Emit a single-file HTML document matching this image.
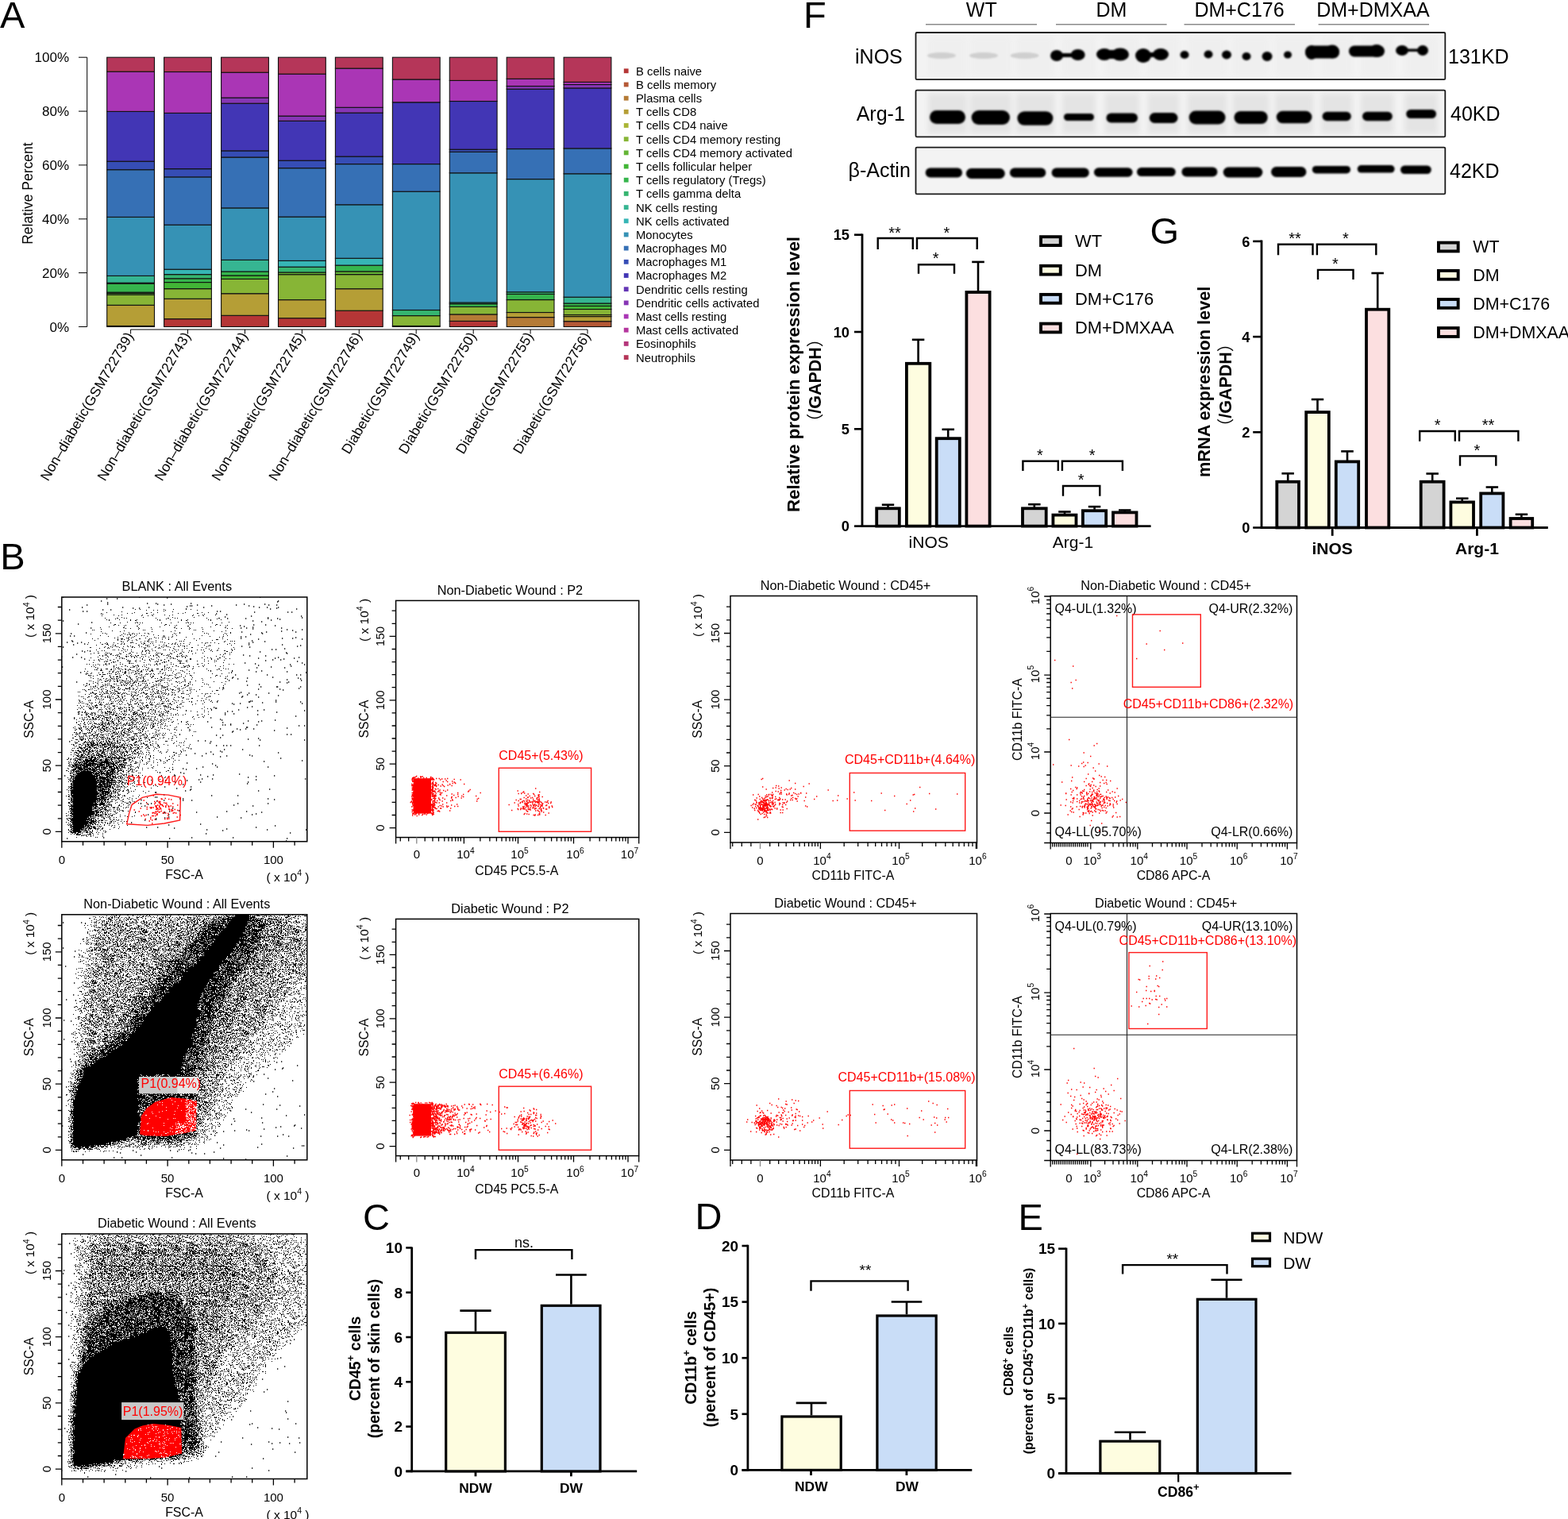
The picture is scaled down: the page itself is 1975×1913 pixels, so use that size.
<!DOCTYPE html>
<html><head><meta charset="utf-8"><title>Figure</title><style>html,body{margin:0;padding:0;background:#fff;}svg{display:block;font-family:"Liberation Sans",Arial,"Noto Sans CJK SC",sans-serif;}</style></head><body><svg width="1975" height="1913" viewBox="0 0 1975 1913"><defs><filter id="bl" x="-20%" y="-50%" width="140%" height="200%"><feGaussianBlur stdDeviation="1.3"/></filter><filter id="bl2" x="-20%" y="-50%" width="140%" height="200%"><feGaussianBlur stdDeviation="3"/></filter><clipPath id="c752"><rect x="77.8" y="752" width="309" height="307.8"/></clipPath><pattern id="p0" width="64" height="64" patternUnits="userSpaceOnUse"><path d="M6 0h1v1h-1zM1 0h1v1h-1zM56 0h1v1h-1zM16 0h1v1h-1zM14 1h1v1h-1zM25 2h1v1h-1zM41 3h1v1h-1zM6 3h1v1h-1zM62 3h1v1h-1zM38 4h1v1h-1zM56 4h2v1h-2zM32 4h1v1h-1zM1 5h1v1h-1zM63 6h1v1h-1zM25 6h1v1h-1zM15 6h1v1h-1zM51 6h1v1h-1zM0 7h1v1h-1zM58 7h1v1h-1zM50 7h1v1h-1zM21 7h1v1h-1zM52 9h1v1h-1zM25 9h1v1h-1zM31 10h1v1h-1zM19 10h2v1h-2zM28 10h1v1h-1zM4 10h1v1h-1zM17 11h1v1h-1zM44 12h1v1h-1zM22 12h1v1h-1zM6 12h1v1h-1zM36 12h1v2h-1zM9 12h1v2h-1zM42 13h2v1h-2zM44 15h1v1h-1zM32 15h1v1h-1zM11 16h1v1h-1zM23 16h1v1h-1zM45 16h1v1h-1zM48 16h1v1h-1zM51 16h1v1h-1zM42 16h1v1h-1zM16 18h2v1h-2zM47 18h1v1h-1zM15 19h1v1h-1zM21 19h1v1h-1zM30 19h1v1h-1zM28 20h1v1h-1zM44 20h2v1h-2zM9 21h1v1h-1zM27 22h2v1h-2zM62 22h1v1h-1zM46 22h1v1h-1zM36 23h1v1h-1zM47 23h1v1h-1zM30 23h1v1h-1zM63 24h1v1h-1zM46 24h1v1h-1zM52 25h1v1h-1zM54 25h1v1h-1zM28 26h1v1h-1zM13 26h1v1h-1zM63 27h1v1h-1zM23 27h1v1h-1zM34 28h1v2h-1zM1 29h1v1h-1zM4 29h1v1h-1zM27 29h1v1h-1zM6 30h1v1h-1zM50 30h1v1h-1zM29 30h1v1h-1zM25 31h1v1h-1zM62 32h1v1h-1zM30 32h1v1h-1zM25 33h1v1h-1zM8 33h1v1h-1zM20 34h1v1h-1zM42 34h1v1h-1zM24 34h1v1h-1zM52 36h1v1h-1zM24 36h1v1h-1zM59 36h1v1h-1zM16 37h3v1h-3zM40 37h1v1h-1zM30 37h1v1h-1zM11 38h1v1h-1zM55 38h1v1h-1zM36 39h1v1h-1zM39 39h1v1h-1zM34 39h1v1h-1zM27 39h1v1h-1zM26 40h1v1h-1zM47 41h1v1h-1zM3 41h1v1h-1zM14 41h1v1h-1zM5 41h1v1h-1zM9 41h1v1h-1zM62 41h1v1h-1zM33 42h1v1h-1zM39 42h1v1h-1zM2 42h1v1h-1zM19 42h1v1h-1zM46 43h1v1h-1zM30 43h1v1h-1zM57 44h1v1h-1zM1 44h1v1h-1zM35 44h1v1h-1zM8 44h1v2h-1zM6 45h1v1h-1zM43 45h1v1h-1zM4 46h1v1h-1zM38 47h1v1h-1zM49 47h2v1h-2zM62 47h1v1h-1zM3 48h1v1h-1zM19 48h1v1h-1zM41 49h1v1h-1zM39 49h1v1h-1zM7 49h1v1h-1zM35 49h1v1h-1zM0 50h1v1h-1zM61 50h1v1h-1zM56 50h1v1h-1zM18 50h1v1h-1zM10 50h1v1h-1zM36 50h1v2h-1zM17 51h1v1h-1zM46 51h1v1h-1zM41 51h1v1h-1zM9 51h1v1h-1zM26 51h2v1h-2zM49 51h1v2h-1zM11 52h1v1h-1zM1 52h1v1h-1zM29 52h2v1h-2zM35 53h1v1h-1zM33 54h1v1h-1zM63 54h1v1h-1zM54 54h1v1h-1zM27 54h1v2h-1zM50 55h1v1h-1zM33 56h1v1h-1zM25 56h1v1h-1zM21 56h1v1h-1zM1 58h1v1h-1zM24 58h1v1h-1zM16 58h1v1h-1zM26 59h1v1h-1zM9 60h1v1h-1zM20 60h2v1h-2zM5 60h1v1h-1zM62 60h1v1h-1zM33 61h1v1h-1zM28 61h1v1h-1zM10 61h1v2h-1zM18 61h1v2h-1zM1 62h1v1h-1zM42 62h1v2h-1zM14 63h1v1h-1zM26 63h1v1h-1zM48 63h1v1h-1z" fill="#000"/></pattern><pattern id="p1" width="64" height="64" patternUnits="userSpaceOnUse"><path d="M15 0h1v1h-1zM56 0h1v1h-1zM19 0h1v1h-1zM57 1h1v1h-1zM63 1h1v1h-1zM0 1h2v1h-2zM37 1h1v1h-1zM31 2h1v1h-1zM43 2h1v1h-1zM56 2h1v1h-1zM13 2h1v1h-1zM35 3h1v1h-1zM43 3h2v1h-2zM19 3h2v1h-2zM62 3h1v1h-1zM29 3h1v2h-1zM45 4h1v1h-1zM60 4h1v1h-1zM1 4h1v1h-1zM48 4h2v1h-2zM17 5h1v1h-1zM22 5h1v1h-1zM11 5h1v2h-1zM13 6h1v1h-1zM62 6h1v1h-1zM20 6h1v2h-1zM51 7h1v1h-1zM40 7h1v1h-1zM37 7h2v1h-2zM59 8h1v1h-1zM12 8h1v1h-1zM34 8h1v1h-1zM2 8h1v1h-1zM25 8h1v1h-1zM21 8h1v1h-1zM16 8h1v1h-1zM51 9h1v1h-1zM2 9h2v1h-2zM50 10h1v1h-1zM48 10h1v1h-1zM32 10h1v1h-1zM43 10h1v1h-1zM41 10h1v1h-1zM24 10h1v1h-1zM59 10h1v1h-1zM62 10h1v1h-1zM12 11h1v1h-1zM40 11h1v1h-1zM19 11h1v1h-1zM47 11h1v2h-1zM61 12h1v1h-1zM26 12h1v1h-1zM35 12h1v1h-1zM41 12h1v1h-1zM14 12h1v2h-1zM48 13h1v1h-1zM24 13h2v1h-2zM42 13h1v1h-1zM54 13h1v1h-1zM32 13h1v2h-1zM53 14h1v1h-1zM2 14h1v1h-1zM30 14h1v1h-1zM58 14h2v1h-2zM21 14h1v1h-1zM16 14h1v1h-1zM57 15h1v1h-1zM6 15h1v1h-1zM45 15h1v1h-1zM52 15h1v1h-1zM61 16h1v1h-1zM34 16h1v1h-1zM7 16h1v1h-1zM2 16h1v1h-1zM15 16h1v1h-1zM44 16h1v2h-1zM10 16h1v2h-1zM13 17h1v1h-1zM22 17h1v1h-1zM63 17h1v1h-1zM59 17h1v1h-1zM28 18h1v1h-1zM1 19h1v1h-1zM47 19h2v1h-2zM37 19h1v1h-1zM30 19h1v1h-1zM33 20h1v1h-1zM31 20h1v1h-1zM10 20h1v1h-1zM26 20h1v1h-1zM30 21h2v1h-2zM50 21h1v1h-1zM1 22h1v1h-1zM19 22h1v1h-1zM49 23h1v1h-1zM45 23h1v1h-1zM21 23h1v1h-1zM24 23h1v2h-1zM30 23h1v2h-1zM11 24h2v1h-2zM61 24h1v1h-1zM0 25h1v1h-1zM54 25h1v1h-1zM46 25h1v1h-1zM39 26h1v1h-1zM46 26h2v1h-2zM9 26h1v1h-1zM21 26h1v1h-1zM55 26h1v2h-1zM6 27h2v1h-2zM47 27h1v1h-1zM34 27h1v1h-1zM45 27h1v1h-1zM16 27h1v1h-1zM3 28h1v1h-1zM38 28h1v1h-1zM22 28h1v1h-1zM58 28h1v2h-1zM17 29h1v1h-1zM47 29h1v1h-1zM39 29h1v1h-1zM15 29h1v1h-1zM54 29h1v1h-1zM38 30h1v1h-1zM44 30h1v1h-1zM13 30h1v1h-1zM41 30h1v1h-1zM34 30h2v1h-2zM59 30h1v1h-1zM36 31h1v1h-1zM1 31h1v1h-1zM18 31h1v1h-1zM32 31h1v1h-1zM57 32h1v1h-1zM23 32h1v1h-1zM7 32h1v1h-1zM14 32h1v1h-1zM4 32h1v1h-1zM62 32h1v1h-1zM0 33h1v1h-1zM13 33h1v1h-1zM27 33h1v1h-1zM51 33h2v1h-2zM15 33h1v1h-1zM46 33h1v2h-1zM34 34h1v1h-1zM48 34h1v1h-1zM43 34h1v1h-1zM14 34h1v1h-1zM53 34h2v1h-2zM51 35h1v1h-1zM16 35h1v1h-1zM49 36h1v1h-1zM26 36h1v1h-1zM40 36h1v1h-1zM2 36h1v1h-1zM42 36h1v1h-1zM37 36h1v1h-1zM47 36h1v2h-1zM20 36h1v2h-1zM44 37h1v1h-1zM59 37h1v2h-1zM63 38h1v1h-1zM54 38h1v1h-1zM60 39h1v1h-1zM53 39h1v1h-1zM48 39h1v1h-1zM63 40h1v1h-1zM23 41h1v1h-1zM26 41h1v1h-1zM29 41h1v1h-1zM48 41h1v1h-1zM6 41h1v1h-1zM55 41h1v1h-1zM45 42h1v1h-1zM7 42h1v1h-1zM35 42h1v1h-1zM4 42h1v1h-1zM21 42h1v1h-1zM62 42h1v1h-1zM17 43h1v1h-1zM6 43h2v1h-2zM24 43h1v1h-1zM0 43h2v1h-2zM31 43h1v2h-1zM46 44h2v1h-2zM35 44h1v1h-1zM13 44h1v1h-1zM38 45h1v1h-1zM49 45h1v1h-1zM57 45h1v1h-1zM3 45h1v1h-1zM15 45h1v1h-1zM9 45h1v1h-1zM40 45h1v2h-1zM51 46h1v1h-1zM34 46h1v1h-1zM5 46h1v1h-1zM49 47h1v1h-1zM26 47h1v1h-1zM29 47h1v1h-1zM2 47h1v1h-1zM32 47h1v1h-1zM56 47h1v1h-1zM50 48h1v1h-1zM45 48h1v1h-1zM40 48h1v1h-1zM43 48h1v1h-1zM61 48h1v1h-1zM1 49h1v1h-1zM12 49h1v1h-1zM35 49h1v1h-1zM46 49h1v1h-1zM57 50h1v1h-1zM49 50h1v1h-1zM34 50h1v1h-1zM8 50h1v1h-1zM22 50h1v1h-1zM11 51h1v1h-1zM52 51h1v1h-1zM15 51h1v1h-1zM31 51h2v1h-2zM39 51h1v2h-1zM33 52h1v1h-1zM6 52h1v1h-1zM24 52h2v1h-2zM4 52h1v1h-1zM59 52h1v1h-1zM36 53h1v1h-1zM23 53h1v1h-1zM45 53h1v1h-1zM27 53h1v1h-1zM25 54h1v1h-1zM47 54h1v1h-1zM18 54h1v1h-1zM1 55h1v1h-1zM15 55h1v1h-1zM5 55h1v1h-1zM59 55h1v1h-1zM47 56h1v1h-1zM50 56h1v1h-1zM43 56h1v1h-1zM13 56h1v1h-1zM31 56h1v1h-1zM61 55h1v3h-1zM38 57h1v1h-1zM30 57h1v1h-1zM27 57h1v1h-1zM0 57h2v1h-2zM25 57h1v1h-1zM0 58h1v1h-1zM58 59h1v1h-1zM26 59h1v1h-1zM40 59h1v1h-1zM35 59h1v1h-1zM14 59h1v1h-1zM4 59h1v1h-1zM60 59h1v2h-1zM50 60h1v1h-1zM18 60h1v1h-1zM56 60h1v1h-1zM63 60h1v1h-1zM17 61h1v1h-1zM23 61h1v1h-1zM27 61h1v1h-1zM47 61h2v2h-2zM60 62h1v1h-1zM42 62h1v1h-1zM53 62h1v1h-1zM58 63h1v1h-1zM12 63h1v1h-1zM45 63h1v1h-1zM43 63h1v1h-1z" fill="#000"/></pattern><pattern id="p2" width="64" height="64" patternUnits="userSpaceOnUse"><path d="M61 0h1v1h-1zM7 0h1v1h-1zM48 0h1v1h-1zM32 0h1v1h-1zM20 0h1v1h-1zM5 0h1v1h-1zM34 0h3v1h-3zM42 0h1v1h-1zM17 1h1v1h-1zM34 1h1v1h-1zM43 1h1v1h-1zM3 1h1v1h-1zM6 1h1v1h-1zM14 1h2v1h-2zM23 2h1v1h-1zM12 2h1v1h-1zM53 2h1v1h-1zM35 2h1v1h-1zM15 2h1v1h-1zM39 3h1v1h-1zM5 3h1v1h-1zM34 3h2v1h-2zM37 3h1v1h-1zM9 3h1v2h-1zM23 4h1v1h-1zM26 4h1v1h-1zM4 4h2v1h-2zM59 4h1v1h-1zM61 5h1v1h-1zM45 5h1v1h-1zM18 5h1v1h-1zM2 5h1v1h-1zM53 5h1v1h-1zM56 5h1v1h-1zM6 5h1v1h-1zM44 6h1v1h-1zM39 6h1v1h-1zM29 6h2v1h-2zM42 6h1v1h-1zM46 6h1v2h-1zM32 7h1v1h-1zM51 7h1v1h-1zM40 7h2v1h-2zM25 7h1v1h-1zM54 7h1v1h-1zM15 6h1v3h-1zM38 8h1v1h-1zM44 8h1v1h-1zM18 8h1v1h-1zM40 8h1v1h-1zM56 8h1v1h-1zM36 8h1v1h-1zM21 8h1v1h-1zM20 9h1v1h-1zM58 9h2v1h-2zM17 10h1v1h-1zM23 10h1v1h-1zM12 10h1v1h-1zM15 10h1v1h-1zM5 10h3v1h-3zM63 10h1v2h-1zM29 11h1v1h-1zM43 11h1v1h-1zM55 11h1v1h-1zM11 11h2v1h-2zM57 11h2v1h-2zM0 12h1v1h-1zM23 12h1v1h-1zM35 12h1v1h-1zM20 12h1v1h-1zM15 12h1v1h-1zM62 12h2v1h-2zM37 12h1v1h-1zM38 13h1v1h-1zM26 13h1v1h-1zM9 13h2v1h-2zM46 13h1v1h-1zM40 14h1v1h-1zM1 14h1v2h-1zM34 15h1v1h-1zM13 15h1v1h-1zM32 15h1v1h-1zM60 15h1v1h-1zM51 15h1v1h-1zM25 15h1v1h-1zM9 15h1v1h-1zM16 15h1v1h-1zM50 16h1v1h-1zM12 16h1v1h-1zM43 16h1v1h-1zM46 16h1v1h-1zM30 16h1v1h-1zM28 17h1v1h-1zM36 17h1v1h-1zM1 17h4v1h-4zM61 17h2v1h-2zM16 17h1v1h-1zM50 18h1v1h-1zM18 18h1v1h-1zM29 18h1v1h-1zM24 18h1v1h-1zM58 18h1v1h-1zM15 18h1v1h-1zM21 18h2v1h-2zM47 18h2v1h-2zM49 19h1v1h-1zM53 19h1v1h-1zM41 19h1v1h-1zM36 19h1v1h-1zM20 19h1v1h-1zM0 19h2v1h-2zM0 20h1v1h-1zM28 20h1v1h-1zM9 20h1v1h-1zM34 20h1v1h-1zM12 21h1v1h-1zM50 21h1v1h-1zM29 21h1v1h-1zM39 21h1v1h-1zM15 21h1v1h-1zM31 21h2v1h-2zM18 22h1v1h-1zM53 22h1v1h-1zM30 22h1v1h-1zM20 22h1v1h-1zM10 22h1v1h-1zM25 22h1v1h-1zM4 22h1v1h-1zM59 22h1v1h-1zM40 23h1v1h-1zM5 23h1v1h-1zM23 24h1v1h-1zM19 24h1v1h-1zM41 24h1v1h-1zM4 24h1v1h-1zM59 24h1v1h-1zM50 25h1v1h-1zM40 25h1v1h-1zM48 25h1v1h-1zM1 25h1v1h-1zM5 25h1v1h-1zM63 25h1v1h-1zM21 25h1v1h-1zM38 26h1v1h-1zM33 26h1v1h-1zM53 26h1v1h-1zM41 26h1v1h-1zM29 26h2v1h-2zM18 27h1v1h-1zM56 27h1v1h-1zM13 27h1v1h-1zM36 27h1v1h-1zM1 27h1v1h-1zM31 27h1v1h-1zM9 27h1v1h-1zM4 27h1v1h-1zM34 28h1v1h-1zM53 28h1v1h-1zM15 28h1v1h-1zM62 28h2v1h-2zM45 28h1v2h-1zM12 29h1v1h-1zM24 29h1v1h-1zM8 29h1v1h-1zM1 29h1v1h-1zM48 29h1v2h-1zM58 30h1v1h-1zM56 30h1v1h-1zM40 30h2v1h-2zM6 30h1v2h-1zM40 31h1v1h-1zM20 31h1v1h-1zM31 31h1v1h-1zM44 31h2v1h-2zM2 31h2v1h-2zM16 31h1v1h-1zM17 32h1v1h-1zM50 32h1v1h-1zM53 32h1v1h-1zM43 32h1v1h-1zM27 32h1v1h-1zM36 32h1v1h-1zM41 33h1v1h-1zM9 33h1v1h-1zM29 33h1v1h-1zM57 33h1v1h-1zM39 34h1v1h-1zM2 34h1v1h-1zM17 34h1v2h-1zM12 35h1v1h-1zM7 35h1v1h-1zM22 35h1v1h-1zM55 35h1v1h-1zM31 35h1v1h-1zM4 35h1v1h-1zM37 35h1v1h-1zM33 34h1v3h-1zM60 36h1v1h-1zM24 36h3v1h-3zM62 36h1v1h-1zM47 36h2v1h-2zM16 36h1v1h-1zM28 37h1v1h-1zM12 37h1v1h-1zM34 37h1v1h-1zM43 37h1v1h-1zM25 37h1v1h-1zM59 37h1v2h-1zM38 38h1v1h-1zM33 38h1v1h-1zM44 38h1v1h-1zM20 38h1v1h-1zM4 38h1v1h-1zM57 39h2v1h-2zM32 39h1v1h-1zM24 39h1v1h-1zM54 39h1v1h-1zM0 40h1v1h-1zM38 40h1v1h-1zM49 40h1v1h-1zM12 40h1v1h-1zM27 40h1v1h-1zM10 40h1v1h-1zM25 40h1v1h-1zM4 40h1v1h-1zM59 40h1v1h-1zM62 40h1v1h-1zM39 41h1v1h-1zM36 41h2v1h-2zM15 41h1v1h-1zM53 41h1v1h-1zM0 42h1v1h-1zM50 42h1v1h-1zM61 42h1v1h-1zM43 42h1v1h-1zM20 42h1v1h-1zM25 42h1v1h-1zM53 42h2v1h-2zM28 42h1v2h-1zM14 43h1v1h-1zM52 43h1v1h-1zM24 43h1v1h-1zM8 44h1v1h-1zM55 44h1v1h-1zM1 44h1v1h-1zM46 44h2v1h-2zM59 44h1v1h-1zM57 44h1v2h-1zM17 44h1v2h-1zM32 45h1v1h-1zM13 45h1v1h-1zM36 45h1v1h-1zM15 45h1v1h-1zM11 46h1v1h-1zM33 46h1v1h-1zM47 46h1v1h-1zM50 46h1v1h-1zM18 46h1v1h-1zM58 46h1v1h-1zM27 46h1v1h-1zM60 46h1v1h-1zM20 46h1v1h-1zM38 46h2v1h-2zM4 46h1v1h-1zM38 47h1v1h-1zM53 47h1v1h-1zM13 47h1v1h-1zM8 47h1v1h-1zM3 47h1v1h-1zM22 47h1v1h-1zM41 47h1v1h-1zM55 47h1v1h-1zM9 48h1v1h-1zM7 48h1v1h-1zM26 48h1v1h-1zM54 48h1v2h-1zM63 49h1v1h-1zM27 49h1v1h-1zM58 50h1v1h-1zM29 50h1v1h-1zM32 50h1v1h-1zM14 50h1v1h-1zM37 50h1v1h-1zM21 50h1v1h-1zM16 50h1v1h-1zM0 51h1v1h-1zM55 51h2v1h-2zM3 51h1v1h-1zM25 51h1v1h-1zM59 51h1v1h-1zM51 51h1v2h-1zM30 52h1v1h-1zM60 52h1v1h-1zM55 52h1v1h-1zM37 52h1v1h-1zM39 53h1v1h-1zM50 53h1v1h-1zM5 53h1v1h-1zM27 53h1v1h-1zM44 54h1v1h-1zM7 54h1v1h-1zM56 54h1v1h-1zM22 54h1v1h-1zM59 54h2v1h-2zM35 54h2v1h-2zM9 54h1v1h-1zM50 55h1v1h-1zM34 55h1v1h-1zM6 55h1v1h-1zM11 55h2v1h-2zM23 55h2v1h-2zM4 55h1v1h-1zM11 56h1v1h-1zM53 56h1v1h-1zM55 56h1v1h-1zM31 56h1v1h-1zM5 56h1v1h-1zM51 56h1v1h-1zM37 56h1v1h-1zM21 56h1v1h-1zM19 56h1v2h-1zM17 57h1v1h-1zM61 57h1v1h-1zM42 57h1v1h-1zM14 57h1v1h-1zM6 57h1v1h-1zM36 57h1v1h-1zM45 57h2v1h-2zM4 57h1v1h-1zM1 57h1v2h-1zM33 58h1v1h-1zM50 58h1v1h-1zM7 58h1v1h-1zM43 58h1v1h-1zM55 58h1v1h-1zM20 58h1v1h-1zM39 58h1v1h-1zM30 58h2v1h-2zM22 58h1v2h-1zM37 58h1v2h-1zM44 59h1v1h-1zM52 59h1v1h-1zM8 59h1v1h-1zM31 59h1v1h-1zM59 59h1v1h-1zM41 59h1v2h-1zM18 60h1v1h-1zM24 60h1v1h-1zM48 60h1v1h-1zM5 60h1v1h-1zM26 60h1v2h-1zM28 61h1v1h-1zM22 61h1v1h-1zM62 61h1v1h-1zM51 61h1v2h-1zM7 62h1v1h-1zM31 62h1v1h-1zM1 62h1v1h-1zM15 62h1v1h-1zM63 62h1v1h-1zM60 62h1v2h-1zM33 63h1v1h-1zM43 63h1v1h-1zM20 63h1v1h-1zM10 63h2v1h-2zM54 63h1v1h-1z" fill="#000"/></pattern><pattern id="p3" width="64" height="64" patternUnits="userSpaceOnUse"><path d="M57 0h1v1h-1zM23 0h1v1h-1zM12 0h1v1h-1zM45 0h1v1h-1zM48 0h1v1h-1zM14 0h1v1h-1zM32 0h2v1h-2zM18 0h1v2h-1zM60 0h1v2h-1zM39 0h1v2h-1zM56 1h1v1h-1zM22 1h1v1h-1zM6 1h1v1h-1zM16 1h1v1h-1zM11 2h1v1h-1zM47 2h1v1h-1zM23 2h1v1h-1zM19 2h1v1h-1zM8 2h1v1h-1zM55 2h1v1h-1zM34 2h2v1h-2zM52 1h1v3h-1zM34 3h1v1h-1zM56 3h1v1h-1zM24 3h1v1h-1zM9 3h1v1h-1zM4 3h1v1h-1zM36 3h1v2h-1zM22 4h2v1h-2zM47 4h1v1h-1zM53 4h1v1h-1zM38 4h2v1h-2zM56 5h1v1h-1zM2 5h1v1h-1zM24 5h1v1h-1zM15 5h1v1h-1zM54 5h1v1h-1zM44 6h1v1h-1zM29 6h1v1h-1zM32 6h1v1h-1zM2 6h3v1h-3zM10 6h1v2h-1zM0 7h1v1h-1zM57 7h1v1h-1zM2 7h1v1h-1zM8 7h1v1h-1zM60 7h1v1h-1zM6 7h1v1h-1zM39 7h1v1h-1zM42 7h1v1h-1zM11 8h1v1h-1zM33 8h1v1h-1zM17 8h1v1h-1zM30 8h1v1h-1zM27 8h1v1h-1zM58 8h2v1h-2zM62 8h1v1h-1zM0 9h1v1h-1zM28 9h1v1h-1zM26 9h1v1h-1zM13 9h1v1h-1zM19 9h1v1h-1zM32 9h1v1h-1zM41 9h1v1h-1zM39 9h1v1h-1zM60 9h1v1h-1zM51 9h1v1h-1zM54 9h1v1h-1zM47 9h1v2h-1zM11 10h1v1h-1zM44 10h1v1h-1zM58 10h1v1h-1zM24 10h1v1h-1zM35 10h1v1h-1zM15 10h1v1h-1zM5 10h1v1h-1zM21 10h2v1h-2zM29 10h2v1h-2zM63 10h1v1h-1zM57 11h1v1h-1zM52 11h1v1h-1zM61 11h1v1h-1zM26 11h1v1h-1zM13 11h1v1h-1zM30 11h1v1h-1zM3 11h1v1h-1zM46 11h1v1h-1zM55 11h1v1h-1zM10 11h1v1h-1zM35 11h2v1h-2zM33 11h1v2h-1zM11 12h1v1h-1zM17 12h1v1h-1zM38 12h1v1h-1zM40 12h1v1h-1zM50 12h1v1h-1zM57 12h3v1h-3zM44 12h2v1h-2zM23 12h1v2h-1zM14 12h1v2h-1zM0 13h1v1h-1zM44 13h1v1h-1zM60 13h2v1h-2zM7 13h1v1h-1zM56 13h1v1h-1zM20 13h1v1h-1zM42 13h1v1h-1zM32 13h2v1h-2zM18 14h1v1h-1zM43 14h1v1h-1zM5 14h1v1h-1zM51 14h1v1h-1zM13 14h2v1h-2zM21 14h1v1h-1zM11 15h1v1h-1zM38 15h1v1h-1zM17 15h1v1h-1zM2 15h1v1h-1zM25 15h1v1h-1zM42 15h1v1h-1zM12 16h1v1h-1zM7 16h1v1h-1zM45 16h1v1h-1zM1 16h1v1h-1zM15 16h1v1h-1zM10 16h1v1h-1zM38 16h2v1h-2zM61 16h2v1h-2zM34 16h2v1h-2zM58 16h2v1h-2zM59 17h1v1h-1zM23 17h1v1h-1zM2 17h1v1h-1zM36 17h1v1h-1zM39 17h1v1h-1zM52 17h2v1h-2zM21 17h1v1h-1zM57 17h1v2h-1zM28 18h1v1h-1zM47 18h1v1h-1zM26 18h1v1h-1zM61 18h1v1h-1zM10 18h1v1h-1zM39 19h1v1h-1zM17 19h1v1h-1zM52 19h2v1h-2zM42 19h3v1h-3zM49 20h1v1h-1zM1 20h2v1h-2zM53 20h1v1h-1zM29 20h1v1h-1zM24 20h1v1h-1zM35 20h1v1h-1zM40 20h1v1h-1zM63 20h1v1h-1zM10 20h2v1h-2zM11 21h1v1h-1zM26 21h1v1h-1zM22 21h1v1h-1zM18 21h2v1h-2zM56 21h2v1h-2zM36 21h2v1h-2zM59 21h1v2h-1zM53 22h1v1h-1zM2 22h1v1h-1zM32 22h1v1h-1zM13 22h1v1h-1zM43 22h1v1h-1zM55 22h1v1h-1zM15 22h1v1h-1zM17 22h2v1h-2zM46 21h1v3h-1zM24 23h1v1h-1zM8 23h1v1h-1zM31 23h1v1h-1zM5 23h1v1h-1zM62 23h1v1h-1zM61 24h1v1h-1zM40 24h1v1h-1zM48 24h1v1h-1zM14 24h1v1h-1zM22 24h1v1h-1zM20 24h1v1h-1zM11 24h2v1h-2zM7 24h2v1h-2zM63 24h1v1h-1zM41 25h1v1h-1zM39 25h1v1h-1zM12 25h1v1h-1zM29 25h1v1h-1zM42 26h1v1h-1zM20 26h1v1h-1zM4 26h1v1h-1zM59 26h1v1h-1zM28 26h1v2h-1zM32 26h1v2h-1zM52 27h1v1h-1zM15 27h1v1h-1zM37 27h1v1h-1zM21 27h1v1h-1zM44 28h1v1h-1zM3 28h1v1h-1zM22 28h1v1h-1zM41 28h1v1h-1zM38 28h2v1h-2zM7 28h2v1h-2zM25 28h1v1h-1zM58 28h2v1h-2zM10 27h1v3h-1zM50 28h1v2h-1zM45 29h1v1h-1zM29 29h1v1h-1zM19 29h1v1h-1zM23 29h2v1h-2zM21 29h1v1h-1zM5 28h1v3h-1zM0 30h1v1h-1zM12 30h1v1h-1zM24 30h1v1h-1zM32 30h1v1h-1zM3 30h1v1h-1zM59 30h1v1h-1zM54 30h1v1h-1zM47 31h1v1h-1zM23 31h1v1h-1zM45 31h1v1h-1zM56 31h1v1h-1zM61 31h1v1h-1zM30 31h1v1h-1zM41 31h1v1h-1zM20 31h1v1h-1zM33 32h1v1h-1zM55 32h2v1h-2zM50 32h1v1h-1zM2 32h1v1h-1zM46 32h1v1h-1zM10 32h1v1h-1zM37 32h2v1h-2zM16 32h1v1h-1zM18 32h1v2h-1zM53 32h1v2h-1zM11 33h1v1h-1zM38 33h1v1h-1zM28 33h1v1h-1zM49 33h1v1h-1zM34 33h1v1h-1zM45 33h1v1h-1zM62 33h2v1h-2zM21 33h1v1h-1zM47 34h1v1h-1zM50 34h1v1h-1zM61 34h1v1h-1zM32 34h1v1h-1zM6 34h1v1h-1zM36 34h1v1h-1zM25 34h1v1h-1zM10 34h1v1h-1zM3 34h2v1h-2zM42 33h1v3h-1zM57 34h1v2h-1zM14 34h1v2h-1zM55 34h1v2h-1zM44 35h1v1h-1zM52 35h1v1h-1zM34 35h1v1h-1zM27 35h1v1h-1zM46 35h1v1h-1zM31 35h1v1h-1zM18 35h2v1h-2zM12 35h1v2h-1zM18 36h1v1h-1zM39 36h2v1h-2zM8 36h1v1h-1zM50 36h1v1h-1zM56 36h1v1h-1zM60 36h1v1h-1zM26 36h2v1h-2zM21 36h1v1h-1zM35 36h1v2h-1zM45 36h1v2h-1zM0 37h1v1h-1zM47 37h1v1h-1zM32 37h1v1h-1zM20 37h1v1h-1zM9 37h1v1h-1zM11 38h1v1h-1zM23 38h1v1h-1zM58 38h1v1h-1zM61 38h1v1h-1zM14 38h1v1h-1zM30 38h2v1h-2zM57 39h1v1h-1zM34 39h1v1h-1zM60 39h1v1h-1zM23 40h1v1h-1zM18 40h1v1h-1zM8 40h1v1h-1zM16 40h1v1h-1zM50 40h1v2h-1zM10 40h1v2h-1zM63 40h1v2h-1zM0 41h1v1h-1zM28 41h1v1h-1zM34 41h1v1h-1zM61 41h1v1h-1zM20 41h1v1h-1zM7 41h2v1h-2zM52 41h1v2h-1zM32 41h1v2h-1zM26 42h1v1h-1zM48 42h1v1h-1zM28 42h2v1h-2zM61 42h2v1h-2zM19 42h2v1h-2zM12 42h1v2h-1zM23 43h1v1h-1zM2 43h1v1h-1zM45 43h1v1h-1zM53 43h1v1h-1zM6 43h1v1h-1zM57 43h2v1h-2zM16 43h1v1h-1zM38 44h1v1h-1zM56 44h1v1h-1zM35 44h1v1h-1zM30 44h1v1h-1zM63 44h1v1h-1zM5 44h1v1h-1zM25 44h1v1h-1zM58 44h1v2h-1zM41 44h1v2h-1zM11 45h1v1h-1zM33 45h1v1h-1zM17 45h1v1h-1zM45 45h1v1h-1zM3 45h1v1h-1zM14 45h1v1h-1zM31 45h1v1h-1zM54 45h2v1h-2zM50 45h2v1h-2zM61 45h2v1h-2zM47 45h2v1h-2zM9 45h1v1h-1zM37 45h1v1h-1zM50 46h1v1h-1zM29 46h1v1h-1zM46 46h1v1h-1zM59 46h1v1h-1zM54 46h1v1h-1zM7 47h1v1h-1zM18 47h1v1h-1zM13 47h1v1h-1zM26 47h1v1h-1zM39 47h1v1h-1zM10 47h1v1h-1zM60 47h1v2h-1zM57 48h1v1h-1zM35 48h1v1h-1zM43 48h1v1h-1zM3 48h1v1h-1zM24 48h1v1h-1zM9 48h1v1h-1zM47 49h1v1h-1zM26 49h1v1h-1zM13 49h1v1h-1zM8 49h1v1h-1zM20 49h1v1h-1zM59 49h1v1h-1zM39 50h1v1h-1zM10 50h1v1h-1zM36 50h1v2h-1zM49 51h1v1h-1zM28 51h1v1h-1zM56 51h1v1h-1zM30 51h1v1h-1zM51 51h1v1h-1zM19 51h2v1h-2zM25 51h1v1h-1zM4 51h1v1h-1zM62 51h1v1h-1zM46 51h1v2h-1zM38 52h1v1h-1zM29 52h1v1h-1zM2 52h1v1h-1zM13 52h1v1h-1zM48 52h1v1h-1zM5 52h1v1h-1zM61 52h2v1h-2zM52 53h1v1h-1zM22 53h1v1h-1zM6 53h1v1h-1zM41 53h1v1h-1zM47 53h2v1h-2zM11 54h1v1h-1zM44 54h1v1h-1zM56 54h1v1h-1zM27 54h4v1h-4zM21 54h2v1h-2zM36 54h2v1h-2zM9 54h1v1h-1zM54 54h1v1h-1zM30 55h2v1h-2zM46 55h1v1h-1zM14 54h1v3h-1zM63 55h1v2h-1zM11 56h1v1h-1zM35 56h1v1h-1zM20 56h1v1h-1zM37 56h2v1h-2zM57 57h1v1h-1zM17 57h1v1h-1zM46 57h1v1h-1zM41 57h1v1h-1zM19 57h1v1h-1zM38 57h1v2h-1zM51 57h1v2h-1zM60 58h2v1h-2zM3 58h1v1h-1zM6 58h1v1h-1zM20 58h1v1h-1zM36 58h1v1h-1zM15 58h3v1h-3zM30 58h2v1h-2zM44 59h1v1h-1zM34 59h1v1h-1zM19 59h1v1h-1zM31 59h1v1h-1zM39 59h1v1h-1zM54 59h3v1h-3zM62 59h1v1h-1zM16 59h1v1h-1zM24 59h1v2h-1zM50 60h1v1h-1zM7 60h1v1h-1zM60 60h1v1h-1zM20 60h1v1h-1zM15 60h1v1h-1zM36 60h2v1h-2zM11 61h1v1h-1zM33 61h1v1h-1zM29 61h1v1h-1zM2 61h1v1h-1zM27 61h1v1h-1zM41 61h1v1h-1zM16 61h1v2h-1zM44 62h1v1h-1zM28 62h1v1h-1zM58 62h1v1h-1zM48 62h1v1h-1zM24 62h1v1h-1zM35 62h1v1h-1zM6 62h1v1h-1zM1 62h1v1h-1zM32 62h2v1h-2zM53 62h1v2h-1zM55 62h1v2h-1zM17 63h1v1h-1zM2 63h1v1h-1zM19 63h1v1h-1zM14 63h1v1h-1zM22 63h1v1h-1zM27 63h1v1h-1zM36 63h1v1h-1zM25 63h1v1h-1z" fill="#000"/></pattern><pattern id="p4" width="64" height="64" patternUnits="userSpaceOnUse"><path d="M11 0h1v1h-1zM7 0h1v1h-1zM18 0h1v1h-1zM35 0h1v1h-1zM43 0h1v1h-1zM15 0h1v1h-1zM63 0h1v1h-1zM59 0h1v1h-1zM3 0h1v2h-1zM38 1h1v1h-1zM45 1h1v1h-1zM53 1h1v1h-1zM32 1h1v1h-1zM14 1h1v1h-1zM51 1h1v1h-1zM42 1h2v1h-2zM25 1h1v1h-1zM9 1h1v1h-1zM21 1h1v1h-1zM58 1h1v2h-1zM55 1h1v2h-1zM11 2h1v1h-1zM44 2h1v1h-1zM47 2h1v1h-1zM34 2h1v1h-1zM61 2h1v1h-1zM13 2h1v1h-1zM51 2h2v1h-2zM22 2h1v1h-1zM1 2h1v1h-1zM16 2h1v2h-1zM18 3h1v1h-1zM2 3h1v1h-1zM30 3h1v1h-1zM63 3h1v1h-1zM44 3h3v1h-3zM5 3h1v1h-1zM49 3h2v1h-2zM12 3h2v1h-2zM34 3h2v1h-2zM25 3h1v1h-1zM9 3h1v1h-1zM20 3h2v1h-2zM38 4h1v1h-1zM44 4h1v1h-1zM28 4h1v1h-1zM34 4h1v1h-1zM13 4h1v1h-1zM31 4h1v1h-1zM51 4h1v1h-1zM8 4h2v1h-2zM21 4h1v1h-1zM55 4h1v2h-1zM47 5h1v1h-1zM12 5h1v1h-1zM45 5h1v1h-1zM27 5h1v1h-1zM8 5h1v1h-1zM39 5h1v1h-1zM35 5h2v1h-2zM10 5h1v2h-1zM59 5h1v2h-1zM0 6h1v1h-1zM57 6h1v1h-1zM24 6h1v1h-1zM51 6h2v1h-2zM19 6h3v1h-3zM47 6h2v1h-2zM62 6h1v1h-1zM3 6h1v2h-1zM38 7h1v1h-1zM44 7h1v1h-1zM52 7h1v1h-1zM12 7h1v1h-1zM48 7h1v1h-1zM19 7h1v1h-1zM27 7h1v1h-1zM42 7h1v1h-1zM16 7h1v1h-1zM55 8h2v1h-2zM50 8h1v1h-1zM2 8h1v1h-1zM21 8h2v1h-2zM36 8h3v1h-3zM25 8h1v1h-1zM59 8h1v1h-1zM62 8h1v1h-1zM28 9h1v1h-1zM58 9h1v1h-1zM61 9h1v1h-1zM40 9h1v1h-1zM46 9h1v1h-1zM6 9h1v1h-1zM31 9h1v1h-1zM36 9h1v1h-1zM49 9h2v1h-2zM42 9h1v1h-1zM21 9h1v1h-1zM17 10h1v1h-1zM26 10h1v1h-1zM48 10h1v1h-1zM32 10h1v1h-1zM35 10h1v1h-1zM55 10h1v1h-1zM51 10h1v1h-1zM38 10h2v1h-2zM2 10h2v1h-2zM41 10h1v2h-1zM60 10h1v2h-1zM10 10h1v2h-1zM62 10h1v2h-1zM0 11h1v1h-1zM24 11h1v1h-1zM27 11h1v1h-1zM43 11h1v1h-1zM5 11h1v1h-1zM14 11h3v1h-3zM33 11h2v1h-2zM38 11h1v2h-1zM49 11h1v2h-1zM33 12h1v1h-1zM44 12h1v1h-1zM23 12h1v1h-1zM7 12h1v1h-1zM29 12h1v1h-1zM19 12h1v1h-1zM55 12h1v1h-1zM1 12h1v1h-1zM51 12h1v1h-1zM11 12h2v1h-2zM14 12h1v2h-1zM0 13h1v1h-1zM46 13h1v1h-1zM9 13h2v1h-2zM54 13h2v1h-2zM49 13h2v1h-2zM19 13h2v1h-2zM29 13h2v2h-2zM42 13h1v2h-1zM44 14h1v1h-1zM7 14h1v1h-1zM26 14h1v1h-1zM34 14h1v1h-1zM48 14h1v1h-1zM50 14h1v1h-1zM39 14h1v1h-1zM15 14h1v1h-1zM58 14h1v1h-1zM62 14h1v1h-1zM54 14h1v1h-1zM12 14h1v2h-1zM3 14h1v2h-1zM55 15h2v1h-2zM23 15h1v1h-1zM6 15h1v1h-1zM28 15h3v1h-3zM0 15h2v1h-2zM37 15h1v1h-1zM58 16h1v1h-1zM34 16h1v1h-1zM29 16h1v1h-1zM56 16h1v1h-1zM42 16h3v1h-3zM22 16h1v1h-1zM20 16h1v1h-1zM1 16h1v1h-1zM46 16h2v1h-2zM62 16h1v1h-1zM0 17h1v1h-1zM57 17h1v1h-1zM61 17h1v1h-1zM27 17h1v1h-1zM14 17h1v1h-1zM6 17h1v1h-1zM41 17h1v1h-1zM55 17h1v1h-1zM17 17h2v1h-2zM50 17h1v2h-1zM48 18h1v1h-1zM24 18h1v1h-1zM22 18h1v1h-1zM31 18h1v1h-1zM0 18h3v1h-3zM9 18h1v1h-1zM44 19h1v1h-1zM61 19h1v1h-1zM32 19h1v1h-1zM19 19h1v1h-1zM8 19h1v1h-1zM35 19h1v1h-1zM10 19h1v1h-1zM0 19h2v1h-2zM54 19h1v1h-1zM0 20h1v1h-1zM22 20h2v1h-2zM50 20h1v1h-1zM7 20h1v1h-1zM34 20h1v1h-1zM43 20h1v1h-1zM18 20h3v1h-3zM14 20h2v1h-2zM11 20h1v2h-1zM23 21h1v1h-1zM48 21h1v1h-1zM46 21h1v1h-1zM62 21h2v1h-2zM35 21h2v1h-2zM52 20h1v3h-1zM49 22h1v1h-1zM44 22h1v1h-1zM3 22h1v1h-1zM6 22h1v1h-1zM15 22h1v1h-1zM36 22h1v1h-1zM12 22h2v1h-2zM18 22h2v1h-2zM21 22h1v1h-1zM31 22h1v2h-1zM45 23h1v1h-1zM53 23h1v1h-1zM14 23h1v1h-1zM10 23h1v1h-1zM37 23h2v1h-2zM16 23h1v1h-1zM19 23h1v2h-1zM11 24h1v1h-1zM44 24h1v1h-1zM52 24h1v1h-1zM58 24h1v1h-1zM26 24h1v1h-1zM24 24h1v1h-1zM22 24h1v1h-1zM8 24h1v1h-1zM36 24h1v1h-1zM33 25h1v1h-1zM6 25h2v1h-2zM45 25h1v1h-1zM42 25h1v1h-1zM51 25h2v1h-2zM31 25h1v1h-1zM15 25h1v1h-1zM38 25h2v1h-2zM4 25h1v1h-1zM26 25h2v1h-2zM55 25h1v2h-1zM10 25h1v2h-1zM19 25h2v2h-2zM49 26h1v1h-1zM47 26h1v1h-1zM53 26h1v1h-1zM41 26h1v1h-1zM51 26h1v1h-1zM4 26h2v1h-2zM35 26h2v1h-2zM16 26h1v1h-1zM29 25h1v3h-1zM24 26h1v2h-1zM43 26h1v2h-1zM0 27h1v1h-1zM26 27h1v1h-1zM32 27h1v1h-1zM34 27h1v1h-1zM40 27h2v1h-2zM33 28h1v1h-1zM23 28h1v1h-1zM53 28h1v1h-1zM40 28h1v1h-1zM56 28h1v1h-1zM60 28h1v1h-1zM36 28h1v1h-1zM51 28h1v1h-1zM30 28h2v1h-2zM9 28h1v1h-1zM46 28h1v2h-1zM18 29h1v1h-1zM7 29h1v1h-1zM32 29h1v1h-1zM27 29h1v1h-1zM55 29h1v1h-1zM38 29h2v1h-2zM4 29h1v1h-1zM15 29h2v1h-2zM49 30h1v1h-1zM35 30h1v1h-1zM30 30h1v1h-1zM1 30h1v1h-1zM5 30h1v1h-1zM24 30h2v1h-2zM9 30h1v1h-1zM42 30h1v1h-1zM57 30h1v2h-1zM28 30h1v2h-1zM7 31h1v1h-1zM2 31h1v1h-1zM48 31h1v1h-1zM19 31h1v1h-1zM37 31h3v1h-3zM46 31h1v1h-1zM31 31h1v1h-1zM55 31h1v1h-1zM11 31h2v1h-2zM25 31h1v1h-1zM4 31h1v1h-1zM21 31h1v1h-1zM44 32h1v1h-1zM12 32h1v1h-1zM14 32h1v1h-1zM0 32h2v1h-2zM63 32h1v1h-1zM37 32h1v1h-1zM54 32h1v1h-1zM11 33h1v1h-1zM58 33h1v1h-1zM53 33h1v1h-1zM56 33h1v1h-1zM35 33h1v1h-1zM5 33h1v1h-1zM15 33h2v1h-2zM62 33h1v1h-1zM13 33h1v2h-1zM21 33h1v2h-1zM0 34h1v1h-1zM52 34h1v1h-1zM45 34h1v1h-1zM30 34h1v1h-1zM39 34h1v1h-1zM15 34h1v1h-1zM54 34h2v1h-2zM34 34h2v1h-2zM11 35h1v1h-1zM49 35h1v1h-1zM23 35h1v1h-1zM30 35h4v1h-4zM2 35h1v1h-1zM40 35h1v1h-1zM20 35h1v1h-1zM59 35h2v1h-2zM35 35h1v2h-1zM51 35h1v2h-1zM0 36h1v1h-1zM26 36h1v1h-1zM39 36h1v1h-1zM5 36h1v1h-1zM21 36h2v1h-2zM43 36h2v1h-2zM63 36h1v1h-1zM28 36h1v2h-1zM16 36h1v2h-1zM57 37h1v1h-1zM47 37h1v1h-1zM7 37h1v1h-1zM50 37h1v1h-1zM13 37h1v1h-1zM55 37h1v1h-1zM42 37h1v1h-1zM6 38h2v1h-2zM34 38h1v1h-1zM10 38h1v1h-1zM17 38h3v1h-3zM0 38h2v1h-2zM11 39h1v1h-1zM52 39h1v1h-1zM61 39h1v1h-1zM43 39h1v1h-1zM19 39h1v1h-1zM41 39h1v1h-1zM46 39h1v1h-1zM39 39h1v1h-1zM5 39h1v1h-1zM37 39h1v1h-1zM16 39h1v1h-1zM6 40h2v1h-2zM12 40h1v1h-1zM23 40h1v1h-1zM2 40h1v1h-1zM29 40h1v1h-1zM27 40h1v1h-1zM14 40h1v1h-1zM42 40h1v1h-1zM50 40h1v1h-1zM63 40h1v1h-1zM52 40h2v1h-2zM20 40h2v1h-2zM11 41h1v1h-1zM49 41h1v1h-1zM17 41h1v1h-1zM28 41h1v1h-1zM26 41h1v1h-1zM43 41h1v1h-1zM8 41h1v1h-1zM6 41h1v1h-1zM31 41h1v1h-1zM15 41h1v1h-1zM20 41h3v1h-3zM56 41h2v1h-2zM3 41h2v1h-2zM37 41h1v1h-1zM54 41h1v1h-1zM38 42h1v1h-1zM55 42h2v1h-2zM34 42h1v1h-1zM32 42h1v1h-1zM13 42h1v1h-1zM46 42h1v1h-1zM1 42h1v1h-1zM61 42h2v1h-2zM16 42h1v1h-1zM25 42h1v2h-1zM0 43h1v1h-1zM45 43h1v1h-1zM19 43h1v1h-1zM41 43h2v1h-2zM9 43h1v1h-1zM37 43h1v2h-1zM44 44h1v1h-1zM12 44h1v1h-1zM39 44h2v1h-2zM51 44h1v1h-1zM28 44h2v1h-2zM57 44h2v1h-2zM20 44h2v1h-2zM63 44h1v2h-1zM59 45h1v1h-1zM48 45h1v1h-1zM56 45h1v1h-1zM14 45h1v1h-1zM1 45h1v1h-1zM25 45h2v1h-2zM9 45h2v1h-2zM21 45h1v1h-1zM7 44h1v3h-1zM39 45h1v2h-1zM4 45h1v2h-1zM11 46h1v1h-1zM22 46h1v1h-1zM55 46h1v1h-1zM20 46h1v1h-1zM9 46h1v1h-1zM57 46h1v2h-1zM26 46h1v2h-1zM29 47h1v1h-1zM40 47h1v1h-1zM14 47h1v1h-1zM60 47h1v1h-1zM10 47h1v1h-1zM44 47h2v1h-2zM17 47h2v1h-2zM63 47h1v1h-1zM45 48h1v1h-1zM2 48h1v1h-1zM41 48h1v1h-1zM23 48h2v1h-2zM37 48h1v1h-1zM59 48h1v1h-1zM11 48h1v2h-1zM27 49h2v1h-2zM61 49h1v1h-1zM56 49h1v1h-1zM43 49h1v1h-1zM36 49h1v1h-1zM1 49h1v1h-1zM39 49h1v1h-1zM63 49h1v1h-1zM21 49h1v1h-1zM16 49h1v1h-1zM49 49h1v2h-1zM38 50h1v1h-1zM47 50h1v1h-1zM19 50h1v1h-1zM31 50h1v1h-1zM10 50h1v1h-1zM23 50h2v1h-2zM17 51h1v1h-1zM12 51h1v1h-1zM14 51h1v1h-1zM22 51h1v1h-1zM25 51h1v1h-1zM42 51h1v1h-1zM61 51h1v2h-1zM36 51h1v2h-1zM45 52h1v1h-1zM26 52h1v1h-1zM2 52h1v1h-1zM48 52h1v1h-1zM56 52h1v1h-1zM63 52h1v1h-1zM21 52h1v1h-1zM44 53h1v1h-1zM32 53h1v1h-1zM8 53h1v1h-1zM60 53h1v1h-1zM50 53h3v1h-3zM12 53h3v1h-3zM33 54h1v1h-1zM19 54h1v1h-1zM22 54h1v1h-1zM6 54h1v1h-1zM36 54h1v1h-1zM11 54h2v1h-2zM41 54h3v1h-3zM62 54h2v1h-2zM25 54h1v1h-1zM46 54h1v2h-1zM0 55h1v1h-1zM57 55h1v1h-1zM23 55h1v1h-1zM7 55h1v1h-1zM29 55h1v1h-1zM5 55h1v1h-1zM51 55h1v1h-1zM61 55h2v1h-2zM34 55h2v1h-2zM9 55h1v1h-1zM37 55h1v1h-1zM34 56h1v1h-1zM48 56h1v1h-1zM3 56h1v1h-1zM14 56h1v1h-1zM55 56h4v1h-4zM63 56h1v1h-1zM16 56h1v1h-1zM52 57h1v1h-1zM45 57h1v1h-1zM19 57h1v1h-1zM37 57h2v1h-2zM14 57h3v1h-3zM9 57h1v1h-1zM4 57h1v1h-1zM56 57h1v2h-1zM47 58h1v1h-1zM58 58h1v1h-1zM7 58h1v1h-1zM34 58h1v1h-1zM3 58h1v1h-1zM53 58h2v1h-2zM21 58h1v1h-1zM49 58h1v2h-1zM39 59h2v1h-2zM15 59h1v1h-1zM51 59h1v1h-1zM57 59h2v1h-2zM63 59h1v1h-1zM29 59h1v2h-1zM53 60h1v1h-1zM31 60h1v1h-1zM10 60h1v1h-1zM5 60h1v1h-1zM48 60h3v1h-3zM26 60h1v2h-1zM17 61h1v1h-1zM32 61h1v1h-1zM35 61h1v1h-1zM15 61h1v1h-1zM50 61h2v1h-2zM61 61h2v1h-2zM1 61h1v2h-1zM19 62h1v1h-1zM60 62h1v1h-1zM63 62h1v1h-1zM30 62h2v1h-2zM22 62h3v1h-3zM16 62h1v1h-1zM3 62h1v2h-1zM28 63h1v1h-1zM26 63h1v1h-1zM35 63h1v1h-1zM8 63h1v1h-1zM42 63h2v1h-2zM31 63h2v1h-2zM21 63h1v1h-1z" fill="#000"/></pattern><pattern id="p5" width="64" height="64" patternUnits="userSpaceOnUse"><path d="M47 0h1v1h-1zM34 0h1v1h-1zM13 0h1v1h-1zM49 0h3v1h-3zM18 0h2v1h-2zM63 0h1v1h-1zM9 0h1v1h-1zM1 0h3v1h-3zM59 0h1v1h-1zM29 0h1v2h-1zM52 1h1v1h-1zM17 1h1v1h-1zM8 1h1v1h-1zM55 1h1v1h-1zM41 1h3v1h-3zM20 1h2v1h-2zM5 1h2v1h-2zM36 0h1v3h-1zM12 2h1v1h-1zM1 2h2v1h-2zM39 2h2v1h-2zM24 2h1v1h-1zM43 2h1v1h-1zM14 2h1v1h-1zM5 2h1v1h-1zM26 2h2v1h-2zM55 3h2v1h-2zM7 3h1v1h-1zM20 3h1v1h-1zM51 3h1v1h-1zM47 3h2v1h-2zM33 3h2v1h-2zM36 3h2v1h-2zM28 3h1v2h-1zM9 3h1v2h-1zM0 4h1v1h-1zM33 4h1v1h-1zM52 4h1v1h-1zM18 4h1v1h-1zM48 4h1v1h-1zM58 4h1v1h-1zM44 4h2v1h-2zM25 4h1v1h-1zM42 4h1v1h-1zM23 5h1v1h-1zM45 5h1v1h-1zM40 5h1v1h-1zM19 5h1v1h-1zM6 5h1v1h-1zM55 5h1v1h-1zM32 5h2v1h-2zM62 5h1v1h-1zM36 5h2v1h-2zM8 5h5v1h-5zM16 5h1v1h-1zM33 6h1v1h-1zM61 6h1v1h-1zM18 6h1v1h-1zM29 6h1v1h-1zM27 6h1v1h-1zM22 6h1v1h-1zM36 6h1v1h-1zM46 6h1v1h-1zM41 6h3v1h-3zM10 6h2v1h-2zM31 6h1v2h-1zM43 7h1v1h-1zM11 7h3v1h-3zM2 7h2v1h-2zM22 7h3v1h-3zM59 7h1v1h-1zM8 7h1v2h-1zM52 7h2v2h-2zM57 8h1v1h-1zM12 8h1v1h-1zM23 8h1v1h-1zM47 8h1v1h-1zM19 8h1v1h-1zM39 8h1v1h-1zM0 7h1v3h-1zM63 8h1v2h-1zM10 8h1v2h-1zM33 9h1v1h-1zM52 9h1v1h-1zM46 9h1v1h-1zM6 9h1v1h-1zM20 9h1v1h-1zM55 9h4v1h-4zM4 9h1v1h-1zM17 7h1v4h-1zM11 10h1v1h-1zM45 10h1v1h-1zM40 10h1v1h-1zM35 10h1v1h-1zM8 10h1v1h-1zM48 10h1v1h-1zM31 10h1v1h-1zM51 10h2v1h-2zM62 10h2v1h-2zM19 10h2v1h-2zM14 9h1v3h-1zM57 11h1v1h-1zM36 11h4v1h-4zM42 11h1v1h-1zM22 11h1v1h-1zM55 11h1v1h-1zM60 11h1v1h-1zM25 10h1v3h-1zM33 12h1v1h-1zM47 12h1v1h-1zM58 12h1v1h-1zM61 12h1v1h-1zM41 12h1v1h-1zM51 12h1v1h-1zM53 12h2v1h-2zM15 12h2v1h-2zM4 11h1v3h-1zM50 13h1v1h-1zM42 13h1v1h-1zM31 13h1v1h-1zM34 13h2v1h-2zM56 13h2v1h-2zM46 13h2v1h-2zM24 13h1v2h-1zM38 14h1v1h-1zM33 14h1v1h-1zM50 14h4v1h-4zM48 14h1v1h-1zM13 14h1v1h-1zM35 14h1v1h-1zM18 14h2v1h-2zM62 14h2v1h-2zM57 15h1v1h-1zM52 15h1v1h-1zM60 15h2v1h-2zM27 15h1v1h-1zM41 15h1v1h-1zM54 15h2v1h-2zM5 15h2v1h-2zM8 15h2v1h-2zM21 15h1v1h-1zM30 15h2v1h-2zM34 15h1v2h-1zM27 16h2v1h-2zM24 16h1v1h-1zM6 16h1v1h-1zM31 16h1v1h-1zM36 16h1v1h-1zM42 16h1v1h-1zM63 15h1v3h-1zM57 17h1v1h-1zM33 17h1v1h-1zM47 17h1v1h-1zM43 17h1v1h-1zM3 17h1v1h-1zM55 17h1v1h-1zM60 17h1v1h-1zM50 17h2v1h-2zM45 18h1v1h-1zM29 18h1v1h-1zM35 18h1v1h-1zM40 18h1v1h-1zM1 18h1v1h-1zM25 18h1v1h-1zM20 18h2v1h-2zM37 18h1v1h-1zM26 19h1v1h-1zM18 19h1v1h-1zM2 19h2v1h-2zM42 19h1v1h-1zM53 19h2v1h-2zM48 19h2v1h-2zM8 18h1v3h-1zM18 20h4v1h-4zM28 20h1v1h-1zM52 20h1v1h-1zM48 20h1v1h-1zM14 20h1v1h-1zM37 20h2v1h-2zM33 20h2v1h-2zM56 20h2v1h-2zM43 20h2v1h-2zM24 20h2v2h-2zM38 21h1v1h-1zM17 21h1v1h-1zM47 21h1v1h-1zM56 21h1v1h-1zM40 21h1v1h-1zM32 21h1v1h-1zM27 21h1v1h-1zM51 21h1v1h-1zM21 21h2v1h-2zM2 21h2v1h-2zM62 21h1v1h-1zM33 22h1v1h-1zM23 22h1v1h-1zM18 22h1v1h-1zM41 22h4v1h-4zM46 22h1v1h-1zM50 22h1v1h-1zM58 22h1v1h-1zM31 22h1v1h-1zM61 22h1v1h-1zM7 22h3v1h-3zM11 22h2v1h-2zM4 22h1v1h-1zM37 22h1v1h-1zM29 22h1v2h-1zM49 23h1v1h-1zM47 23h1v1h-1zM45 23h1v1h-1zM14 23h1v1h-1zM20 23h1v1h-1zM38 23h2v1h-2zM31 23h3v1h-3zM24 23h2v1h-2zM63 23h1v1h-1zM9 23h1v1h-1zM16 22h1v3h-1zM3 23h1v2h-1zM0 24h1v1h-1zM30 24h1v1h-1zM22 24h1v1h-1zM39 24h1v1h-1zM46 24h1v1h-1zM5 24h3v1h-3zM19 24h2v1h-2zM26 24h2v1h-2zM57 24h1v2h-1zM32 24h1v2h-1zM60 24h1v2h-1zM49 25h1v1h-1zM44 25h1v1h-1zM55 25h1v1h-1zM25 25h2v1h-2zM10 25h1v1h-1zM37 25h1v1h-1zM21 25h1v1h-1zM62 25h1v1h-1zM53 25h1v2h-1zM15 26h1v1h-1zM5 26h1v1h-1zM49 26h2v1h-2zM31 26h3v1h-3zM43 26h2v1h-2zM17 25h1v3h-1zM11 26h1v2h-1zM25 26h1v2h-1zM49 27h1v1h-1zM45 27h1v1h-1zM40 27h1v1h-1zM55 27h1v1h-1zM63 27h1v1h-1zM28 27h2v1h-2zM13 27h2v1h-2zM21 27h1v1h-1zM36 26h1v3h-1zM47 28h1v1h-1zM26 28h1v1h-1zM29 28h1v1h-1zM5 28h1v1h-1zM33 28h2v1h-2zM53 28h2v1h-2zM10 28h2v1h-2zM0 27h1v3h-1zM31 27h1v3h-1zM38 29h1v1h-1zM17 29h1v1h-1zM12 29h1v1h-1zM28 29h1v1h-1zM50 29h1v1h-1zM52 29h1v1h-1zM46 29h1v1h-1zM56 29h1v1h-1zM7 29h2v1h-2zM25 29h1v1h-1zM4 29h1v1h-1zM62 29h1v1h-1zM14 29h1v2h-1zM32 30h1v1h-1zM35 30h1v1h-1zM4 30h2v1h-2zM21 30h2v1h-2zM24 30h3v1h-3zM18 30h2v1h-2zM37 30h1v1h-1zM10 30h2v1h-2zM16 30h1v1h-1zM59 30h1v2h-1zM36 31h2v1h-2zM23 31h1v1h-1zM39 31h2v1h-2zM2 31h1v1h-1zM61 31h1v1h-1zM20 31h1v1h-1zM15 31h1v1h-1zM50 31h2v1h-2zM25 31h1v1h-1zM9 31h1v1h-1zM0 31h1v2h-1zM6 31h1v2h-1zM52 32h1v1h-1zM48 32h1v1h-1zM14 32h1v1h-1zM36 32h1v1h-1zM39 32h1v1h-1zM54 32h4v1h-4zM59 32h2v1h-2zM32 32h2v1h-2zM27 31h1v3h-1zM42 32h1v2h-1zM49 33h1v1h-1zM23 33h1v1h-1zM18 33h1v1h-1zM2 33h1v1h-1zM29 33h1v1h-1zM20 33h1v1h-1zM59 33h1v1h-1zM4 33h2v2h-2zM25 33h1v2h-1zM11 34h1v1h-1zM17 34h1v1h-1zM41 34h1v1h-1zM36 34h1v1h-1zM0 34h3v1h-3zM21 34h2v1h-2zM59 34h2v1h-2zM45 34h2v1h-2zM13 34h2v1h-2zM31 34h2v1h-2zM43 34h1v2h-1zM57 35h1v1h-1zM18 35h1v1h-1zM46 35h1v1h-1zM14 35h1v1h-1zM1 35h1v1h-1zM11 35h2v1h-2zM49 35h2v1h-2zM4 35h1v1h-1zM39 34h1v3h-1zM28 35h1v2h-1zM23 35h1v2h-1zM21 35h1v2h-1zM33 36h1v1h-1zM17 36h1v1h-1zM58 36h1v1h-1zM3 36h1v1h-1zM36 36h1v1h-1zM31 36h1v1h-1zM60 36h1v1h-1zM12 36h2v1h-2zM25 36h1v1h-1zM38 37h1v1h-1zM12 37h1v1h-1zM24 37h1v1h-1zM19 37h1v1h-1zM22 37h1v1h-1zM30 37h1v1h-1zM43 37h4v1h-4zM62 37h1v1h-1zM3 37h2v1h-2zM54 37h1v1h-1zM41 37h1v2h-1zM57 38h1v1h-1zM61 38h1v1h-1zM2 38h1v1h-1zM32 38h1v1h-1zM37 38h2v1h-2zM14 38h2v1h-2zM59 38h1v1h-1zM49 37h1v3h-1zM20 38h1v2h-1zM31 39h5v1h-5zM23 39h1v1h-1zM12 39h1v1h-1zM56 39h1v1h-1zM58 39h1v1h-1zM27 39h1v1h-1zM60 39h1v1h-1zM0 39h2v1h-2zM10 39h1v2h-1zM57 40h1v1h-1zM52 40h1v1h-1zM50 40h1v1h-1zM35 40h1v1h-1zM55 40h1v1h-1zM31 40h1v1h-1zM1 40h1v1h-1zM42 40h2v1h-2zM63 40h1v1h-1zM4 40h1v1h-1zM16 40h1v1h-1zM49 41h1v1h-1zM2 41h1v1h-1zM43 41h1v1h-1zM5 41h1v1h-1zM51 41h1v1h-1zM37 41h2v1h-2zM8 41h2v1h-2zM21 41h1v1h-1zM17 41h1v2h-1zM13 41h1v2h-1zM7 42h1v1h-1zM28 42h1v1h-1zM19 42h1v1h-1zM41 42h1v1h-1zM61 42h1v1h-1zM15 42h1v1h-1zM58 42h2v1h-2zM44 42h1v2h-1zM23 42h1v2h-1zM36 42h1v2h-1zM47 43h1v1h-1zM18 43h1v1h-1zM32 43h1v1h-1zM8 43h1v1h-1zM3 43h1v1h-1zM53 43h1v1h-1zM10 43h1v1h-1zM16 43h1v1h-1zM40 43h3v1h-3zM55 43h2v1h-2zM5 43h2v1h-2zM14 43h1v2h-1zM11 44h1v1h-1zM17 44h1v1h-1zM24 44h1v1h-1zM19 44h1v1h-1zM50 44h2v1h-2zM42 44h1v1h-1zM21 44h1v1h-1zM62 44h1v1h-1zM34 43h1v3h-1zM27 44h1v2h-1zM5 44h1v2h-1zM12 45h1v1h-1zM42 45h2v1h-2zM7 45h3v1h-3zM37 45h2v1h-2zM46 45h2v1h-2zM30 44h1v3h-1zM51 45h1v2h-1zM49 46h1v1h-1zM33 46h1v1h-1zM44 46h1v1h-1zM35 46h1v1h-1zM39 46h1v1h-1zM60 46h3v1h-3zM23 46h2v1h-2zM13 46h2v1h-2zM16 46h1v1h-1zM14 47h1v1h-1zM55 47h1v1h-1zM60 47h1v1h-1zM22 48h2v1h-2zM33 48h1v1h-1zM12 48h1v1h-1zM52 48h1v1h-1zM2 48h1v1h-1zM35 48h1v1h-1zM30 48h1v1h-1zM60 48h2v1h-2zM39 48h1v1h-1zM4 48h2v1h-2zM17 48h2v1h-2zM63 48h1v1h-1zM9 48h1v1h-1zM48 48h2v1h-2zM11 49h1v1h-1zM38 49h1v1h-1zM44 49h1v1h-1zM23 49h1v1h-1zM56 49h1v1h-1zM61 49h1v1h-1zM31 49h1v1h-1zM20 49h1v1h-1zM51 49h1v1h-1zM34 49h1v2h-1zM17 50h1v1h-1zM26 50h1v1h-1zM24 50h1v1h-1zM46 50h1v1h-1zM60 50h1v1h-1zM9 50h1v1h-1zM4 50h1v1h-1zM62 50h1v1h-1zM42 49h1v3h-1zM29 51h2v1h-2zM45 51h1v1h-1zM8 51h1v1h-1zM20 51h1v1h-1zM15 51h1v1h-1zM10 51h1v1h-1zM33 51h2v1h-2zM2 51h2v1h-2zM25 51h1v1h-1zM49 51h1v2h-1zM52 52h1v1h-1zM57 52h1v1h-1zM26 52h1v1h-1zM43 52h4v1h-4zM39 52h1v1h-1zM5 52h1v1h-1zM34 52h2v1h-2zM62 52h1v1h-1zM0 53h1v1h-1zM22 53h2v1h-2zM27 53h2v1h-2zM12 53h1v1h-1zM44 53h1v1h-1zM2 53h1v1h-1zM47 53h1v1h-1zM41 53h2v1h-2zM52 53h2v1h-2zM25 53h1v1h-1zM15 53h2v1h-2zM5 53h2v1h-2zM57 54h1v1h-1zM52 54h1v1h-1zM50 54h1v1h-1zM8 54h1v1h-1zM41 54h1v1h-1zM1 54h1v1h-1zM46 54h1v1h-1zM22 54h4v1h-4zM54 54h1v1h-1zM32 54h2v1h-2zM36 54h3v1h-3zM10 54h3v1h-3zM16 54h1v1h-1zM3 54h1v2h-1zM5 54h1v2h-1zM60 54h1v2h-1zM12 55h1v1h-1zM45 55h1v1h-1zM29 55h1v1h-1zM19 55h1v1h-1zM22 55h1v1h-1zM31 55h1v1h-1zM39 55h1v1h-1zM24 55h3v1h-3zM37 55h1v1h-1zM15 55h1v2h-1zM8 56h1v1h-1zM6 56h1v1h-1zM21 56h2v1h-2zM59 56h2v1h-2zM26 56h2v1h-2zM32 56h2v1h-2zM35 55h1v3h-1zM61 57h1v1h-1zM32 57h1v1h-1zM51 57h2v1h-2zM1 57h1v1h-1zM10 57h1v1h-1zM37 57h2v1h-2zM17 57h2v1h-2zM28 57h2v1h-2zM47 57h2v1h-2zM42 57h1v1h-1zM28 58h1v1h-1zM34 58h1v1h-1zM48 58h1v1h-1zM8 58h1v1h-1zM61 58h2v1h-2zM59 58h1v1h-1zM23 58h1v2h-1zM11 59h1v1h-1zM38 59h1v1h-1zM1 59h2v1h-2zM7 59h1v1h-1zM29 59h1v1h-1zM31 59h1v1h-1zM54 59h1v1h-1zM57 59h3v1h-3zM34 59h2v1h-2zM25 59h1v1h-1zM9 59h1v1h-1zM21 59h1v1h-1zM16 59h1v2h-1zM57 60h1v1h-1zM26 60h1v1h-1zM2 60h1v1h-1zM53 60h1v1h-1zM21 60h3v1h-3zM55 60h1v1h-1zM51 60h1v1h-1zM8 60h2v1h-2zM4 60h1v1h-1zM0 60h1v2h-1zM6 60h1v2h-1zM11 61h1v1h-1zM60 61h2v1h-2zM13 61h1v1h-1zM27 61h1v1h-1zM32 61h1v1h-1zM35 61h1v1h-1zM49 61h2v1h-2zM37 61h1v1h-1zM15 61h2v1h-2zM17 62h1v1h-1zM53 62h1v1h-1zM29 62h1v1h-1zM24 62h1v1h-1zM60 62h1v1h-1zM39 62h1v1h-1zM15 62h1v1h-1zM10 62h1v1h-1zM51 62h1v1h-1zM45 62h3v1h-3zM57 62h2v1h-2zM21 62h1v2h-1zM28 63h1v1h-1zM50 63h1v1h-1zM7 63h1v1h-1zM48 63h1v1h-1zM13 63h1v1h-1zM30 63h1v1h-1zM56 63h1v1h-1zM61 63h1v1h-1zM63 63h1v1h-1zM37 63h1v1h-1zM16 63h1v1h-1z" fill="#000"/></pattern><pattern id="p6" width="64" height="64" patternUnits="userSpaceOnUse"><path d="M0 0h1v1h-1zM7 0h4v1h-4zM17 0h1v1h-1zM12 0h1v1h-1zM49 0h1v1h-1zM55 0h2v1h-2zM36 0h1v1h-1zM31 0h1v1h-1zM28 0h2v1h-2zM24 0h2v1h-2zM41 0h2v1h-2zM4 0h1v1h-1zM59 0h1v1h-1zM44 0h1v2h-1zM60 1h2v1h-2zM58 1h1v1h-1zM1 1h1v1h-1zM4 1h2v1h-2zM10 1h3v1h-3zM63 1h1v1h-1zM39 1h3v1h-3zM15 0h1v3h-1zM55 1h1v2h-1zM0 2h1v1h-1zM4 2h4v1h-4zM57 2h1v1h-1zM26 2h1v1h-1zM29 2h1v1h-1zM40 2h1v1h-1zM42 2h3v1h-3zM22 2h1v1h-1zM51 2h2v1h-2zM18 2h2v1h-2zM59 2h4v1h-4zM10 2h1v2h-1zM27 3h2v1h-2zM12 3h1v1h-1zM24 3h1v1h-1zM53 3h1v1h-1zM31 3h1v1h-1zM39 3h4v1h-4zM14 3h2v1h-2zM47 3h2v1h-2zM34 3h1v2h-1zM45 3h1v2h-1zM56 3h1v2h-1zM59 4h1v1h-1zM6 4h2v1h-2zM50 4h1v1h-1zM40 4h1v1h-1zM27 4h1v1h-1zM30 4h1v1h-1zM48 4h1v1h-1zM1 4h1v1h-1zM17 4h3v1h-3zM13 4h2v1h-2zM52 4h2v1h-2zM9 4h1v1h-1zM4 4h1v1h-1zM21 4h1v1h-1zM62 4h1v1h-1zM0 5h1v1h-1zM60 5h2v1h-2zM29 5h1v1h-1zM2 5h1v1h-1zM43 5h1v1h-1zM17 5h2v1h-2zM56 5h2v1h-2zM46 5h2v1h-2zM63 5h1v1h-1zM37 5h1v1h-1zM57 6h1v1h-1zM48 6h2v1h-2zM53 6h1v1h-1zM60 6h1v1h-1zM20 6h1v1h-1zM51 6h1v1h-1zM38 6h2v1h-2zM2 6h2v1h-2zM22 6h3v1h-3zM42 6h1v1h-1zM10 6h2v1h-2zM4 7h4v1h-4zM18 7h1v1h-1zM48 7h1v1h-1zM24 7h1v1h-1zM33 7h2v1h-2zM52 7h3v1h-3zM58 7h3v1h-3zM27 7h3v1h-3zM9 7h1v1h-1zM20 7h2v1h-2zM37 7h1v1h-1zM62 7h1v1h-1zM11 7h1v2h-1zM28 8h1v1h-1zM50 8h1v1h-1zM56 8h1v1h-1zM8 8h1v1h-1zM3 8h1v1h-1zM1 8h1v1h-1zM19 8h1v1h-1zM25 8h2v1h-2zM43 8h1v1h-1zM38 8h2v1h-2zM52 8h2v1h-2zM21 8h1v1h-1zM35 8h1v2h-1zM6 8h1v2h-1zM38 9h1v1h-1zM49 9h1v1h-1zM61 9h1v1h-1zM18 9h1v1h-1zM22 9h1v1h-1zM10 9h1v1h-1zM0 9h2v1h-2zM56 9h2v1h-2zM43 9h3v1h-3zM25 9h1v1h-1zM53 9h2v1h-2zM16 9h1v1h-1zM40 9h1v2h-1zM13 9h1v2h-1zM52 10h1v1h-1zM6 10h2v1h-2zM50 10h1v1h-1zM26 10h1v1h-1zM29 10h1v1h-1zM24 10h1v1h-1zM3 10h1v1h-1zM31 10h1v1h-1zM42 10h1v1h-1zM56 10h1v1h-1zM60 10h1v1h-1zM36 10h3v1h-3zM20 10h2v1h-2zM54 10h1v1h-1zM0 11h1v1h-1zM12 11h1v1h-1zM34 11h1v1h-1zM43 11h1v1h-1zM27 11h1v1h-1zM36 11h1v1h-1zM6 11h4v1h-4zM40 11h2v1h-2zM63 11h1v1h-1zM21 11h1v1h-1zM16 11h1v1h-1zM11 12h1v1h-1zM38 12h1v1h-1zM47 12h1v1h-1zM50 12h1v1h-1zM53 12h1v1h-1zM1 12h1v1h-1zM21 12h2v1h-2zM13 12h2v1h-2zM42 12h1v1h-1zM45 13h1v1h-1zM40 13h1v1h-1zM24 13h1v1h-1zM32 13h1v1h-1zM5 13h1v1h-1zM12 13h3v1h-3zM37 13h2v1h-2zM0 13h2v1h-2zM8 13h2v1h-2zM21 13h1v1h-1zM0 14h1v1h-1zM23 14h1v1h-1zM2 14h1v1h-1zM35 14h1v1h-1zM8 14h1v1h-1zM46 14h1v1h-1zM31 14h1v1h-1zM51 14h1v1h-1zM54 14h2v1h-2zM38 14h2v1h-2zM62 14h1v1h-1zM4 14h1v1h-1zM43 14h2v1h-2zM49 14h1v2h-1zM18 14h1v2h-1zM14 14h2v2h-2zM7 15h4v1h-4zM28 15h1v1h-1zM12 15h1v1h-1zM34 15h1v1h-1zM24 15h1v1h-1zM3 15h1v1h-1zM22 15h1v1h-1zM60 15h1v1h-1zM5 15h1v1h-1zM55 15h3v1h-3zM31 15h2v1h-2zM39 15h1v2h-1zM0 15h2v2h-2zM27 16h2v1h-2zM52 16h1v1h-1zM47 16h1v1h-1zM58 16h1v1h-1zM7 16h1v1h-1zM60 16h2v1h-2zM35 16h1v1h-1zM30 16h1v1h-1zM41 16h3v1h-3zM63 16h1v1h-1zM4 16h1v1h-1zM37 16h1v1h-1zM16 16h1v1h-1zM20 15h1v3h-1zM9 16h1v2h-1zM0 17h1v1h-1zM38 17h1v1h-1zM18 17h1v1h-1zM2 17h1v1h-1zM24 17h1v1h-1zM26 17h1v1h-1zM15 17h1v1h-1zM5 17h1v1h-1zM29 17h2v1h-2zM62 17h1v1h-1zM33 17h4v1h-4zM54 17h1v1h-1zM12 18h1v1h-1zM43 18h1v1h-1zM27 18h1v1h-1zM51 18h2v1h-2zM55 18h1v1h-1zM60 18h1v1h-1zM1 18h4v1h-4zM18 18h2v1h-2zM41 18h1v2h-1zM11 19h1v1h-1zM44 19h1v1h-1zM47 19h1v1h-1zM55 19h2v1h-2zM58 19h1v1h-1zM60 19h2v1h-2zM13 19h1v1h-1zM8 19h1v1h-1zM3 19h1v1h-1zM6 19h1v1h-1zM1 19h1v1h-1zM51 19h1v1h-1zM37 19h2v1h-2zM50 20h1v1h-1zM56 20h1v1h-1zM35 20h1v1h-1zM43 20h1v1h-1zM22 20h1v1h-1zM39 20h1v1h-1zM0 20h2v1h-2zM17 20h2v1h-2zM5 20h3v1h-3zM58 20h2v1h-2zM53 20h2v1h-2zM25 19h1v3h-1zM14 20h2v2h-2zM49 21h1v1h-1zM61 21h1v1h-1zM53 21h1v1h-1zM63 21h1v1h-1zM5 21h1v1h-1zM28 21h3v1h-3zM37 21h2v1h-2zM21 21h2v1h-2zM34 21h2v1h-2zM45 21h2v1h-2zM1 21h3v1h-3zM18 21h2v2h-2zM9 21h1v2h-1zM11 22h1v1h-1zM44 22h1v1h-1zM47 22h1v1h-1zM51 22h2v1h-2zM27 22h1v1h-1zM6 22h1v1h-1zM36 22h1v1h-1zM59 22h2v1h-2zM32 22h2v1h-2zM2 22h2v1h-2zM62 22h1v1h-1zM16 22h1v1h-1zM52 23h1v1h-1zM17 23h1v1h-1zM7 23h1v1h-1zM26 23h1v1h-1zM46 23h1v1h-1zM14 23h1v1h-1zM33 23h3v1h-3zM28 23h2v1h-2zM62 23h2v1h-2zM3 23h2v1h-2zM0 23h1v2h-1zM48 23h1v2h-1zM38 24h1v1h-1zM57 24h1v1h-1zM34 24h1v1h-1zM13 24h1v1h-1zM8 24h1v1h-1zM3 24h1v1h-1zM60 24h1v1h-1zM10 24h1v1h-1zM5 24h1v1h-1zM25 24h2v1h-2zM51 24h1v2h-1zM11 25h1v1h-1zM17 25h1v1h-1zM6 25h2v1h-2zM2 25h1v1h-1zM36 25h1v1h-1zM31 25h1v1h-1zM15 25h1v1h-1zM39 25h1v1h-1zM55 25h1v1h-1zM28 25h2v1h-2zM62 25h1v1h-1zM33 25h1v2h-1zM24 25h1v2h-1zM21 25h1v2h-1zM0 26h1v1h-1zM27 26h2v1h-2zM48 26h2v1h-2zM18 26h1v1h-1zM35 26h1v1h-1zM46 26h1v1h-1zM14 26h3v1h-3zM63 26h1v1h-1zM37 26h1v1h-1zM56 26h1v2h-1zM49 27h1v1h-1zM44 27h1v1h-1zM47 27h1v1h-1zM12 27h1v1h-1zM40 27h1v1h-1zM19 27h1v1h-1zM14 27h1v1h-1zM60 27h1v1h-1zM28 27h3v1h-3zM54 27h1v1h-1zM24 27h2v1h-2zM9 27h1v1h-1zM42 27h1v1h-1zM16 27h1v1h-1zM52 28h1v1h-1zM41 28h4v1h-4zM13 28h1v1h-1zM8 28h1v1h-1zM22 28h1v1h-1zM6 28h1v1h-1zM24 28h1v1h-1zM31 28h3v1h-3zM63 28h1v1h-1zM4 28h1v1h-1zM59 28h1v1h-1zM17 28h4v1h-4zM11 29h1v1h-1zM56 29h4v1h-4zM51 29h2v1h-2zM0 29h3v1h-3zM34 29h2v1h-2zM62 29h1v1h-1zM25 29h4v1h-4zM16 29h1v1h-1zM0 30h1v1h-1zM23 30h1v1h-1zM50 30h1v1h-1zM8 30h1v1h-1zM6 30h1v1h-1zM41 30h1v1h-1zM43 30h2v1h-2zM53 30h3v1h-3zM13 30h2v1h-2zM21 30h1v1h-1zM32 30h2v1h-2zM48 30h1v2h-1zM58 30h1v2h-1zM27 30h1v2h-1zM45 31h1v1h-1zM2 31h1v1h-1zM61 31h1v1h-1zM12 31h3v1h-3zM19 31h2v1h-2zM25 31h1v1h-1zM54 31h1v1h-1zM38 31h1v2h-1zM22 31h1v2h-1zM17 32h1v1h-1zM12 32h1v1h-1zM7 32h1v1h-1zM29 32h1v1h-1zM35 32h1v1h-1zM3 32h1v1h-1zM20 32h1v1h-1zM31 32h1v1h-1zM53 32h1v1h-1zM0 32h2v1h-2zM62 32h2v1h-2zM59 32h1v1h-1zM40 31h1v3h-1zM57 32h1v2h-1zM34 33h1v1h-1zM8 33h1v1h-1zM46 33h1v1h-1zM55 33h1v1h-1zM15 33h1v1h-1zM10 33h1v1h-1zM5 33h1v1h-1zM24 33h2v1h-2zM36 33h2v1h-2zM48 33h2v1h-2zM38 34h1v1h-1zM49 34h1v1h-1zM26 34h1v1h-1zM32 34h1v1h-1zM51 34h2v1h-2zM6 34h1v1h-1zM9 34h2v1h-2zM14 34h3v1h-3zM40 34h2v1h-2zM19 34h2v1h-2zM3 34h2v1h-2zM58 34h2v1h-2zM62 34h1v1h-1zM43 34h1v2h-1zM57 35h1v1h-1zM24 35h1v1h-1zM8 35h1v1h-1zM14 35h1v1h-1zM22 35h1v1h-1zM33 35h2v1h-2zM37 35h4v1h-4zM47 35h1v2h-1zM12 36h1v1h-1zM3 36h1v1h-1zM6 36h1v1h-1zM1 36h1v1h-1zM49 36h3v1h-3zM10 36h1v1h-1zM54 36h1v1h-1zM38 36h2v1h-2zM62 36h1v1h-1zM56 36h5v1h-5zM31 36h2v1h-2zM26 36h2v1h-2zM16 36h1v1h-1zM18 36h1v2h-1zM7 37h1v1h-1zM43 37h1v1h-1zM46 37h1v1h-1zM22 37h1v1h-1zM48 37h1v1h-1zM5 37h1v1h-1zM28 37h2v1h-2zM34 37h2v1h-2zM56 37h2v1h-2zM62 37h2v1h-2zM9 37h1v1h-1zM1 37h3v1h-3zM15 37h2v1h-2zM0 38h1v1h-1zM42 38h3v1h-3zM3 38h1v1h-1zM55 38h1v1h-1zM9 38h2v1h-2zM17 38h3v1h-3zM13 38h2v1h-2zM57 38h2v1h-2zM60 38h1v2h-1zM51 38h1v2h-1zM33 39h1v1h-1zM19 39h1v1h-1zM10 39h1v1h-1zM2 39h3v1h-3zM41 39h2v1h-2zM16 39h1v1h-1zM28 40h1v1h-1zM50 40h1v1h-1zM2 40h1v1h-1zM40 40h1v1h-1zM30 40h1v1h-1zM14 40h1v1h-1zM22 40h1v1h-1zM18 40h2v1h-2zM62 40h2v1h-2zM25 40h1v1h-1zM9 40h1v2h-1zM0 41h1v1h-1zM33 41h1v1h-1zM12 41h1v1h-1zM23 41h1v1h-1zM43 41h1v1h-1zM61 41h1v1h-1zM41 41h1v1h-1zM15 41h1v1h-1zM2 41h3v1h-3zM35 41h3v1h-3zM54 41h2v1h-2zM50 41h2v1h-2zM57 41h2v1h-2zM7 41h1v2h-1zM57 42h1v1h-1zM19 42h1v1h-1zM14 42h1v1h-1zM55 42h1v1h-1zM60 42h1v1h-1zM51 42h1v1h-1zM37 42h2v1h-2zM21 42h2v1h-2zM16 42h2v1h-2zM41 42h3v1h-3zM45 42h2v1h-2zM31 42h2v1h-2zM62 42h1v1h-1zM49 42h1v2h-1zM3 42h1v2h-1zM38 43h1v1h-1zM22 43h2v1h-2zM6 43h2v1h-2zM18 43h1v1h-1zM29 43h1v1h-1zM13 43h1v1h-1zM32 43h1v1h-1zM35 43h1v1h-1zM1 43h1v1h-1zM51 43h2v1h-2zM55 43h3v1h-3zM25 43h1v1h-1zM59 43h1v2h-1zM0 44h1v1h-1zM33 44h1v1h-1zM28 44h1v1h-1zM44 44h1v1h-1zM8 44h4v1h-4zM47 44h1v1h-1zM36 44h1v1h-1zM54 44h3v1h-3zM5 44h1v1h-1zM14 44h2v1h-2zM52 44h1v2h-1zM62 44h1v2h-1zM57 45h1v1h-1zM40 45h1v1h-1zM32 45h1v1h-1zM27 45h1v1h-1zM30 45h1v1h-1zM8 45h1v1h-1zM19 45h2v1h-2zM25 45h1v1h-1zM36 45h2v1h-2zM42 45h1v1h-1zM45 45h2v2h-2zM0 46h1v1h-1zM22 46h2v1h-2zM27 46h2v1h-2zM38 46h1v1h-1zM34 46h1v1h-1zM9 46h3v1h-3zM14 46h1v1h-1zM3 46h1v1h-1zM36 46h1v1h-1zM50 46h2v1h-2zM59 46h4v1h-4zM2 47h1v1h-1zM32 47h1v1h-1zM30 47h1v1h-1zM43 47h1v1h-1zM45 47h1v1h-1zM55 47h1v1h-1zM11 47h3v1h-3zM60 47h1v1h-1zM5 47h1v1h-1zM47 47h2v1h-2zM36 47h2v1h-2zM16 47h1v1h-1zM18 47h1v2h-1zM44 48h1v1h-1zM47 48h1v1h-1zM26 48h1v1h-1zM29 48h1v1h-1zM15 48h1v1h-1zM10 48h1v1h-1zM49 48h2v1h-2zM34 48h2v1h-2zM6 48h3v1h-3zM62 48h1v1h-1zM41 48h2v2h-2zM52 49h1v1h-1zM30 49h1v1h-1zM60 49h1v1h-1zM11 49h3v1h-3zM56 49h3v1h-3zM0 49h2v1h-2zM4 49h1v1h-1zM21 49h1v1h-1zM63 49h1v2h-1zM37 49h1v2h-1zM55 50h2v1h-2zM39 50h2v1h-2zM26 50h1v1h-1zM29 50h1v1h-1zM34 50h1v1h-1zM58 50h1v1h-1zM61 50h1v1h-1zM21 50h3v1h-3zM1 50h1v1h-1zM9 50h2v1h-2zM48 50h3v1h-3zM42 50h1v1h-1zM5 50h1v2h-1zM0 51h1v1h-1zM22 51h2v1h-2zM44 51h1v1h-1zM2 51h1v1h-1zM49 51h1v1h-1zM27 51h1v1h-1zM30 51h1v1h-1zM39 51h1v1h-1zM51 51h1v1h-1zM57 51h3v1h-3zM25 51h1v1h-1zM47 51h1v2h-1zM7 51h1v2h-1zM38 52h1v1h-1zM26 52h1v1h-1zM24 52h1v1h-1zM29 52h1v1h-1zM3 52h1v1h-1zM41 52h1v1h-1zM45 52h1v1h-1zM56 52h1v1h-1zM9 52h2v1h-2zM62 52h2v1h-2zM59 52h1v1h-1zM11 53h1v1h-1zM49 53h1v1h-1zM58 53h1v1h-1zM19 53h1v1h-1zM14 53h1v1h-1zM55 53h1v1h-1zM39 53h1v1h-1zM51 53h1v1h-1zM41 53h3v1h-3zM8 53h2v1h-2zM63 53h1v1h-1zM1 53h3v1h-3zM0 54h1v1h-1zM7 54h1v1h-1zM43 54h1v1h-1zM22 54h1v1h-1zM31 54h2v1h-2zM36 54h1v1h-1zM10 54h1v1h-1zM4 54h1v1h-1zM52 54h5v1h-5zM62 54h1v1h-1zM38 55h1v1h-1zM44 55h1v1h-1zM12 55h1v1h-1zM18 55h1v1h-1zM50 55h1v1h-1zM6 55h1v1h-1zM0 55h2v1h-2zM23 55h2v1h-2zM26 55h2v1h-2zM63 55h1v1h-1zM15 55h2v1h-2zM34 55h1v2h-1zM49 56h1v1h-1zM55 56h2v1h-2zM25 56h3v1h-3zM32 56h1v1h-1zM45 56h1v1h-1zM3 56h1v1h-1zM53 56h1v1h-1zM1 56h1v1h-1zM20 56h1v1h-1zM5 56h1v1h-1zM8 56h2v1h-2zM14 56h2v1h-2zM59 56h1v1h-1zM47 56h1v2h-1zM60 57h2v1h-2zM17 57h1v1h-1zM23 57h1v1h-1zM2 57h1v1h-1zM13 57h1v1h-1zM40 57h1v1h-1zM58 57h1v1h-1zM51 57h1v1h-1zM4 57h2v1h-2zM35 57h3v1h-3zM9 57h1v1h-1zM20 57h2v1h-2zM11 58h1v1h-1zM38 58h1v1h-1zM57 58h1v1h-1zM61 58h1v1h-1zM32 58h1v1h-1zM24 58h1v1h-1zM3 58h1v1h-1zM16 58h4v1h-4zM41 58h1v2h-1zM28 59h1v1h-1zM23 59h1v1h-1zM12 59h1v1h-1zM2 59h1v1h-1zM26 59h1v1h-1zM46 59h1v1h-1zM53 59h1v1h-1zM55 59h1v1h-1zM15 59h1v1h-1zM38 59h2v1h-2zM5 59h2v1h-2zM47 60h1v1h-1zM7 60h1v1h-1zM19 60h1v1h-1zM58 60h2v1h-2zM36 60h1v1h-1zM9 60h2v1h-2zM28 60h2v1h-2zM25 60h1v1h-1zM4 60h1v1h-1zM21 60h1v1h-1zM62 60h1v1h-1zM38 61h1v1h-1zM61 61h1v1h-1zM24 61h1v1h-1zM51 61h2v1h-2zM14 61h1v1h-1zM1 61h1v1h-1zM10 61h1v1h-1zM44 61h2v1h-2zM6 61h3v1h-3zM54 61h1v1h-1zM31 60h1v3h-1zM34 61h2v2h-2zM44 62h1v1h-1zM2 62h1v1h-1zM13 62h1v1h-1zM8 62h1v1h-1zM22 62h1v1h-1zM41 62h1v1h-1zM39 62h1v1h-1zM58 62h2v1h-2zM51 62h1v1h-1zM16 62h1v1h-1zM28 62h1v2h-1zM63 62h1v2h-1zM4 62h1v2h-1zM57 63h4v1h-4zM40 63h1v1h-1zM43 63h1v1h-1zM30 63h1v1h-1zM48 63h1v1h-1zM10 63h1v1h-1zM6 63h3v1h-3zM37 63h1v1h-1zM54 63h1v1h-1z" fill="#000"/></pattern><pattern id="p7" width="64" height="64" patternUnits="userSpaceOnUse"><path d="M49 0h1v1h-1zM18 0h1v1h-1zM57 0h4v1h-4zM51 0h2v1h-2zM39 0h1v1h-1zM25 0h2v1h-2zM34 0h2v1h-2zM13 0h2v1h-2zM9 0h1v1h-1zM2 0h2v2h-2zM12 1h1v1h-1zM52 1h1v1h-1zM56 1h1v1h-1zM19 1h1v1h-1zM30 1h1v1h-1zM60 1h1v1h-1zM9 1h2v1h-2zM21 1h2v1h-2zM26 1h2v1h-2zM48 1h2v1h-2zM62 1h1v1h-1zM6 0h1v3h-1zM0 1h1v2h-1zM33 1h1v2h-1zM15 1h1v2h-1zM41 1h2v2h-2zM49 2h1v1h-1zM38 2h2v1h-2zM59 2h5v1h-5zM23 2h2v1h-2zM8 2h2v1h-2zM4 2h1v1h-1zM21 2h1v1h-1zM44 1h1v3h-1zM53 2h2v2h-2zM58 3h1v1h-1zM30 3h1v1h-1zM1 3h1v1h-1zM25 3h2v1h-2zM7 3h2v1h-2zM62 3h1v1h-1zM49 4h1v1h-1zM22 4h2v1h-2zM47 4h1v1h-1zM39 4h2v1h-2zM18 4h1v1h-1zM25 4h3v1h-3zM43 4h1v1h-1zM6 4h1v1h-1zM0 4h2v1h-2zM12 4h2v1h-2zM58 4h3v1h-3zM35 4h2v1h-2zM63 4h1v1h-1zM9 4h1v1h-1zM32 4h2v1h-2zM28 5h1v1h-1zM1 5h2v1h-2zM26 5h1v1h-1zM61 5h1v1h-1zM13 5h1v1h-1zM32 5h1v1h-1zM35 5h1v1h-1zM51 5h2v1h-2zM43 5h4v1h-4zM15 5h1v1h-1zM55 5h1v1h-1zM22 5h3v1h-3zM4 5h1v1h-1zM37 5h1v1h-1zM48 5h2v1h-2zM52 6h1v1h-1zM23 6h1v1h-1zM18 6h1v1h-1zM4 6h3v1h-3zM14 6h1v1h-1zM41 6h1v1h-1zM1 6h1v1h-1zM39 6h1v1h-1zM10 6h1v1h-1zM59 6h3v1h-3zM56 6h2v1h-2zM30 6h2v1h-2zM20 6h2v1h-2zM26 6h2v1h-2zM48 6h3v2h-3zM2 7h1v1h-1zM29 7h1v1h-1zM8 7h1v1h-1zM32 7h1v1h-1zM40 7h1v1h-1zM20 7h1v1h-1zM43 7h1v1h-1zM5 7h1v1h-1zM13 7h3v1h-3zM23 7h2v1h-2zM35 7h2v1h-2zM58 7h2v1h-2zM53 7h2v1h-2zM0 8h1v1h-1zM30 8h1v1h-1zM10 8h1v1h-1zM23 8h3v1h-3zM37 8h2v1h-2zM44 8h2v1h-2zM17 8h2v1h-2zM6 8h3v1h-3zM54 8h4v1h-4zM59 8h1v1h-1zM51 8h1v2h-1zM63 8h1v2h-1zM33 9h1v1h-1zM44 9h1v1h-1zM61 9h1v1h-1zM2 9h1v1h-1zM46 9h1v1h-1zM22 9h1v1h-1zM41 9h1v1h-1zM11 9h3v1h-3zM5 9h1v1h-1zM16 9h5v1h-5zM48 9h2v1h-2zM54 9h1v1h-1zM7 9h1v2h-1zM0 10h1v1h-1zM22 10h2v1h-2zM38 10h1v1h-1zM47 10h1v1h-1zM40 10h1v1h-1zM56 10h3v1h-3zM3 10h3v1h-3zM61 10h2v1h-2zM51 10h3v1h-3zM16 10h4v1h-4zM32 10h2v1h-2zM9 9h1v3h-1zM27 10h1v2h-1zM43 10h2v2h-2zM58 11h1v1h-1zM18 11h1v1h-1zM53 11h1v1h-1zM35 11h1v1h-1zM56 11h1v1h-1zM60 11h1v1h-1zM51 11h1v1h-1zM5 11h3v1h-3zM63 11h1v1h-1zM31 11h2v1h-2zM16 11h1v1h-1zM20 11h1v2h-1zM40 12h1v1h-1zM13 12h1v1h-1zM59 12h2v1h-2zM16 12h2v1h-2zM54 12h2v1h-2zM3 12h3v1h-3zM30 12h2v1h-2zM26 12h2v1h-2zM10 12h2v1h-2zM62 12h1v1h-1zM12 13h1v1h-1zM48 13h1v1h-1zM3 13h1v1h-1zM9 13h2v1h-2zM5 13h1v1h-1zM35 13h3v1h-3zM30 13h3v1h-3zM14 13h3v1h-3zM45 13h2v1h-2zM56 13h2v1h-2zM63 13h1v1h-1zM54 13h1v1h-1zM23 12h1v3h-1zM20 13h2v2h-2zM56 14h4v1h-4zM50 14h1v1h-1zM4 14h3v1h-3zM25 14h2v1h-2zM32 14h3v1h-3zM46 14h2v1h-2zM16 14h1v2h-1zM0 15h1v1h-1zM11 15h1v1h-1zM48 15h1v1h-1zM35 15h1v1h-1zM14 15h1v1h-1zM20 15h1v1h-1zM43 15h1v1h-1zM53 15h1v1h-1zM45 15h2v1h-2zM26 15h2v1h-2zM18 15h1v2h-1zM22 15h1v2h-1zM57 16h1v1h-1zM44 16h1v1h-1zM6 16h2v1h-2zM50 16h1v1h-1zM30 16h1v1h-1zM41 16h1v1h-1zM46 16h1v1h-1zM10 16h1v1h-1zM37 16h2v1h-2zM60 16h3v1h-3zM3 16h2v1h-2zM38 17h1v1h-1zM40 17h4v1h-4zM1 17h1v1h-1zM49 17h4v1h-4zM29 17h2v1h-2zM35 17h2v1h-2zM7 17h5v1h-5zM15 17h2v1h-2zM59 17h1v1h-1zM24 15h1v4h-1zM47 17h1v2h-1zM45 17h1v2h-1zM20 17h1v2h-1zM17 18h1v1h-1zM28 18h1v1h-1zM7 18h1v1h-1zM26 18h1v1h-1zM30 18h1v1h-1zM36 18h1v1h-1zM0 18h3v1h-3zM39 18h1v1h-1zM5 18h1v1h-1zM49 18h2v1h-2zM13 18h2v1h-2zM42 18h1v1h-1zM53 18h2v1h-2zM56 18h1v2h-1zM50 19h1v1h-1zM29 19h1v1h-1zM32 19h1v1h-1zM1 19h4v1h-4zM11 19h2v1h-2zM52 19h3v1h-3zM23 19h2v1h-2zM34 19h2v1h-2zM26 19h2v1h-2zM16 19h1v1h-1zM17 20h1v1h-1zM47 20h1v1h-1zM55 20h2v1h-2zM58 20h1v1h-1zM42 20h1v1h-1zM27 20h1v1h-1zM31 20h4v1h-4zM15 20h1v1h-1zM11 20h3v1h-3zM23 20h3v1h-3zM51 20h3v1h-3zM63 20h1v1h-1zM9 20h1v1h-1zM20 20h2v1h-2zM37 20h1v1h-1zM6 20h1v2h-1zM11 21h1v1h-1zM44 21h1v1h-1zM48 21h2v1h-2zM26 21h1v1h-1zM36 21h4v1h-4zM3 21h1v1h-1zM51 21h2v1h-2zM61 21h1v1h-1zM41 21h2v1h-2zM54 21h4v1h-4zM29 21h1v2h-1zM46 21h1v2h-1zM21 21h1v2h-1zM3 22h4v1h-4zM19 22h1v1h-1zM41 22h1v1h-1zM48 22h1v1h-1zM23 22h3v1h-3zM34 22h3v1h-3zM52 22h6v1h-6zM14 22h2v1h-2zM62 22h1v1h-1zM8 22h2v2h-2zM0 23h1v1h-1zM60 23h2v1h-2zM27 23h1v1h-1zM21 23h3v1h-3zM16 23h3v1h-3zM39 23h1v1h-1zM3 23h3v1h-3zM31 23h3v1h-3zM48 23h3v1h-3zM42 23h1v1h-1zM54 23h1v1h-1zM38 24h1v1h-1zM17 24h1v1h-1zM23 24h1v1h-1zM29 24h1v1h-1zM48 24h1v1h-1zM36 24h1v1h-1zM50 24h2v1h-2zM45 24h2v1h-2zM31 24h2v1h-2zM59 24h1v1h-1zM11 24h1v2h-1zM53 24h1v2h-1zM13 24h1v2h-1zM40 24h1v2h-1zM18 25h1v1h-1zM27 25h1v1h-1zM55 25h1v1h-1zM51 25h1v1h-1zM21 25h2v1h-2zM58 25h3v1h-3zM1 25h3v1h-3zM37 25h1v1h-1zM43 25h2v1h-2zM34 25h1v2h-1zM6 25h1v2h-1zM62 25h1v2h-1zM17 26h1v1h-1zM12 26h1v1h-1zM55 26h2v1h-2zM8 26h1v1h-1zM3 26h1v1h-1zM22 26h1v1h-1zM15 26h1v1h-1zM31 26h1v1h-1zM36 26h1v1h-1zM41 26h2v1h-2zM25 26h1v1h-1zM7 27h1v1h-1zM18 27h1v1h-1zM60 27h1v1h-1zM20 27h1v1h-1zM38 27h3v1h-3zM29 27h2v1h-2zM13 27h2v1h-2zM63 27h1v1h-1zM33 27h4v1h-4zM49 27h1v2h-1zM53 27h1v2h-1zM0 28h1v1h-1zM38 28h1v1h-1zM17 28h1v1h-1zM2 28h1v1h-1zM30 28h1v1h-1zM42 28h6v1h-6zM51 28h1v1h-1zM4 28h2v1h-2zM32 28h2v1h-2zM62 28h1v1h-1zM8 28h2v1h-2zM19 28h2v1h-2zM33 29h1v1h-1zM12 29h1v1h-1zM50 29h1v1h-1zM48 29h1v1h-1zM35 29h1v1h-1zM58 29h4v1h-4zM22 29h1v1h-1zM20 29h1v1h-1zM1 29h1v1h-1zM8 29h3v1h-3zM28 29h2v1h-2zM39 29h1v2h-1zM34 30h1v1h-1zM19 30h1v1h-1zM1 30h4v1h-4zM29 30h3v1h-3zM24 30h3v1h-3zM61 30h2v1h-2zM45 30h2v1h-2zM14 30h2v1h-2zM9 30h1v1h-1zM42 30h1v1h-1zM21 30h1v1h-1zM48 30h8v1h-8zM23 31h1v1h-1zM3 31h1v1h-1zM18 31h1v1h-1zM40 31h1v1h-1zM20 31h1v1h-1zM31 31h1v1h-1zM28 31h2v1h-2zM10 31h2v1h-2zM44 31h1v1h-1zM13 31h1v1h-1zM46 31h1v1h-1zM15 31h1v1h-1zM37 31h1v1h-1zM59 31h1v1h-1zM50 31h1v1h-1zM52 31h4v1h-4zM8 31h1v1h-1zM1 31h1v1h-1zM62 31h2v1h-2zM11 32h1v1h-1zM34 32h1v1h-1zM14 32h1v1h-1zM36 32h1v1h-1zM41 32h1v1h-1zM49 32h3v1h-3zM54 32h3v1h-3zM60 32h1v1h-1zM4 32h2v1h-2zM38 32h2v1h-2zM23 32h2v1h-2zM19 32h2v1h-2zM46 32h2v1h-2zM29 32h1v2h-1zM27 32h1v2h-1zM49 33h1v1h-1zM33 33h1v1h-1zM1 33h2v1h-2zM13 33h1v1h-1zM22 33h1v1h-1zM46 33h1v1h-1zM31 33h1v1h-1zM56 33h1v1h-1zM5 33h1v1h-1zM51 33h4v1h-4zM17 33h2v1h-2zM25 33h1v1h-1zM9 33h1v1h-1zM58 33h2v1h-2zM37 33h1v1h-1zM7 33h1v2h-1zM0 34h1v1h-1zM57 34h1v1h-1zM50 34h1v1h-1zM34 34h1v1h-1zM45 34h1v1h-1zM30 34h1v1h-1zM14 34h1v1h-1zM41 34h1v1h-1zM55 34h1v1h-1zM9 34h2v1h-2zM23 34h2v1h-2zM18 34h2v1h-2zM63 34h1v1h-1zM4 34h1v1h-1zM16 34h1v1h-1zM53 34h1v2h-1zM11 35h1v1h-1zM49 35h1v1h-1zM1 35h2v1h-2zM58 35h1v1h-1zM60 35h2v1h-2zM19 35h1v1h-1zM6 35h1v1h-1zM43 35h3v1h-3zM14 35h2v1h-2zM9 35h1v1h-1zM26 35h2v1h-2zM47 34h1v3h-1zM17 36h1v1h-1zM26 36h1v1h-1zM2 36h1v1h-1zM36 36h1v1h-1zM9 36h2v1h-2zM40 36h3v1h-3zM23 36h2v1h-2zM56 36h2v1h-2zM5 36h3v1h-3zM62 36h1v1h-1zM60 36h1v2h-1zM29 36h2v2h-2zM58 37h1v1h-1zM45 37h1v1h-1zM14 37h4v1h-4zM32 37h1v1h-1zM3 37h1v1h-1zM51 37h2v1h-2zM1 37h1v1h-1zM55 37h1v1h-1zM42 37h2v1h-2zM62 37h2v1h-2zM35 37h2v1h-2zM24 37h2v1h-2zM19 36h2v3h-2zM48 37h1v2h-1zM27 38h2v1h-2zM38 38h1v1h-1zM23 38h1v1h-1zM50 38h1v1h-1zM2 38h1v1h-1zM35 38h1v1h-1zM40 38h1v1h-1zM14 38h1v1h-1zM43 38h1v1h-1zM46 38h1v1h-1zM61 38h1v1h-1zM4 38h1v1h-1zM59 38h1v2h-1zM17 39h1v1h-1zM29 39h4v1h-4zM19 39h4v1h-4zM26 39h1v1h-1zM24 39h1v1h-1zM45 39h1v1h-1zM51 39h2v1h-2zM6 39h1v1h-1zM55 39h2v1h-2zM0 39h3v1h-3zM10 39h1v1h-1zM40 39h3v1h-3zM12 39h2v1h-2zM63 39h1v1h-1zM36 39h2v1h-2zM11 40h1v1h-1zM18 40h1v1h-1zM25 40h3v1h-3zM56 40h1v1h-1zM30 40h1v1h-1zM46 40h1v1h-1zM36 40h1v1h-1zM60 40h1v1h-1zM15 40h1v1h-1zM51 40h1v1h-1zM62 40h1v1h-1zM20 40h2v1h-2zM38 40h4v1h-4zM54 40h1v2h-1zM49 41h1v1h-1zM56 41h4v1h-4zM28 41h1v1h-1zM61 41h1v1h-1zM45 41h1v1h-1zM32 41h1v1h-1zM43 41h1v1h-1zM41 41h1v1h-1zM51 41h2v1h-2zM63 41h1v1h-1zM9 40h1v3h-1zM7 41h1v2h-1zM39 41h1v2h-1zM16 41h1v2h-1zM57 42h1v1h-1zM52 42h1v1h-1zM12 42h1v1h-1zM46 42h4v1h-4zM14 42h1v1h-1zM1 42h1v1h-1zM41 42h3v1h-3zM61 42h2v1h-2zM27 42h3v1h-3zM25 42h1v1h-1zM33 42h4v1h-4zM38 43h1v1h-1zM17 43h1v1h-1zM32 43h5v1h-5zM26 43h1v1h-1zM48 43h1v1h-1zM55 43h2v1h-2zM41 43h1v1h-1zM1 43h4v1h-4zM44 43h2v1h-2zM12 43h2v1h-2zM7 43h2v1h-2zM51 43h3v1h-3zM19 43h2v1h-2zM62 43h1v1h-1zM22 43h1v2h-1zM45 44h1v1h-1zM53 44h1v1h-1zM30 44h1v1h-1zM32 44h1v1h-1zM18 44h3v1h-3zM1 44h7v1h-7zM35 44h2v1h-2zM59 44h4v1h-4zM42 44h1v1h-1zM15 44h2v1h-2zM13 44h1v2h-1zM27 44h1v2h-1zM49 45h1v1h-1zM7 45h1v1h-1zM18 45h1v1h-1zM3 45h1v1h-1zM43 45h1v1h-1zM31 45h1v1h-1zM60 45h1v1h-1zM5 45h1v1h-1zM35 45h3v1h-3zM45 45h2v1h-2zM9 45h1v1h-1zM21 45h1v1h-1zM54 45h1v1h-1zM23 45h1v2h-1zM51 45h1v2h-1zM34 46h1v1h-1zM30 46h1v1h-1zM55 46h1v1h-1zM63 46h1v1h-1zM15 46h3v1h-3zM2 46h2v1h-2zM38 46h5v1h-5zM25 46h1v1h-1zM0 45h1v3h-1zM57 46h1v2h-1zM6 46h1v2h-1zM50 47h1v1h-1zM53 47h1v1h-1zM2 47h1v1h-1zM16 47h3v1h-3zM20 47h1v1h-1zM45 47h3v1h-3zM24 47h3v1h-3zM28 47h2v1h-2zM62 47h1v1h-1zM8 47h1v2h-1zM23 48h1v1h-1zM58 48h1v1h-1zM48 48h1v1h-1zM14 48h1v1h-1zM1 48h1v1h-1zM27 48h4v1h-4zM51 48h1v1h-1zM60 48h1v1h-1zM3 48h2v1h-2zM43 48h2v1h-2zM38 48h1v2h-1zM41 48h1v2h-1zM46 48h1v2h-1zM33 49h1v1h-1zM44 49h1v1h-1zM57 49h1v1h-1zM18 49h1v1h-1zM61 49h1v1h-1zM51 49h2v1h-2zM4 49h3v1h-3zM15 49h1v1h-1zM11 49h2v1h-2zM30 49h2v1h-2zM20 49h2v1h-2zM63 49h1v2h-1zM59 49h1v2h-1zM0 50h1v1h-1zM21 50h1v1h-1zM23 50h1v1h-1zM28 50h1v1h-1zM53 50h1v1h-1zM56 50h1v1h-1zM6 50h1v1h-1zM25 50h1v1h-1zM49 50h3v1h-3zM3 50h2v1h-2zM10 50h2v1h-2zM16 50h1v1h-1zM34 50h1v2h-1zM50 51h1v1h-1zM7 51h1v1h-1zM40 51h1v1h-1zM45 51h1v1h-1zM58 51h1v1h-1zM9 51h2v1h-2zM12 51h6v1h-6zM0 51h2v1h-2zM24 51h2v1h-2zM47 51h2v1h-2zM4 51h1v1h-1zM28 51h4v1h-4zM43 51h1v2h-1zM0 52h1v1h-1zM59 52h1v1h-1zM8 52h1v1h-1zM31 52h1v1h-1zM52 52h2v1h-2zM5 52h1v1h-1zM21 52h2v1h-2zM13 52h3v1h-3zM49 52h2v1h-2zM2 52h2v1h-2zM35 52h2v1h-2zM25 52h1v1h-1zM10 52h2v1h-2zM62 52h1v1h-1zM19 50h1v4h-1zM23 53h4v1h-4zM33 53h1v1h-1zM28 53h1v1h-1zM12 53h1v1h-1zM50 53h1v1h-1zM61 53h1v1h-1zM1 53h4v1h-4zM35 53h3v1h-3zM7 53h2v1h-2zM41 53h2v1h-2zM21 53h1v1h-1zM46 53h1v2h-1zM26 54h1v1h-1zM29 54h1v1h-1zM53 54h1v1h-1zM31 54h1v1h-1zM15 54h1v1h-1zM10 54h1v1h-1zM34 54h3v1h-3zM12 54h2v1h-2zM56 54h2v1h-2zM63 54h1v1h-1zM5 54h2v1h-2zM24 54h1v2h-1zM57 55h1v1h-1zM33 55h1v1h-1zM44 55h1v1h-1zM20 55h1v1h-1zM52 55h3v1h-3zM0 55h5v1h-5zM11 55h5v1h-5zM6 55h3v1h-3zM39 55h3v1h-3zM50 55h1v2h-1zM47 56h1v1h-1zM58 56h1v1h-1zM56 56h1v1h-1zM14 56h1v1h-1zM36 56h1v1h-1zM60 56h1v1h-1zM40 56h1v1h-1zM22 56h1v1h-1zM4 56h2v1h-2zM42 56h1v1h-1zM10 56h2v1h-2zM26 56h1v1h-1zM2 56h1v1h-1zM28 56h1v1h-1zM7 56h2v1h-2zM54 56h1v1h-1zM62 56h1v2h-1zM19 56h1v2h-1zM31 57h1v1h-1zM46 57h1v1h-1zM10 57h1v1h-1zM12 57h3v1h-3zM34 57h3v1h-3zM52 57h3v1h-3zM21 57h1v1h-1zM8 57h1v2h-1zM41 57h1v2h-1zM1 58h2v1h-2zM18 58h1v1h-1zM23 58h1v1h-1zM20 58h1v1h-1zM11 58h3v1h-3zM39 58h1v1h-1zM33 58h2v1h-2zM37 58h1v1h-1zM56 58h2v1h-2zM4 58h1v1h-1zM15 58h2v1h-2zM54 58h1v1h-1zM52 58h1v2h-1zM43 58h1v2h-1zM0 59h1v1h-1zM17 59h1v1h-1zM12 59h1v1h-1zM34 59h1v1h-1zM25 59h3v1h-3zM29 59h1v1h-1zM61 59h1v1h-1zM15 59h1v1h-1zM38 59h3v1h-3zM2 59h6v1h-6zM9 59h1v1h-1zM44 60h1v1h-1zM58 60h1v1h-1zM32 60h1v1h-1zM8 60h1v1h-1zM12 60h3v1h-3zM34 60h3v1h-3zM4 60h2v1h-2zM47 60h3v1h-3zM40 60h2v1h-2zM11 61h1v1h-1zM27 61h2v1h-2zM17 61h1v1h-1zM49 61h1v1h-1zM35 61h1v1h-1zM6 61h1v1h-1zM23 61h2v1h-2zM56 61h2v1h-2zM51 61h3v1h-3zM9 61h1v1h-1zM42 61h1v1h-1zM37 61h1v1h-1zM39 61h1v2h-1zM63 61h1v2h-1zM47 62h1v1h-1zM58 62h1v1h-1zM34 62h1v1h-1zM45 62h1v1h-1zM30 62h1v1h-1zM3 62h1v1h-1zM36 62h1v1h-1zM41 62h1v1h-1zM60 62h1v1h-1zM5 62h2v1h-2zM49 62h4v1h-4zM13 62h2v1h-2zM8 62h2v1h-2zM26 62h2v1h-2zM17 62h4v1h-4zM56 62h1v2h-1zM11 63h1v1h-1zM39 63h2v1h-2zM7 63h1v1h-1zM2 63h1v1h-1zM13 63h1v1h-1zM18 63h1v1h-1zM24 63h1v1h-1zM27 63h1v1h-1zM29 63h1v1h-1zM15 63h1v1h-1zM32 63h1v1h-1zM35 63h1v1h-1zM43 63h4v1h-4zM50 63h3v1h-3zM9 63h1v1h-1zM21 63h1v1h-1zM54 63h1v1h-1z" fill="#000"/></pattern><pattern id="p8" width="64" height="64" patternUnits="userSpaceOnUse"><path d="M57 0h1v1h-1zM28 0h1v1h-1zM12 0h1v1h-1zM18 0h1v1h-1zM24 0h1v1h-1zM46 0h1v1h-1zM22 0h1v1h-1zM37 0h3v1h-3zM41 0h1v1h-1zM60 0h1v1h-1zM5 0h1v1h-1zM50 0h3v1h-3zM63 0h1v1h-1zM54 0h2v1h-2zM7 0h2v1h-2zM30 0h2v1h-2zM14 0h2v1h-2zM11 1h1v1h-1zM47 1h1v1h-1zM39 1h2v1h-2zM34 1h1v1h-1zM29 1h1v1h-1zM13 1h1v1h-1zM27 1h1v1h-1zM45 1h1v1h-1zM50 1h1v1h-1zM15 1h1v1h-1zM31 1h1v1h-1zM6 1h4v1h-4zM52 1h8v1h-8zM25 1h1v1h-1zM42 1h1v1h-1zM37 1h1v1h-1zM1 0h1v3h-1zM22 1h2v2h-2zM39 2h3v1h-3zM17 2h1v1h-1zM33 2h1v1h-1zM50 2h4v1h-4zM20 2h1v1h-1zM46 2h3v1h-3zM56 2h2v1h-2zM27 2h3v1h-3zM8 2h2v1h-2zM4 2h1v1h-1zM43 2h2v1h-2zM35 2h1v2h-1zM6 2h1v2h-1zM12 2h2v2h-2zM23 3h1v1h-1zM58 3h1v1h-1zM27 3h1v1h-1zM44 3h2v1h-2zM39 3h2v1h-2zM31 3h1v1h-1zM17 3h2v1h-2zM9 3h1v1h-1zM42 3h1v1h-1zM15 3h1v1h-1zM52 3h1v1h-1zM20 3h2v1h-2zM3 3h1v2h-1zM25 3h1v2h-1zM37 3h1v2h-1zM63 3h1v2h-1zM45 4h1v1h-1zM60 4h1v1h-1zM5 4h1v1h-1zM9 4h2v1h-2zM0 4h2v1h-2zM33 4h2v1h-2zM49 4h1v1h-1zM7 4h1v1h-1zM53 4h1v1h-1zM21 4h3v1h-3zM13 4h1v1h-1zM27 4h2v1h-2zM17 4h1v1h-1zM43 4h1v1h-1zM30 4h1v1h-1zM55 4h1v2h-1zM28 5h1v1h-1zM47 5h1v1h-1zM40 5h1v1h-1zM17 5h10v1h-10zM6 5h1v1h-1zM1 5h1v1h-1zM49 5h2v1h-2zM44 5h2v1h-2zM57 5h2v1h-2zM3 5h2v1h-2zM36 5h2v1h-2zM32 5h2v1h-2zM17 6h1v1h-1zM25 6h6v1h-6zM0 6h3v1h-3zM15 6h1v1h-1zM39 6h1v1h-1zM11 6h2v1h-2zM33 6h2v1h-2zM41 6h3v1h-3zM48 6h6v1h-6zM58 6h3v1h-3zM9 6h1v1h-1zM56 6h1v2h-1zM22 6h1v2h-1zM36 6h1v2h-1zM0 7h1v1h-1zM7 7h1v1h-1zM32 7h1v1h-1zM10 7h1v1h-1zM4 7h2v1h-2zM16 7h2v1h-2zM29 7h2v1h-2zM19 7h2v1h-2zM63 7h1v1h-1zM42 7h1v1h-1zM59 7h1v1h-1zM54 7h1v1h-1zM11 8h1v1h-1zM17 8h1v1h-1zM35 8h1v1h-1zM51 8h2v1h-2zM3 8h1v1h-1zM6 8h1v1h-1zM39 8h1v1h-1zM41 8h1v1h-1zM60 8h1v1h-1zM54 8h2v1h-2zM20 8h3v1h-3zM13 8h2v1h-2zM46 8h2v1h-2zM31 8h2v1h-2zM57 8h2v1h-2zM43 8h2v1h-2zM49 7h1v3h-1zM34 9h4v1h-4zM18 9h1v1h-1zM24 9h1v1h-1zM14 9h1v1h-1zM22 9h1v1h-1zM1 9h1v1h-1zM7 9h2v1h-2zM10 9h3v1h-3zM26 9h3v1h-3zM30 9h2v1h-2zM58 9h2v1h-2zM16 9h1v1h-1zM5 9h1v2h-1zM63 9h1v2h-1zM0 10h1v1h-1zM40 10h2v1h-2zM56 10h1v1h-1zM61 10h1v1h-1zM27 10h1v1h-1zM19 10h3v1h-3zM14 10h3v1h-3zM33 10h2v1h-2zM49 10h2v1h-2zM45 10h2v1h-2zM2 10h2v1h-2zM25 10h1v1h-1zM59 10h1v1h-1zM29 10h1v2h-1zM34 11h1v1h-1zM19 11h1v1h-1zM46 11h1v1h-1zM4 11h2v1h-2zM21 11h2v1h-2zM54 11h2v1h-2zM15 11h3v1h-3zM62 11h1v1h-1zM36 11h2v1h-2zM26 11h2v1h-2zM9 11h4v1h-4zM52 9h1v4h-1zM60 11h1v2h-1zM12 12h1v1h-1zM48 12h1v1h-1zM14 12h1v1h-1zM21 12h3v1h-3zM1 12h1v1h-1zM36 12h1v1h-1zM39 12h1v1h-1zM17 12h3v1h-3zM29 12h6v1h-6zM62 12h2v1h-2zM9 12h1v1h-1zM54 12h3v2h-3zM44 12h2v2h-2zM47 13h1v1h-1zM50 13h1v1h-1zM61 13h1v1h-1zM24 13h1v1h-1zM20 13h1v1h-1zM39 13h4v1h-4zM14 13h3v1h-3zM3 13h2v1h-2zM36 13h2v1h-2zM10 13h2v1h-2zM28 13h4v1h-4zM12 14h1v1h-1zM7 14h1v1h-1zM56 14h1v1h-1zM58 14h1v1h-1zM14 14h1v1h-1zM61 14h3v1h-3zM19 14h3v1h-3zM37 14h5v1h-5zM52 14h3v1h-3zM25 14h1v1h-1zM1 14h3v1h-3zM32 14h2v1h-2zM26 15h1v1h-1zM13 15h1v1h-1zM20 15h1v1h-1zM31 15h1v1h-1zM33 15h3v1h-3zM39 15h1v1h-1zM49 15h6v1h-6zM9 15h1v1h-1zM43 14h1v3h-1zM22 15h1v2h-1zM6 15h1v2h-1zM50 16h4v1h-4zM58 16h1v1h-1zM40 16h1v1h-1zM24 16h1v1h-1zM8 16h1v1h-1zM36 16h1v1h-1zM10 16h1v1h-1zM28 16h3v1h-3zM48 16h1v1h-1zM18 16h3v1h-3zM32 16h2v1h-2zM16 16h1v1h-1zM45 16h1v2h-1zM55 16h1v2h-1zM11 17h1v1h-1zM38 17h1v1h-1zM18 17h1v1h-1zM60 17h1v1h-1zM5 17h1v1h-1zM0 17h2v1h-2zM47 17h3v1h-3zM20 17h3v1h-3zM51 17h3v1h-3zM14 17h2v1h-2zM42 17h1v1h-1zM52 18h1v1h-1zM55 18h2v1h-2zM1 18h2v1h-2zM34 18h1v1h-1zM27 18h1v1h-1zM39 18h2v1h-2zM14 18h7v1h-7zM46 18h1v1h-1zM48 18h1v1h-1zM61 18h1v1h-1zM42 18h2v1h-2zM7 18h3v1h-3zM63 18h1v1h-1zM12 18h1v2h-1zM23 18h1v2h-1zM0 19h1v1h-1zM44 19h1v1h-1zM7 19h1v1h-1zM19 19h1v1h-1zM54 19h3v1h-3zM49 19h2v1h-2zM37 19h5v1h-5zM59 19h5v1h-5zM26 19h2v1h-2zM2 19h2v1h-2zM9 19h1v1h-1zM15 19h2v1h-2zM29 19h3v2h-3zM50 20h1v1h-1zM48 20h1v1h-1zM27 20h1v1h-1zM14 20h1v1h-1zM6 20h1v1h-1zM39 20h1v1h-1zM0 20h3v1h-3zM10 20h1v1h-1zM46 20h1v1h-1zM23 20h3v1h-3zM42 20h2v1h-2zM58 20h6v1h-6zM33 20h2v1h-2zM21 20h1v1h-1zM16 20h1v1h-1zM49 21h1v1h-1zM33 21h1v1h-1zM28 21h1v1h-1zM52 21h1v1h-1zM26 21h1v1h-1zM24 21h1v1h-1zM57 21h1v1h-1zM59 21h1v1h-1zM15 21h1v1h-1zM37 21h2v1h-2zM61 21h2v1h-2zM40 21h2v1h-2zM9 21h1v1h-1zM4 21h1v1h-1zM44 21h4v1h-4zM18 21h1v2h-1zM35 21h1v2h-1zM12 22h4v1h-4zM29 22h1v1h-1zM27 22h1v1h-1zM22 22h1v1h-1zM48 22h1v1h-1zM20 22h1v1h-1zM31 22h1v1h-1zM61 22h1v1h-1zM42 22h2v1h-2zM54 22h6v1h-6zM63 22h1v1h-1zM2 22h2v1h-2zM5 22h3v1h-3zM25 22h1v1h-1zM50 22h1v2h-1zM12 23h1v1h-1zM34 23h1v1h-1zM14 23h1v1h-1zM6 23h1v1h-1zM44 23h3v1h-3zM37 23h4v1h-4zM17 23h2v1h-2zM62 23h1v1h-1zM3 23h2v1h-2zM31 23h2v1h-2zM26 23h2v1h-2zM54 23h1v1h-1zM9 22h2v3h-2zM42 23h1v2h-1zM59 23h1v2h-1zM48 24h5v1h-5zM39 24h2v1h-2zM29 24h1v1h-1zM32 24h1v1h-1zM35 24h1v1h-1zM46 24h1v1h-1zM20 24h1v1h-1zM5 24h1v1h-1zM23 24h2v1h-2zM62 24h2v1h-2zM12 24h5v1h-5zM57 23h1v3h-1zM27 24h1v2h-1zM11 25h1v1h-1zM22 25h2v1h-2zM33 25h1v1h-1zM0 25h4v1h-4zM7 25h1v1h-1zM43 25h1v1h-1zM55 25h1v1h-1zM37 25h2v1h-2zM16 25h2v1h-2zM30 25h2v1h-2zM25 25h1v1h-1zM9 25h1v1h-1zM48 25h2v1h-2zM52 26h1v1h-1zM17 26h1v1h-1zM12 26h1v1h-1zM29 26h1v1h-1zM4 26h3v1h-3zM14 26h1v1h-1zM1 26h1v1h-1zM21 26h2v1h-2zM38 26h2v1h-2zM61 26h2v1h-2zM45 26h2v1h-2zM26 26h2v1h-2zM32 26h3v2h-3zM61 27h1v1h-1zM7 27h1v1h-1zM53 27h1v1h-1zM27 27h1v1h-1zM3 27h1v1h-1zM22 27h1v1h-1zM36 27h1v1h-1zM11 27h3v1h-3zM49 27h3v1h-3zM42 27h4v1h-4zM9 27h1v1h-1zM59 27h1v1h-1zM16 27h1v1h-1zM55 26h2v3h-2zM22 28h2v1h-2zM33 28h1v1h-1zM1 28h2v1h-2zM18 28h1v1h-1zM13 28h1v1h-1zM49 28h1v1h-1zM51 28h2v1h-2zM20 28h1v1h-1zM28 28h3v1h-3zM41 28h2v1h-2zM37 28h1v1h-1zM62 28h1v1h-1zM11 28h1v2h-1zM26 28h1v2h-1zM17 29h1v1h-1zM7 29h1v1h-1zM29 29h1v1h-1zM14 29h1v1h-1zM47 29h4v1h-4zM1 29h1v1h-1zM3 29h3v1h-3zM44 29h2v1h-2zM31 29h3v1h-3zM9 29h1v1h-1zM19 29h5v1h-5zM61 29h1v2h-1zM27 30h2v1h-2zM57 30h1v1h-1zM1 30h2v1h-2zM18 30h1v1h-1zM43 30h1v1h-1zM22 30h1v1h-1zM15 30h1v1h-1zM8 30h3v1h-3zM24 30h2v1h-2zM35 29h1v3h-1zM48 30h1v2h-1zM50 30h3v2h-3zM11 31h1v1h-1zM5 31h5v1h-5zM56 31h1v1h-1zM40 31h1v1h-1zM13 31h1v1h-1zM30 31h1v1h-1zM54 31h1v1h-1zM23 31h2v1h-2zM62 31h1v1h-1zM58 31h2v1h-2zM21 31h1v1h-1zM16 31h1v1h-1zM46 30h1v3h-1zM44 32h1v1h-1zM52 32h1v1h-1zM7 32h1v1h-1zM34 32h1v1h-1zM32 32h1v1h-1zM19 32h1v1h-1zM5 32h1v1h-1zM2 32h2v1h-2zM48 32h2v1h-2zM37 31h1v3h-1zM61 32h1v2h-1zM33 33h1v1h-1zM17 33h1v1h-1zM2 33h1v1h-1zM47 33h4v1h-4zM8 33h1v1h-1zM27 33h1v1h-1zM6 33h1v1h-1zM19 33h6v1h-6zM29 33h3v1h-3zM42 33h4v1h-4zM14 33h2v1h-2zM4 33h1v1h-1zM56 33h2v2h-2zM27 34h2v1h-2zM12 34h1v1h-1zM23 34h1v1h-1zM30 34h4v1h-4zM35 34h1v1h-1zM43 34h1v1h-1zM41 34h1v1h-1zM50 34h1v1h-1zM16 34h3v1h-3zM20 34h1v1h-1zM10 34h1v1h-1zM0 34h2v1h-2zM3 34h2v1h-2zM59 34h4v1h-4zM53 34h2v1h-2zM38 35h1v1h-1zM13 35h1v1h-1zM0 35h3v1h-3zM49 35h3v1h-3zM21 35h2v1h-2zM17 35h2v1h-2zM29 35h2v1h-2zM46 35h2v1h-2zM63 35h1v1h-1zM4 35h1v1h-1zM43 35h2v1h-2zM33 35h1v2h-1zM54 35h1v2h-1zM49 36h1v1h-1zM58 36h1v1h-1zM61 36h1v1h-1zM51 36h2v1h-2zM8 36h1v1h-1zM5 36h1v1h-1zM28 36h3v1h-3zM25 36h1v1h-1zM36 36h2v1h-2zM39 36h3v1h-3zM15 36h2v1h-2zM21 36h1v1h-1zM34 37h1v1h-1zM13 37h1v1h-1zM19 37h1v1h-1zM37 37h2v1h-2zM59 37h2v1h-2zM8 37h3v1h-3zM46 37h3v1h-3zM51 37h3v1h-3zM63 37h1v1h-1zM31 37h2v1h-2zM26 37h2v1h-2zM5 37h2v1h-2zM44 37h1v2h-1zM2 37h1v2h-1zM12 38h1v1h-1zM27 38h1v1h-1zM36 38h1v1h-1zM9 38h2v1h-2zM62 38h1v1h-1zM18 38h1v1h-1zM53 38h1v1h-1zM22 38h1v1h-1zM20 38h1v1h-1zM0 38h1v1h-1zM33 38h1v1h-1zM57 38h1v1h-1zM24 38h1v1h-1zM46 38h1v1h-1zM6 38h1v1h-1zM41 38h1v1h-1zM49 38h2v1h-2zM16 38h1v2h-1zM22 39h2v1h-2zM47 39h1v1h-1zM61 39h1v1h-1zM34 39h1v1h-1zM3 39h1v1h-1zM14 39h1v1h-1zM1 39h1v1h-1zM18 39h3v1h-3zM54 39h1v1h-1zM11 39h2v1h-2zM39 39h7v1h-7zM28 39h2v1h-2zM63 39h1v1h-1zM49 39h4v1h-4zM5 39h2v1h-2zM0 40h1v1h-1zM27 40h2v1h-2zM17 40h1v1h-1zM12 40h1v1h-1zM33 40h1v1h-1zM39 40h3v1h-3zM49 40h1v1h-1zM30 40h1v1h-1zM46 40h1v1h-1zM35 40h3v1h-3zM51 40h4v1h-4zM7 40h2v1h-2zM20 40h2v1h-2zM56 41h1v1h-1zM22 41h1v1h-1zM1 41h1v1h-1zM31 41h1v1h-1zM25 41h2v1h-2zM3 41h2v1h-2zM17 41h3v1h-3zM7 41h3v1h-3zM41 41h2v1h-2zM61 41h2v1h-2zM44 41h5v1h-5zM14 41h2v1h-2zM54 41h1v1h-1zM49 42h1v1h-1zM18 42h1v1h-1zM3 42h4v1h-4zM32 42h1v1h-1zM35 42h1v1h-1zM14 42h1v1h-1zM55 42h1v1h-1zM39 42h1v1h-1zM44 42h3v1h-3zM51 42h1v1h-1zM21 42h2v1h-2zM28 42h2v1h-2zM8 42h2v1h-2zM63 42h1v1h-1zM37 42h1v1h-1zM57 42h2v1h-2zM11 42h1v2h-1zM55 43h2v1h-2zM51 43h2v1h-2zM60 43h1v1h-1zM34 43h3v1h-3zM62 43h2v1h-2zM24 43h2v1h-2zM19 43h3v1h-3zM13 43h2v1h-2zM46 43h2v1h-2zM5 43h1v2h-1zM38 44h1v1h-1zM34 44h1v1h-1zM43 44h1v1h-1zM19 44h1v1h-1zM55 44h1v1h-1zM58 44h2v1h-2zM51 44h1v1h-1zM16 44h2v1h-2zM26 44h3v1h-3zM2 44h2v1h-2zM31 44h2v1h-2zM10 44h2v1h-2zM14 44h1v2h-1zM58 45h1v1h-1zM56 45h1v1h-1zM60 45h1v1h-1zM16 45h1v1h-1zM49 45h1v1h-1zM62 45h1v1h-1zM18 45h1v1h-1zM40 45h1v1h-1zM22 45h1v1h-1zM20 45h1v1h-1zM4 45h2v1h-2zM37 45h2v1h-2zM52 45h2v1h-2zM32 45h2v1h-2zM2 45h1v1h-1zM46 45h1v1h-1zM28 45h1v1h-1zM30 45h1v1h-1zM10 45h1v1h-1zM35 46h1v1h-1zM8 46h1v1h-1zM37 46h3v1h-3zM15 46h1v1h-1zM23 46h3v1h-3zM50 46h3v1h-3zM54 46h2v1h-2zM44 46h2v1h-2zM30 46h2v1h-2zM41 46h2v1h-2zM47 46h2v1h-2zM20 46h2v1h-2zM0 46h1v2h-1zM61 46h1v2h-1zM6 46h1v2h-1zM38 47h1v1h-1zM45 47h1v1h-1zM51 47h2v1h-2zM27 47h1v1h-1zM14 47h1v1h-1zM31 47h1v1h-1zM55 47h1v1h-1zM58 47h2v1h-2zM63 47h1v1h-1zM11 47h2v1h-2zM17 47h2v1h-2zM3 47h2v1h-2zM9 47h1v1h-1zM42 47h1v1h-1zM34 47h1v2h-1zM49 48h1v1h-1zM57 48h1v1h-1zM17 48h1v1h-1zM19 48h4v1h-4zM13 48h1v1h-1zM3 48h1v1h-1zM43 48h1v1h-1zM46 48h1v1h-1zM5 48h1v1h-1zM51 48h1v1h-1zM37 48h2v1h-2zM8 48h3v1h-3zM59 48h5v1h-5zM29 48h2v1h-2zM40 48h1v2h-1zM24 48h2v2h-2zM38 49h1v1h-1zM52 49h1v1h-1zM8 49h1v1h-1zM14 49h1v1h-1zM22 49h1v1h-1zM20 49h1v1h-1zM31 49h1v1h-1zM33 49h3v1h-3zM42 49h2v1h-2zM54 49h2v1h-2zM47 49h2v1h-2zM5 49h2v1h-2zM27 49h2v2h-2zM57 49h4v2h-4zM39 50h2v1h-2zM7 50h1v1h-1zM2 50h1v1h-1zM9 50h3v1h-3zM30 50h4v1h-4zM46 50h1v1h-1zM5 50h1v1h-1zM23 50h3v1h-3zM62 50h2v1h-2zM16 50h2v1h-2zM48 50h3v1h-3zM35 50h2v1h-2zM52 50h2v1h-2zM42 50h1v1h-1zM19 50h1v2h-1zM57 51h1v1h-1zM35 51h1v1h-1zM8 51h1v1h-1zM14 51h1v1h-1zM6 51h1v1h-1zM27 51h1v1h-1zM39 51h1v1h-1zM51 51h1v1h-1zM55 51h1v1h-1zM2 51h3v1h-3zM41 51h3v1h-3zM45 51h2v1h-2zM24 51h2v1h-2zM63 51h1v1h-1zM31 51h2v1h-2zM37 51h1v1h-1zM10 51h1v2h-1zM0 52h1v1h-1zM28 52h1v1h-1zM38 52h1v1h-1zM53 52h1v1h-1zM2 52h1v1h-1zM13 52h1v1h-1zM42 52h1v1h-1zM46 52h1v1h-1zM61 52h1v1h-1zM4 52h2v1h-2zM32 52h3v1h-3zM16 52h4v1h-4zM59 52h1v1h-1zM22 52h2v2h-2zM36 52h1v2h-1zM6 53h2v1h-2zM17 53h1v1h-1zM52 53h1v1h-1zM43 53h1v1h-1zM57 53h4v1h-4zM63 53h1v1h-1zM9 53h2v1h-2zM38 53h2v1h-2zM48 53h3v1h-3zM14 53h2v1h-2zM54 53h1v1h-1zM45 53h1v2h-1zM27 54h2v1h-2zM57 54h1v1h-1zM40 54h1v1h-1zM42 54h1v1h-1zM8 54h1v1h-1zM14 54h1v1h-1zM51 54h2v1h-2zM31 54h1v1h-1zM60 54h4v1h-4zM54 54h2v1h-2zM17 54h2v1h-2zM10 54h3v1h-3zM25 54h1v1h-1zM1 54h3v1h-3zM11 55h1v1h-1zM26 55h1v1h-1zM2 55h1v1h-1zM46 55h4v1h-4zM22 55h1v1h-1zM7 55h3v1h-3zM37 55h2v1h-2zM54 55h5v1h-5zM18 55h2v1h-2zM29 55h2v1h-2zM41 55h2v1h-2zM15 55h2v1h-2zM32 55h2v1h-2zM35 55h1v2h-1zM22 56h2v1h-2zM33 56h1v1h-1zM55 56h2v1h-2zM19 56h1v1h-1zM62 56h1v1h-1zM38 56h4v1h-4zM2 56h2v1h-2zM43 56h3v1h-3zM49 56h4v1h-4zM9 56h1v1h-1zM26 56h2v1h-2zM5 56h2v1h-2zM12 56h1v2h-1zM14 56h1v2h-1zM49 57h1v1h-1zM3 57h4v1h-4zM23 57h1v1h-1zM43 57h5v1h-5zM41 57h1v1h-1zM39 57h1v1h-1zM56 57h1v1h-1zM54 57h1v1h-1zM0 57h2v1h-2zM32 57h6v1h-6zM8 57h2v1h-2zM63 57h1v1h-1zM20 57h2v1h-2zM16 57h1v1h-1zM18 57h1v2h-1zM28 58h1v1h-1zM26 58h1v1h-1zM13 58h1v1h-1zM8 58h1v1h-1zM24 58h1v1h-1zM40 58h1v1h-1zM42 58h1v1h-1zM10 58h1v1h-1zM33 58h3v1h-3zM49 58h3v1h-3zM61 58h3v1h-3zM21 58h2v1h-2zM54 58h2v1h-2zM57 58h3v1h-3zM15 58h1v2h-1zM4 58h1v2h-1zM45 59h1v1h-1zM56 59h1v1h-1zM27 59h1v1h-1zM29 59h1v1h-1zM22 59h1v1h-1zM36 59h3v1h-3zM50 59h2v1h-2zM9 59h1v1h-1zM11 59h1v1h-1zM1 59h2v1h-2zM6 59h1v1h-1zM31 59h3v1h-3zM59 59h4v1h-4zM17 59h1v1h-1zM40 59h2v1h-2zM19 59h1v2h-1zM38 60h1v1h-1zM33 60h1v1h-1zM28 60h1v1h-1zM7 60h1v1h-1zM43 60h1v1h-1zM25 60h2v1h-2zM5 60h1v1h-1zM0 60h2v1h-2zM58 60h3v1h-3zM15 60h3v1h-3zM10 60h3v1h-3zM45 60h2v1h-2zM63 60h1v1h-1zM54 59h1v3h-1zM30 60h1v2h-1zM51 60h1v2h-1zM11 61h1v1h-1zM57 61h1v1h-1zM47 61h1v1h-1zM26 61h1v1h-1zM45 61h1v1h-1zM35 61h1v1h-1zM3 61h1v1h-1zM39 61h1v1h-1zM7 61h3v1h-3zM21 61h2v1h-2zM42 61h1v1h-1zM16 61h1v2h-1zM12 62h1v1h-1zM23 62h1v1h-1zM27 62h1v1h-1zM59 62h3v1h-3zM9 62h2v1h-2zM0 62h2v1h-2zM7 62h1v1h-1zM18 62h1v1h-1zM29 62h1v1h-1zM40 62h1v1h-1zM55 62h1v1h-1zM3 62h3v1h-3zM44 62h1v1h-1zM46 62h1v1h-1zM36 62h2v1h-2zM52 62h1v1h-1zM50 62h1v1h-1zM63 62h1v1h-1zM20 62h2v1h-2zM58 63h1v1h-1zM61 63h1v1h-1zM3 63h1v1h-1zM6 63h1v1h-1zM1 63h1v1h-1zM51 63h1v1h-1zM37 63h2v1h-2zM18 63h2v1h-2zM46 63h2v1h-2zM22 63h3v1h-3zM26 63h2v1h-2z" fill="#000"/></pattern><pattern id="p9" width="64" height="64" patternUnits="userSpaceOnUse"><path d="M52 0h1v1h-1zM23 0h1v1h-1zM18 0h1v1h-1zM34 0h1v1h-1zM42 0h1v1h-1zM48 0h1v1h-1zM58 0h1v1h-1zM44 0h3v1h-3zM3 0h3v1h-3zM14 0h3v1h-3zM27 0h3v1h-3zM37 0h4v1h-4zM20 0h2v1h-2zM9 0h4v1h-4zM32 0h1v2h-1zM38 1h1v1h-1zM48 1h2v1h-2zM40 1h1v1h-1zM43 1h1v1h-1zM51 1h2v1h-2zM36 1h1v1h-1zM55 1h1v1h-1zM15 1h1v1h-1zM17 1h3v1h-3zM0 1h2v1h-2zM12 1h2v1h-2zM25 1h1v1h-1zM58 1h2v1h-2zM3 1h5v1h-5zM62 1h1v1h-1zM29 1h2v2h-2zM55 2h2v1h-2zM12 2h1v1h-1zM19 2h1v1h-1zM39 2h5v1h-5zM1 2h1v1h-1zM5 2h2v1h-2zM22 2h6v1h-6zM62 2h2v1h-2zM45 2h5v1h-5zM36 2h2v1h-2zM16 2h1v2h-1zM0 3h1v1h-1zM27 3h2v1h-2zM39 3h2v1h-2zM34 3h1v1h-1zM56 3h1v1h-1zM13 3h1v1h-1zM3 3h1v1h-1zM36 3h1v1h-1zM20 3h1v1h-1zM22 3h4v1h-4zM45 3h3v1h-3zM49 3h6v1h-6zM59 3h5v1h-5zM6 3h6v1h-6zM30 3h2v1h-2zM42 3h1v1h-1zM49 4h1v1h-1zM23 4h1v1h-1zM18 4h1v1h-1zM8 4h4v1h-4zM36 4h4v1h-4zM42 4h3v1h-3zM6 4h1v1h-1zM25 4h2v1h-2zM28 4h3v1h-3zM59 4h2v1h-2zM33 4h2v1h-2zM0 4h5v1h-5zM46 4h2v1h-2zM51 4h6v1h-6zM21 4h1v1h-1zM45 5h1v1h-1zM29 5h1v1h-1zM43 5h1v1h-1zM56 5h1v1h-1zM3 5h1v1h-1zM41 5h1v1h-1zM16 5h3v1h-3zM11 5h3v1h-3zM50 5h3v1h-3zM24 5h3v1h-3zM20 5h3v1h-3zM47 5h2v1h-2zM9 5h1v1h-1zM35 5h5v1h-5zM63 4h1v3h-1zM33 5h1v2h-1zM0 6h2v1h-2zM7 6h1v1h-1zM18 6h1v1h-1zM53 6h1v1h-1zM36 6h6v1h-6zM50 6h2v1h-2zM43 6h2v1h-2zM25 6h3v1h-3zM46 6h1v1h-1zM12 6h2v1h-2zM61 6h1v1h-1zM10 6h1v1h-1zM29 6h2v1h-2zM22 6h1v2h-1zM20 6h1v2h-1zM15 6h1v2h-1zM59 6h1v2h-1zM27 7h2v1h-2zM52 7h1v1h-1zM12 7h1v1h-1zM24 7h1v1h-1zM36 7h4v1h-4zM3 7h1v1h-1zM43 7h3v1h-3zM8 7h2v1h-2zM47 7h2v1h-2zM62 7h1v1h-1zM0 7h1v2h-1zM56 7h1v2h-1zM11 8h1v1h-1zM28 8h1v1h-1zM26 8h1v1h-1zM2 8h1v1h-1zM40 8h1v1h-1zM30 8h1v1h-1zM43 8h1v1h-1zM32 8h3v1h-3zM7 8h3v1h-3zM62 8h2v1h-2zM51 8h3v1h-3zM17 8h2v1h-2zM23 8h2v1h-2zM46 8h2v1h-2zM20 8h2v1h-2zM13 8h2v2h-2zM27 9h2v1h-2zM60 9h2v1h-2zM8 9h4v1h-4zM30 9h4v1h-4zM24 9h1v1h-1zM45 9h1v1h-1zM6 9h1v1h-1zM39 9h4v1h-4zM49 9h5v1h-5zM56 9h2v1h-2zM19 9h2v1h-2zM37 9h1v1h-1zM0 9h2v2h-2zM3 9h2v2h-2zM28 10h1v1h-1zM55 10h2v1h-2zM9 10h2v1h-2zM37 10h2v1h-2zM40 10h3v1h-3zM16 10h2v1h-2zM20 10h6v1h-6zM33 10h2v1h-2zM44 10h2v1h-2zM47 10h2v1h-2zM12 10h1v2h-1zM31 10h1v2h-1zM0 11h1v1h-1zM44 11h1v1h-1zM52 11h1v1h-1zM7 11h1v1h-1zM29 11h1v1h-1zM34 11h1v1h-1zM46 11h1v1h-1zM63 11h1v1h-1zM5 11h1v1h-1zM56 11h2v1h-2zM40 11h2v1h-2zM20 11h2v1h-2zM15 11h2v1h-2zM54 11h1v1h-1zM25 11h1v2h-1zM60 12h2v1h-2zM1 12h2v1h-2zM45 12h1v1h-1zM48 12h1v1h-1zM43 12h1v1h-1zM58 12h1v1h-1zM14 12h7v1h-7zM39 12h1v1h-1zM51 12h5v1h-5zM6 12h4v1h-4zM11 12h2v1h-2zM36 12h2v1h-2zM4 12h1v1h-1zM28 12h4v1h-4zM18 13h1v1h-1zM51 13h2v1h-2zM8 13h1v1h-1zM42 13h3v1h-3zM6 13h1v1h-1zM10 13h1v1h-1zM33 13h3v1h-3zM2 13h3v1h-3zM59 13h2v1h-2zM38 13h2v1h-2zM12 13h2v1h-2zM23 13h2v1h-2zM29 13h2v1h-2zM26 13h2v1h-2zM0 14h1v1h-1zM11 14h1v1h-1zM50 14h4v1h-4zM57 14h1v1h-1zM59 14h1v1h-1zM32 14h1v1h-1zM19 14h1v1h-1zM30 14h1v1h-1zM37 14h1v1h-1zM34 14h2v1h-2zM25 14h1v1h-1zM9 14h1v1h-1zM15 14h2v1h-2zM21 14h1v1h-1zM47 14h1v2h-1zM61 14h1v2h-1zM63 14h1v2h-1zM17 15h1v1h-1zM34 15h1v1h-1zM50 15h1v1h-1zM41 15h1v1h-1zM10 15h1v1h-1zM5 15h1v1h-1zM37 15h2v1h-2zM7 15h2v1h-2zM19 15h2v1h-2zM14 15h2v1h-2zM43 15h2v1h-2zM28 15h2v2h-2zM49 16h1v1h-1zM1 16h2v1h-2zM53 16h1v1h-1zM42 16h1v1h-1zM6 16h1v1h-1zM32 16h3v1h-3zM59 16h3v1h-3zM55 16h3v1h-3zM13 16h2v1h-2zM25 16h1v1h-1zM4 16h1v1h-1zM46 16h2v1h-2zM44 16h1v2h-1zM0 17h1v1h-1zM47 17h1v1h-1zM39 17h2v1h-2zM25 17h3v1h-3zM29 17h1v1h-1zM50 17h1v1h-1zM22 17h1v1h-1zM59 17h2v1h-2zM12 17h6v1h-6zM53 17h3v1h-3zM31 17h2v1h-2zM37 17h1v1h-1zM8 16h2v3h-2zM34 17h1v2h-1zM57 18h1v1h-1zM17 18h1v1h-1zM26 18h1v1h-1zM13 18h1v1h-1zM30 18h1v1h-1zM32 18h1v1h-1zM41 18h1v1h-1zM43 18h1v1h-1zM60 18h1v1h-1zM36 18h3v1h-3zM20 18h3v1h-3zM2 18h2v1h-2zM48 18h3v1h-3zM53 18h2v1h-2zM62 18h1v1h-1zM28 18h1v2h-1zM47 19h1v1h-1zM18 19h1v1h-1zM22 19h1v1h-1zM6 19h1v1h-1zM1 19h1v1h-1zM20 19h1v1h-1zM39 19h1v1h-1zM49 19h3v1h-3zM59 19h2v1h-2zM24 19h3v1h-3zM33 19h2v1h-2zM53 19h3v1h-3zM63 19h1v1h-1zM16 19h1v1h-1zM44 19h1v2h-1zM4 19h1v2h-1zM0 20h1v1h-1zM57 20h1v1h-1zM39 20h2v1h-2zM7 20h1v1h-1zM26 20h1v1h-1zM60 20h2v1h-2zM46 20h1v1h-1zM16 20h3v1h-3zM55 20h1v1h-1zM30 20h3v1h-3zM34 20h2v1h-2zM13 20h2v1h-2zM9 20h1v1h-1zM48 20h2v1h-2zM21 20h3v2h-3zM47 21h1v1h-1zM29 21h1v1h-1zM8 21h1v1h-1zM27 21h1v1h-1zM6 21h1v1h-1zM31 21h1v1h-1zM41 21h1v1h-1zM61 21h3v1h-3zM11 21h2v1h-2zM44 21h2v1h-2zM58 21h2v1h-2zM53 21h2v1h-2zM16 21h1v1h-1zM6 22h2v1h-2zM23 22h1v1h-1zM45 22h1v1h-1zM55 22h2v1h-2zM43 22h1v1h-1zM51 22h2v1h-2zM14 22h1v1h-1zM58 22h1v1h-1zM20 22h1v1h-1zM10 22h1v1h-1zM16 22h2v1h-2zM62 22h2v1h-2zM30 22h2v1h-2zM4 22h1v1h-1zM37 22h1v1h-1zM48 22h2v1h-2zM33 21h2v3h-2zM25 22h1v2h-1zM27 23h2v1h-2zM48 23h1v1h-1zM8 23h1v1h-1zM30 23h1v1h-1zM36 23h1v1h-1zM39 23h1v1h-1zM0 23h3v1h-3zM44 23h3v1h-3zM63 23h1v1h-1zM59 23h2v1h-2zM14 23h3v1h-3zM50 23h2v1h-2zM42 23h1v1h-1zM10 23h2v2h-2zM49 24h1v1h-1zM33 24h1v1h-1zM52 24h1v1h-1zM59 24h1v1h-1zM16 24h3v1h-3zM1 24h1v1h-1zM61 24h3v1h-3zM21 24h2v1h-2zM38 24h2v1h-2zM44 24h2v1h-2zM28 24h2v1h-2zM24 24h2v1h-2zM6 24h3v1h-3zM54 24h1v2h-1zM1 25h2v1h-2zM7 25h1v1h-1zM34 25h1v1h-1zM41 25h4v1h-4zM56 25h1v1h-1zM36 25h1v1h-1zM39 25h1v1h-1zM59 25h3v1h-3zM12 25h3v1h-3zM23 25h3v1h-3zM29 25h2v1h-2zM63 25h1v1h-1zM17 25h1v2h-1zM19 25h1v2h-1zM51 25h1v2h-1zM47 25h2v2h-2zM21 25h1v2h-1zM27 26h2v1h-2zM23 26h1v1h-1zM39 26h2v1h-2zM61 26h1v1h-1zM3 26h1v1h-1zM14 26h1v1h-1zM1 26h1v1h-1zM5 26h4v1h-4zM35 26h3v1h-3zM10 26h3v1h-3zM30 26h2v1h-2zM54 26h4v1h-4zM28 27h1v1h-1zM30 27h4v1h-4zM3 27h4v1h-4zM43 27h1v1h-1zM17 27h10v1h-10zM48 27h4v1h-4zM15 27h1v1h-1zM10 27h1v1h-1zM45 27h2v1h-2zM61 27h2v1h-2zM57 27h2v1h-2zM12 27h2v2h-2zM44 28h1v1h-1zM23 28h1v1h-1zM7 28h1v1h-1zM32 28h1v1h-1zM46 28h1v1h-1zM56 28h1v1h-1zM39 28h1v1h-1zM25 28h5v1h-5zM59 28h5v1h-5zM0 28h5v1h-5zM50 28h2v1h-2zM53 28h2v1h-2zM41 28h2v1h-2zM15 28h2v1h-2zM18 28h1v2h-1zM34 28h3v2h-3zM0 29h2v1h-2zM24 29h2v1h-2zM62 29h1v1h-1zM38 29h1v1h-1zM40 29h1v1h-1zM22 29h1v1h-1zM55 29h1v1h-1zM45 29h3v1h-3zM30 29h2v1h-2zM10 29h2v1h-2zM57 29h4v1h-4zM6 29h1v1h-1zM15 29h1v1h-1zM3 29h2v1h-2zM52 29h1v1h-1zM50 29h1v1h-1zM13 29h1v2h-1zM11 30h1v1h-1zM28 30h1v1h-1zM58 30h1v1h-1zM30 30h4v1h-4zM52 30h4v1h-4zM19 30h1v1h-1zM41 30h1v1h-1zM43 30h1v1h-1zM1 30h1v1h-1zM46 30h1v1h-1zM25 30h2v1h-2zM61 30h1v1h-1zM49 30h2v1h-2zM7 30h2v1h-2zM35 30h2v1h-2zM4 30h1v1h-1zM16 30h1v1h-1zM49 31h1v1h-1zM22 31h2v1h-2zM25 31h1v1h-1zM44 31h3v1h-3zM51 31h1v1h-1zM37 31h2v1h-2zM40 31h3v1h-3zM33 31h2v1h-2zM12 31h2v1h-2zM18 31h2v1h-2zM0 31h8v1h-8zM62 31h1v1h-1zM11 32h1v1h-1zM60 32h2v1h-2zM43 32h1v1h-1zM5 32h1v1h-1zM13 32h6v1h-6zM7 32h2v1h-2zM2 32h2v1h-2zM63 32h1v1h-1zM48 32h3v1h-3zM52 32h5v1h-5zM21 32h1v1h-1zM28 32h4v1h-4zM26 32h1v2h-1zM46 32h1v2h-1zM39 32h1v2h-1zM23 32h2v2h-2zM52 33h1v1h-1zM29 33h4v1h-4zM7 33h1v1h-1zM35 33h1v1h-1zM42 33h3v1h-3zM14 33h1v1h-1zM55 33h3v1h-3zM3 33h2v1h-2zM10 33h2v1h-2zM16 33h1v1h-1zM20 33h1v2h-1zM11 34h1v1h-1zM57 34h1v1h-1zM60 34h2v1h-2zM23 34h1v1h-1zM18 34h1v1h-1zM34 34h1v1h-1zM40 34h1v1h-1zM27 34h1v1h-1zM50 34h2v1h-2zM29 34h2v1h-2zM25 34h1v1h-1zM47 34h2v1h-2zM36 34h1v2h-1zM38 35h1v1h-1zM42 35h10v1h-10zM26 35h1v1h-1zM24 35h1v1h-1zM19 35h1v1h-1zM14 35h1v1h-1zM21 35h2v1h-2zM28 35h6v1h-6zM57 35h2v1h-2zM7 35h1v2h-1zM44 36h1v1h-1zM28 36h1v1h-1zM22 36h1v1h-1zM10 36h1v1h-1zM3 36h2v1h-2zM33 36h3v1h-3zM24 36h3v1h-3zM0 36h2v1h-2zM50 36h2v1h-2zM30 36h2v1h-2zM14 36h2v1h-2zM42 36h1v1h-1zM59 36h1v1h-1zM62 36h1v1h-1zM54 36h2v2h-2zM49 37h1v1h-1zM2 37h1v1h-1zM19 37h1v1h-1zM24 37h1v1h-1zM6 37h4v1h-4zM51 37h1v1h-1zM38 37h2v1h-2zM32 37h3v1h-3zM27 37h3v1h-3zM4 37h1v1h-1zM46 37h2v1h-2zM43 37h2v1h-2zM12 37h1v2h-1zM14 37h4v2h-4zM36 37h1v2h-1zM63 37h1v2h-1zM23 38h1v1h-1zM56 38h1v1h-1zM58 38h4v1h-4zM3 38h1v1h-1zM5 38h1v1h-1zM42 38h2v1h-2zM25 38h1v1h-1zM48 38h2v1h-2zM38 38h1v1h-1zM53 38h1v1h-1zM7 38h3v1h-3zM45 38h2v1h-2zM27 38h8v1h-8zM1 38h1v1h-1zM20 38h1v2h-1zM33 39h1v1h-1zM6 39h2v1h-2zM26 39h1v1h-1zM44 39h1v1h-1zM58 39h2v1h-2zM11 39h3v1h-3zM31 39h1v1h-1zM61 39h3v1h-3zM46 39h9v1h-9zM9 39h1v1h-1zM4 39h1v1h-1zM37 39h1v1h-1zM17 39h1v2h-1zM15 39h1v2h-1zM58 40h1v1h-1zM22 40h1v1h-1zM50 40h2v1h-2zM0 40h1v1h-1zM12 40h2v1h-2zM34 40h2v1h-2zM53 40h3v1h-3zM3 40h2v1h-2zM47 40h2v1h-2zM28 40h1v1h-1zM61 40h1v1h-1zM43 40h1v1h-1zM19 40h1v1h-1zM10 40h1v1h-1zM25 40h2v1h-2zM63 40h1v1h-1zM31 40h2v1h-2zM7 40h2v2h-2zM27 41h2v1h-2zM50 41h4v1h-4zM21 41h1v1h-1zM56 41h4v1h-4zM40 41h1v1h-1zM13 41h1v1h-1zM30 41h1v1h-1zM32 41h1v1h-1zM42 41h3v1h-3zM0 41h6v1h-6zM37 41h2v1h-2zM15 41h2v1h-2zM10 41h2v1h-2zM46 41h2v2h-2zM8 42h4v1h-4zM0 42h4v1h-4zM24 42h1v1h-1zM26 42h1v1h-1zM14 42h1v1h-1zM34 42h1v1h-1zM50 42h7v1h-7zM38 42h2v1h-2zM41 42h3v1h-3zM61 42h2v1h-2zM58 42h2v1h-2zM16 42h1v1h-1zM5 42h1v2h-1zM3 43h1v1h-1zM50 43h3v1h-3zM7 43h1v1h-1zM22 43h1v1h-1zM11 43h1v1h-1zM57 43h1v1h-1zM13 43h4v1h-4zM18 43h3v1h-3zM47 43h2v1h-2zM37 43h1v1h-1zM59 43h1v1h-1zM28 43h1v1h-1zM24 43h3v1h-3zM39 43h6v1h-6zM31 43h2v1h-2zM54 43h1v1h-1zM48 44h2v1h-2zM3 44h4v1h-4zM43 44h1v1h-1zM27 44h1v1h-1zM14 44h1v1h-1zM60 44h1v1h-1zM31 44h1v1h-1zM52 44h2v1h-2zM16 44h2v1h-2zM38 44h2v1h-2zM34 44h2v1h-2zM45 44h2v1h-2zM19 44h2v1h-2zM22 44h3v1h-3zM10 44h2v1h-2zM62 43h1v3h-1zM0 43h1v3h-1zM18 45h4v1h-4zM26 45h5v1h-5zM2 45h1v1h-1zM24 45h1v1h-1zM32 45h1v1h-1zM47 45h4v1h-4zM54 45h4v1h-4zM8 45h3v1h-3zM41 45h3v1h-3zM12 45h2v1h-2zM4 45h1v1h-1zM15 45h2v1h-2zM27 46h2v1h-2zM12 46h1v1h-1zM1 46h2v1h-2zM23 46h1v1h-1zM40 46h1v1h-1zM31 46h1v1h-1zM15 46h1v1h-1zM33 46h3v1h-3zM51 46h1v1h-1zM54 46h2v1h-2zM57 46h3v1h-3zM18 46h2v1h-2zM7 46h2v1h-2zM45 46h2v1h-2zM42 46h1v1h-1zM37 46h1v1h-1zM49 46h1v2h-1zM11 47h1v1h-1zM2 47h1v1h-1zM13 47h1v1h-1zM22 47h1v1h-1zM43 47h4v1h-4zM7 47h3v1h-3zM34 47h5v1h-5zM4 47h1v1h-1zM29 47h1v2h-1zM52 48h1v1h-1zM26 48h1v1h-1zM24 48h1v1h-1zM1 48h5v1h-5zM46 48h1v1h-1zM56 48h1v1h-1zM61 48h3v1h-3zM21 48h2v1h-2zM43 48h2v1h-2zM12 48h2v1h-2zM18 48h2v1h-2zM39 48h3v1h-3zM48 48h2v1h-2zM58 48h1v2h-1zM16 48h1v2h-1zM30 49h4v1h-4zM2 49h1v1h-1zM35 49h1v1h-1zM22 49h1v1h-1zM55 49h1v1h-1zM20 49h1v1h-1zM39 49h1v1h-1zM62 49h2v1h-2zM41 49h3v1h-3zM7 49h2v1h-2zM51 49h3v1h-3zM47 49h2v1h-2zM10 49h2v1h-2zM22 50h2v1h-2zM29 50h1v1h-1zM27 50h1v1h-1zM6 50h1v1h-1zM0 50h3v1h-3zM52 50h2v1h-2zM40 50h3v1h-3zM44 50h2v1h-2zM60 50h3v1h-3zM12 50h2v1h-2zM15 50h3v1h-3zM31 50h3v1h-3zM19 50h2v1h-2zM25 50h1v1h-1zM48 50h3v1h-3zM4 50h1v1h-1zM37 50h1v1h-1zM57 50h2v1h-2zM44 51h1v1h-1zM12 51h1v1h-1zM18 51h1v1h-1zM0 51h4v1h-4zM7 51h1v1h-1zM24 51h1v1h-1zM30 51h1v1h-1zM41 51h1v1h-1zM20 51h1v1h-1zM15 51h1v1h-1zM46 51h4v1h-4zM51 51h1v1h-1zM58 51h1v1h-1zM36 51h3v1h-3zM56 51h1v1h-1zM26 51h2v1h-2zM33 52h1v1h-1zM47 52h1v1h-1zM53 52h1v1h-1zM35 52h1v1h-1zM3 52h1v1h-1zM63 52h1v1h-1zM25 52h2v1h-2zM0 52h2v1h-2zM12 52h2v1h-2zM15 52h3v1h-3zM58 52h3v1h-3zM41 52h2v1h-2zM23 52h1v2h-1zM10 52h1v2h-1zM12 53h1v1h-1zM14 53h1v1h-1zM5 53h1v1h-1zM33 53h2v1h-2zM2 53h2v1h-2zM25 53h1v1h-1zM38 53h1v1h-1zM7 53h1v1h-1zM18 53h1v1h-1zM40 53h1v1h-1zM30 53h2v1h-2zM52 53h2v1h-2zM0 53h1v1h-1zM46 53h4v1h-4zM59 53h1v1h-1zM61 53h1v1h-1zM28 52h1v3h-1zM57 53h1v2h-1zM43 53h1v2h-1zM11 54h1v1h-1zM13 54h4v1h-4zM34 54h1v1h-1zM45 54h1v1h-1zM47 54h1v1h-1zM30 54h3v1h-3zM59 54h5v1h-5zM24 54h2v1h-2zM19 54h2v1h-2zM3 54h2v1h-2zM54 54h1v1h-1zM38 54h3v2h-3zM51 54h1v2h-1zM12 55h1v1h-1zM36 55h1v1h-1zM5 55h1v1h-1zM32 55h3v1h-3zM25 55h1v1h-1zM49 55h1v1h-1zM7 55h1v1h-1zM42 55h1v1h-1zM57 55h4v1h-4zM45 55h2v1h-2zM53 55h3v1h-3zM10 55h1v1h-1zM16 55h2v1h-2zM62 55h2v1h-2zM21 55h1v1h-1zM28 55h3v2h-3zM0 55h2v2h-2zM11 56h1v1h-1zM22 56h2v1h-2zM60 56h2v1h-2zM18 56h1v1h-1zM26 56h1v1h-1zM8 56h1v1h-1zM41 56h1v1h-1zM51 56h2v1h-2zM3 56h3v1h-3zM34 56h2v1h-2zM63 56h1v1h-1zM47 56h2v1h-2zM13 56h1v2h-1zM37 56h3v2h-3zM0 57h1v1h-1zM45 57h1v1h-1zM53 57h1v1h-1zM9 57h3v1h-3zM15 57h4v1h-4zM22 57h1v1h-1zM35 57h1v1h-1zM49 57h3v1h-3zM55 57h1v1h-1zM59 57h2v1h-2zM24 57h2v1h-2zM62 57h2v1h-2zM41 57h3v1h-3zM5 57h3v1h-3zM39 58h3v1h-3zM49 58h1v1h-1zM56 58h1v1h-1zM29 58h1v1h-1zM18 58h10v1h-10zM9 58h2v1h-2zM0 58h6v1h-6zM45 58h2v1h-2zM51 58h3v1h-3zM12 58h5v1h-5zM36 58h2v1h-2zM31 58h2v1h-2zM0 59h1v1h-1zM38 59h1v1h-1zM19 59h4v1h-4zM47 59h4v1h-4zM36 59h1v1h-1zM31 59h1v1h-1zM25 59h1v1h-1zM16 59h2v1h-2zM11 59h2v1h-2zM33 59h2v1h-2zM27 59h3v1h-3zM3 59h2v1h-2zM57 59h5v1h-5zM43 59h2v1h-2zM63 59h1v2h-1zM49 60h1v1h-1zM47 60h1v1h-1zM61 60h1v1h-1zM53 60h1v1h-1zM40 60h1v1h-1zM8 60h1v1h-1zM28 60h3v1h-3zM42 60h2v1h-2zM34 60h3v1h-3zM3 60h3v1h-3zM12 60h2v1h-2zM56 60h2v1h-2zM21 60h1v1h-1zM16 60h1v1h-1zM58 61h1v1h-1zM45 61h1v1h-1zM56 61h1v1h-1zM36 61h1v1h-1zM61 61h3v1h-3zM6 61h2v1h-2zM42 61h1v1h-1zM33 61h1v1h-1zM2 61h1v1h-1zM24 61h1v1h-1zM21 61h2v1h-2zM47 61h2v1h-2zM52 61h1v1h-1zM50 61h1v1h-1zM9 61h3v1h-3zM38 61h2v1h-2zM26 61h6v1h-6zM18 61h2v1h-2zM54 61h1v1h-1zM14 61h1v2h-1zM27 62h2v1h-2zM44 62h1v1h-1zM47 62h1v1h-1zM56 62h4v1h-4zM30 62h4v1h-4zM1 62h1v1h-1zM39 62h1v1h-1zM16 62h2v1h-2zM11 62h2v1h-2zM3 62h3v1h-3zM50 62h2v1h-2zM62 62h2v1h-2zM22 62h3v1h-3zM9 62h1v1h-1zM53 62h2v1h-2zM7 62h1v2h-1zM0 63h1v1h-1zM50 63h1v1h-1zM43 63h1v1h-1zM27 63h1v1h-1zM3 63h1v1h-1zM46 63h1v1h-1zM25 63h1v1h-1zM5 63h1v1h-1zM9 63h2v1h-2zM59 63h2v1h-2zM31 63h6v1h-6zM12 63h2v1h-2zM62 63h1v1h-1zM18 63h5v1h-5zM54 63h1v1h-1z" fill="#000"/></pattern><pattern id="p10" width="64" height="64" patternUnits="userSpaceOnUse"><path d="M57 0h1v1h-1zM12 0h1v1h-1zM26 0h1v1h-1zM39 0h2v1h-2zM45 0h1v1h-1zM4 0h3v1h-3zM0 0h3v1h-3zM59 0h4v1h-4zM17 0h3v1h-3zM42 0h2v1h-2zM54 0h2v1h-2zM8 0h3v1h-3zM47 0h2v1h-2zM28 0h2v1h-2zM14 0h2v1h-2zM36 0h2v1h-2zM31 0h2v1h-2zM21 0h1v1h-1zM12 1h4v1h-4zM5 1h5v1h-5zM48 1h2v1h-2zM53 1h1v1h-1zM27 1h1v1h-1zM3 1h1v1h-1zM31 1h1v1h-1zM38 1h3v1h-3zM44 1h3v1h-3zM51 1h1v1h-1zM59 1h5v1h-5zM56 1h2v1h-2zM22 1h3v1h-3zM42 1h1v1h-1zM33 1h4v1h-4zM0 1h1v2h-1zM17 1h4v2h-4zM22 2h2v1h-2zM29 2h4v1h-4zM13 2h1v1h-1zM39 2h1v1h-1zM42 2h2v1h-2zM34 2h3v1h-3zM56 2h8v1h-8zM45 2h2v1h-2zM52 2h2v1h-2zM26 2h2v1h-2zM10 2h2v1h-2zM44 3h1v1h-1zM19 3h4v1h-4zM46 3h4v1h-4zM35 3h1v1h-1zM41 3h1v1h-1zM51 3h2v1h-2zM54 3h3v1h-3zM61 3h3v1h-3zM37 3h2v1h-2zM0 3h2v1h-2zM31 3h3v1h-3zM25 3h1v1h-1zM59 3h1v1h-1zM16 3h1v1h-1zM27 3h1v2h-1zM0 4h1v1h-1zM49 4h1v1h-1zM29 4h4v1h-4zM47 4h1v1h-1zM56 4h1v1h-1zM60 4h2v1h-2zM22 4h1v1h-1zM51 4h3v1h-3zM37 4h8v1h-8zM34 4h2v1h-2zM2 4h2v1h-2zM24 4h2v1h-2zM63 4h1v1h-1zM8 4h5v1h-5zM5 4h2v1h-2zM16 4h4v2h-4zM38 5h1v1h-1zM55 5h2v1h-2zM23 5h1v1h-1zM46 5h4v1h-4zM58 5h1v1h-1zM3 5h1v1h-1zM14 5h1v1h-1zM36 5h1v1h-1zM41 5h1v1h-1zM60 5h1v1h-1zM51 5h1v1h-1zM0 5h2v1h-2zM27 5h3v1h-3zM10 5h2v1h-2zM32 5h2v1h-2zM13 6h4v1h-4zM34 6h1v1h-1zM29 6h1v1h-1zM32 6h1v1h-1zM5 6h1v1h-1zM23 6h3v1h-3zM40 6h6v1h-6zM8 6h3v1h-3zM48 6h3v1h-3zM36 6h2v1h-2zM53 6h8v1h-8zM62 5h2v3h-2zM18 6h3v2h-3zM1 6h3v2h-3zM56 7h1v1h-1zM14 7h1v1h-1zM6 7h1v1h-1zM43 7h3v1h-3zM10 7h1v1h-1zM38 7h2v1h-2zM33 7h2v1h-2zM58 7h3v1h-3zM50 7h5v1h-5zM30 7h2v1h-2zM16 7h1v1h-1zM24 7h2v2h-2zM11 8h1v1h-1zM61 8h1v1h-1zM7 8h1v1h-1zM34 8h1v1h-1zM3 8h1v1h-1zM28 8h3v1h-3zM38 8h6v1h-6zM45 8h3v1h-3zM57 8h3v1h-3zM13 8h2v1h-2zM19 8h2v1h-2zM9 8h1v1h-1zM49 8h4v1h-4zM54 8h1v1h-1zM0 8h1v2h-1zM17 8h1v2h-1zM63 8h1v2h-1zM38 9h1v1h-1zM47 9h1v1h-1zM49 9h1v1h-1zM40 9h1v1h-1zM51 9h9v1h-9zM8 9h1v1h-1zM4 9h3v1h-3zM20 9h1v1h-1zM42 9h3v1h-3zM13 9h3v1h-3zM30 9h3v1h-3zM35 9h2v1h-2zM10 9h1v2h-1zM23 9h3v2h-3zM12 10h1v1h-1zM0 10h4v1h-4zM45 10h1v1h-1zM42 10h1v1h-1zM30 10h1v1h-1zM39 10h1v1h-1zM51 10h5v1h-5zM59 10h2v1h-2zM35 10h3v1h-3zM14 10h3v1h-3zM7 10h2v1h-2zM47 10h2v1h-2zM32 10h2v1h-2zM27 9h1v3h-1zM57 10h1v2h-1zM20 10h2v2h-2zM49 11h1v1h-1zM29 11h1v1h-1zM63 11h1v1h-1zM44 11h3v1h-3zM2 11h3v1h-3zM51 11h4v1h-4zM31 11h6v1h-6zM24 11h2v1h-2zM8 11h2v1h-2zM41 11h2v1h-2zM11 11h4v1h-4zM17 11h1v2h-1zM1 12h2v1h-2zM23 12h1v1h-1zM26 12h1v1h-1zM45 12h1v1h-1zM28 12h10v1h-10zM47 12h1v1h-1zM58 12h2v1h-2zM42 12h2v1h-2zM12 12h2v1h-2zM7 12h2v1h-2zM53 12h3v1h-3zM19 12h2v1h-2zM4 12h1v1h-1zM62 12h1v1h-1zM49 13h1v1h-1zM44 13h1v1h-1zM39 13h2v1h-2zM29 13h1v1h-1zM51 13h2v1h-2zM19 13h1v1h-1zM1 13h5v1h-5zM32 13h4v1h-4zM59 13h3v1h-3zM10 13h1v1h-1zM23 13h3v1h-3zM12 13h5v1h-5zM42 13h1v1h-1zM21 13h1v1h-1zM54 13h1v1h-1zM8 13h1v2h-1zM63 13h1v2h-1zM33 14h1v1h-1zM2 14h1v1h-1zM35 14h1v1h-1zM48 14h1v1h-1zM10 14h4v1h-4zM15 14h1v1h-1zM40 14h3v1h-3zM59 14h2v1h-2zM20 14h3v1h-3zM50 14h5v1h-5zM30 14h2v1h-2zM24 14h5v1h-5zM56 13h2v3h-2zM0 14h1v2h-1zM23 15h1v1h-1zM8 15h4v1h-4zM25 15h3v1h-3zM13 15h1v1h-1zM4 15h3v1h-3zM19 15h1v1h-1zM29 15h1v1h-1zM35 15h7v1h-7zM51 15h2v1h-2zM54 15h1v1h-1zM32 15h2v1h-2zM47 15h3v1h-3zM59 15h4v1h-4zM21 15h1v1h-1zM16 15h1v1h-1zM45 15h1v2h-1zM40 16h4v1h-4zM58 16h1v1h-1zM2 16h1v1h-1zM24 16h1v1h-1zM27 16h1v1h-1zM53 16h4v1h-4zM60 16h1v1h-1zM4 16h6v1h-6zM21 16h2v1h-2zM29 16h3v1h-3zM12 16h2v1h-2zM18 16h2v1h-2zM15 16h2v1h-2zM33 16h4v1h-4zM47 16h5v1h-5zM12 17h1v1h-1zM23 17h1v1h-1zM51 17h1v1h-1zM25 17h1v1h-1zM53 17h1v1h-1zM4 17h5v1h-5zM36 17h3v1h-3zM0 17h1v1h-1zM33 17h1v1h-1zM48 17h1v1h-1zM15 17h1v1h-1zM45 17h2v1h-2zM58 17h2v1h-2zM17 17h1v1h-1zM43 17h1v1h-1zM30 17h1v1h-1zM10 17h1v1h-1zM40 17h2v1h-2zM21 17h1v1h-1zM63 16h1v3h-1zM39 18h2v1h-2zM19 18h4v1h-4zM13 18h1v1h-1zM29 18h1v1h-1zM34 18h1v1h-1zM36 18h1v1h-1zM0 18h3v1h-3zM51 18h2v1h-2zM9 18h2v1h-2zM43 18h7v1h-7zM26 18h2v1h-2zM16 18h1v1h-1zM7 18h1v2h-1zM32 18h1v2h-1zM60 18h1v2h-1zM47 19h4v1h-4zM3 19h1v1h-1zM28 19h3v1h-3zM0 19h2v1h-2zM10 19h3v1h-3zM57 19h2v1h-2zM25 19h1v1h-1zM40 19h4v1h-4zM37 19h2v1h-2zM20 19h3v1h-3zM34 19h2v1h-2zM14 19h2v1h-2zM52 19h1v1h-1zM17 19h1v1h-1zM62 19h2v1h-2zM54 19h1v1h-1zM5 19h1v2h-1zM12 20h1v1h-1zM34 20h1v1h-1zM14 20h1v1h-1zM59 20h3v1h-3zM43 20h3v1h-3zM16 20h1v1h-1zM18 20h1v1h-1zM20 20h1v1h-1zM31 20h1v1h-1zM52 20h5v1h-5zM1 20h2v1h-2zM23 20h2v1h-2zM37 20h1v1h-1zM10 20h1v1h-1zM7 20h2v1h-2zM40 20h2v1h-2zM26 20h3v1h-3zM47 20h1v2h-1zM50 20h1v2h-1zM27 21h1v1h-1zM3 21h1v1h-1zM60 21h1v1h-1zM19 21h3v1h-3zM33 21h5v1h-5zM62 21h1v1h-1zM55 21h1v1h-1zM8 21h2v1h-2zM52 21h2v1h-2zM43 21h2v1h-2zM0 21h1v1h-1zM11 21h1v1h-1zM57 21h1v1h-1zM13 21h1v1h-1zM39 21h1v1h-1zM29 21h1v2h-1zM24 21h1v2h-1zM48 22h1v1h-1zM31 22h7v1h-7zM44 22h3v1h-3zM54 22h2v1h-2zM0 22h2v1h-2zM61 22h2v1h-2zM18 22h2v1h-2zM40 22h2v1h-2zM3 22h2v1h-2zM6 22h3v1h-3zM58 22h2v1h-2zM15 22h2v1h-2zM21 22h1v2h-1zM27 23h2v1h-2zM23 23h1v1h-1zM30 23h4v1h-4zM58 23h1v1h-1zM8 23h1v1h-1zM63 23h1v1h-1zM0 23h3v1h-3zM10 23h1v1h-1zM5 23h1v1h-1zM12 23h3v1h-3zM16 23h2v1h-2zM36 23h3v1h-3zM45 23h2v1h-2zM49 23h5v1h-5zM25 23h1v1h-1zM42 23h1v1h-1zM55 24h2v1h-2zM43 24h3v1h-3zM13 24h2v1h-2zM16 24h1v1h-1zM40 24h1v1h-1zM23 24h3v1h-3zM59 24h2v1h-2zM10 24h2v1h-2zM33 24h1v1h-1zM2 24h1v1h-1zM35 24h1v1h-1zM47 24h2v1h-2zM37 24h1v1h-1zM27 24h5v1h-5zM51 24h2v1h-2zM19 24h1v1h-1zM62 24h1v2h-1zM7 24h1v2h-1zM4 24h2v2h-2zM57 25h1v1h-1zM39 25h2v1h-2zM48 25h1v1h-1zM13 25h1v1h-1zM27 25h1v1h-1zM30 25h1v1h-1zM55 25h1v1h-1zM1 25h1v1h-1zM15 25h6v1h-6zM44 25h2v1h-2zM22 25h3v1h-3zM42 25h1v1h-1zM32 25h2v1h-2zM59 25h1v2h-1zM38 26h1v1h-1zM29 26h1v1h-1zM32 26h1v1h-1zM8 26h1v1h-1zM45 26h1v1h-1zM56 26h1v1h-1zM16 26h3v1h-3zM0 26h2v1h-2zM48 26h6v1h-6zM61 26h2v1h-2zM41 26h2v1h-2zM21 26h4v1h-4zM5 26h2v1h-2zM26 26h1v2h-1zM0 27h1v1h-1zM31 27h5v1h-5zM28 27h1v1h-1zM12 27h1v1h-1zM2 27h1v1h-1zM44 27h1v1h-1zM52 27h1v1h-1zM21 27h3v1h-3zM9 27h2v1h-2zM59 27h2v1h-2zM37 27h5v1h-5zM47 27h3v1h-3zM55 27h3v1h-3zM18 27h2v1h-2zM63 27h1v1h-1zM4 27h1v1h-1zM27 28h2v1h-2zM33 28h1v1h-1zM0 28h4v1h-4zM31 28h1v1h-1zM35 28h6v1h-6zM61 28h3v1h-3zM43 28h2v1h-2zM17 28h2v1h-2zM49 28h5v1h-5zM5 28h3v1h-3zM25 28h1v1h-1zM20 28h2v1h-2zM9 28h4v1h-4zM15 28h1v2h-1zM6 29h2v1h-2zM28 29h1v1h-1zM48 29h1v1h-1zM24 29h1v1h-1zM30 29h1v1h-1zM60 29h1v1h-1zM1 29h1v1h-1zM37 29h4v1h-4zM33 29h2v1h-2zM18 29h5v1h-5zM9 29h1v1h-1zM4 29h1v1h-1zM62 29h1v1h-1zM55 28h2v3h-2zM50 29h1v2h-1zM44 29h3v2h-3zM2 30h1v1h-1zM13 30h1v1h-1zM8 30h1v1h-1zM4 30h3v1h-3zM61 30h1v1h-1zM31 30h1v1h-1zM10 30h1v1h-1zM33 30h3v1h-3zM18 30h9v1h-9zM40 30h2v1h-2zM58 30h2v1h-2zM37 30h1v1h-1zM16 30h1v1h-1zM0 30h1v2h-1zM23 31h1v1h-1zM55 31h5v1h-5zM3 31h1v1h-1zM51 31h1v1h-1zM62 31h1v1h-1zM49 31h1v1h-1zM26 31h5v1h-5zM6 31h2v1h-2zM9 31h1v1h-1zM11 31h1v1h-1zM13 31h7v1h-7zM45 31h2v1h-2zM32 31h1v1h-1zM43 31h1v1h-1zM35 31h3v1h-3zM39 31h3v1h-3zM53 30h1v3h-1zM21 31h1v2h-1zM27 32h2v1h-2zM0 32h7v1h-7zM10 32h2v1h-2zM30 32h1v1h-1zM37 32h3v1h-3zM46 32h1v1h-1zM23 32h3v1h-3zM59 32h2v1h-2zM41 32h3v1h-3zM50 32h2v1h-2zM32 32h3v1h-3zM13 32h5v1h-5zM57 33h1v1h-1zM47 33h1v1h-1zM23 33h1v1h-1zM18 33h1v1h-1zM2 33h1v1h-1zM6 33h1v1h-1zM20 33h1v1h-1zM36 33h1v1h-1zM10 33h1v1h-1zM25 33h2v1h-2zM14 33h3v1h-3zM51 33h3v1h-3zM39 33h6v1h-6zM63 33h1v1h-1zM4 33h1v1h-1zM28 33h4v1h-4zM34 33h1v2h-1zM61 33h1v2h-1zM38 34h7v1h-7zM17 34h1v1h-1zM31 34h1v1h-1zM56 34h2v1h-2zM3 34h6v1h-6zM19 34h2v1h-2zM52 34h2v1h-2zM47 34h2v1h-2zM25 34h4v1h-4zM11 34h2v2h-2zM56 35h1v1h-1zM60 35h1v1h-1zM5 35h1v1h-1zM1 35h3v1h-3zM62 35h1v1h-1zM49 35h1v1h-1zM29 35h1v1h-1zM21 35h3v1h-3zM9 35h1v1h-1zM43 35h5v1h-5zM39 35h1v1h-1zM52 35h1v1h-1zM41 35h1v1h-1zM25 35h2v1h-2zM18 35h2v1h-2zM31 35h2v1h-2zM14 34h1v3h-1zM35 35h2v2h-2zM27 36h2v1h-2zM33 36h1v1h-1zM38 36h1v1h-1zM53 36h5v1h-5zM61 36h1v1h-1zM30 36h1v1h-1zM22 36h1v1h-1zM5 36h4v1h-4zM0 36h3v1h-3zM41 36h3v1h-3zM16 36h5v1h-5zM48 36h3v1h-3zM25 36h1v1h-1zM10 36h2v1h-2zM7 37h4v1h-4zM12 37h1v1h-1zM1 37h1v1h-1zM17 37h3v1h-3zM29 37h9v1h-9zM51 37h3v1h-3zM60 37h3v1h-3zM24 37h2v1h-2zM57 37h2v1h-2zM3 37h2v1h-2zM40 37h8v1h-8zM49 38h1v1h-1zM60 38h2v1h-2zM47 38h1v1h-1zM58 38h1v1h-1zM26 38h1v1h-1zM45 38h1v1h-1zM36 38h4v1h-4zM4 38h3v1h-3zM41 38h2v1h-2zM17 38h6v1h-6zM0 38h2v1h-2zM11 38h2v1h-2zM14 38h2v1h-2zM31 38h2v1h-2zM53 38h2v1h-2zM38 39h1v1h-1zM52 39h1v1h-1zM23 39h1v1h-1zM46 39h4v1h-4zM40 39h1v1h-1zM3 39h1v1h-1zM54 39h4v1h-4zM1 39h1v1h-1zM31 39h1v1h-1zM5 39h2v1h-2zM60 39h3v1h-3zM8 39h6v1h-6zM35 39h2v1h-2zM25 39h1v1h-1zM42 39h1v1h-1zM16 39h1v1h-1zM29 39h1v2h-1zM19 39h2v2h-2zM0 40h1v1h-1zM49 40h1v1h-1zM24 40h1v1h-1zM6 40h1v1h-1zM42 40h2v1h-2zM2 40h3v1h-3zM59 40h2v1h-2zM37 40h1v1h-1zM51 40h7v1h-7zM15 40h3v1h-3zM10 40h3v1h-3zM26 40h2v1h-2zM46 40h2v1h-2zM63 40h1v2h-1zM31 40h2v2h-2zM38 41h1v1h-1zM28 41h1v1h-1zM12 41h1v1h-1zM34 41h1v1h-1zM48 41h5v1h-5zM19 41h1v1h-1zM41 41h1v1h-1zM43 41h4v1h-4zM10 41h1v1h-1zM1 41h4v1h-4zM23 41h3v1h-3zM7 41h2v1h-2zM21 41h1v1h-1zM16 41h1v1h-1zM0 42h1v1h-1zM55 42h2v1h-2zM50 42h1v1h-1zM25 42h3v1h-3zM29 42h1v1h-1zM43 42h1v1h-1zM22 42h1v1h-1zM10 42h4v1h-4zM20 42h1v1h-1zM31 42h7v1h-7zM46 42h1v1h-1zM5 42h1v1h-1zM58 42h6v1h-6zM15 42h3v1h-3zM2 42h2v1h-2zM11 43h1v1h-1zM30 43h4v1h-4zM48 43h1v1h-1zM3 43h1v1h-1zM39 43h1v1h-1zM6 43h4v1h-4zM51 43h1v1h-1zM61 43h3v1h-3zM0 43h2v1h-2zM53 43h3v1h-3zM42 43h4v1h-4zM36 43h2v1h-2zM21 43h4v1h-4zM59 43h1v1h-1zM16 43h1v2h-1zM33 44h1v1h-1zM24 44h4v1h-4zM18 44h1v1h-1zM2 44h1v1h-1zM45 44h1v1h-1zM4 44h3v1h-3zM22 44h1v1h-1zM55 44h1v1h-1zM20 44h1v1h-1zM31 44h1v1h-1zM60 44h4v1h-4zM39 44h4v1h-4zM35 44h3v1h-3zM11 44h2v1h-2zM48 44h6v1h-6zM8 44h2v1h-2zM0 45h1v1h-1zM47 45h1v1h-1zM19 45h1v1h-1zM11 45h3v1h-3zM27 45h4v1h-4zM4 45h2v1h-2zM23 45h3v1h-3zM37 45h2v1h-2zM16 45h2v1h-2zM49 45h2v1h-2zM54 45h8v1h-8zM63 45h1v1h-1zM9 45h1v1h-1zM43 45h2v1h-2zM41 45h1v2h-1zM55 46h2v1h-2zM58 46h1v1h-1zM3 46h4v1h-4zM13 46h2v1h-2zM22 46h1v1h-1zM20 46h1v1h-1zM31 46h1v1h-1zM60 46h3v1h-3zM17 46h2v1h-2zM28 46h2v1h-2zM47 46h3v1h-3zM33 46h4v1h-4zM44 46h1v1h-1zM39 46h1v1h-1zM52 46h1v1h-1zM9 46h3v1h-3zM1 46h1v1h-1zM24 46h3v1h-3zM57 47h1v1h-1zM34 47h4v1h-4zM3 47h8v1h-8zM12 47h1v1h-1zM18 47h1v1h-1zM50 47h1v1h-1zM20 47h4v1h-4zM14 47h1v1h-1zM27 47h1v1h-1zM43 47h4v1h-4zM61 47h1v1h-1zM0 47h2v1h-2zM52 47h3v1h-3zM30 47h2v1h-2zM63 47h1v1h-1zM39 47h2v2h-2zM16 47h1v2h-1zM33 48h1v1h-1zM44 48h7v1h-7zM52 48h1v1h-1zM26 48h4v1h-4zM1 48h1v1h-1zM31 48h1v1h-1zM23 48h2v1h-2zM7 48h2v1h-2zM54 48h5v1h-5zM62 48h2v1h-2zM3 48h2v1h-2zM42 48h1v1h-1zM37 48h1v1h-1zM21 48h1v1h-1zM27 49h2v1h-2zM39 49h1v1h-1zM49 49h3v1h-3zM10 49h1v1h-1zM12 49h3v1h-3zM23 49h3v1h-3zM4 49h2v1h-2zM16 49h2v1h-2zM42 49h5v1h-5zM33 49h2v1h-2zM53 49h3v1h-3zM63 49h1v1h-1zM59 49h1v1h-1zM0 50h1v1h-1zM4 50h10v1h-10zM55 50h2v1h-2zM34 50h1v1h-1zM32 50h1v1h-1zM27 50h1v1h-1zM22 50h1v1h-1zM46 50h3v1h-3zM51 50h3v1h-3zM16 50h5v1h-5zM29 50h2v1h-2zM24 50h2v1h-2zM41 50h2v1h-2zM36 50h2v1h-2zM58 50h2v1h-2zM62 50h1v1h-1zM2 50h1v2h-1zM52 51h1v1h-1zM13 51h1v1h-1zM30 51h1v1h-1zM21 51h3v1h-3zM38 51h3v1h-3zM9 51h2v1h-2zM59 51h2v1h-2zM16 51h2v1h-2zM35 51h2v1h-2zM54 51h4v1h-4zM48 51h2v1h-2zM33 51h1v2h-1zM44 51h3v2h-3zM27 52h2v1h-2zM49 52h1v1h-1zM18 52h7v1h-7zM35 52h7v1h-7zM31 52h1v1h-1zM54 52h3v1h-3zM58 52h3v1h-3zM62 52h2v1h-2zM3 52h2v1h-2zM51 52h1v2h-1zM11 52h2v2h-2zM60 53h2v1h-2zM53 53h1v1h-1zM20 53h4v1h-4zM42 53h3v1h-3zM0 53h3v1h-3zM25 53h2v1h-2zM55 53h4v1h-4zM37 53h2v1h-2zM29 53h3v1h-3zM33 53h2v1h-2zM14 53h2v1h-2zM9 53h1v1h-1zM47 53h1v2h-1zM7 53h1v2h-1zM63 53h1v2h-1zM13 54h8v1h-8zM49 54h1v1h-1zM28 54h1v1h-1zM26 54h1v1h-1zM9 54h3v1h-3zM24 54h1v1h-1zM22 54h1v1h-1zM30 54h1v1h-1zM34 54h3v1h-3zM38 54h2v1h-2zM2 54h2v1h-2zM43 54h3v1h-3zM52 54h2v1h-2zM57 54h5v1h-5zM44 55h1v1h-1zM58 55h1v1h-1zM53 55h1v1h-1zM2 55h1v1h-1zM29 55h1v1h-1zM35 55h1v1h-1zM46 55h1v1h-1zM48 55h4v1h-4zM31 55h1v1h-1zM39 55h1v1h-1zM55 55h1v1h-1zM5 55h1v1h-1zM61 55h3v1h-3zM18 55h2v1h-2zM7 55h2v1h-2zM23 55h5v1h-5zM41 55h2v1h-2zM15 55h2v1h-2zM49 56h1v1h-1zM33 56h1v1h-1zM60 56h2v1h-2zM25 56h3v1h-3zM51 56h2v1h-2zM20 56h2v1h-2zM6 56h1v1h-1zM9 56h2v1h-2zM12 56h3v1h-3zM45 56h3v1h-3zM41 56h3v1h-3zM55 56h3v1h-3zM30 56h2v1h-2zM63 56h1v1h-1zM1 56h3v1h-3zM16 56h1v1h-1zM37 56h2v2h-2zM0 57h1v1h-1zM22 57h1v1h-1zM60 57h1v1h-1zM20 57h1v1h-1zM31 57h1v1h-1zM33 57h3v1h-3zM47 57h5v1h-5zM4 57h2v1h-2zM24 57h3v1h-3zM12 57h6v1h-6zM28 57h2v1h-2zM53 57h3v1h-3zM62 57h1v1h-1zM8 57h2v1h-2zM57 57h2v1h-2zM42 57h4v1h-4zM58 58h1v1h-1zM14 58h1v1h-1zM51 58h1v1h-1zM0 58h2v1h-2zM11 58h2v1h-2zM44 58h2v1h-2zM48 58h2v1h-2zM25 58h4v1h-4zM16 58h1v1h-1zM53 58h1v1h-1zM55 58h1v1h-1zM32 58h2v1h-2zM35 58h1v1h-1zM39 58h1v1h-1zM37 58h1v1h-1zM60 58h2v1h-2zM19 58h1v1h-1zM30 58h1v1h-1zM63 58h1v1h-1zM6 58h3v1h-3zM12 59h1v1h-1zM45 59h1v1h-1zM51 59h2v1h-2zM4 59h3v1h-3zM27 59h1v1h-1zM0 59h3v1h-3zM22 59h4v1h-4zM42 59h2v1h-2zM18 59h3v1h-3zM59 59h2v1h-2zM33 59h2v1h-2zM47 59h3v1h-3zM55 59h3v1h-3zM62 59h2v1h-2zM14 59h2v1h-2zM9 59h1v1h-1zM36 59h5v1h-5zM57 60h1v1h-1zM1 60h2v1h-2zM26 60h1v1h-1zM47 60h4v1h-4zM31 60h4v1h-4zM17 60h3v1h-3zM23 60h2v1h-2zM53 60h3v1h-3zM61 60h2v1h-2zM36 60h2v1h-2zM39 60h3v1h-3zM11 60h4v1h-4zM43 60h2v1h-2zM6 61h2v1h-2zM12 61h1v1h-1zM17 61h1v1h-1zM30 61h4v1h-4zM35 61h4v1h-4zM27 61h1v1h-1zM45 61h1v1h-1zM48 61h1v1h-1zM57 61h4v1h-4zM63 61h1v1h-1zM9 61h2v1h-2zM50 61h3v1h-3zM40 61h3v1h-3zM54 61h2v1h-2zM0 61h2v1h-2zM24 61h2v1h-2zM3 61h2v1h-2zM0 62h1v1h-1zM5 62h1v1h-1zM62 62h1v1h-1zM17 62h2v1h-2zM48 62h6v1h-6zM56 62h2v1h-2zM2 62h2v1h-2zM32 62h3v1h-3zM22 62h6v1h-6zM43 62h2v1h-2zM46 62h1v2h-1zM11 62h3v2h-3zM38 63h1v1h-1zM40 63h1v1h-1zM32 63h1v1h-1zM43 63h1v1h-1zM22 63h1v1h-1zM48 63h1v1h-1zM25 63h2v1h-2zM28 63h3v1h-3zM51 63h5v1h-5zM34 63h3v1h-3zM61 63h3v1h-3zM0 63h2v1h-2zM18 63h2v1h-2zM5 63h3v1h-3zM58 63h2v1h-2z" fill="#000"/></pattern><pattern id="p11" width="64" height="64" patternUnits="userSpaceOnUse"><path d="M18 0h4v1h-4zM52 0h1v1h-1zM31 0h1v1h-1zM54 0h2v1h-2zM14 0h3v1h-3zM34 0h12v1h-12zM0 0h5v1h-5zM57 0h2v1h-2zM24 0h5v1h-5zM8 0h5v1h-5zM62 0h1v1h-1zM47 0h4v2h-4zM33 1h1v1h-1zM6 1h2v1h-2zM28 1h1v1h-1zM24 1h1v1h-1zM52 1h2v1h-2zM11 1h12v1h-12zM62 1h2v1h-2zM0 1h2v1h-2zM44 1h2v1h-2zM57 1h3v1h-3zM35 1h2v1h-2zM30 1h2v1h-2zM3 1h2v1h-2zM9 1h1v1h-1zM38 1h4v1h-4zM0 2h1v1h-1zM5 2h5v1h-5zM18 2h1v1h-1zM39 2h2v1h-2zM13 2h1v1h-1zM63 2h1v1h-1zM51 2h1v1h-1zM42 2h2v1h-2zM24 2h3v1h-3zM54 2h2v1h-2zM20 2h3v1h-3zM2 2h2v1h-2zM45 2h5v1h-5zM58 2h2v1h-2zM15 2h2v1h-2zM29 2h8v1h-8zM23 3h1v1h-1zM31 3h4v1h-4zM1 3h1v1h-1zM37 3h2v1h-2zM44 3h5v1h-5zM51 3h7v1h-7zM59 3h5v1h-5zM40 3h2v1h-2zM27 3h3v1h-3zM11 3h8v1h-8zM5 3h2v1h-2zM8 3h1v2h-1zM20 3h2v2h-2zM0 4h1v1h-1zM29 4h4v1h-4zM2 4h1v1h-1zM24 4h1v1h-1zM6 4h1v1h-1zM27 4h1v1h-1zM15 4h1v1h-1zM48 4h1v1h-1zM54 4h2v1h-2zM17 4h2v1h-2zM50 4h2v1h-2zM35 4h12v1h-12zM10 4h3v1h-3zM4 4h1v1h-1zM59 4h1v1h-1zM63 4h1v2h-1zM27 5h2v1h-2zM33 5h1v1h-1zM1 5h2v1h-2zM7 5h1v1h-1zM39 5h8v1h-8zM56 5h1v1h-1zM61 5h1v1h-1zM31 5h1v1h-1zM11 5h3v1h-3zM4 5h2v1h-2zM49 5h6v1h-6zM20 5h3v1h-3zM15 5h3v1h-3zM36 5h2v1h-2zM9 5h1v1h-1zM58 5h2v1h-2zM48 6h5v1h-5zM12 6h1v1h-1zM1 6h5v1h-5zM26 6h4v1h-4zM31 6h4v1h-4zM15 6h1v1h-1zM44 6h3v1h-3zM60 6h4v1h-4zM21 6h2v1h-2zM38 6h2v1h-2zM18 6h2v1h-2zM41 6h2v1h-2zM24 6h1v2h-1zM10 6h1v2h-1zM7 6h2v2h-2zM54 6h1v2h-1zM45 7h1v1h-1zM56 7h1v1h-1zM58 7h4v1h-4zM33 7h2v1h-2zM40 7h4v1h-4zM29 7h1v1h-1zM22 7h1v1h-1zM4 7h2v1h-2zM36 7h3v1h-3zM50 7h2v1h-2zM26 7h1v1h-1zM48 7h1v1h-1zM12 7h2v1h-2zM1 7h1v1h-1zM15 7h3v1h-3zM63 7h1v2h-1zM0 8h1v1h-1zM60 8h2v1h-2zM6 8h2v1h-2zM28 8h7v1h-7zM53 8h1v1h-1zM2 8h1v1h-1zM45 8h5v1h-5zM51 8h1v1h-1zM39 8h4v1h-4zM11 8h6v1h-6zM36 8h2v1h-2zM9 8h1v1h-1zM4 8h1v1h-1zM18 8h8v1h-8zM49 9h1v1h-1zM34 9h4v1h-4zM0 9h4v1h-4zM27 9h5v1h-5zM51 9h5v1h-5zM21 9h2v1h-2zM57 9h3v1h-3zM8 9h9v1h-9zM24 9h2v1h-2zM41 9h2v1h-2zM44 9h4v1h-4zM5 9h2v1h-2zM18 9h1v2h-1zM38 10h1v1h-1zM1 10h2v1h-2zM13 10h1v1h-1zM8 10h1v1h-1zM32 10h1v1h-1zM43 10h1v1h-1zM58 10h2v1h-2zM24 10h3v1h-3zM46 10h3v1h-3zM28 10h2v1h-2zM50 10h2v1h-2zM40 10h2v1h-2zM62 10h2v1h-2zM4 10h1v1h-1zM53 10h2v1h-2zM34 10h1v2h-1zM10 10h2v2h-2zM56 11h4v1h-4zM29 11h1v1h-1zM42 11h1v1h-1zM1 11h5v1h-5zM44 11h4v1h-4zM18 11h10v1h-10zM36 11h1v1h-1zM38 11h3v1h-3zM51 11h2v1h-2zM13 11h3v1h-3zM7 11h2v1h-2zM63 11h1v1h-1zM31 11h2v1h-2zM31 12h5v1h-5zM6 12h2v1h-2zM41 12h4v1h-4zM1 12h1v1h-1zM39 12h1v1h-1zM51 12h5v1h-5zM23 12h3v1h-3zM47 12h2v1h-2zM28 12h2v1h-2zM13 12h6v1h-6zM59 12h5v1h-5zM3 12h2v1h-2zM9 12h1v1h-1zM37 12h1v1h-1zM42 13h10v1h-10zM18 13h1v1h-1zM57 13h4v1h-4zM6 13h1v1h-1zM0 13h3v1h-3zM10 13h1v1h-1zM20 13h7v1h-7zM12 13h3v1h-3zM37 13h2v1h-2zM53 13h3v1h-3zM28 13h8v1h-8zM62 13h1v1h-1zM11 14h1v1h-1zM24 14h5v1h-5zM49 14h1v1h-1zM32 14h5v1h-5zM53 14h1v1h-1zM58 14h1v1h-1zM39 14h5v1h-5zM14 14h1v1h-1zM45 14h3v1h-3zM17 14h2v1h-2zM20 14h3v1h-3zM62 14h2v1h-2zM6 14h3v1h-3zM1 14h3v1h-3zM55 14h1v2h-1zM29 15h4v1h-4zM18 15h1v1h-1zM2 15h1v1h-1zM40 15h1v1h-1zM27 15h1v1h-1zM42 15h1v1h-1zM60 15h4v1h-4zM5 15h1v1h-1zM37 15h2v1h-2zM7 15h2v1h-2zM34 15h2v1h-2zM12 15h5v1h-5zM45 15h5v1h-5zM20 15h2v1h-2zM23 15h3v2h-3zM44 16h1v1h-1zM52 16h1v1h-1zM8 16h4v1h-4zM31 16h4v1h-4zM3 16h1v1h-1zM14 16h1v1h-1zM1 16h1v1h-1zM17 16h3v1h-3zM54 16h2v1h-2zM49 16h2v1h-2zM59 16h5v1h-5zM46 16h2v1h-2zM39 16h3v1h-3zM5 16h2v1h-2zM28 16h1v2h-1zM17 17h1v1h-1zM2 17h1v1h-1zM45 17h5v1h-5zM5 17h8v1h-8zM35 17h7v1h-7zM19 17h3v1h-3zM51 17h13v1h-13zM24 17h2v1h-2zM30 17h2v1h-2zM14 17h2v1h-2zM39 18h3v1h-3zM45 18h1v1h-1zM58 18h2v1h-2zM53 18h4v1h-4zM51 18h1v1h-1zM21 18h2v1h-2zM2 18h6v1h-6zM61 18h2v1h-2zM27 18h3v1h-3zM47 18h2v1h-2zM9 18h1v1h-1zM31 18h2v1h-2zM12 18h8v1h-8zM0 17h1v3h-1zM45 19h4v1h-4zM27 19h4v1h-4zM11 19h5v1h-5zM35 19h2v1h-2zM24 19h2v1h-2zM22 19h1v1h-1zM20 19h1v1h-1zM32 19h2v1h-2zM2 19h1v1h-1zM7 19h3v1h-3zM53 19h9v1h-9zM17 19h1v1h-1zM50 19h1v1h-1zM41 19h1v1h-1zM63 19h1v1h-1zM38 19h1v2h-1zM4 19h2v2h-2zM43 19h1v2h-1zM12 20h7v1h-7zM7 20h1v1h-1zM24 20h1v1h-1zM26 20h4v1h-4zM51 20h2v1h-2zM31 20h1v1h-1zM0 20h3v1h-3zM9 20h2v1h-2zM20 20h3v1h-3zM56 20h8v1h-8zM45 20h5v1h-5zM33 20h4v1h-4zM0 21h1v1h-1zM19 21h8v1h-8zM44 21h1v1h-1zM13 21h4v1h-4zM32 21h5v1h-5zM47 21h4v1h-4zM57 21h7v1h-7zM10 21h1v1h-1zM40 21h3v1h-3zM52 21h3v1h-3zM28 21h2v1h-2zM3 21h1v2h-1zM5 21h1v2h-1zM35 22h4v1h-4zM7 22h1v1h-1zM18 22h1v1h-1zM14 22h1v1h-1zM27 22h4v1h-4zM9 22h2v1h-2zM20 22h3v1h-3zM53 22h3v1h-3zM24 22h2v1h-2zM59 22h1v1h-1zM16 22h1v1h-1zM40 22h1v2h-1zM43 22h1v2h-1zM45 22h7v2h-7zM62 22h2v2h-2zM19 23h8v1h-8zM33 23h1v1h-1zM2 23h1v1h-1zM4 23h3v1h-3zM35 23h2v1h-2zM56 23h5v1h-5zM8 23h5v1h-5zM54 23h1v1h-1zM30 23h2v2h-2zM11 24h1v1h-1zM24 24h5v1h-5zM18 24h1v1h-1zM51 24h2v1h-2zM8 24h1v1h-1zM44 24h6v1h-6zM54 24h6v1h-6zM61 24h3v1h-3zM21 24h2v1h-2zM36 24h6v1h-6zM14 24h3v1h-3zM33 24h2v1h-2zM1 24h3v2h-3zM27 25h1v1h-1zM14 25h1v1h-1zM51 25h1v1h-1zM57 25h2v1h-2zM7 25h1v1h-1zM29 25h1v1h-1zM17 25h2v1h-2zM41 25h2v1h-2zM48 25h1v1h-1zM24 25h1v1h-1zM35 25h1v1h-1zM20 25h3v1h-3zM31 25h3v1h-3zM45 25h2v1h-2zM53 25h3v1h-3zM37 25h1v1h-1zM10 25h1v1h-1zM63 25h1v1h-1zM12 26h1v1h-1zM36 26h1v1h-1zM39 26h2v1h-2zM30 26h2v1h-2zM33 26h1v1h-1zM57 26h1v1h-1zM6 26h4v1h-4zM54 26h2v1h-2zM3 26h2v1h-2zM52 26h1v1h-1zM28 26h1v1h-1zM19 26h4v1h-4zM44 26h6v1h-6zM16 26h2v1h-2zM24 26h3v1h-3zM62 26h1v2h-1zM59 26h2v2h-2zM42 26h1v2h-1zM12 27h4v1h-4zM6 27h2v1h-2zM53 27h5v1h-5zM18 27h1v1h-1zM48 27h1v1h-1zM30 27h1v1h-1zM46 27h1v1h-1zM9 27h2v1h-2zM2 27h3v1h-3zM21 27h7v1h-7zM0 26h1v3h-1zM50 27h2v2h-2zM32 27h9v2h-9zM19 28h4v1h-4zM55 28h5v1h-5zM5 28h8v1h-8zM28 28h3v1h-3zM24 28h3v1h-3zM15 28h3v1h-3zM44 28h5v1h-5zM61 28h2v1h-2zM22 29h2v1h-2zM12 29h1v1h-1zM45 29h5v1h-5zM32 29h1v1h-1zM30 29h1v1h-1zM14 29h1v1h-1zM36 29h4v1h-4zM16 29h3v1h-3zM0 29h3v1h-3zM25 29h2v1h-2zM52 29h9v1h-9zM5 29h6v1h-6zM62 29h2v1h-2zM41 29h2v1h-2zM11 30h1v1h-1zM52 30h1v1h-1zM8 30h1v1h-1zM57 30h7v1h-7zM6 30h1v1h-1zM1 30h1v1h-1zM41 30h7v1h-7zM55 30h1v1h-1zM29 30h3v1h-3zM33 30h6v1h-6zM17 30h2v1h-2zM23 30h2v1h-2zM3 30h2v1h-2zM20 30h2v1h-2zM13 30h2v2h-2zM49 31h1v1h-1zM18 31h1v1h-1zM40 31h1v1h-1zM51 31h1v1h-1zM55 31h4v1h-4zM37 31h2v1h-2zM0 31h2v1h-2zM3 31h9v1h-9zM24 31h12v1h-12zM46 31h2v1h-2zM42 31h1v1h-1zM16 31h1v1h-1zM53 31h1v2h-1zM20 31h1v2h-1zM62 31h2v2h-2zM44 32h1v1h-1zM1 32h2v1h-2zM35 32h1v1h-1zM46 32h1v1h-1zM31 32h1v1h-1zM49 32h3v1h-3zM5 32h1v1h-1zM37 32h4v1h-4zM7 32h3v1h-3zM55 32h6v1h-6zM11 32h8v1h-8zM24 32h5v1h-5zM22 31h1v3h-1zM47 33h1v1h-1zM27 33h1v1h-1zM60 33h4v1h-4zM37 33h2v1h-2zM16 33h2v1h-2zM0 33h2v1h-2zM3 33h3v1h-3zM51 33h4v1h-4zM34 33h2v1h-2zM40 33h2v1h-2zM43 33h3v1h-3zM8 33h2v1h-2zM31 33h2v1h-2zM19 33h2v1h-2zM12 33h2v2h-2zM38 34h1v1h-1zM33 34h1v1h-1zM57 34h1v1h-1zM2 34h1v1h-1zM40 34h1v1h-1zM42 34h3v1h-3zM26 34h4v1h-4zM55 34h1v1h-1zM31 34h1v1h-1zM8 34h3v1h-3zM47 34h3v1h-3zM15 34h9v1h-9zM35 34h2v1h-2zM52 34h2v1h-2zM59 34h4v1h-4zM39 35h2v1h-2zM26 35h1v1h-1zM48 35h1v1h-1zM24 35h1v1h-1zM50 35h1v1h-1zM3 35h1v1h-1zM22 35h1v1h-1zM20 35h1v1h-1zM52 35h4v1h-4zM42 35h2v1h-2zM0 35h2v1h-2zM45 35h2v1h-2zM33 35h5v1h-5zM62 35h2v1h-2zM30 35h2v1h-2zM11 35h8v1h-8zM9 35h1v1h-1zM59 35h1v1h-1zM4 36h4v1h-4zM22 36h2v1h-2zM48 36h2v1h-2zM27 36h5v1h-5zM34 36h1v1h-1zM13 36h1v1h-1zM1 36h1v1h-1zM56 36h3v1h-3zM51 36h4v1h-4zM15 36h3v1h-3zM19 36h2v1h-2zM25 36h1v1h-1zM40 36h5v1h-5zM37 36h1v1h-1zM10 36h2v1h-2zM63 36h1v2h-1zM9 37h3v1h-3zM43 37h1v1h-1zM34 37h6v1h-6zM4 37h2v1h-2zM50 37h3v1h-3zM54 37h2v1h-2zM46 37h3v1h-3zM26 37h6v1h-6zM14 37h3v1h-3zM18 37h6v1h-6zM0 38h1v1h-1zM48 38h1v1h-1zM5 38h8v1h-8zM15 38h4v1h-4zM30 38h1v1h-1zM20 38h1v1h-1zM46 38h1v1h-1zM35 38h3v1h-3zM55 38h3v1h-3zM23 38h2v1h-2zM26 38h3v1h-3zM50 38h2v1h-2zM59 38h5v1h-5zM40 38h5v1h-5zM49 39h1v1h-1zM17 39h1v1h-1zM47 39h1v1h-1zM26 39h1v1h-1zM22 39h3v1h-3zM14 39h1v1h-1zM51 39h1v1h-1zM4 39h2v1h-2zM61 39h2v1h-2zM19 39h2v1h-2zM7 39h5v1h-5zM58 39h2v1h-2zM41 39h5v1h-5zM29 39h8v1h-8zM54 39h2v2h-2zM4 40h4v1h-4zM60 40h2v1h-2zM45 40h1v1h-1zM2 40h1v1h-1zM25 40h3v1h-3zM40 40h1v1h-1zM21 40h3v1h-3zM42 40h2v1h-2zM30 40h9v1h-9zM17 40h2v1h-2zM10 40h6v1h-6zM47 40h5v1h-5zM57 40h2v2h-2zM49 41h1v1h-1zM60 41h1v1h-1zM36 41h1v1h-1zM55 41h1v1h-1zM15 41h1v1h-1zM23 41h3v1h-3zM39 41h4v1h-4zM51 41h3v1h-3zM10 41h3v1h-3zM32 41h3v1h-3zM45 41h2v1h-2zM20 41h2v1h-2zM62 41h1v1h-1zM7 41h2v2h-2zM11 42h1v1h-1zM47 42h1v1h-1zM55 42h5v1h-5zM31 42h1v1h-1zM40 42h6v1h-6zM16 42h6v1h-6zM24 42h6v1h-6zM34 42h3v1h-3zM62 42h2v1h-2zM50 42h2v1h-2zM13 42h2v1h-2zM0 41h6v3h-6zM12 43h1v1h-1zM45 43h1v1h-1zM22 43h5v1h-5zM8 43h1v1h-1zM57 43h7v1h-7zM10 43h1v1h-1zM40 43h3v1h-3zM28 43h6v1h-6zM35 43h3v1h-3zM15 43h6v1h-6zM54 43h1v1h-1zM47 43h5v1h-5zM38 44h1v1h-1zM52 44h1v1h-1zM59 44h1v1h-1zM1 44h5v1h-5zM46 44h1v1h-1zM31 44h1v1h-1zM54 44h2v1h-2zM14 44h3v1h-3zM40 44h5v1h-5zM18 44h2v1h-2zM48 44h3v1h-3zM62 44h1v1h-1zM27 44h3v1h-3zM21 44h4v1h-4zM33 44h4v1h-4zM9 44h4v1h-4zM48 45h5v1h-5zM40 45h2v1h-2zM19 45h1v1h-1zM14 45h1v1h-1zM55 45h1v1h-1zM61 45h3v1h-3zM16 45h1v1h-1zM43 45h2v1h-2zM2 45h2v1h-2zM28 45h5v1h-5zM25 45h1v1h-1zM36 45h2v1h-2zM58 45h2v1h-2zM5 45h2v1h-2zM12 45h1v2h-1zM34 45h1v2h-1zM9 45h2v2h-2zM14 46h4v1h-4zM32 46h1v1h-1zM45 46h1v1h-1zM36 46h1v1h-1zM38 46h3v1h-3zM42 46h2v1h-2zM0 46h2v1h-2zM59 46h5v1h-5zM48 46h3v1h-3zM19 46h11v1h-11zM52 46h5v1h-5zM3 46h5v1h-5zM56 47h1v1h-1zM3 47h4v1h-4zM34 47h5v1h-5zM27 47h1v1h-1zM30 47h1v1h-1zM40 47h1v1h-1zM42 47h3v1h-3zM18 47h3v1h-3zM58 47h6v1h-6zM12 47h5v1h-5zM22 47h3v1h-3zM9 47h1v1h-1zM49 47h4v1h-4zM54 47h1v1h-1zM46 47h1v2h-1zM6 48h5v1h-5zM32 48h1v1h-1zM60 48h1v1h-1zM1 48h1v1h-1zM38 48h6v1h-6zM56 48h3v1h-3zM62 48h2v1h-2zM52 48h3v1h-3zM14 48h9v1h-9zM34 48h2v1h-2zM29 48h2v1h-2zM24 48h2v1h-2zM3 48h2v1h-2zM48 48h2v1h-2zM57 49h1v1h-1zM34 49h4v1h-4zM45 49h4v1h-4zM19 49h4v1h-4zM24 49h1v1h-1zM26 49h4v1h-4zM39 49h1v1h-1zM42 49h2v1h-2zM9 49h5v1h-5zM16 49h2v1h-2zM50 49h5v1h-5zM0 49h8v1h-8zM31 49h2v1h-2zM62 49h1v1h-1zM59 49h2v2h-2zM31 50h5v1h-5zM43 50h1v1h-1zM37 50h3v1h-3zM41 50h1v1h-1zM47 50h6v1h-6zM0 50h2v1h-2zM54 50h2v1h-2zM16 50h8v1h-8zM6 50h3v1h-3zM4 50h1v1h-1zM28 50h1v2h-1zM63 50h1v2h-1zM11 50h4v2h-4zM49 51h1v1h-1zM33 51h1v1h-1zM23 51h1v1h-1zM56 51h1v1h-1zM58 51h1v1h-1zM60 51h1v1h-1zM44 51h3v1h-3zM51 51h1v1h-1zM35 51h3v1h-3zM19 51h3v1h-3zM53 51h2v1h-2zM40 51h2v1h-2zM0 51h8v1h-8zM44 52h1v1h-1zM0 52h4v1h-4zM15 52h14v1h-14zM46 52h1v1h-1zM32 52h4v1h-4zM61 52h3v1h-3zM54 52h2v1h-2zM11 52h2v1h-2zM7 52h2v1h-2zM48 52h3v1h-3zM57 52h2v1h-2zM37 52h4v1h-4zM42 52h1v1h-1zM52 52h1v2h-1zM0 53h1v1h-1zM50 53h1v1h-1zM34 53h1v1h-1zM56 53h4v1h-4zM32 53h1v1h-1zM30 53h1v1h-1zM41 53h1v1h-1zM36 53h1v1h-1zM16 53h5v1h-5zM26 53h3v1h-3zM43 53h6v1h-6zM13 53h2v1h-2zM61 53h2v1h-2zM22 53h3v1h-3zM54 53h1v1h-1zM4 53h4v2h-4zM10 53h2v2h-2zM45 54h4v1h-4zM57 54h1v1h-1zM1 54h2v1h-2zM53 54h1v1h-1zM35 54h1v1h-1zM13 54h7v1h-7zM55 54h1v1h-1zM59 54h3v1h-3zM27 54h4v1h-4zM23 54h3v1h-3zM50 54h2v1h-2zM39 54h3v1h-3zM37 54h1v1h-1zM0 55h1v1h-1zM60 55h2v1h-2zM2 55h17v1h-17zM26 55h1v1h-1zM24 55h1v1h-1zM41 55h1v1h-1zM21 55h2v1h-2zM36 55h3v1h-3zM32 55h3v1h-3zM45 55h14v1h-14zM43 54h1v3h-1zM49 56h1v1h-1zM26 56h5v1h-5zM33 56h1v1h-1zM23 56h1v1h-1zM8 56h4v1h-4zM3 56h4v1h-4zM13 56h7v1h-7zM35 56h7v1h-7zM47 56h1v1h-1zM1 56h1v1h-1zM51 56h10v1h-10zM63 56h1v1h-1zM21 56h1v1h-1zM59 57h1v1h-1zM6 57h2v1h-2zM50 57h7v1h-7zM13 57h1v1h-1zM43 57h3v1h-3zM24 57h3v1h-3zM61 57h2v1h-2zM15 57h3v1h-3zM0 57h5v1h-5zM34 57h2v1h-2zM20 57h2v1h-2zM10 57h2v1h-2zM28 57h4v1h-4zM0 58h1v1h-1zM27 58h9v1h-9zM10 58h5v1h-5zM39 58h2v1h-2zM7 58h1v1h-1zM18 58h1v1h-1zM55 58h2v1h-2zM20 58h4v1h-4zM42 58h3v1h-3zM46 58h1v1h-1zM61 58h1v1h-1zM50 58h3v1h-3zM3 58h2v1h-2zM58 58h2v1h-2zM16 58h1v2h-1zM47 59h1v1h-1zM2 59h1v1h-1zM54 59h4v1h-4zM60 59h1v1h-1zM49 59h3v1h-3zM4 59h2v1h-2zM7 59h3v1h-3zM27 59h6v1h-6zM42 59h4v1h-4zM35 59h5v1h-5zM18 59h8v1h-8zM11 60h1v1h-1zM6 60h2v1h-2zM3 60h1v1h-1zM1 60h1v1h-1zM20 60h1v1h-1zM53 60h7v1h-7zM28 60h3v1h-3zM23 60h3v1h-3zM38 60h2v1h-2zM13 60h6v1h-6zM61 60h2v1h-2zM32 60h3v1h-3zM45 60h5v1h-5zM9 60h1v1h-1zM0 61h1v1h-1zM34 61h4v1h-4zM39 61h3v1h-3zM47 61h1v1h-1zM53 61h1v1h-1zM2 61h1v1h-1zM43 61h1v1h-1zM55 61h2v1h-2zM58 61h1v1h-1zM6 61h1v1h-1zM51 61h1v1h-1zM61 61h3v1h-3zM16 61h8v1h-8zM12 61h2v1h-2zM8 61h2v1h-2zM4 61h1v1h-1zM26 61h7v2h-7zM12 62h4v1h-4zM45 62h7v1h-7zM58 62h4v1h-4zM53 62h4v1h-4zM63 62h1v1h-1zM0 62h3v1h-3zM10 62h1v1h-1zM4 62h5v1h-5zM41 62h3v1h-3zM22 62h3v1h-3zM35 62h5v1h-5zM17 62h4v1h-4zM0 63h1v1h-1zM31 63h5v1h-5zM13 63h4v1h-4zM8 63h4v1h-4zM50 63h1v1h-1zM24 63h1v1h-1zM53 63h1v1h-1zM6 63h1v1h-1zM55 63h1v1h-1zM37 63h2v1h-2zM2 63h3v1h-3zM58 63h6v1h-6zM43 63h6v1h-6zM18 63h2v1h-2zM40 63h2v1h-2zM26 63h2v1h-2zM21 63h1v1h-1z" fill="#000"/></pattern><pattern id="p12" width="64" height="64" patternUnits="userSpaceOnUse"><path d="M0 0h1v1h-1zM24 0h1v1h-1zM22 0h1v1h-1zM15 0h4v1h-4zM39 0h1v1h-1zM50 0h6v1h-6zM33 0h3v1h-3zM57 0h6v1h-6zM37 0h1v1h-1zM2 0h12v1h-12zM30 0h2v1h-2zM26 0h2v1h-2zM42 0h4v1h-4zM11 1h7v1h-7zM40 1h4v1h-4zM1 1h2v1h-2zM45 1h1v1h-1zM47 1h1v1h-1zM49 1h1v1h-1zM6 1h1v1h-1zM21 1h2v1h-2zM25 1h5v1h-5zM51 1h4v1h-4zM31 1h3v1h-3zM35 1h2v1h-2zM8 1h2v1h-2zM4 1h1v1h-1zM56 1h8v1h-8zM38 1h1v2h-1zM27 2h2v1h-2zM22 2h2v1h-2zM50 2h4v1h-4zM30 2h4v1h-4zM35 2h1v1h-1zM55 2h5v1h-5zM3 2h1v1h-1zM1 2h1v1h-1zM5 2h1v1h-1zM40 2h6v1h-6zM18 2h3v1h-3zM61 2h2v1h-2zM9 2h7v1h-7zM47 2h2v2h-2zM11 3h1v1h-1zM26 3h1v1h-1zM53 3h1v1h-1zM1 3h5v1h-5zM16 3h9v1h-9zM59 3h2v1h-2zM28 3h18v1h-18zM50 3h2v1h-2zM56 3h2v1h-2zM8 3h2v1h-2zM63 3h1v1h-1zM14 3h1v2h-1zM50 4h4v1h-4zM17 4h1v1h-1zM0 4h4v1h-4zM34 4h1v1h-1zM41 4h4v1h-4zM22 4h1v1h-1zM36 4h1v1h-1zM55 4h1v1h-1zM5 4h1v1h-1zM57 4h6v1h-6zM38 4h2v1h-2zM7 4h6v1h-6zM46 4h3v1h-3zM19 4h2v1h-2zM25 4h7v1h-7zM1 5h2v1h-2zM56 5h1v1h-1zM13 5h1v1h-1zM8 5h1v1h-1zM15 5h1v1h-1zM54 5h1v1h-1zM59 5h2v1h-2zM19 5h3v1h-3zM23 5h12v1h-12zM62 5h2v1h-2zM46 5h2v1h-2zM4 5h1v1h-1zM10 5h2v1h-2zM36 5h5v1h-5zM43 5h1v2h-1zM10 6h4v1h-4zM45 6h10v1h-10zM0 6h9v1h-9zM61 6h3v1h-3zM23 6h6v1h-6zM30 6h9v1h-9zM57 6h3v1h-3zM40 6h2v1h-2zM15 6h2v1h-2zM21 6h1v1h-1zM0 7h1v1h-1zM21 7h3v1h-3zM11 7h9v1h-9zM34 7h6v1h-6zM45 7h3v1h-3zM54 7h1v1h-1zM30 7h3v1h-3zM49 7h4v1h-4zM56 7h8v1h-8zM2 7h8v1h-8zM25 7h2v2h-2zM7 8h4v1h-4zM45 8h1v1h-1zM54 8h10v1h-10zM13 8h1v1h-1zM33 8h10v1h-10zM18 8h3v1h-3zM0 8h6v1h-6zM50 8h2v1h-2zM47 8h2v1h-2zM29 8h3v2h-3zM15 8h2v2h-2zM4 9h4v1h-4zM20 9h5v1h-5zM58 9h1v1h-1zM18 9h1v1h-1zM2 9h1v1h-1zM34 9h1v1h-1zM37 9h3v1h-3zM60 9h1v1h-1zM42 9h12v1h-12zM9 9h2v1h-2zM12 9h2v1h-2zM26 9h2v1h-2zM62 9h1v1h-1zM50 10h4v1h-4zM20 10h11v1h-11zM17 10h1v1h-1zM47 10h1v1h-1zM43 10h1v1h-1zM15 10h1v1h-1zM60 10h4v1h-4zM32 10h6v1h-6zM56 10h2v1h-2zM11 10h3v2h-3zM0 10h8v2h-8zM9 10h1v2h-1zM23 11h4v1h-4zM28 11h1v1h-1zM18 11h1v1h-1zM38 11h9v1h-9zM57 11h5v1h-5zM34 11h3v1h-3zM30 11h3v1h-3zM15 11h2v1h-2zM48 11h8v1h-8zM20 11h1v2h-1zM31 12h5v1h-5zM45 12h1v1h-1zM39 12h5v1h-5zM16 12h3v1h-3zM24 12h6v1h-6zM49 12h12v1h-12zM7 12h6v1h-6zM0 12h5v1h-5zM62 12h2v1h-2zM37 12h1v1h-1zM0 13h1v1h-1zM49 13h1v1h-1zM61 13h1v1h-1zM7 13h1v1h-1zM26 13h1v1h-1zM24 13h1v1h-1zM38 13h10v1h-10zM55 13h5v1h-5zM63 13h1v1h-1zM5 13h1v1h-1zM32 13h2v1h-2zM14 13h3v1h-3zM2 13h2v1h-2zM51 13h3v1h-3zM18 13h5v1h-5zM9 13h4v1h-4zM8 14h8v1h-8zM47 14h1v1h-1zM52 14h1v1h-1zM2 14h1v1h-1zM4 14h3v1h-3zM41 14h1v1h-1zM36 14h1v1h-1zM39 14h1v1h-1zM43 14h3v1h-3zM17 14h3v1h-3zM30 14h3v1h-3zM21 14h8v1h-8zM54 14h8v1h-8zM57 15h1v1h-1zM32 15h8v1h-8zM3 15h1v1h-1zM6 15h8v1h-8zM60 15h4v1h-4zM23 15h3v1h-3zM0 15h2v1h-2zM41 15h3v1h-3zM46 15h3v1h-3zM50 15h2v1h-2zM18 15h2v1h-2zM53 15h3v1h-3zM27 15h3v1h-3zM21 15h1v1h-1zM60 16h2v1h-2zM19 16h4v1h-4zM13 16h1v1h-1zM9 16h3v1h-3zM27 16h1v1h-1zM34 16h5v1h-5zM41 16h4v1h-4zM49 16h2v1h-2zM53 16h6v1h-6zM24 16h2v1h-2zM46 16h2v1h-2zM0 16h8v1h-8zM16 16h1v1h-1zM29 16h1v2h-1zM32 16h1v2h-1zM13 17h8v1h-8zM45 17h4v1h-4zM50 17h1v1h-1zM35 17h1v1h-1zM43 17h1v1h-1zM60 17h4v1h-4zM0 17h6v1h-6zM8 17h3v1h-3zM37 17h5v1h-5zM55 17h3v1h-3zM23 17h2v1h-2zM52 17h2v1h-2zM26 17h2v1h-2zM44 18h1v1h-1zM1 18h2v1h-2zM48 18h1v1h-1zM46 18h1v1h-1zM26 18h7v1h-7zM34 18h6v1h-6zM60 18h3v1h-3zM16 18h5v1h-5zM50 18h2v1h-2zM53 18h2v1h-2zM13 18h2v1h-2zM22 18h3v1h-3zM4 18h7v1h-7zM41 18h1v2h-1zM0 19h1v1h-1zM49 19h7v1h-7zM43 19h5v1h-5zM34 19h1v1h-1zM39 19h1v1h-1zM20 19h7v1h-7zM58 19h6v1h-6zM17 19h2v1h-2zM5 19h6v1h-6zM2 19h2v1h-2zM28 19h5v1h-5zM14 19h2v1h-2zM37 19h1v1h-1zM12 20h4v1h-4zM59 20h1v1h-1zM55 20h2v1h-2zM53 20h1v1h-1zM29 20h1v1h-1zM35 20h1v1h-1zM43 20h1v1h-1zM17 20h3v1h-3zM32 20h2v1h-2zM46 20h3v1h-3zM37 20h5v1h-5zM50 20h2v1h-2zM23 20h5v1h-5zM63 20h1v1h-1zM21 20h1v1h-1zM2 20h8v1h-8zM47 21h1v1h-1zM0 21h4v1h-4zM49 21h10v1h-10zM32 21h1v1h-1zM60 21h1v1h-1zM15 21h1v1h-1zM11 21h3v1h-3zM5 21h1v1h-1zM20 21h7v1h-7zM29 21h2v1h-2zM62 21h2v1h-2zM42 21h4v1h-4zM34 21h5v1h-5zM9 21h1v1h-1zM0 22h1v1h-1zM44 22h1v1h-1zM2 22h4v1h-4zM48 22h2v1h-2zM25 22h2v1h-2zM39 22h4v1h-4zM16 22h2v1h-2zM34 22h2v1h-2zM28 22h5v1h-5zM63 22h1v1h-1zM51 22h6v1h-6zM19 22h5v1h-5zM7 22h8v1h-8zM17 23h1v1h-1zM19 23h1v1h-1zM9 23h6v1h-6zM49 23h11v1h-11zM30 23h6v1h-6zM37 23h2v1h-2zM1 23h7v1h-7zM61 23h2v1h-2zM22 23h6v1h-6zM40 23h8v1h-8zM0 24h1v1h-1zM23 24h1v1h-1zM39 24h8v1h-8zM48 24h1v1h-1zM50 24h7v1h-7zM58 24h1v1h-1zM14 24h1v1h-1zM60 24h1v1h-1zM25 24h2v1h-2zM6 24h4v1h-4zM2 24h3v1h-3zM62 24h2v1h-2zM11 24h2v1h-2zM28 24h2v1h-2zM17 24h5v1h-5zM37 24h1v1h-1zM32 24h2v1h-2zM20 25h5v1h-5zM0 25h4v1h-4zM52 25h4v1h-4zM46 25h3v1h-3zM26 25h6v1h-6zM33 25h2v1h-2zM36 25h9v1h-9zM63 25h1v1h-1zM57 25h5v1h-5zM8 25h11v1h-11zM5 25h2v1h-2zM0 26h1v1h-1zM33 26h1v1h-1zM28 26h1v1h-1zM2 26h1v1h-1zM30 26h1v1h-1zM36 26h1v1h-1zM16 26h9v1h-9zM51 26h4v1h-4zM39 26h7v1h-7zM62 26h2v1h-2zM56 26h5v1h-5zM6 26h9v1h-9zM48 26h2v1h-2zM6 27h2v1h-2zM12 27h1v1h-1zM47 27h1v1h-1zM42 27h3v1h-3zM58 27h2v1h-2zM0 27h3v1h-3zM38 27h3v1h-3zM18 27h3v1h-3zM49 27h2v1h-2zM52 27h3v1h-3zM23 27h5v1h-5zM9 27h1v1h-1zM4 27h1v1h-1zM15 27h2v1h-2zM29 27h8v1h-8zM0 28h1v1h-1zM26 28h1v1h-1zM56 28h7v1h-7zM47 28h4v1h-4zM32 28h8v1h-8zM41 28h1v1h-1zM2 28h10v1h-10zM14 28h3v1h-3zM44 28h2v1h-2zM18 28h5v1h-5zM38 29h1v1h-1zM32 29h5v1h-5zM40 29h1v1h-1zM21 29h3v1h-3zM43 29h3v1h-3zM54 29h2v1h-2zM58 29h3v1h-3zM4 29h8v1h-8zM29 29h2v1h-2zM13 29h2v1h-2zM16 29h4v1h-4zM26 29h2v1h-2zM47 29h5v1h-5zM1 29h1v2h-1zM62 29h2v2h-2zM17 30h1v1h-1zM29 30h4v1h-4zM40 30h4v1h-4zM57 30h4v1h-4zM9 30h3v1h-3zM15 30h1v1h-1zM45 30h3v1h-3zM24 30h3v1h-3zM35 30h3v1h-3zM49 30h2v1h-2zM53 30h3v1h-3zM20 30h2v1h-2zM3 30h5v1h-5zM30 31h8v1h-8zM55 31h2v1h-2zM23 31h1v1h-1zM0 31h4v1h-4zM7 31h1v1h-1zM58 31h4v1h-4zM39 31h1v1h-1zM63 31h1v1h-1zM45 31h9v1h-9zM9 31h8v1h-8zM18 31h2v1h-2zM41 31h2v1h-2zM25 31h4v1h-4zM0 32h7v1h-7zM32 32h12v1h-12zM58 32h1v1h-1zM30 32h1v1h-1zM60 32h1v1h-1zM46 32h5v1h-5zM16 32h2v1h-2zM20 32h9v1h-9zM8 32h5v1h-5zM52 32h5v1h-5zM62 32h2v2h-2zM0 33h1v1h-1zM29 33h7v1h-7zM39 33h1v1h-1zM22 33h4v1h-4zM7 33h13v1h-13zM41 33h2v1h-2zM49 33h9v1h-9zM59 33h2v1h-2zM46 33h2v1h-2zM3 33h2v1h-2zM37 33h1v1h-1zM38 34h1v1h-1zM33 34h1v1h-1zM40 34h4v1h-4zM12 34h1v1h-1zM3 34h4v1h-4zM48 34h1v1h-1zM8 34h1v1h-1zM46 34h1v1h-1zM60 34h1v1h-1zM20 34h7v1h-7zM50 34h6v1h-6zM29 34h3v1h-3zM0 34h2v1h-2zM35 34h2v1h-2zM57 34h2v1h-2zM14 34h5v1h-5zM62 34h1v1h-1zM8 35h8v1h-8zM17 35h1v1h-1zM44 35h1v1h-1zM19 35h1v1h-1zM35 35h7v1h-7zM1 35h1v1h-1zM21 35h9v1h-9zM5 35h1v1h-1zM31 35h3v1h-3zM62 35h2v1h-2zM46 35h15v1h-15zM0 36h1v1h-1zM38 36h1v1h-1zM3 36h1v1h-1zM60 36h1v1h-1zM40 36h6v1h-6zM5 36h7v1h-7zM18 36h3v1h-3zM24 36h3v1h-3zM14 36h3v1h-3zM56 36h2v1h-2zM29 36h2v1h-2zM63 36h1v1h-1zM53 36h2v1h-2zM33 36h4v1h-4zM47 36h5v1h-5zM50 37h4v1h-4zM0 37h4v1h-4zM29 37h1v1h-1zM48 37h1v1h-1zM57 37h4v1h-4zM41 37h1v1h-1zM55 37h1v1h-1zM5 37h4v1h-4zM44 37h3v1h-3zM13 37h3v1h-3zM35 37h3v1h-3zM22 37h6v1h-6zM62 37h2v1h-2zM17 37h4v1h-4zM33 37h1v2h-1zM10 37h1v2h-1zM4 38h4v1h-4zM35 38h4v1h-4zM46 38h4v1h-4zM25 38h3v1h-3zM54 38h3v1h-3zM29 38h3v1h-3zM59 38h4v1h-4zM40 38h5v1h-5zM13 38h5v1h-5zM19 38h5v1h-5zM0 39h1v1h-1zM22 39h5v1h-5zM55 39h1v1h-1zM57 39h6v1h-6zM15 39h6v1h-6zM28 39h24v1h-24zM8 39h6v1h-6zM2 39h5v1h-5zM4 40h4v1h-4zM21 40h1v1h-1zM30 40h1v1h-1zM1 40h1v1h-1zM39 40h1v1h-1zM58 40h6v1h-6zM14 40h3v1h-3zM45 40h12v1h-12zM18 40h2v1h-2zM32 40h3v1h-3zM23 40h5v1h-5zM41 40h2v1h-2zM36 40h2v1h-2zM10 40h2v1h-2zM51 41h9v1h-9zM34 41h4v1h-4zM61 41h1v1h-1zM39 41h8v1h-8zM0 41h10v1h-10zM22 41h1v1h-1zM31 41h1v1h-1zM24 41h3v1h-3zM11 41h2v1h-2zM15 41h6v1h-6zM48 41h2v1h-2zM49 42h1v1h-1zM43 42h5v1h-5zM51 42h2v1h-2zM6 42h1v1h-1zM16 42h3v1h-3zM24 42h10v1h-10zM2 42h3v1h-3zM36 42h6v1h-6zM54 42h2v1h-2zM58 42h6v1h-6zM9 42h1v1h-1zM11 42h4v2h-4zM21 42h1v2h-1zM53 43h1v1h-1zM46 43h1v1h-1zM48 43h4v1h-4zM55 43h1v1h-1zM37 43h6v1h-6zM23 43h3v1h-3zM7 43h3v1h-3zM0 43h2v1h-2zM27 43h6v1h-6zM34 43h2v1h-2zM4 43h1v1h-1zM16 43h1v1h-1zM59 43h1v2h-1zM62 43h2v2h-2zM38 44h1v1h-1zM22 44h2v1h-2zM53 44h4v1h-4zM5 44h4v1h-4zM0 44h3v1h-3zM18 44h3v1h-3zM34 44h3v1h-3zM40 44h12v1h-12zM11 44h5v1h-5zM27 44h3v1h-3zM25 44h1v1h-1zM49 45h1v1h-1zM8 45h8v1h-8zM37 45h6v1h-6zM51 45h1v1h-1zM30 45h6v1h-6zM56 45h3v1h-3zM17 45h2v1h-2zM20 45h3v1h-3zM46 45h2v1h-2zM53 45h2v1h-2zM25 45h4v1h-4zM61 45h3v2h-3zM0 45h6v2h-6zM28 46h7v1h-7zM8 46h4v1h-4zM39 46h8v1h-8zM54 46h3v1h-3zM22 46h4v1h-4zM16 46h5v1h-5zM13 46h2v1h-2zM58 46h2v1h-2zM49 46h4v1h-4zM11 47h1v1h-1zM20 47h5v1h-5zM44 47h1v1h-1zM58 47h1v1h-1zM3 47h4v1h-4zM35 47h1v1h-1zM53 47h4v1h-4zM1 47h1v1h-1zM60 47h4v1h-4zM51 47h1v1h-1zM27 47h7v1h-7zM37 47h2v1h-2zM13 47h3v1h-3zM40 47h3v1h-3zM17 47h2v1h-2zM8 47h2v1h-2zM46 47h2v1h-2zM27 48h5v1h-5zM33 48h10v1h-10zM8 48h1v1h-1zM60 48h1v1h-1zM55 48h1v1h-1zM17 48h3v1h-3zM45 48h3v1h-3zM0 48h2v1h-2zM3 48h3v1h-3zM62 48h2v1h-2zM57 48h2v1h-2zM52 48h2v1h-2zM21 48h4v1h-4zM11 48h4v1h-4zM0 49h1v1h-1zM34 49h4v1h-4zM53 49h1v1h-1zM55 49h5v1h-5zM39 49h5v1h-5zM14 49h1v1h-1zM49 49h3v1h-3zM23 49h9v1h-9zM2 49h9v1h-9zM62 49h1v1h-1zM19 49h2v1h-2zM46 49h2v1h-2zM16 49h1v1h-1zM31 50h5v1h-5zM7 50h4v1h-4zM44 50h1v1h-1zM12 50h1v1h-1zM19 50h4v1h-4zM24 50h1v1h-1zM46 50h1v1h-1zM15 50h1v1h-1zM0 50h6v1h-6zM51 50h4v1h-4zM38 50h5v1h-5zM27 50h3v1h-3zM63 50h1v1h-1zM57 50h5v1h-5zM48 50h2v1h-2zM47 51h8v1h-8zM6 51h1v1h-1zM41 51h1v1h-1zM34 51h6v1h-6zM24 51h6v1h-6zM14 51h3v1h-3zM19 51h3v1h-3zM62 51h2v1h-2zM57 51h2v1h-2zM31 51h2v1h-2zM8 51h5v1h-5zM43 51h2v1h-2zM3 51h1v2h-1zM0 51h2v2h-2zM19 52h1v1h-1zM44 52h3v1h-3zM32 52h7v1h-7zM61 52h3v1h-3zM21 52h4v1h-4zM12 52h2v1h-2zM40 52h2v1h-2zM5 52h3v1h-3zM27 52h3v1h-3zM9 52h1v1h-1zM15 52h2v1h-2zM49 52h11v1h-11zM11 53h1v1h-1zM28 53h1v1h-1zM13 53h1v1h-1zM25 53h2v1h-2zM5 53h1v1h-1zM7 53h3v1h-3zM30 53h6v1h-6zM38 53h6v1h-6zM19 53h3v1h-3zM49 53h6v1h-6zM59 53h5v1h-5zM15 53h3v1h-3zM56 53h2v1h-2zM46 53h2v1h-2zM1 53h3v1h-3zM14 54h4v1h-4zM22 54h1v1h-1zM1 54h1v1h-1zM29 54h6v1h-6zM56 54h3v1h-3zM24 54h3v1h-3zM36 54h3v1h-3zM61 54h2v1h-2zM49 54h5v1h-5zM19 54h2v1h-2zM3 54h5v1h-5zM40 54h8v1h-8zM9 54h1v2h-1zM11 55h1v1h-1zM47 55h1v1h-1zM6 55h1v1h-1zM15 55h1v1h-1zM34 55h3v1h-3zM2 55h3v1h-3zM49 55h2v1h-2zM18 55h6v1h-6zM52 55h9v1h-9zM28 55h5v1h-5zM39 55h6v1h-6zM25 55h1v2h-1zM38 56h1v1h-1zM61 56h1v1h-1zM0 56h4v1h-4zM8 56h1v1h-1zM31 56h4v1h-4zM36 56h1v1h-1zM53 56h4v1h-4zM63 56h1v1h-1zM10 56h1v1h-1zM51 56h1v1h-1zM43 56h2v1h-2zM46 56h3v1h-3zM12 56h12v1h-12zM28 56h2v1h-2zM40 56h2v1h-2zM58 56h2v1h-2zM5 56h2v1h-2zM27 57h2v1h-2zM1 57h2v1h-2zM30 57h4v1h-4zM48 57h1v1h-1zM46 57h1v1h-1zM6 57h8v1h-8zM15 57h1v1h-1zM60 57h4v1h-4zM17 57h9v1h-9zM35 57h9v1h-9zM50 57h2v1h-2zM54 57h4v1h-4zM12 58h1v1h-1zM56 58h1v1h-1zM58 58h1v1h-1zM30 58h1v1h-1zM14 58h1v1h-1zM4 58h6v1h-6zM0 58h3v1h-3zM51 58h1v1h-1zM22 58h7v1h-7zM36 58h6v1h-6zM60 58h3v1h-3zM43 58h6v1h-6zM32 58h3v1h-3zM19 58h2v1h-2zM53 58h2v1h-2zM16 58h1v1h-1zM47 59h1v1h-1zM61 59h3v1h-3zM44 59h2v1h-2zM1 59h3v1h-3zM40 59h1v1h-1zM20 59h1v1h-1zM42 59h1v1h-1zM11 59h4v1h-4zM57 59h1v1h-1zM35 59h4v1h-4zM6 59h4v1h-4zM31 59h3v1h-3zM22 59h6v1h-6zM59 59h1v1h-1zM52 59h1v1h-1zM50 59h1v1h-1zM54 59h1v1h-1zM29 59h1v2h-1zM17 59h2v2h-2zM33 60h1v1h-1zM24 60h1v1h-1zM27 60h1v1h-1zM53 60h4v1h-4zM43 60h4v1h-4zM4 60h6v1h-6zM49 60h3v1h-3zM20 60h3v1h-3zM62 60h2v1h-2zM37 60h4v1h-4zM58 60h2v1h-2zM0 60h1v2h-1zM11 60h3v2h-3zM4 61h4v1h-4zM18 61h4v1h-4zM23 61h4v1h-4zM2 61h1v1h-1zM38 61h3v1h-3zM60 61h4v1h-4zM28 61h9v1h-9zM42 61h14v1h-14zM57 61h2v1h-2zM9 61h1v1h-1zM43 62h15v1h-15zM22 62h1v1h-1zM1 62h1v1h-1zM27 62h4v1h-4zM62 62h2v1h-2zM32 62h2v1h-2zM3 62h6v1h-6zM10 62h3v1h-3zM24 62h2v1h-2zM14 62h2v1h-2zM35 62h5v1h-5zM17 62h4v1h-4zM14 63h8v1h-8zM12 63h1v1h-1zM1 63h2v1h-2zM7 63h1v1h-1zM35 63h1v1h-1zM10 63h1v1h-1zM4 63h2v1h-2zM54 63h1v1h-1zM61 63h3v1h-3zM49 63h2v1h-2zM57 63h3v1h-3zM37 63h11v1h-11zM23 63h5v1h-5zM30 63h2v1h-2z" fill="#000"/></pattern><pattern id="p13" width="64" height="64" patternUnits="userSpaceOnUse"><path d="M24 0h4v1h-4zM19 0h4v1h-4zM33 0h3v1h-3zM41 0h6v1h-6zM52 0h3v1h-3zM48 0h3v1h-3zM30 0h2v1h-2zM37 0h1v1h-1zM0 0h17v1h-17zM61 0h3v2h-3zM59 0h1v2h-1zM0 1h1v1h-1zM22 1h2v1h-2zM13 1h8v1h-8zM5 1h5v1h-5zM38 1h1v1h-1zM47 1h11v1h-11zM3 1h1v1h-1zM41 1h1v1h-1zM43 1h3v1h-3zM26 1h2v1h-2zM29 1h8v1h-8zM5 2h8v1h-8zM41 2h23v1h-23zM22 2h4v1h-4zM14 2h6v1h-6zM27 2h13v1h-13zM0 2h4v2h-4zM12 3h4v1h-4zM23 3h4v1h-4zM35 3h8v1h-8zM44 3h7v1h-7zM55 3h2v1h-2zM6 3h1v1h-1zM28 3h3v1h-3zM61 3h3v1h-3zM32 3h2v1h-2zM8 3h2v1h-2zM52 3h2v1h-2zM58 3h2v1h-2zM17 3h4v1h-4zM5 4h15v1h-15zM3 4h1v1h-1zM39 4h17v1h-17zM0 4h2v1h-2zM58 4h6v1h-6zM23 4h2v1h-2zM26 4h12v1h-12zM21 4h1v1h-1zM1 5h3v1h-3zM22 5h2v1h-2zM53 5h1v1h-1zM28 5h8v1h-8zM55 5h1v1h-1zM9 5h6v1h-6zM37 5h2v1h-2zM41 5h6v1h-6zM49 5h2v1h-2zM5 5h3v1h-3zM25 5h1v1h-1zM16 5h4v1h-4zM57 5h5v1h-5zM18 6h7v1h-7zM40 6h7v1h-7zM48 6h1v1h-1zM51 6h2v1h-2zM0 6h6v1h-6zM30 6h9v1h-9zM26 6h3v1h-3zM54 6h8v1h-8zM9 6h4v1h-4zM63 5h1v3h-1zM0 7h1v1h-1zM18 7h4v1h-4zM44 7h1v1h-1zM61 7h1v1h-1zM34 7h6v1h-6zM52 7h2v1h-2zM46 7h5v1h-5zM9 7h5v1h-5zM24 7h9v1h-9zM2 7h6v1h-6zM55 7h3v1h-3zM41 7h2v1h-2zM15 7h2v1h-2zM12 8h4v1h-4zM17 8h1v1h-1zM59 8h3v1h-3zM22 8h7v1h-7zM52 8h6v1h-6zM0 8h5v1h-5zM19 8h2v1h-2zM30 8h21v1h-21zM0 9h1v1h-1zM33 9h1v1h-1zM5 9h1v1h-1zM35 9h6v1h-6zM8 9h13v1h-13zM42 9h5v1h-5zM57 9h3v1h-3zM2 9h2v1h-2zM30 9h2v1h-2zM24 9h5v1h-5zM48 9h8v1h-8zM61 9h3v2h-3zM49 10h1v1h-1zM7 10h4v1h-4zM40 10h4v1h-4zM29 10h7v1h-7zM27 10h1v1h-1zM19 10h7v1h-7zM1 10h1v1h-1zM4 10h2v1h-2zM37 10h2v1h-2zM45 10h3v1h-3zM51 10h7v1h-7zM12 10h5v1h-5zM6 11h2v1h-2zM10 11h11v1h-11zM53 11h4v1h-4zM22 11h7v1h-7zM0 11h2v1h-2zM30 11h22v1h-22zM58 11h3v1h-3zM62 11h2v1h-2zM3 11h2v1h-2zM0 12h1v1h-1zM57 12h1v1h-1zM18 12h1v1h-1zM2 12h1v1h-1zM24 12h1v1h-1zM5 12h4v1h-4zM51 12h5v1h-5zM60 12h4v1h-4zM41 12h3v1h-3zM10 12h6v1h-6zM27 12h6v1h-6zM45 12h2v1h-2zM34 12h5v1h-5zM20 12h2v1h-2zM48 12h2v2h-2zM32 13h5v1h-5zM0 13h4v1h-4zM56 13h6v1h-6zM39 13h7v1h-7zM51 13h3v1h-3zM13 13h12v1h-12zM6 13h6v1h-6zM27 13h3v1h-3zM63 13h1v1h-1zM40 14h8v1h-8zM0 14h10v1h-10zM14 14h1v1h-1zM27 14h7v1h-7zM49 14h12v1h-12zM11 14h2v1h-2zM36 14h3v1h-3zM62 14h2v1h-2zM18 14h8v1h-8zM16 14h1v1h-1zM60 15h2v1h-2zM5 15h11v1h-11zM36 15h14v1h-14zM51 15h2v1h-2zM3 15h1v1h-1zM21 15h3v1h-3zM25 15h2v1h-2zM17 15h3v1h-3zM28 15h2v1h-2zM54 15h5v1h-5zM63 15h1v1h-1zM32 15h2v2h-2zM4 16h4v1h-4zM2 16h1v1h-1zM27 16h4v1h-4zM35 16h3v1h-3zM39 16h13v1h-13zM21 16h5v1h-5zM53 16h3v1h-3zM9 16h11v1h-11zM57 16h5v1h-5zM0 15h1v3h-1zM56 17h4v1h-4zM6 17h23v1h-23zM36 17h3v1h-3zM31 17h3v1h-3zM61 17h2v1h-2zM40 17h15v1h-15zM5 18h5v1h-5zM0 18h4v1h-4zM52 18h7v1h-7zM61 18h3v1h-3zM28 18h6v1h-6zM20 18h6v1h-6zM49 18h2v1h-2zM35 18h2v1h-2zM46 18h2v1h-2zM11 18h8v1h-8zM40 18h5v1h-5zM33 19h1v1h-1zM55 19h2v1h-2zM58 19h1v1h-1zM24 19h1v1h-1zM30 19h1v1h-1zM35 19h1v1h-1zM47 19h7v1h-7zM60 19h4v1h-4zM21 19h2v1h-2zM26 19h3v1h-3zM9 19h11v1h-11zM0 19h8v1h-8zM38 19h8v1h-8zM56 20h4v1h-4zM48 20h5v1h-5zM61 20h3v1h-3zM0 20h6v1h-6zM14 20h13v1h-13zM37 20h8v1h-8zM7 20h2v1h-2zM10 20h3v1h-3zM28 20h8v1h-8zM46 20h1v2h-1zM27 21h2v1h-2zM12 21h1v1h-1zM34 21h1v1h-1zM0 21h10v1h-10zM14 21h4v1h-4zM48 21h11v1h-11zM23 21h3v1h-3zM30 21h3v1h-3zM60 21h3v1h-3zM36 21h3v1h-3zM19 21h2v1h-2zM40 21h5v1h-5zM0 22h1v1h-1zM44 22h1v1h-1zM50 22h1v1h-1zM32 22h11v1h-11zM57 22h4v1h-4zM5 22h14v1h-14zM27 22h4v1h-4zM62 22h2v1h-2zM20 22h3v1h-3zM2 22h2v1h-2zM24 22h2v1h-2zM53 22h2v1h-2zM54 23h10v1h-10zM11 23h13v1h-13zM25 23h6v1h-6zM6 23h4v1h-4zM40 23h3v1h-3zM32 23h6v1h-6zM45 23h8v1h-8zM0 23h5v2h-5zM18 24h7v1h-7zM6 24h5v1h-5zM26 24h4v1h-4zM60 24h1v1h-1zM51 24h5v1h-5zM62 24h2v1h-2zM31 24h19v1h-19zM57 24h2v1h-2zM13 24h2v2h-2zM0 25h4v1h-4zM44 25h10v1h-10zM19 25h1v1h-1zM23 25h9v1h-9zM34 25h9v1h-9zM16 25h2v1h-2zM56 25h8v1h-8zM6 25h6v1h-6zM21 25h1v1h-1zM10 26h8v1h-8zM20 26h4v1h-4zM25 26h6v1h-6zM46 26h13v1h-13zM1 26h7v1h-7zM61 26h2v1h-2zM32 26h3v1h-3zM39 26h3v1h-3zM37 26h1v1h-1zM43 26h2v1h-2zM57 27h1v1h-1zM39 27h2v1h-2zM34 27h1v1h-1zM52 27h4v1h-4zM43 27h1v1h-1zM60 27h4v1h-4zM6 27h23v1h-23zM0 27h5v1h-5zM45 27h2v1h-2zM30 27h2v1h-2zM48 27h3v1h-3zM36 27h2v1h-2zM0 28h1v1h-1zM24 28h1v1h-1zM35 28h1v1h-1zM26 28h7v1h-7zM43 28h13v1h-13zM2 28h6v1h-6zM9 28h8v1h-8zM59 28h5v1h-5zM40 28h2v1h-2zM18 28h5v1h-5zM37 28h1v1h-1zM20 29h5v1h-5zM18 29h1v1h-1zM34 29h7v1h-7zM32 29h1v1h-1zM6 29h11v1h-11zM43 29h1v1h-1zM27 29h4v1h-4zM61 29h3v1h-3zM56 29h3v1h-3zM0 29h2v1h-2zM50 29h2v1h-2zM3 29h2v1h-2zM47 29h2v1h-2zM53 29h2v2h-2zM35 30h1v1h-1zM28 30h5v1h-5zM46 30h6v1h-6zM24 30h3v1h-3zM20 30h3v1h-3zM37 30h8v1h-8zM0 30h18v1h-18zM56 30h8v1h-8zM16 31h7v1h-7zM34 31h1v1h-1zM32 31h1v1h-1zM24 31h7v1h-7zM1 31h1v1h-1zM45 31h9v1h-9zM41 31h3v1h-3zM55 31h3v1h-3zM59 31h5v1h-5zM9 31h1v1h-1zM11 31h4v1h-4zM3 31h5v1h-5zM38 31h2v2h-2zM7 32h1v1h-1zM22 32h11v1h-11zM42 32h3v1h-3zM46 32h13v1h-13zM9 32h6v1h-6zM0 32h3v1h-3zM60 32h4v1h-4zM4 32h2v1h-2zM34 32h3v1h-3zM16 32h4v1h-4zM0 33h4v1h-4zM35 33h1v1h-1zM25 33h2v1h-2zM5 33h7v1h-7zM46 33h5v1h-5zM62 33h1v1h-1zM16 33h2v1h-2zM28 33h2v1h-2zM31 33h3v1h-3zM37 33h1v1h-1zM40 33h2v1h-2zM13 33h2v1h-2zM52 33h9v1h-9zM19 33h5v1h-5zM43 33h2v1h-2zM53 34h1v1h-1zM56 34h1v1h-1zM9 34h3v1h-3zM24 34h1v1h-1zM37 34h9v1h-9zM13 34h3v1h-3zM17 34h6v1h-6zM58 34h6v1h-6zM26 34h9v1h-9zM0 34h8v1h-8zM47 34h5v1h-5zM38 35h1v1h-1zM22 35h2v1h-2zM47 35h4v1h-4zM6 35h11v1h-11zM3 35h1v1h-1zM31 35h4v1h-4zM18 35h3v1h-3zM25 35h5v1h-5zM0 35h2v1h-2zM59 35h5v1h-5zM40 35h5v1h-5zM52 35h5v1h-5zM58 36h1v1h-1zM60 36h4v1h-4zM30 36h25v1h-25zM0 36h8v1h-8zM10 36h18v1h-18zM15 37h26v1h-26zM0 37h6v1h-6zM62 37h1v1h-1zM42 37h1v1h-1zM8 37h5v1h-5zM45 37h14v1h-14zM34 38h4v1h-4zM43 38h1v1h-1zM0 38h13v1h-13zM45 38h10v1h-10zM56 38h6v1h-6zM30 38h3v1h-3zM63 38h1v1h-1zM39 38h3v1h-3zM14 38h5v1h-5zM21 38h7v1h-7zM50 39h7v1h-7zM6 39h5v1h-5zM22 39h1v1h-1zM30 39h13v1h-13zM12 39h6v1h-6zM58 39h3v1h-3zM0 39h5v1h-5zM44 39h5v1h-5zM19 39h2v1h-2zM24 39h5v1h-5zM62 39h1v1h-1zM23 40h4v1h-4zM0 40h7v1h-7zM10 40h5v1h-5zM28 40h1v1h-1zM8 40h1v1h-1zM49 40h3v1h-3zM16 40h6v1h-6zM54 40h6v1h-6zM61 40h3v1h-3zM46 40h2v1h-2zM30 40h15v1h-15zM24 41h4v1h-4zM19 41h4v1h-4zM41 41h4v1h-4zM30 41h1v1h-1zM32 41h8v1h-8zM60 41h1v1h-1zM9 41h6v1h-6zM55 41h4v1h-4zM16 41h2v1h-2zM2 41h6v1h-6zM62 41h2v1h-2zM52 41h2v1h-2zM46 41h5v1h-5zM53 42h5v1h-5zM0 42h4v1h-4zM48 42h4v1h-4zM30 42h10v1h-10zM5 42h1v1h-1zM15 42h10v1h-10zM41 42h3v1h-3zM59 42h5v1h-5zM45 42h2v1h-2zM7 42h7v2h-7zM26 42h3v2h-3zM57 43h4v1h-4zM39 43h11v1h-11zM0 43h3v1h-3zM15 43h1v1h-1zM4 43h2v1h-2zM51 43h4v1h-4zM23 43h2v1h-2zM17 43h5v1h-5zM63 43h1v1h-1zM36 43h2v1h-2zM30 43h5v1h-5zM47 44h4v1h-4zM27 44h14v1h-14zM61 44h3v1h-3zM52 44h6v1h-6zM20 44h6v1h-6zM7 44h11v1h-11zM43 44h2v1h-2zM0 44h4v2h-4zM23 45h4v1h-4zM18 45h4v1h-4zM5 45h5v1h-5zM29 45h6v1h-6zM36 45h26v1h-26zM11 45h2v1h-2zM63 45h1v1h-1zM15 45h2v1h-2zM11 46h1v1h-1zM17 46h7v1h-7zM30 46h4v1h-4zM0 46h10v1h-10zM13 46h1v1h-1zM48 46h2v1h-2zM39 46h1v1h-1zM15 46h1v1h-1zM35 46h3v1h-3zM41 46h3v1h-3zM45 46h2v1h-2zM51 46h3v1h-3zM55 46h9v1h-9zM25 46h4v1h-4zM10 47h5v1h-5zM32 47h8v1h-8zM41 47h1v1h-1zM1 47h8v1h-8zM61 47h3v1h-3zM47 47h6v1h-6zM54 47h5v1h-5zM29 47h2v1h-2zM43 47h3v1h-3zM16 47h11v1h-11zM49 48h1v1h-1zM40 48h4v1h-4zM34 48h1v1h-1zM10 48h4v1h-4zM15 48h1v1h-1zM0 48h9v1h-9zM51 48h11v1h-11zM37 48h2v1h-2zM24 48h9v1h-9zM46 48h2v1h-2zM18 48h5v1h-5zM63 48h1v2h-1zM51 49h6v1h-6zM61 49h1v1h-1zM22 49h4v1h-4zM12 49h3v1h-3zM27 49h7v1h-7zM35 49h3v1h-3zM47 49h3v1h-3zM1 49h10v1h-10zM43 49h3v1h-3zM39 49h3v1h-3zM59 49h1v1h-1zM17 49h4v1h-4zM52 50h1v1h-1zM55 50h2v1h-2zM14 50h1v1h-1zM61 50h3v1h-3zM16 50h2v1h-2zM0 50h2v1h-2zM19 50h9v1h-9zM3 50h9v1h-9zM36 50h6v1h-6zM29 50h5v1h-5zM58 50h2v1h-2zM46 50h5v1h-5zM2 51h4v1h-4zM28 51h1v1h-1zM50 51h1v1h-1zM14 51h7v1h-7zM7 51h6v1h-6zM55 51h3v1h-3zM43 51h6v1h-6zM30 51h12v1h-12zM62 51h2v1h-2zM52 51h2v1h-2zM0 51h1v2h-1zM23 51h2v2h-2zM44 52h1v1h-1zM49 52h1v1h-1zM2 52h17v1h-17zM60 52h4v1h-4zM55 52h4v1h-4zM37 52h2v1h-2zM40 52h2v1h-2zM51 52h3v1h-3zM46 52h2v1h-2zM27 52h9v1h-9zM20 52h2v1h-2zM44 53h7v1h-7zM12 53h1v1h-1zM42 53h1v1h-1zM38 53h3v1h-3zM28 53h9v1h-9zM54 53h6v1h-6zM24 53h3v1h-3zM5 53h6v1h-6zM1 53h3v1h-3zM16 53h7v2h-7zM14 53h1v2h-1zM0 54h1v1h-1zM5 54h5v1h-5zM24 54h4v1h-4zM29 54h7v1h-7zM49 54h9v1h-9zM39 54h4v1h-4zM11 54h2v1h-2zM2 54h2v1h-2zM37 54h1v1h-1zM44 54h4v1h-4zM61 53h3v3h-3zM33 55h1v1h-1zM0 55h4v1h-4zM48 55h1v1h-1zM38 55h3v1h-3zM56 55h3v1h-3zM35 55h2v1h-2zM5 55h10v1h-10zM42 55h5v1h-5zM18 55h2v1h-2zM21 55h8v1h-8zM30 55h2v1h-2zM52 55h2v1h-2zM16 55h1v1h-1zM49 56h1v1h-1zM7 56h4v1h-4zM29 56h1v1h-1zM31 56h1v1h-1zM39 56h1v1h-1zM12 56h13v1h-13zM51 56h1v1h-1zM41 56h6v1h-6zM33 56h2v1h-2zM36 56h2v1h-2zM26 56h2v1h-2zM53 56h8v1h-8zM62 56h1v1h-1zM0 56h6v2h-6zM33 57h1v1h-1zM48 57h5v1h-5zM55 57h2v1h-2zM22 57h5v1h-5zM35 57h1v1h-1zM43 57h1v1h-1zM28 57h3v1h-3zM7 57h6v1h-6zM37 57h5v1h-5zM16 57h5v1h-5zM59 57h4v1h-4zM0 58h1v1h-1zM53 58h5v1h-5zM10 58h5v1h-5zM23 58h1v1h-1zM41 58h4v1h-4zM2 58h7v1h-7zM25 58h9v1h-9zM46 58h1v1h-1zM48 58h1v1h-1zM39 58h1v1h-1zM35 58h3v1h-3zM59 58h5v1h-5zM50 58h2v1h-2zM16 58h4v1h-4zM21 58h1v1h-1zM50 59h4v1h-4zM45 59h1v1h-1zM14 59h1v1h-1zM22 59h1v1h-1zM20 59h1v1h-1zM24 59h10v1h-10zM59 59h3v1h-3zM16 59h2v1h-2zM11 59h2v1h-2zM35 59h9v1h-9zM63 59h1v1h-1zM1 59h9v1h-9zM47 59h1v2h-1zM49 60h1v1h-1zM23 60h7v1h-7zM0 60h10v1h-10zM31 60h4v1h-4zM51 60h1v1h-1zM18 60h3v1h-3zM36 60h3v1h-3zM12 60h2v1h-2zM42 60h4v1h-4zM55 60h9v1h-9zM15 60h2v1h-2zM11 61h1v1h-1zM27 61h2v1h-2zM56 61h4v1h-4zM17 61h7v1h-7zM44 61h4v1h-4zM5 61h4v1h-4zM49 61h6v1h-6zM0 61h2v1h-2zM61 61h2v1h-2zM13 61h2v1h-2zM25 61h1v1h-1zM42 61h1v1h-1zM30 61h11v1h-11zM0 62h1v1h-1zM4 62h10v1h-10zM57 62h1v1h-1zM2 62h1v1h-1zM15 62h8v1h-8zM47 62h4v1h-4zM52 62h4v1h-4zM30 62h16v1h-16zM59 62h5v1h-5zM24 62h5v1h-5zM17 63h1v1h-1zM20 63h4v1h-4zM63 63h1v1h-1zM0 63h9v1h-9zM25 63h2v1h-2zM56 63h6v1h-6zM37 63h2v1h-2zM40 63h3v1h-3zM34 63h2v1h-2zM10 63h3v1h-3zM28 63h5v1h-5zM50 63h5v1h-5zM14 63h2v1h-2zM44 63h5v1h-5z" fill="#000"/></pattern><pattern id="p14" width="64" height="64" patternUnits="userSpaceOnUse"><path d="M7 0h1v1h-1zM53 0h7v1h-7zM0 0h6v1h-6zM21 0h2v1h-2zM24 0h28v1h-28zM62 0h2v1h-2zM9 0h11v1h-11zM27 1h7v1h-7zM42 1h15v1h-15zM0 1h2v1h-2zM10 1h16v1h-16zM58 1h6v1h-6zM3 1h6v1h-6zM37 1h4v1h-4zM22 2h2v1h-2zM11 2h3v1h-3zM6 2h4v1h-4zM1 2h4v1h-4zM15 2h6v1h-6zM33 2h5v1h-5zM25 2h7v1h-7zM39 2h25v1h-25zM0 3h4v1h-4zM7 3h1v1h-1zM56 3h5v1h-5zM42 3h9v1h-9zM5 3h1v1h-1zM62 3h2v1h-2zM11 3h2v1h-2zM52 3h3v1h-3zM18 3h2v1h-2zM21 3h8v1h-8zM14 3h2v1h-2zM9 3h1v1h-1zM30 3h11v1h-11zM24 4h4v1h-4zM57 4h7v1h-7zM41 4h7v1h-7zM51 4h5v1h-5zM0 4h3v1h-3zM7 4h13v1h-13zM4 4h2v1h-2zM21 4h2v1h-2zM29 4h11v1h-11zM11 5h1v1h-1zM20 5h5v1h-5zM28 5h1v1h-1zM26 5h1v1h-1zM0 5h10v1h-10zM13 5h1v1h-1zM15 5h4v1h-4zM49 5h3v1h-3zM59 5h5v1h-5zM56 5h2v1h-2zM30 5h18v1h-18zM53 5h2v1h-2zM52 6h1v1h-1zM50 6h1v1h-1zM0 6h4v1h-4zM5 6h7v1h-7zM54 6h6v1h-6zM27 6h10v1h-10zM14 6h12v1h-12zM38 6h8v1h-8zM47 6h2v1h-2zM62 6h1v1h-1zM30 7h1v1h-1zM44 7h3v1h-3zM39 7h4v1h-4zM48 7h10v1h-10zM59 7h5v1h-5zM13 7h6v1h-6zM32 7h6v1h-6zM21 7h8v1h-8zM7 7h5v1h-5zM0 7h6v2h-6zM57 8h7v1h-7zM16 8h3v1h-3zM20 8h26v1h-26zM47 8h9v1h-9zM7 8h8v1h-8zM20 9h11v1h-11zM8 9h4v1h-4zM41 9h4v1h-4zM32 9h1v1h-1zM48 9h1v1h-1zM15 9h4v1h-4zM6 9h1v1h-1zM34 9h6v1h-6zM0 9h5v1h-5zM50 9h14v1h-14zM11 10h1v1h-1zM0 10h4v1h-4zM13 10h7v1h-7zM57 10h7v1h-7zM51 10h5v1h-5zM5 10h1v1h-1zM7 10h3v1h-3zM38 10h12v1h-12zM21 10h15v1h-15zM44 11h7v1h-7zM18 11h1v1h-1zM53 11h4v1h-4zM20 11h10v1h-10zM34 11h3v1h-3zM58 11h6v1h-6zM38 11h5v1h-5zM1 11h16v1h-16zM31 11h2v1h-2zM0 12h4v1h-4zM36 12h1v1h-1zM38 12h3v1h-3zM5 12h1v1h-1zM42 12h5v1h-5zM48 12h16v1h-16zM17 12h18v1h-18zM9 12h7v1h-7zM14 13h4v1h-4zM45 13h7v1h-7zM0 13h13v1h-13zM25 13h15v1h-15zM57 13h5v1h-5zM41 13h3v1h-3zM53 13h3v1h-3zM63 13h1v1h-1zM19 13h5v1h-5zM7 14h1v1h-1zM32 14h20v1h-20zM9 14h6v1h-6zM53 14h7v1h-7zM18 14h13v1h-13zM61 14h3v1h-3zM0 14h6v1h-6zM16 14h1v1h-1zM0 15h1v1h-1zM2 15h14v1h-14zM20 15h4v1h-4zM27 15h1v1h-1zM35 15h7v1h-7zM46 15h1v1h-1zM48 15h4v1h-4zM55 15h1v1h-1zM29 15h3v1h-3zM17 15h2v1h-2zM58 15h3v1h-3zM62 15h2v1h-2zM25 15h1v1h-1zM43 15h2v1h-2zM23 16h4v1h-4zM38 16h13v1h-13zM52 16h10v1h-10zM0 16h22v1h-22zM31 16h6v1h-6zM28 16h2v1h-2zM28 17h1v1h-1zM22 17h5v1h-5zM36 17h4v1h-4zM41 17h1v1h-1zM50 17h14v1h-14zM43 17h3v1h-3zM19 17h2v1h-2zM0 17h8v1h-8zM47 17h2v1h-2zM13 17h5v1h-5zM30 17h5v1h-5zM10 17h2v1h-2zM21 18h10v1h-10zM54 18h10v1h-10zM46 18h7v1h-7zM14 18h6v1h-6zM6 18h7v1h-7zM36 18h9v1h-9zM0 18h5v1h-5zM32 18h3v1h-3zM7 19h1v1h-1zM48 19h1v1h-1zM57 19h4v1h-4zM9 19h22v1h-22zM50 19h6v1h-6zM0 19h6v1h-6zM42 19h5v1h-5zM33 19h2v1h-2zM62 19h2v1h-2zM36 19h5v1h-5zM11 20h20v1h-20zM0 20h4v1h-4zM47 20h12v1h-12zM61 20h3v1h-3zM5 20h3v1h-3zM32 20h9v1h-9zM9 20h1v1h-1zM42 20h4v1h-4zM28 21h1v1h-1zM50 21h8v1h-8zM10 21h7v1h-7zM18 21h9v1h-9zM59 21h5v1h-5zM43 21h6v1h-6zM7 21h2v1h-2zM0 21h5v1h-5zM35 21h2v1h-2zM30 21h2v1h-2zM38 21h4v1h-4zM49 22h1v1h-1zM25 22h23v1h-23zM20 22h4v1h-4zM0 22h6v1h-6zM8 22h3v1h-3zM58 22h6v1h-6zM12 22h5v1h-5zM51 22h6v1h-6zM52 23h1v1h-1zM39 23h5v1h-5zM0 23h3v1h-3zM45 23h6v1h-6zM13 23h6v1h-6zM6 23h6v1h-6zM20 23h18v1h-18zM4 23h1v1h-1zM56 23h8v1h-8zM0 24h7v1h-7zM9 24h9v1h-9zM47 24h17v1h-17zM23 24h9v1h-9zM34 24h3v1h-3zM19 24h3v1h-3zM44 24h2v1h-2zM38 24h5v1h-5zM24 25h8v1h-8zM42 25h10v1h-10zM53 25h5v1h-5zM61 25h3v1h-3zM21 25h2v1h-2zM9 25h11v1h-11zM0 25h8v1h-8zM33 25h8v1h-8zM59 25h1v1h-1zM45 26h10v1h-10zM35 26h6v1h-6zM42 26h2v1h-2zM31 26h3v1h-3zM5 26h25v1h-25zM56 26h8v1h-8zM0 26h1v2h-1zM2 26h2v2h-2zM51 27h2v1h-2zM54 27h6v1h-6zM61 27h3v1h-3zM5 27h6v1h-6zM38 27h8v1h-8zM47 27h2v1h-2zM21 27h11v1h-11zM12 27h8v1h-8zM33 27h4v1h-4zM46 28h8v1h-8zM55 28h2v1h-2zM31 28h14v1h-14zM0 28h3v1h-3zM58 28h3v1h-3zM62 28h2v1h-2zM12 28h18v1h-18zM4 28h7v1h-7zM0 29h1v1h-1zM54 29h6v1h-6zM61 29h3v1h-3zM2 29h3v1h-3zM6 29h6v1h-6zM38 29h14v1h-14zM13 29h24v1h-24zM0 30h4v1h-4zM22 30h5v1h-5zM14 30h7v1h-7zM5 30h4v1h-4zM45 30h9v1h-9zM28 30h2v1h-2zM55 30h9v1h-9zM32 30h12v1h-12zM10 30h2v1h-2zM39 31h12v1h-12zM53 31h11v1h-11zM25 31h13v1h-13zM0 31h2v1h-2zM8 31h6v1h-6zM16 31h8v1h-8zM5 31h2v1h-2zM31 32h5v1h-5zM0 32h12v1h-12zM37 32h21v1h-21zM13 32h2v1h-2zM16 32h14v1h-14zM59 32h4v1h-4zM15 33h5v1h-5zM21 33h10v1h-10zM7 33h7v1h-7zM32 33h1v1h-1zM55 33h5v1h-5zM46 33h7v1h-7zM61 33h3v1h-3zM0 33h6v1h-6zM34 33h11v1h-11zM37 34h10v1h-10zM32 34h4v1h-4zM48 34h7v1h-7zM0 34h28v1h-28zM56 34h2v1h-2zM29 34h2v1h-2zM59 34h4v1h-4zM38 35h1v1h-1zM28 35h1v1h-1zM26 35h1v1h-1zM0 35h10v1h-10zM30 35h7v1h-7zM40 35h3v1h-3zM50 35h12v1h-12zM11 35h5v1h-5zM44 35h5v1h-5zM63 35h1v1h-1zM17 35h8v1h-8zM23 36h1v1h-1zM43 36h5v1h-5zM49 36h10v1h-10zM28 36h10v1h-10zM60 36h1v1h-1zM25 36h2v1h-2zM0 36h22v1h-22zM39 36h3v1h-3zM62 36h1v1h-1zM34 37h17v1h-17zM1 37h11v1h-11zM13 37h16v1h-16zM30 37h3v1h-3zM52 37h3v1h-3zM56 37h8v1h-8zM29 38h4v1h-4zM34 38h1v1h-1zM36 38h1v1h-1zM38 38h22v1h-22zM0 38h5v1h-5zM62 38h2v1h-2zM6 38h3v1h-3zM10 38h18v1h-18zM50 39h8v1h-8zM19 39h3v1h-3zM26 39h6v1h-6zM59 39h5v1h-5zM23 39h2v1h-2zM0 39h18v1h-18zM46 39h2v1h-2zM38 39h4v1h-4zM33 39h4v1h-4zM43 39h2v1h-2zM17 40h1v1h-1zM10 40h5v1h-5zM52 40h8v1h-8zM19 40h1v1h-1zM1 40h5v1h-5zM7 40h2v1h-2zM22 40h29v1h-29zM62 40h2v1h-2zM22 41h5v1h-5zM31 41h1v1h-1zM0 41h3v1h-3zM9 41h2v1h-2zM36 41h10v1h-10zM53 41h10v1h-10zM33 41h2v1h-2zM28 41h2v1h-2zM5 41h3v1h-3zM12 41h8v1h-8zM47 41h5v1h-5zM13 42h4v1h-4zM35 42h1v1h-1zM18 42h13v1h-13zM0 42h12v1h-12zM39 42h25v1h-25zM37 42h1v1h-1zM32 42h2v1h-2zM40 43h4v1h-4zM11 43h22v1h-22zM0 43h6v1h-6zM56 43h8v1h-8zM34 43h5v1h-5zM45 43h8v1h-8zM51 44h9v1h-9zM18 44h1v1h-1zM4 44h13v1h-13zM20 44h20v1h-20zM61 44h3v1h-3zM41 44h9v1h-9zM0 44h2v2h-2zM17 45h47v1h-47zM11 45h5v1h-5zM9 45h1v1h-1zM3 45h5v1h-5zM18 46h32v1h-32zM51 46h3v1h-3zM12 46h5v1h-5zM55 46h9v1h-9zM0 46h11v1h-11zM20 47h4v1h-4zM0 47h19v1h-19zM51 47h11v1h-11zM38 47h9v1h-9zM26 47h9v1h-9zM63 47h1v1h-1zM48 47h2v1h-2zM47 48h1v1h-1zM24 48h13v1h-13zM0 48h6v1h-6zM58 48h6v1h-6zM44 48h2v1h-2zM7 48h12v1h-12zM20 48h3v1h-3zM38 48h5v1h-5zM49 48h8v1h-8zM48 49h15v1h-15zM29 49h1v1h-1zM31 49h4v1h-4zM39 49h5v1h-5zM18 49h10v1h-10zM15 49h1v1h-1zM9 49h5v1h-5zM45 49h2v1h-2zM0 49h8v1h-8zM36 49h2v1h-2zM22 50h2v1h-2zM0 50h4v1h-4zM40 50h1v1h-1zM45 50h7v1h-7zM54 50h10v1h-10zM6 50h8v1h-8zM42 50h2v1h-2zM25 50h14v1h-14zM15 50h3v1h-3zM19 50h2v1h-2zM29 51h4v1h-4zM55 51h2v1h-2zM34 51h1v1h-1zM38 51h10v1h-10zM58 51h4v1h-4zM18 51h10v1h-10zM36 51h1v1h-1zM49 51h5v1h-5zM1 51h16v1h-16zM63 51h1v1h-1zM49 52h15v1h-15zM0 52h18v1h-18zM36 52h12v1h-12zM31 52h2v1h-2zM19 52h11v1h-11zM10 53h15v1h-15zM43 53h5v1h-5zM31 53h8v1h-8zM3 53h4v1h-4zM8 53h1v1h-1zM26 53h4v1h-4zM0 53h2v1h-2zM51 53h7v1h-7zM40 53h2v1h-2zM59 53h5v2h-5zM0 54h1v1h-1zM30 54h1v1h-1zM33 54h13v1h-13zM5 54h1v1h-1zM47 54h10v1h-10zM7 54h6v1h-6zM26 54h3v1h-3zM2 54h2v1h-2zM14 54h11v1h-11zM47 55h1v1h-1zM57 55h4v1h-4zM7 55h7v1h-7zM15 55h14v1h-14zM32 55h14v1h-14zM0 55h6v1h-6zM49 55h5v1h-5zM62 55h2v1h-2zM47 56h4v1h-4zM9 56h3v1h-3zM20 56h25v1h-25zM13 56h6v1h-6zM55 56h6v1h-6zM0 56h8v1h-8zM62 56h1v1h-1zM24 57h14v1h-14zM10 57h4v1h-4zM39 57h1v1h-1zM41 57h10v1h-10zM56 57h3v1h-3zM0 57h2v1h-2zM52 57h3v1h-3zM61 57h2v1h-2zM3 57h6v1h-6zM18 57h5v1h-5zM15 57h2v1h-2zM25 58h27v1h-27zM16 58h8v1h-8zM0 58h14v1h-14zM53 58h2v1h-2zM56 58h8v1h-8zM11 59h1v1h-1zM54 59h10v1h-10zM44 59h8v1h-8zM6 59h4v1h-4zM39 59h4v1h-4zM35 59h3v1h-3zM16 59h5v1h-5zM0 59h5v1h-5zM13 59h2v1h-2zM22 59h9v1h-9zM32 59h2v1h-2zM31 60h1v1h-1zM49 60h15v1h-15zM33 60h15v1h-15zM0 60h18v1h-18zM19 60h11v1h-11zM60 61h2v1h-2zM12 61h13v1h-13zM39 61h20v1h-20zM26 61h6v1h-6zM1 61h10v1h-10zM33 61h5v1h-5zM63 61h1v1h-1zM20 62h8v1h-8zM29 62h7v1h-7zM37 62h12v1h-12zM0 62h6v1h-6zM16 62h2v1h-2zM62 62h2v1h-2zM50 62h11v1h-11zM7 62h8v1h-8zM0 63h1v1h-1zM32 63h1v1h-1zM34 63h3v1h-3zM38 63h25v1h-25zM28 63h2v1h-2zM2 63h12v1h-12zM15 63h12v1h-12z" fill="#000"/></pattern><clipPath id="c1151"><rect x="77.8" y="1151.8" width="309" height="309"/></clipPath><clipPath id="c1553"><rect x="77.8" y="1553.9" width="309" height="308.6"/></clipPath></defs><rect width="1975" height="1913" fill="#fff"/><text x="0" y="35"  style="font-size:47px">A</text>
<text x="0.2" y="717"  style="font-size:47px">B</text>
<text x="457" y="1548.6"  style="font-size:47px">C</text>
<text x="875.4" y="1548.1"  style="font-size:47px">D</text>
<text x="1282.5" y="1548.6"  style="font-size:47px">E</text>
<text x="1012" y="34.7"  style="font-size:47px">F</text>
<text x="1448.4" y="307.3"  style="font-size:47px">G</text>
<g stroke="#111" stroke-width="1.1">
<rect x="134.7" y="410.5" width="59.8" height="1" fill="#b53636"/>
<rect x="134.7" y="384.4" width="59.8" height="26.1" fill="#b59e36"/>
<rect x="134.7" y="371.1" width="59.8" height="13.2" fill="#87b536"/>
<rect x="134.7" y="369.4" width="59.8" height="1.7" fill="#64b536"/>
<rect x="134.7" y="368.1" width="59.8" height="1.4" fill="#42b536"/>
<rect x="134.7" y="357.2" width="59.8" height="10.9" fill="#36b54d"/>
<rect x="134.7" y="356.2" width="59.8" height="1" fill="#36b570"/>
<rect x="134.7" y="347.4" width="59.8" height="8.8" fill="#36b592"/>
<rect x="134.7" y="273.4" width="59.8" height="74" fill="#3692b5"/>
<rect x="134.7" y="213.7" width="59.8" height="59.7" fill="#3670b5"/>
<rect x="134.7" y="203.2" width="59.8" height="10.5" fill="#364db5"/>
<rect x="134.7" y="140.4" width="59.8" height="62.8" fill="#4236b5"/>
<rect x="134.7" y="90.2" width="59.8" height="50.2" fill="#aa36b5"/>
<rect x="134.7" y="72.2" width="59.8" height="18" fill="#b53659"/>
<rect x="206.6" y="401.7" width="59.8" height="9.8" fill="#b53636"/>
<rect x="206.6" y="376.2" width="59.8" height="25.4" fill="#b59e36"/>
<rect x="206.6" y="363.7" width="59.8" height="12.6" fill="#87b536"/>
<rect x="206.6" y="355.5" width="59.8" height="8.1" fill="#42b536"/>
<rect x="206.6" y="350.8" width="59.8" height="4.8" fill="#36b54d"/>
<rect x="206.6" y="345.7" width="59.8" height="5.1" fill="#36b570"/>
<rect x="206.6" y="339.2" width="59.8" height="6.4" fill="#36b5b5"/>
<rect x="206.6" y="283.2" width="59.8" height="56" fill="#3692b5"/>
<rect x="206.6" y="222.8" width="59.8" height="60.4" fill="#3670b5"/>
<rect x="206.6" y="212.7" width="59.8" height="10.2" fill="#364db5"/>
<rect x="206.6" y="142.4" width="59.8" height="70.2" fill="#4236b5"/>
<rect x="206.6" y="90.5" width="59.8" height="51.9" fill="#aa36b5"/>
<rect x="206.6" y="72.2" width="59.8" height="18.3" fill="#b53659"/>
<rect x="278.6" y="397.2" width="59.8" height="14.3" fill="#b53636"/>
<rect x="278.6" y="369.8" width="59.8" height="27.5" fill="#b59e36"/>
<rect x="278.6" y="351.4" width="59.8" height="18.3" fill="#87b536"/>
<rect x="278.6" y="347" width="59.8" height="4.4" fill="#42b536"/>
<rect x="278.6" y="341.9" width="59.8" height="5.1" fill="#36b54d"/>
<rect x="278.6" y="327.4" width="59.8" height="14.6" fill="#36b592"/>
<rect x="278.6" y="261.9" width="59.8" height="65.5" fill="#3692b5"/>
<rect x="278.6" y="198.1" width="59.8" height="63.8" fill="#3670b5"/>
<rect x="278.6" y="189.9" width="59.8" height="8.1" fill="#364db5"/>
<rect x="278.6" y="130.2" width="59.8" height="59.7" fill="#4236b5"/>
<rect x="278.6" y="123.1" width="59.8" height="7.1" fill="#8736b5"/>
<rect x="278.6" y="91.2" width="59.8" height="31.9" fill="#aa36b5"/>
<rect x="278.6" y="72.2" width="59.8" height="19" fill="#b53659"/>
<rect x="350.5" y="400.6" width="59.8" height="10.9" fill="#b53636"/>
<rect x="350.5" y="377.6" width="59.8" height="23.1" fill="#b59e36"/>
<rect x="350.5" y="345.7" width="59.8" height="31.9" fill="#87b536"/>
<rect x="350.5" y="343" width="59.8" height="2.7" fill="#64b536"/>
<rect x="350.5" y="336.2" width="59.8" height="6.8" fill="#36b570"/>
<rect x="350.5" y="328.4" width="59.8" height="7.8" fill="#36b5b5"/>
<rect x="350.5" y="273.1" width="59.8" height="55.3" fill="#3692b5"/>
<rect x="350.5" y="211.7" width="59.8" height="61.4" fill="#3670b5"/>
<rect x="350.5" y="202.2" width="59.8" height="9.5" fill="#364db5"/>
<rect x="350.5" y="152.3" width="59.8" height="49.9" fill="#4236b5"/>
<rect x="350.5" y="146.2" width="59.8" height="6.1" fill="#8736b5"/>
<rect x="350.5" y="93.2" width="59.8" height="52.9" fill="#aa36b5"/>
<rect x="350.5" y="72.2" width="59.8" height="21" fill="#b53659"/>
<rect x="422.4" y="391.1" width="59.8" height="20.4" fill="#b53636"/>
<rect x="422.4" y="363.7" width="59.8" height="27.5" fill="#b59e36"/>
<rect x="422.4" y="345.7" width="59.8" height="18" fill="#87b536"/>
<rect x="422.4" y="341.9" width="59.8" height="3.7" fill="#64b536"/>
<rect x="422.4" y="334.1" width="59.8" height="7.8" fill="#36b54d"/>
<rect x="422.4" y="325.3" width="59.8" height="8.8" fill="#36b5b5"/>
<rect x="422.4" y="257.8" width="59.8" height="67.5" fill="#3692b5"/>
<rect x="422.4" y="206.6" width="59.8" height="51.2" fill="#3670b5"/>
<rect x="422.4" y="197.1" width="59.8" height="9.5" fill="#364db5"/>
<rect x="422.4" y="142.1" width="59.8" height="55" fill="#4236b5"/>
<rect x="422.4" y="135.3" width="59.8" height="6.8" fill="#8736b5"/>
<rect x="422.4" y="86.1" width="59.8" height="49.2" fill="#aa36b5"/>
<rect x="422.4" y="72.2" width="59.8" height="13.9" fill="#b53659"/>
<rect x="494.4" y="410.5" width="59.8" height="1" fill="#b59e36"/>
<rect x="494.4" y="397.6" width="59.8" height="12.9" fill="#87b536"/>
<rect x="494.4" y="390.5" width="59.8" height="7.1" fill="#36b570"/>
<rect x="494.4" y="241.2" width="59.8" height="149.3" fill="#3692b5"/>
<rect x="494.4" y="206.6" width="59.8" height="34.6" fill="#3670b5"/>
<rect x="494.4" y="128.9" width="59.8" height="77.7" fill="#4236b5"/>
<rect x="494.4" y="100" width="59.8" height="28.8" fill="#aa36b5"/>
<rect x="494.4" y="72.2" width="59.8" height="27.8" fill="#b53659"/>
<rect x="566.3" y="404.4" width="59.8" height="7.1" fill="#b53636"/>
<rect x="566.3" y="395.9" width="59.8" height="8.5" fill="#b57b36"/>
<rect x="566.3" y="386.4" width="59.8" height="9.5" fill="#87b536"/>
<rect x="566.3" y="382.7" width="59.8" height="3.7" fill="#36b54d"/>
<rect x="566.3" y="381" width="59.8" height="1.7" fill="#36b592"/>
<rect x="566.3" y="217.8" width="59.8" height="163.2" fill="#3692b5"/>
<rect x="566.3" y="191.3" width="59.8" height="26.5" fill="#3670b5"/>
<rect x="566.3" y="188.2" width="59.8" height="3.1" fill="#364db5"/>
<rect x="566.3" y="127.5" width="59.8" height="60.7" fill="#4236b5"/>
<rect x="566.3" y="101.4" width="59.8" height="26.1" fill="#aa36b5"/>
<rect x="566.3" y="72.2" width="59.8" height="29.2" fill="#b53659"/>
<rect x="638.2" y="399.6" width="59.8" height="11.9" fill="#b57b36"/>
<rect x="638.2" y="393.5" width="59.8" height="6.1" fill="#b59e36"/>
<rect x="638.2" y="377.6" width="59.8" height="15.9" fill="#87b536"/>
<rect x="638.2" y="370.4" width="59.8" height="7.1" fill="#36b54d"/>
<rect x="638.2" y="367.7" width="59.8" height="2.7" fill="#36b570"/>
<rect x="638.2" y="225.6" width="59.8" height="142.2" fill="#3692b5"/>
<rect x="638.2" y="187.6" width="59.8" height="38" fill="#3670b5"/>
<rect x="638.2" y="112.2" width="59.8" height="75.3" fill="#4236b5"/>
<rect x="638.2" y="108.5" width="59.8" height="3.7" fill="#8736b5"/>
<rect x="638.2" y="99.3" width="59.8" height="9.2" fill="#aa36b5"/>
<rect x="638.2" y="72.2" width="59.8" height="27.1" fill="#b53659"/>
<rect x="710.1" y="404.7" width="59.8" height="6.8" fill="#b55936"/>
<rect x="710.1" y="398.6" width="59.8" height="6.1" fill="#b59e36"/>
<rect x="710.1" y="396.6" width="59.8" height="2" fill="#aab536"/>
<rect x="710.1" y="389.4" width="59.8" height="7.1" fill="#87b536"/>
<rect x="710.1" y="385.4" width="59.8" height="4.1" fill="#42b536"/>
<rect x="710.1" y="382" width="59.8" height="3.4" fill="#36b54d"/>
<rect x="710.1" y="374.2" width="59.8" height="7.8" fill="#36b592"/>
<rect x="710.1" y="218.8" width="59.8" height="155.4" fill="#3692b5"/>
<rect x="710.1" y="186.9" width="59.8" height="31.9" fill="#3670b5"/>
<rect x="710.1" y="110.9" width="59.8" height="76" fill="#4236b5"/>
<rect x="710.1" y="106.5" width="59.8" height="4.4" fill="#8736b5"/>
<rect x="710.1" y="103.4" width="59.8" height="3.1" fill="#aa36b5"/>
<rect x="710.1" y="72.2" width="59.8" height="31.2" fill="#b53659"/>
</g>
<g stroke="#333" stroke-width="1.2">
<line x1="109.7" y1="72.2" x2="109.7" y2="411.5" stroke="#000" stroke-width="1"/>
<line x1="99" y1="411.5" x2="109.7" y2="411.5" stroke="#000" stroke-width="1"/>
<line x1="99" y1="343.6" x2="109.7" y2="343.6" stroke="#000" stroke-width="1"/>
<line x1="99" y1="275.8" x2="109.7" y2="275.8" stroke="#000" stroke-width="1"/>
<line x1="99" y1="207.9" x2="109.7" y2="207.9" stroke="#000" stroke-width="1"/>
<line x1="99" y1="140.1" x2="109.7" y2="140.1" stroke="#000" stroke-width="1"/>
<line x1="99" y1="72.2" x2="109.7" y2="72.2" stroke="#000" stroke-width="1"/>
<line x1="164.6" y1="415" x2="740" y2="415" stroke="#000" stroke-width="1"/>
<line x1="164.6" y1="415" x2="164.6" y2="420.5" stroke="#000" stroke-width="1"/>
<line x1="236.5" y1="415" x2="236.5" y2="420.5" stroke="#000" stroke-width="1"/>
<line x1="308.5" y1="415" x2="308.5" y2="420.5" stroke="#000" stroke-width="1"/>
<line x1="380.4" y1="415" x2="380.4" y2="420.5" stroke="#000" stroke-width="1"/>
<line x1="452.3" y1="415" x2="452.3" y2="420.5" stroke="#000" stroke-width="1"/>
<line x1="524.2" y1="415" x2="524.2" y2="420.5" stroke="#000" stroke-width="1"/>
<line x1="596.2" y1="415" x2="596.2" y2="420.5" stroke="#000" stroke-width="1"/>
<line x1="668.1" y1="415" x2="668.1" y2="420.5" stroke="#000" stroke-width="1"/>
<line x1="740" y1="415" x2="740" y2="420.5" stroke="#000" stroke-width="1"/>
</g>
<text x="87" y="417.7"  text-anchor="end" style="font-size:17px">0%</text>
<text x="87" y="349.8"  text-anchor="end" style="font-size:17px">20%</text>
<text x="87" y="282"  text-anchor="end" style="font-size:17px">40%</text>
<text x="87" y="214.1"  text-anchor="end" style="font-size:17px">60%</text>
<text x="87" y="146.3"  text-anchor="end" style="font-size:17px">80%</text>
<text x="87" y="78.4"  text-anchor="end" style="font-size:17px">100%</text>
<text x="0" y="0" transform="translate(40.8 243.6) rotate(-90)" text-anchor="middle" style="font-size:17.5px">Relative Percent</text>
<text x="0" y="0" transform="translate(168.6 423) rotate(-59.5)" text-anchor="end" style="font-size:17.6px">Non–diabetic(GSM722739)</text>
<text x="0" y="0" transform="translate(240.5 423) rotate(-59.5)" text-anchor="end" style="font-size:17.6px">Non–diabetic(GSM722743)</text>
<text x="0" y="0" transform="translate(312.5 423) rotate(-59.5)" text-anchor="end" style="font-size:17.6px">Non–diabetic(GSM722744)</text>
<text x="0" y="0" transform="translate(384.4 423) rotate(-59.5)" text-anchor="end" style="font-size:17.6px">Non–diabetic(GSM722745)</text>
<text x="0" y="0" transform="translate(456.3 423) rotate(-59.5)" text-anchor="end" style="font-size:17.6px">Non–diabetic(GSM722746)</text>
<text x="0" y="0" transform="translate(528.2 423) rotate(-59.5)" text-anchor="end" style="font-size:17.6px">Diabetic(GSM722749)</text>
<text x="0" y="0" transform="translate(600.2 423) rotate(-59.5)" text-anchor="end" style="font-size:17.6px">Diabetic(GSM722750)</text>
<text x="0" y="0" transform="translate(672.1 423) rotate(-59.5)" text-anchor="end" style="font-size:17.6px">Diabetic(GSM722755)</text>
<text x="0" y="0" transform="translate(744 423) rotate(-59.5)" text-anchor="end" style="font-size:17.6px">Diabetic(GSM722756)</text>
<rect x="785.8" y="86.4" width="5.8" height="5.8" fill="#b53636"/>
<text x="801" y="94.7"  style="font-size:14.8px">B cells naive</text>
<rect x="785.8" y="103.6" width="5.8" height="5.8" fill="#b55936"/>
<text x="801" y="111.9"  style="font-size:14.8px">B cells memory</text>
<rect x="785.8" y="120.8" width="5.8" height="5.8" fill="#b57b36"/>
<text x="801" y="129.1"  style="font-size:14.8px">Plasma cells</text>
<rect x="785.8" y="137.9" width="5.8" height="5.8" fill="#b59e36"/>
<text x="801" y="146.2"  style="font-size:14.8px">T cells CD8</text>
<rect x="785.8" y="155.1" width="5.8" height="5.8" fill="#aab536"/>
<text x="801" y="163.4"  style="font-size:14.8px">T cells CD4 naive</text>
<rect x="785.8" y="172.3" width="5.8" height="5.8" fill="#87b536"/>
<text x="801" y="180.6"  style="font-size:14.8px">T cells CD4 memory resting</text>
<rect x="785.8" y="189.5" width="5.8" height="5.8" fill="#64b536"/>
<text x="801" y="197.8"  style="font-size:14.8px">T cells CD4 memory activated</text>
<rect x="785.8" y="206.7" width="5.8" height="5.8" fill="#42b536"/>
<text x="801" y="215"  style="font-size:14.8px">T cells follicular helper</text>
<rect x="785.8" y="223.8" width="5.8" height="5.8" fill="#36b54d"/>
<text x="801" y="232.1"  style="font-size:14.8px">T cells regulatory (Tregs)</text>
<rect x="785.8" y="241" width="5.8" height="5.8" fill="#36b570"/>
<text x="801" y="249.3"  style="font-size:14.8px">T cells gamma delta</text>
<rect x="785.8" y="258.2" width="5.8" height="5.8" fill="#36b592"/>
<text x="801" y="266.5"  style="font-size:14.8px">NK cells resting</text>
<rect x="785.8" y="275.4" width="5.8" height="5.8" fill="#36b5b5"/>
<text x="801" y="283.7"  style="font-size:14.8px">NK cells activated</text>
<rect x="785.8" y="292.6" width="5.8" height="5.8" fill="#3692b5"/>
<text x="801" y="300.9"  style="font-size:14.8px">Monocytes</text>
<rect x="785.8" y="309.7" width="5.8" height="5.8" fill="#3670b5"/>
<text x="801" y="318"  style="font-size:14.8px">Macrophages M0</text>
<rect x="785.8" y="326.9" width="5.8" height="5.8" fill="#364db5"/>
<text x="801" y="335.2"  style="font-size:14.8px">Macrophages M1</text>
<rect x="785.8" y="344.1" width="5.8" height="5.8" fill="#4236b5"/>
<text x="801" y="352.4"  style="font-size:14.8px">Macrophages M2</text>
<rect x="785.8" y="361.3" width="5.8" height="5.8" fill="#6436b5"/>
<text x="801" y="369.6"  style="font-size:14.8px">Dendritic cells resting</text>
<rect x="785.8" y="378.5" width="5.8" height="5.8" fill="#8736b5"/>
<text x="801" y="386.8"  style="font-size:14.8px">Dendritic cells activated</text>
<rect x="785.8" y="395.6" width="5.8" height="5.8" fill="#aa36b5"/>
<text x="801" y="403.9"  style="font-size:14.8px">Mast cells resting</text>
<rect x="785.8" y="412.8" width="5.8" height="5.8" fill="#b5369e"/>
<text x="801" y="421.1"  style="font-size:14.8px">Mast cells activated</text>
<rect x="785.8" y="430" width="5.8" height="5.8" fill="#b5367b"/>
<text x="801" y="438.3"  style="font-size:14.8px">Eosinophils</text>
<rect x="785.8" y="447.2" width="5.8" height="5.8" fill="#b53659"/>
<text x="801" y="455.5"  style="font-size:14.8px">Neutrophils</text>
<text x="1236.3" y="21.1"  text-anchor="middle" style="font-size:25px">WT</text>
<text x="1399.9" y="21.1"  text-anchor="middle" style="font-size:25px">DM</text>
<text x="1561" y="21.1"  text-anchor="middle" style="font-size:25px">DM+C176</text>
<text x="1729.4" y="21.1"  text-anchor="middle" style="font-size:25px">DM+DMXAA</text>
<line x1="1166" y1="30.7" x2="1306" y2="30.7" stroke="#8a8a8a" stroke-width="1.6"/>
<line x1="1330" y1="30.7" x2="1469.6" y2="30.7" stroke="#8a8a8a" stroke-width="1.6"/>
<line x1="1491.5" y1="30.7" x2="1631" y2="30.7" stroke="#8a8a8a" stroke-width="1.6"/>
<line x1="1660.6" y1="30.7" x2="1800" y2="30.7" stroke="#8a8a8a" stroke-width="1.6"/>
<rect x="1153.5" y="41" width="666.8" height="59.2" fill="#f3f3f3"/>
<rect x="1153.5" y="113.6" width="666.8" height="58.8" fill="#f3f3f3"/>
<rect x="1153.5" y="185.6" width="666.8" height="58.8" fill="#f3f3f3"/>
<g filter="url(#bl2)" opacity="0.55">
<rect x="1169" y="118" width="49" height="50" fill="#d8d8d8"/>
<rect x="1221.6" y="118" width="52.4" height="50" fill="#d8d8d8"/>
<rect x="1279.4" y="118" width="49" height="50" fill="#d8d8d8"/>
<rect x="1338" y="118" width="42" height="50" fill="#d8d8d8"/>
<rect x="1391.5" y="118" width="43.5" height="50" fill="#d8d8d8"/>
<rect x="1445.7" y="118" width="39.8" height="50" fill="#d8d8d8"/>
<rect x="1495.6" y="118" width="49.9" height="50" fill="#d8d8d8"/>
<rect x="1552.5" y="118" width="46.2" height="50" fill="#d8d8d8"/>
<rect x="1605.8" y="118" width="48.6" height="50" fill="#d8d8d8"/>
<rect x="1663.6" y="118" width="40.2" height="50" fill="#d8d8d8"/>
<rect x="1714" y="118" width="41.8" height="50" fill="#d8d8d8"/>
<rect x="1769.2" y="118" width="41.8" height="50" fill="#d8d8d8"/>
<rect x="1169" y="46" width="49" height="50" fill="#ececec"/>
<rect x="1221.6" y="46" width="52.4" height="50" fill="#ececec"/>
<rect x="1279.4" y="46" width="49" height="50" fill="#ececec"/>
<rect x="1338" y="46" width="42" height="50" fill="#ececec"/>
<rect x="1391.5" y="46" width="43.5" height="50" fill="#ececec"/>
<rect x="1445.7" y="46" width="39.8" height="50" fill="#ececec"/>
<rect x="1495.6" y="46" width="49.9" height="50" fill="#ececec"/>
<rect x="1552.5" y="46" width="46.2" height="50" fill="#ececec"/>
<rect x="1605.8" y="46" width="48.6" height="50" fill="#ececec"/>
<rect x="1663.6" y="46" width="40.2" height="50" fill="#ececec"/>
<rect x="1714" y="46" width="41.8" height="50" fill="#ececec"/>
<rect x="1769.2" y="46" width="41.8" height="50" fill="#ececec"/>
</g>
<g filter="url(#bl)" fill="#000">
<ellipse cx="1186" cy="70" rx="18" ry="4" fill="#cfcfcf"/>
<ellipse cx="1239" cy="70" rx="18" ry="4" fill="#cfcfcf"/>
<ellipse cx="1290.6" cy="70" rx="18" ry="4" fill="#cfcfcf"/>
<ellipse cx="1331" cy="70" rx="8" ry="7" fill="#000"/>
<ellipse cx="1357.7" cy="69" rx="9" ry="7" fill="#000"/>
<rect x="1331" y="67" width="27" height="5" fill="#000"/>
<ellipse cx="1391" cy="68.5" rx="10" ry="7.5" fill="#000"/>
<ellipse cx="1411" cy="68.5" rx="11" ry="8" fill="#000"/>
<rect x="1391" y="63" width="20" height="11" fill="#000"/>
<ellipse cx="1440" cy="70" rx="10" ry="9" fill="#000"/>
<ellipse cx="1462" cy="68.5" rx="10" ry="7.5" fill="#000"/>
<rect x="1440" y="66" width="22" height="6" fill="#000"/>
<ellipse cx="1492" cy="69" rx="5.5" ry="5" fill="#000"/>
<ellipse cx="1522" cy="68.5" rx="5.5" ry="5" fill="#000"/>
<ellipse cx="1545" cy="69" rx="6" ry="5.4" fill="#000"/>
<ellipse cx="1570" cy="71" rx="5.5" ry="5" fill="#000"/>
<ellipse cx="1596" cy="71" rx="6.5" ry="5.9" fill="#000"/>
<ellipse cx="1622" cy="69" rx="5" ry="4.5" fill="#000"/>
<rect x="1644" y="57.5" width="43" height="16" rx="7.5" fill="#000"/>
<ellipse cx="1652" cy="66" rx="8" ry="9" fill="#000"/>
<ellipse cx="1678" cy="65" rx="9" ry="8.5" fill="#000"/>
<rect x="1699" y="57.5" width="45" height="14" rx="7" fill="#000"/>
<ellipse cx="1734" cy="64" rx="9" ry="8" fill="#000"/>
<ellipse cx="1766" cy="63.5" rx="8" ry="6.5" fill="#000"/>
<ellipse cx="1792" cy="63.5" rx="7" ry="6.5" fill="#000"/>
<rect x="1766" y="61.5" width="26" height="3.5" fill="#000"/>
<rect x="1171" y="139" width="45" height="17" rx="8.5" fill="#000"/>
<rect x="1223.6" y="139" width="48.4" height="18" rx="9" fill="#000"/>
<rect x="1281.4" y="140.2" width="45" height="17.5" rx="8.8" fill="#000"/>
<rect x="1340" y="143" width="38" height="9" rx="4.5" fill="#000"/>
<rect x="1393.5" y="142.5" width="39.5" height="12" rx="6" fill="#000"/>
<rect x="1447.7" y="142" width="35.8" height="13" rx="6.5" fill="#000"/>
<rect x="1497.6" y="139.5" width="45.9" height="17" rx="8.5" fill="#000"/>
<rect x="1554.5" y="140" width="42.2" height="16" rx="8" fill="#000"/>
<rect x="1607.8" y="139.8" width="44.6" height="15.5" rx="7.8" fill="#000"/>
<rect x="1665.6" y="140.8" width="36.2" height="11.5" rx="5.8" fill="#000"/>
<rect x="1716" y="140.8" width="37.8" height="11.5" rx="5.8" fill="#000"/>
<rect x="1771.2" y="138" width="37.8" height="11" rx="5.5" fill="#000"/>
<rect x="1165.7" y="211.5" width="46.3" height="12" rx="6" fill="#000"/>
<rect x="1216.8" y="212" width="49" height="13" rx="6.5" fill="#000"/>
<rect x="1271.9" y="211.5" width="45.4" height="12" rx="6" fill="#000"/>
<rect x="1324.6" y="211.5" width="47.2" height="12" rx="6" fill="#000"/>
<rect x="1377.9" y="211.2" width="48.7" height="11.5" rx="5.8" fill="#000"/>
<rect x="1432" y="211" width="48.7" height="11" rx="5.5" fill="#000"/>
<rect x="1488.4" y="210.4" width="45" height="12" rx="6" fill="#000"/>
<rect x="1540.7" y="210.5" width="49.6" height="13" rx="6.5" fill="#000"/>
<rect x="1601" y="210" width="44.4" height="13" rx="6.5" fill="#000"/>
<rect x="1652.8" y="208.9" width="48.2" height="9.5" rx="4.8" fill="#000"/>
<rect x="1709.7" y="208.1" width="46.9" height="9.5" rx="4.8" fill="#000"/>
<rect x="1764" y="208.4" width="38.8" height="10.5" rx="5.2" fill="#000"/>
</g>
<rect x="1153.5" y="41" width="666.8" height="59.2" rx="1.5" fill="none" stroke="#1a1a1a" stroke-width="1.8"/>
<rect x="1153.5" y="113.6" width="666.8" height="58.8" rx="1.5" fill="none" stroke="#1a1a1a" stroke-width="1.8"/>
<rect x="1153.5" y="185.6" width="666.8" height="58.8" rx="1.5" fill="none" stroke="#1a1a1a" stroke-width="1.8"/>
<text x="1136.8" y="80.1"  text-anchor="end" style="font-size:25px">iNOS</text>
<text x="1139.8" y="152.1"  text-anchor="end" style="font-size:25px">Arg-1</text>
<text x="1146.8" y="223.1"  text-anchor="end" style="font-size:25px">β-Actin</text>
<text x="1824" y="80.1"  style="font-size:25px">131KD</text>
<text x="1827" y="152.1"  style="font-size:25px">40KD</text>
<text x="1826" y="224.1"  style="font-size:25px">42KD</text>
<line x1="1086" y1="294.5" x2="1086" y2="663.9" stroke="#000" stroke-width="2.8"/>
<line x1="1084.6" y1="662.6" x2="1449.6" y2="662.6" stroke="#000" stroke-width="2.8"/>
<line x1="1076" y1="662.6" x2="1086" y2="662.6" stroke="#000" stroke-width="2.6"/>
<text x="1070" y="669.2"  text-anchor="end" style="font-size:18.3px;font-weight:bold">0</text>
<line x1="1076" y1="540.3" x2="1086" y2="540.3" stroke="#000" stroke-width="2.6"/>
<text x="1070" y="546.9"  text-anchor="end" style="font-size:18.3px;font-weight:bold">5</text>
<line x1="1076" y1="418" x2="1086" y2="418" stroke="#000" stroke-width="2.6"/>
<text x="1070" y="424.6"  text-anchor="end" style="font-size:18.3px;font-weight:bold">10</text>
<line x1="1076" y1="295.7" x2="1086" y2="295.7" stroke="#000" stroke-width="2.6"/>
<text x="1070" y="302.3"  text-anchor="end" style="font-size:18.3px;font-weight:bold">15</text>
<line x1="1118.5" y1="638.9" x2="1118.5" y2="635.7" stroke="#000" stroke-width="2.6"/>
<line x1="1110.8" y1="635.7" x2="1126.2" y2="635.7" stroke="#000" stroke-width="2.6"/>
<rect x="1104.2" y="640.3" width="28.6" height="22.3" fill="#d4d4d4" stroke="#000" stroke-width="3.8"/>
<line x1="1156.6" y1="456.4" x2="1156.6" y2="427.8" stroke="#000" stroke-width="2.6"/>
<line x1="1148.8" y1="427.8" x2="1164.3" y2="427.8" stroke="#000" stroke-width="2.6"/>
<rect x="1141.9" y="457.8" width="29.4" height="204.8" fill="#fefde0" stroke="#000" stroke-width="3.8"/>
<line x1="1194.2" y1="550.8" x2="1194.2" y2="540.8" stroke="#000" stroke-width="2.6"/>
<line x1="1186.5" y1="540.8" x2="1202" y2="540.8" stroke="#000" stroke-width="2.6"/>
<rect x="1179.7" y="552.2" width="29.1" height="110.4" fill="#c9ddf7" stroke="#000" stroke-width="3.8"/>
<line x1="1232" y1="366.6" x2="1232" y2="329.9" stroke="#000" stroke-width="2.6"/>
<line x1="1224.2" y1="329.9" x2="1239.8" y2="329.9" stroke="#000" stroke-width="2.6"/>
<rect x="1217.4" y="368" width="29.2" height="294.6" fill="#fcdfe0" stroke="#000" stroke-width="3.8"/>
<line x1="1302.8" y1="638.9" x2="1302.8" y2="635.2" stroke="#000" stroke-width="2.6"/>
<line x1="1295.1" y1="635.2" x2="1310.6" y2="635.2" stroke="#000" stroke-width="2.6"/>
<rect x="1288" y="640.3" width="29.7" height="22.3" fill="#d4d4d4" stroke="#000" stroke-width="3.8"/>
<line x1="1341" y1="647.2" x2="1341" y2="644.5" stroke="#000" stroke-width="2.6"/>
<line x1="1333.2" y1="644.5" x2="1348.7" y2="644.5" stroke="#000" stroke-width="2.6"/>
<rect x="1326.4" y="648.6" width="29.1" height="14" fill="#fefde0" stroke="#000" stroke-width="3.8"/>
<line x1="1378.6" y1="641.8" x2="1378.6" y2="638.1" stroke="#000" stroke-width="2.6"/>
<line x1="1370.8" y1="638.1" x2="1386.3" y2="638.1" stroke="#000" stroke-width="2.6"/>
<rect x="1363.9" y="643.2" width="29.3" height="19.4" fill="#c9ddf7" stroke="#000" stroke-width="3.8"/>
<line x1="1416.8" y1="644" x2="1416.8" y2="642.5" stroke="#000" stroke-width="2.6"/>
<line x1="1409" y1="642.5" x2="1424.5" y2="642.5" stroke="#000" stroke-width="2.6"/>
<rect x="1402" y="645.4" width="29.5" height="17.2" fill="#fcdfe0" stroke="#000" stroke-width="3.8"/>
<path d="M1105.7 314V300H1149.8V314" fill="none" stroke="#000" stroke-width="2.4"/>
<text x="1127" y="299.5"  text-anchor="middle" style="font-size:20px">**</text>
<path d="M1155 314V300H1230.7V314" fill="none" stroke="#000" stroke-width="2.4"/>
<text x="1192.4" y="299.5"  text-anchor="middle" style="font-size:20px">*</text>
<path d="M1157 344.7V333.2H1202V344.7" fill="none" stroke="#000" stroke-width="2.4"/>
<text x="1178.7" y="331.5"  text-anchor="middle" style="font-size:20px">*</text>
<path d="M1288.4 593V580.7H1332.8V593" fill="none" stroke="#000" stroke-width="2.4"/>
<text x="1309.8" y="580"  text-anchor="middle" style="font-size:20px">*</text>
<path d="M1337.9 593V580.7H1413.9V593" fill="none" stroke="#000" stroke-width="2.4"/>
<text x="1375.6" y="580"  text-anchor="middle" style="font-size:20px">*</text>
<path d="M1339 624.8V612H1385.3V624.8" fill="none" stroke="#000" stroke-width="2.4"/>
<text x="1361.6" y="611"  text-anchor="middle" style="font-size:20px">*</text>
<rect x="1311.05" y="298.2" width="24.7" height="10.8" fill="#d4d4d4" stroke="#000" stroke-width="3.9"/>
<text x="1354" y="311"  style="font-size:21.9px">WT</text>
<rect x="1311.05" y="334.8" width="24.7" height="10.8" fill="#fefde0" stroke="#000" stroke-width="3.9"/>
<text x="1354" y="347.6"  style="font-size:21.9px">DM</text>
<rect x="1311.05" y="370.9" width="24.7" height="10.8" fill="#c9ddf7" stroke="#000" stroke-width="3.9"/>
<text x="1354" y="383.7"  style="font-size:21.9px">DM+C176</text>
<rect x="1311.05" y="407.6" width="24.7" height="10.8" fill="#fcdfe0" stroke="#000" stroke-width="3.9"/>
<text x="1354" y="420.4"  style="font-size:21.9px">DM+DMXAA</text>
<text x="0" y="0" transform="translate(1007.4 471.5) rotate(-90)" text-anchor="middle" style="font-size:22.3px;font-weight:bold">Relative protein expression level</text>
<text x="0" y="0" transform="translate(1033.5 479) rotate(-90)" text-anchor="middle" style="font-size:21.5px;font-weight:bold"><tspan style="font-family:'Noto Sans CJK SC',sans-serif;font-weight:normal">（</tspan>/GAPDH<tspan style="font-family:'Noto Sans CJK SC',sans-serif;font-weight:normal">）</tspan></text>
<text x="1169.7" y="689.6"  text-anchor="middle" style="font-size:21px">iNOS</text>
<text x="1351.4" y="689.6"  text-anchor="middle" style="font-size:21px">Arg-1</text>
<line x1="1589" y1="302.6" x2="1589" y2="665.8" stroke="#000" stroke-width="2.8"/>
<line x1="1587.6" y1="664.5" x2="1949.8" y2="664.5" stroke="#000" stroke-width="2.8"/>
<line x1="1578.2" y1="664.5" x2="1589" y2="664.5" stroke="#000" stroke-width="2.6"/>
<text x="1574.4" y="671.1"  text-anchor="end" style="font-size:18.3px;font-weight:bold">0</text>
<line x1="1578.2" y1="544.3" x2="1589" y2="544.3" stroke="#000" stroke-width="2.6"/>
<text x="1574.4" y="550.9"  text-anchor="end" style="font-size:18.3px;font-weight:bold">2</text>
<line x1="1578.2" y1="424.1" x2="1589" y2="424.1" stroke="#000" stroke-width="2.6"/>
<text x="1574.4" y="430.7"  text-anchor="end" style="font-size:18.3px;font-weight:bold">4</text>
<line x1="1578.2" y1="303.9" x2="1589" y2="303.9" stroke="#000" stroke-width="2.6"/>
<text x="1574.4" y="310.5"  text-anchor="end" style="font-size:18.3px;font-weight:bold">6</text>
<line x1="1678.2" y1="664.5" x2="1678.2" y2="674.8" stroke="#000" stroke-width="2.8"/>
<line x1="1860.4" y1="664.5" x2="1860.4" y2="674.8" stroke="#000" stroke-width="2.8"/>
<line x1="1622.2" y1="605.3" x2="1622.2" y2="596.3" stroke="#000" stroke-width="2.6"/>
<line x1="1614.4" y1="596.3" x2="1629.9" y2="596.3" stroke="#000" stroke-width="2.6"/>
<rect x="1608.3" y="606.7" width="27.7" height="57.8" fill="#d4d4d4" stroke="#000" stroke-width="3.8"/>
<line x1="1659.5" y1="517.7" x2="1659.5" y2="503" stroke="#000" stroke-width="2.6"/>
<line x1="1651.8" y1="503" x2="1667.2" y2="503" stroke="#000" stroke-width="2.6"/>
<rect x="1645.2" y="519.1" width="28.6" height="145.4" fill="#fefde0" stroke="#000" stroke-width="3.8"/>
<line x1="1697" y1="580" x2="1697" y2="568.4" stroke="#000" stroke-width="2.6"/>
<line x1="1689.2" y1="568.4" x2="1704.8" y2="568.4" stroke="#000" stroke-width="2.6"/>
<rect x="1682.8" y="581.4" width="28.4" height="83.1" fill="#c9ddf7" stroke="#000" stroke-width="3.8"/>
<line x1="1735.2" y1="388.3" x2="1735.2" y2="344" stroke="#000" stroke-width="2.6"/>
<line x1="1727.4" y1="344" x2="1742.9" y2="344" stroke="#000" stroke-width="2.6"/>
<rect x="1721" y="389.7" width="28.3" height="274.8" fill="#fcdfe0" stroke="#000" stroke-width="3.8"/>
<line x1="1804.2" y1="605.3" x2="1804.2" y2="596.5" stroke="#000" stroke-width="2.6"/>
<line x1="1796.4" y1="596.5" x2="1811.9" y2="596.5" stroke="#000" stroke-width="2.6"/>
<rect x="1789.7" y="606.7" width="28.9" height="57.8" fill="#d4d4d4" stroke="#000" stroke-width="3.8"/>
<line x1="1841.7" y1="631" x2="1841.7" y2="627.7" stroke="#000" stroke-width="2.6"/>
<line x1="1834" y1="627.7" x2="1849.5" y2="627.7" stroke="#000" stroke-width="2.6"/>
<rect x="1827.4" y="632.4" width="28.6" height="32.1" fill="#fefde0" stroke="#000" stroke-width="3.8"/>
<line x1="1879.3" y1="620" x2="1879.3" y2="613.5" stroke="#000" stroke-width="2.6"/>
<line x1="1871.6" y1="613.5" x2="1887.1" y2="613.5" stroke="#000" stroke-width="2.6"/>
<rect x="1865.2" y="621.4" width="28.2" height="43.1" fill="#c9ddf7" stroke="#000" stroke-width="3.8"/>
<line x1="1916.4" y1="651.6" x2="1916.4" y2="647.8" stroke="#000" stroke-width="2.6"/>
<line x1="1908.7" y1="647.8" x2="1924.2" y2="647.8" stroke="#000" stroke-width="2.6"/>
<rect x="1902.6" y="653" width="27.6" height="11.5" fill="#fcdfe0" stroke="#000" stroke-width="3.8"/>
<path d="M1610 321.3V307.7H1653.5V321.3" fill="none" stroke="#000" stroke-width="2.4"/>
<text x="1631" y="307"  text-anchor="middle" style="font-size:20px">**</text>
<path d="M1658.9 321.3V307.7H1733.3V321.3" fill="none" stroke="#000" stroke-width="2.4"/>
<text x="1695" y="307"  text-anchor="middle" style="font-size:20px">*</text>
<path d="M1660 352V339.9H1704.5V352" fill="none" stroke="#000" stroke-width="2.4"/>
<text x="1681.8" y="338.5"  text-anchor="middle" style="font-size:20px">*</text>
<path d="M1788.2 555.8V543H1832.8V555.8" fill="none" stroke="#000" stroke-width="2.4"/>
<text x="1810.6" y="542"  text-anchor="middle" style="font-size:20px">*</text>
<path d="M1838 555.8V543H1912.4V555.8" fill="none" stroke="#000" stroke-width="2.4"/>
<text x="1874.5" y="542"  text-anchor="middle" style="font-size:20px">**</text>
<path d="M1839 586.7V574.4H1884.3V586.7" fill="none" stroke="#000" stroke-width="2.4"/>
<text x="1860.4" y="573.5"  text-anchor="middle" style="font-size:20px">*</text>
<rect x="1811.95" y="305.6" width="24.7" height="10.8" fill="#d4d4d4" stroke="#000" stroke-width="3.9"/>
<text x="1855.2" y="318.4"  style="font-size:21.4px">WT</text>
<rect x="1811.95" y="340.9" width="24.7" height="10.8" fill="#fefde0" stroke="#000" stroke-width="3.9"/>
<text x="1855.2" y="353.7"  style="font-size:21.4px">DM</text>
<rect x="1811.95" y="377" width="24.7" height="10.8" fill="#c9ddf7" stroke="#000" stroke-width="3.9"/>
<text x="1855.2" y="389.8"  style="font-size:21.4px">DM+C176</text>
<rect x="1811.95" y="413.1" width="24.7" height="10.8" fill="#fcdfe0" stroke="#000" stroke-width="3.9"/>
<text x="1855.2" y="425.9"  style="font-size:21.4px">DM+DMXAA</text>
<text x="0" y="0" transform="translate(1524.4 480.8) rotate(-90)" text-anchor="middle" style="font-size:21.7px;font-weight:bold">mRNA expression level</text>
<text x="0" y="0" transform="translate(1550.9 485) rotate(-90)" text-anchor="middle" style="font-size:21.5px;font-weight:bold"><tspan style="font-family:'Noto Sans CJK SC',sans-serif;font-weight:normal">（</tspan>/GAPDH<tspan style="font-family:'Noto Sans CJK SC',sans-serif;font-weight:normal">）</tspan></text>
<text x="1678.2" y="698.4"  text-anchor="middle" style="font-size:21px;font-weight:bold">iNOS</text>
<text x="1860.4" y="698.4"  text-anchor="middle" style="font-size:21px;font-weight:bold">Arg-1</text>
<g clip-path="url(#c752)">
<path d="M233 764h12v3h-12zM161 767h96v3h-96zM131 770h135v3h-135zM128 773h144v3h-144zM125 776h156v3h-156zM122 779h165v3h-165zM119 782h174v3h-174zM119 785h177v3h-177zM116 788h180v3h-180zM113 791h183v6h-183zM113 797h45v3h-45zM203 797h93v3h-93zM113 800h36v3h-36zM209 800h87v3h-87zM113 803h30v3h-30zM218 803h78v3h-78zM224 806h72v3h-72zM113 806h21v3h-21zM110 809h18v3h-18zM230 809h66v3h-66zM233 812h63v3h-63zM110 812h15v3h-15zM110 815h12v3h-12zM236 815h60v6h-60zM110 818h9v6h-9zM239 821h57v6h-57zM110 824h6v3h-6zM110 827h3v3h-3zM242 827h54v6h-54zM107 830h6v3h-6zM107 833h3v3h-3zM245 833h51v6h-51zM104 836h3v9h-3zM248 839h45v6h-45zM245 845h48v3h-48zM245 848h45v6h-45zM245 854h42v6h-42zM242 860h42v6h-42zM101 845h3v24h-3zM242 866h39v6h-39zM239 872h39v6h-39zM239 878h36v3h-36zM236 881h39v3h-39zM98 869h3v18h-3zM236 884h36v3h-36zM233 887h39v3h-39zM230 890h39v6h-39zM95 887h3v12h-3zM227 896h39v3h-39zM224 899h42v3h-42zM224 902h39v3h-39zM221 905h39v6h-39zM218 911h39v3h-39zM92 911h3v6h-3zM215 914h39v6h-39zM212 920h39v3h-39zM89 920h3v6h-3zM209 923h39v6h-39zM206 929h39v3h-39zM206 932h36v3h-36zM203 935h39v3h-39zM200 938h39v3h-39zM200 941h36v3h-36zM197 944h39v3h-39zM86 944h3v6h-3zM194 947h39v3h-39zM194 950h36v3h-36zM191 953h39v3h-39zM191 956h36v3h-36zM188 959h36v3h-36zM188 962h33v3h-33zM185 965h36v3h-36zM182 968h36v3h-36zM182 971h33v3h-33zM179 974h33v3h-33zM179 977h30v3h-30zM176 980h33v3h-33zM176 983h30v3h-30zM173 986h30v3h-30zM173 989h27v3h-27zM170 992h27v6h-27zM170 998h24v3h-24zM83 956h3v48h-3zM167 1001h24v3h-24zM167 1004h21v3h-21zM164 1007h21v6h-21zM161 1013h21v3h-21zM161 1016h18v3h-18zM161 1019h15v3h-15zM158 1022h15v6h-15zM155 1028h15v3h-15zM155 1031h12v3h-12zM155 1034h9v3h-9zM152 1037h9v3h-9zM152 1040h6v3h-6zM149 1043h3v3h-3zM83 1046h3v3h-3zM137 1046h12v3h-12zM134 1049h3v3h-3zM128 1052h3v3h-3zM86 1052h3v3h-3zM95 1055h30v3h-30z" fill="url(#p0)"/>
<path d="M158 797h45v3h-45zM197 800h12v3h-12zM149 800h15v3h-15zM206 803h12v3h-12zM143 803h9v3h-9zM212 806h12v3h-12zM134 806h12v3h-12zM221 809h9v3h-9zM128 809h12v3h-12zM227 812h6v3h-6zM125 812h6v3h-6zM230 815h6v3h-6zM122 815h6v3h-6zM119 818h6v3h-6zM233 818h3v3h-3zM233 821h6v3h-6zM119 821h3v3h-3zM236 824h3v3h-3zM116 824h6v3h-6zM113 827h6v3h-6zM236 827h6v3h-6zM239 830h3v3h-3zM113 830h3v3h-3zM110 833h6v3h-6zM239 833h6v3h-6zM242 836h3v3h-3zM107 836h6v6h-6zM242 839h6v6h-6zM107 842h3v3h-3zM242 845h3v9h-3zM104 845h6v9h-6zM239 854h6v6h-6zM239 860h3v6h-3zM104 854h3v15h-3zM236 866h6v6h-6zM236 872h3v3h-3zM101 869h6v9h-6zM233 875h6v6h-6zM101 878h3v6h-3zM233 881h3v3h-3zM230 884h6v3h-6zM227 887h6v3h-6zM98 887h3v6h-3zM227 890h3v3h-3zM224 893h6v3h-6zM221 896h6v3h-6zM221 899h3v3h-3zM218 902h6v3h-6zM218 905h3v3h-3zM215 908h6v3h-6zM95 899h3v15h-3zM212 911h6v3h-6zM212 914h3v3h-3zM209 917h6v3h-6zM92 917h3v3h-3zM206 920h6v3h-6zM206 923h3v3h-3zM203 926h6v3h-6zM203 929h3v3h-3zM200 932h6v3h-6zM197 935h6v3h-6zM89 926h3v15h-3zM197 938h3v3h-3zM194 941h6v3h-6zM191 944h6v3h-6zM191 947h3v3h-3zM188 950h6v3h-6zM86 950h3v3h-3zM188 953h3v3h-3zM185 956h6v3h-6zM182 959h6v6h-6zM179 965h6v3h-6zM179 968h3v3h-3zM176 971h6v3h-6zM176 974h3v3h-3zM173 977h6v3h-6zM173 980h3v3h-3zM170 983h6v3h-6zM170 986h3v3h-3zM167 989h6v3h-6zM167 992h3v3h-3zM164 995h6v6h-6zM164 1001h3v3h-3zM161 1004h6v3h-6zM161 1007h3v3h-3zM158 1010h6v3h-6zM158 1013h3v3h-3zM155 1016h6v6h-6zM155 1022h3v3h-3zM152 1025h6v3h-6zM152 1028h3v3h-3zM149 1031h6v6h-6zM146 1037h6v6h-6zM83 1004h3v42h-3zM137 1043h12v3h-12zM134 1046h3v3h-3zM131 1049h3v3h-3zM125 1052h3v3h-3z" fill="url(#p1)"/>
<path d="M164 800h33v3h-33zM152 803h54v3h-54zM146 806h66v3h-66zM140 809h81v3h-81zM131 812h96v3h-96zM128 815h102v3h-102zM125 818h108v3h-108zM122 821h111v3h-111zM122 824h114v3h-114zM119 827h117v3h-117zM116 830h123v6h-123zM113 836h129v6h-129zM110 842h36v3h-36zM185 842h57v3h-57zM110 845h30v3h-30zM194 845h48v3h-48zM110 848h24v3h-24zM200 848h42v3h-42zM206 851h36v3h-36zM110 851h21v3h-21zM107 854h18v3h-18zM209 854h30v6h-30zM107 857h15v3h-15zM107 860h12v3h-12zM212 860h27v6h-27zM107 863h9v3h-9zM212 866h24v3h-24zM107 866h6v6h-6zM215 869h21v6h-21zM107 872h3v6h-3zM215 875h18v9h-18zM104 878h3v6h-3zM215 884h15v3h-15zM101 884h3v6h-3zM215 887h12v3h-12zM212 890h15v3h-15zM212 893h12v3h-12zM212 896h9v3h-9zM209 899h12v3h-12zM209 902h9v6h-9zM98 893h3v18h-3zM206 908h9v3h-9zM206 911h6v3h-6zM203 914h9v3h-9zM95 914h3v3h-3zM203 917h6v3h-6zM200 920h6v6h-6zM92 920h3v6h-3zM197 926h6v6h-6zM194 932h6v3h-6zM191 935h6v6h-6zM188 941h6v3h-6zM89 941h3v6h-3zM188 944h3v3h-3zM185 947h6v3h-6zM182 950h6v6h-6zM86 953h3v3h-3zM179 956h6v3h-6zM176 959h6v6h-6zM173 965h6v6h-6zM170 971h6v6h-6zM167 977h6v6h-6zM164 983h6v6h-6zM161 989h6v6h-6zM158 995h6v9h-6zM155 1004h6v6h-6zM152 1010h6v6h-6zM149 1016h6v9h-6zM146 1025h6v6h-6zM143 1031h6v3h-6zM140 1034h9v3h-9zM137 1037h9v3h-9zM134 1040h12v3h-12zM134 1043h3v3h-3zM131 1046h3v3h-3zM128 1049h3v3h-3zM89 1052h6v3h-6zM116 1052h9v3h-9z" fill="url(#p2)"/>
<path d="M146 842h39v3h-39zM140 845h12v3h-12zM182 845h12v3h-12zM191 848h9v3h-9zM134 848h9v3h-9zM197 851h9v3h-9zM131 851h6v3h-6zM125 854h9v3h-9zM203 854h6v3h-6zM122 857h6v3h-6zM206 857h3v3h-3zM119 860h6v3h-6zM206 860h6v3h-6zM116 863h6v3h-6zM209 863h3v6h-3zM113 866h6v3h-6zM113 869h3v3h-3zM209 869h6v3h-6zM110 872h6v3h-6zM110 875h3v3h-3zM107 878h6v3h-6zM107 881h3v3h-3zM212 872h3v15h-3zM104 884h6v3h-6zM104 887h3v3h-3zM209 887h6v3h-6zM209 890h3v6h-3zM101 890h6v6h-6zM206 896h6v3h-6zM206 899h3v6h-3zM203 905h6v3h-6zM101 896h3v15h-3zM203 908h3v3h-3zM200 911h6v3h-6zM98 911h3v6h-3zM200 914h3v3h-3zM197 917h6v3h-6zM95 917h3v6h-3zM197 920h3v3h-3zM194 923h6v3h-6zM194 926h3v3h-3zM191 929h6v3h-6zM188 932h6v3h-6zM188 935h3v3h-3zM185 938h6v3h-6zM92 926h3v18h-3zM185 941h3v3h-3zM182 944h6v3h-6zM179 947h6v3h-6zM89 947h3v3h-3zM179 950h3v3h-3zM176 953h6v3h-6zM176 956h3v3h-3zM173 959h3v3h-3zM170 962h6v3h-6zM86 956h3v12h-3zM170 965h3v3h-3zM167 968h6v3h-6zM167 971h3v3h-3zM164 974h6v3h-6zM164 977h3v3h-3zM161 980h6v3h-6zM161 983h3v3h-3zM158 986h6v3h-6zM158 989h3v3h-3zM155 992h6v3h-6zM155 995h3v6h-3zM152 1001h6v3h-6zM152 1004h3v3h-3zM149 1007h6v3h-6zM149 1010h3v3h-3zM146 1013h6v3h-6zM146 1016h3v6h-3zM143 1022h6v3h-6zM143 1025h3v3h-3zM140 1028h6v3h-6zM137 1031h6v3h-6zM137 1034h3v3h-3zM134 1037h3v3h-3zM131 1043h3v3h-3zM128 1046h3v3h-3zM119 1049h9v3h-9zM86 1049h3v3h-3zM95 1052h21v3h-21z" fill="url(#p3)"/>
<path d="M152 845h30v3h-30zM143 848h48v3h-48zM137 851h60v3h-60zM134 854h69v3h-69zM128 857h78v3h-78zM125 860h81v3h-81zM122 863h87v3h-87zM119 866h90v3h-90zM116 869h93v3h-93zM116 872h96v3h-96zM113 875h99v6h-99zM110 881h102v6h-102zM107 887h102v3h-102zM107 890h30v3h-30zM167 890h42v3h-42zM176 893h33v3h-33zM107 893h21v3h-21zM179 896h27v3h-27zM104 896h18v3h-18zM182 899h24v3h-24zM104 899h12v3h-12zM104 902h9v3h-9zM185 902h21v3h-21zM104 905h3v6h-3zM185 905h18v6h-18zM101 911h3v3h-3zM185 911h15v6h-15zM98 917h3v3h-3zM185 917h12v6h-12zM185 923h9v6h-9zM182 929h9v3h-9zM95 923h3v12h-3zM182 932h6v3h-6zM179 935h9v3h-9zM179 938h6v6h-6zM176 944h6v3h-6zM92 944h3v3h-3zM176 947h3v3h-3zM173 950h6v3h-6zM89 950h3v3h-3zM173 953h3v3h-3zM170 956h6v3h-6zM170 959h3v3h-3zM167 962h3v6h-3zM164 968h3v3h-3zM86 968h3v3h-3zM161 971h6v3h-6zM161 974h3v3h-3zM158 977h6v3h-6zM158 980h3v3h-3zM155 983h6v3h-6zM155 986h3v3h-3zM152 989h6v3h-6zM152 992h3v3h-3zM149 995h6v6h-6zM146 1001h6v6h-6zM146 1007h3v3h-3zM143 1010h6v3h-6zM143 1013h3v3h-3zM140 1016h6v6h-6zM137 1022h6v6h-6zM137 1028h3v3h-3zM134 1031h3v6h-3zM131 1037h3v6h-3zM128 1043h3v3h-3zM125 1046h3v3h-3zM116 1049h3v3h-3z" fill="url(#p4)"/>
<path d="M137 890h30v3h-30zM128 893h9v3h-9zM167 893h9v3h-9zM122 896h6v3h-6zM176 896h3v3h-3zM116 899h6v3h-6zM179 899h3v3h-3zM113 902h6v3h-6zM107 905h6v3h-6zM107 908h3v3h-3zM104 911h3v3h-3zM101 914h3v6h-3zM182 902h3v27h-3zM98 920h3v12h-3zM179 929h3v6h-3zM176 935h3v9h-3zM95 935h3v9h-3zM173 944h3v6h-3zM170 950h3v6h-3zM89 953h3v3h-3zM167 956h3v6h-3zM164 962h3v6h-3zM161 968h3v3h-3zM158 971h3v6h-3zM155 977h3v6h-3zM152 983h3v6h-3zM86 971h3v21h-3zM149 989h3v6h-3zM146 995h3v6h-3zM143 1001h3v9h-3zM140 1010h3v6h-3zM137 1016h3v6h-3zM134 1022h3v9h-3zM131 1031h3v6h-3zM128 1037h3v6h-3zM125 1043h3v3h-3zM119 1046h6v3h-6zM86 1046h3v3h-3zM113 1049h3v3h-3z" fill="url(#p5)"/>
<path d="M137 893h30v3h-30zM128 896h48v3h-48zM122 899h57v3h-57zM119 902h63v3h-63zM113 905h69v3h-69zM110 908h72v3h-72zM107 911h75v3h-75zM104 914h78v6h-78zM101 920h81v9h-81zM143 929h36v3h-36zM101 929h24v3h-24zM152 932h27v3h-27zM98 932h12v3h-12zM98 935h9v3h-9zM158 935h18v6h-18zM98 938h3v3h-3zM161 941h15v3h-15zM161 944h12v6h-12zM92 947h3v3h-3zM164 950h6v6h-6zM164 956h3v3h-3zM161 959h6v3h-6zM89 956h3v9h-3zM161 962h3v3h-3zM158 965h6v3h-6zM158 968h3v3h-3zM155 974h3v3h-3zM152 980h3v3h-3zM149 986h3v3h-3zM146 992h3v3h-3zM143 998h3v3h-3zM140 1004h3v6h-3zM137 1010h3v6h-3zM134 1016h3v6h-3zM131 1022h3v6h-3zM128 1028h6v3h-6zM128 1031h3v3h-3zM125 1034h6v3h-6zM125 1037h3v3h-3zM122 1040h6v3h-6zM86 992h3v54h-3zM119 1043h6v3h-6zM116 1046h3v3h-3zM101 1049h12v3h-12z" fill="url(#p6)"/>
<path d="M125 929h18v3h-18zM110 932h6v3h-6zM146 932h6v3h-6zM155 935h3v3h-3zM107 935h3v3h-3zM101 938h3v3h-3zM98 941h3v3h-3zM158 941h3v3h-3zM95 944h3v3h-3zM92 950h3v6h-3zM161 950h3v9h-3zM158 962h3v3h-3zM89 965h3v3h-3zM155 968h3v6h-3zM152 977h3v3h-3zM149 983h3v3h-3zM146 989h3v3h-3zM143 995h3v3h-3zM140 1001h3v3h-3zM137 1007h3v3h-3zM134 1013h3v3h-3zM131 1019h3v3h-3zM128 1025h3v3h-3zM125 1031h3v3h-3zM122 1037h3v3h-3zM113 1046h3v3h-3zM98 1049h3v3h-3zM89 1049h3v3h-3z" fill="url(#p7)"/>
<path d="M116 932h30v3h-30zM149 935h6v3h-6zM110 935h3v3h-3zM155 938h3v3h-3zM104 938h3v3h-3zM101 941h3v3h-3zM98 944h3v3h-3zM95 947h3v6h-3zM158 944h3v18h-3zM92 956h3v6h-3zM155 965h3v3h-3zM89 968h3v3h-3zM152 971h3v6h-3zM149 977h3v6h-3zM146 986h3v3h-3zM143 992h3v3h-3zM140 998h3v3h-3zM137 1004h3v3h-3zM134 1010h3v3h-3zM131 1016h3v3h-3zM128 1022h3v3h-3zM125 1028h3v3h-3zM122 1034h3v3h-3zM119 1037h3v6h-3zM116 1043h3v3h-3zM110 1046h3v3h-3zM92 1049h6v3h-6z" fill="url(#p8)"/>
<path d="M113 935h36v3h-36zM107 938h48v3h-48zM104 941h54v3h-54zM101 944h57v3h-57zM98 947h60v6h-60zM95 953h12v3h-12zM137 953h21v3h-21zM95 956h6v3h-6zM143 956h15v3h-15zM146 959h12v6h-12zM92 962h3v3h-3zM149 965h6v6h-6zM149 971h3v3h-3zM146 974h6v3h-6zM89 971h3v12h-3zM146 977h3v9h-3zM143 986h3v6h-3zM140 992h3v6h-3zM137 998h3v6h-3zM134 1004h3v6h-3zM131 1010h3v6h-3zM128 1016h3v6h-3zM125 1022h3v6h-3zM122 1028h3v3h-3zM119 1031h6v3h-6zM119 1034h3v3h-3zM116 1037h3v6h-3zM113 1043h3v3h-3zM107 1046h3v3h-3z" fill="url(#p9)"/>
<path d="M131 953h6v3h-6zM107 953h6v3h-6zM101 956h3v3h-3zM140 956h3v3h-3zM143 959h3v3h-3zM95 959h3v3h-3zM92 965h3v3h-3zM146 965h3v9h-3zM143 980h3v6h-3zM89 983h3v3h-3zM140 989h3v3h-3zM137 995h3v3h-3zM134 1001h3v3h-3zM131 1007h3v3h-3zM128 1013h3v3h-3zM125 1019h3v3h-3zM122 1025h3v3h-3zM116 1034h3v3h-3zM113 1040h3v3h-3zM110 1043h3v3h-3zM101 1046h6v3h-6z" fill="url(#p10)"/>
<path d="M113 953h18v3h-18zM104 956h3v3h-3zM137 956h3v3h-3zM98 959h3v3h-3zM140 959h3v3h-3zM143 962h3v3h-3zM95 962h3v3h-3zM92 968h3v3h-3zM143 974h3v6h-3zM140 986h3v3h-3zM89 986h3v3h-3zM137 992h3v3h-3zM134 998h3v3h-3zM131 1004h3v3h-3zM128 1010h3v3h-3zM125 1016h3v3h-3zM122 1022h3v3h-3zM119 1028h3v3h-3zM116 1031h3v3h-3zM113 1037h3v3h-3zM89 1046h3v3h-3z" fill="url(#p11)"/>
<path d="M107 956h30v3h-30zM137 959h3v3h-3zM101 959h6v3h-6zM98 962h3v3h-3zM140 962h3v3h-3zM95 965h3v6h-3zM143 965h3v9h-3zM92 971h3v6h-3zM140 974h3v12h-3zM137 986h3v6h-3zM89 989h3v3h-3zM134 992h3v6h-3zM131 998h3v6h-3zM128 1004h3v6h-3zM125 1010h3v6h-3zM122 1016h3v6h-3zM119 1022h3v3h-3zM116 1025h6v3h-6zM116 1028h3v3h-3zM113 1031h3v6h-3zM110 1037h3v3h-3zM107 1040h6v3h-6zM104 1043h6v3h-6z" fill="url(#p12)"/>
<path d="M107 959h30v3h-30zM101 962h39v3h-39zM98 965h45v6h-45zM116 971h27v3h-27zM95 971h3v3h-3zM119 974h21v3h-21zM92 977h3v3h-3zM122 977h18v9h-18zM122 986h15v3h-15zM125 989h12v3h-12zM125 992h9v3h-9zM122 995h12v3h-12zM122 998h9v6h-9zM122 1004h6v6h-6zM119 1010h6v6h-6zM116 1016h6v6h-6zM116 1022h3v3h-3zM113 1025h3v6h-3zM110 1031h3v6h-3zM107 1037h3v3h-3zM89 992h3v54h-3zM99 1046h2v1h-2zM98 1047h3v2h-3z" fill="url(#p13)"/>
<path d="M111 971h5v1h-5zM98 971h5v1h-5zM98 972h3v1h-3zM112 972h4v1h-4zM98 973h2v1h-2zM114 973h2v1h-2zM95 974h4v1h-4zM115 974h4v1h-4zM95 975h2v1h-2zM117 975h2v1h-2zM118 976h1v1h-1zM95 976h1v2h-1zM119 977h3v1h-3zM120 978h2v3h-2zM92 980h3v1h-3zM121 981h1v4h-1zM92 981h2v4h-2zM92 985h1v5h-1zM122 989h3v1h-3zM123 990h2v2h-2zM122 992h3v3h-3zM121 998h1v5h-1zM120 1003h2v5h-2zM119 1008h3v2h-3zM118 1011h1v3h-1zM117 1014h2v2h-2zM115 1019h1v2h-1zM114 1021h2v3h-2zM113 1024h3v1h-3zM112 1026h1v2h-1zM111 1028h2v2h-2zM110 1030h3v1h-3zM109 1032h1v2h-1zM108 1034h2v2h-2zM107 1036h3v1h-3zM106 1038h1v2h-1zM105 1040h2v2h-2zM104 1042h3v1h-3zM103 1043h1v1h-1zM102 1044h2v1h-2zM100 1045h4v1h-4zM92 1046h1v1h-1zM92 1047h6v2h-6z" fill="url(#p14)"/>
<path d="M103 971h8v1h-8zM101 972h11v1h-11zM100 973h14v1h-14zM99 974h16v1h-16zM97 975h20v1h-20zM96 976h22v1h-22zM96 977h23v1h-23zM95 978h25v3h-25zM94 981h27v4h-27zM93 985h29v5h-29zM92 990h31v2h-31zM92 992h30v6h-30zM92 998h29v5h-29zM92 1003h28v5h-28zM92 1008h27v3h-27zM92 1011h26v3h-26zM92 1014h25v2h-25zM92 1016h24v3h-24zM92 1019h23v2h-23zM92 1021h22v3h-22zM92 1024h21v2h-21zM92 1026h20v2h-20zM92 1028h19v2h-19zM92 1030h18v2h-18zM92 1032h17v2h-17zM92 1034h16v2h-16zM92 1036h15v2h-15zM92 1038h14v2h-14zM92 1040h13v2h-13zM92 1042h12v1h-12zM92 1043h11v1h-11zM92 1044h10v1h-10zM92 1045h8v1h-8zM93 1046h6v1h-6z" fill="#000"/>
<path d="M79 752h1.3m94.7 0h1.3m150.7 0h1.3m-118.3 1h1.3m-77.3 1h1.3m11.7 0h1.3m237.7 1h1.3m-260.3 2h1.3m221.7 0h1.3m-2.3 1h1.3m-215.3 1h1.3m48.7 1h1.3m9.7 0h1.3m42.7 0h1.3m-106.3 1h1.3m61.7 0h1.3m15.7 0h1.3m90.7 0h1.3m24.7 0h1.3m-225.3 1h1.3m95.7 0h1.3m40.7 0h1.3m47.7 0h1.3m39.7 0h1.3m8.7 0h1.3m-110.3 1h1.3m0.7 0h1.3m23.7 0h1.3m45.7 0h1.3m-79.3 1h1.3m82.7 0h1.3m-217.3 1h1.3m49.7 0h1.3m31.7 0h1.3m67.7 0h1.3m68.7 0h1.3m8.7 0h1.3m12.7 0h1.3m-184.3 1h1.3m6.7 0h1.3m171.7 0h1.3m-9.3 1h1.3m31.7 0h1.3m-287.3 1h1.3m40.7 0h1.3m8.7 0h1.3m-36.3 2h1.3m3.7 0h1.3m162.7 0h1.3m2.7 0h1.3m41.7 1h1.3m40.7 0h1.3m3.7 0h1.3m-241.3 2h1.3m143.7 0h1.3m11.7 1h1.3m29.7 2h1.3m61.7 0h1.3m-97.3 1h1.3m52.7 1h1.3m41.7 0h1.3m-95.3 1h1.3m21.7 0h1.3m26.7 0h1.3m10.7 0h1.3m1.7 1h1.3m-12.3 1h1.3m-263.3 1h1.3m237.7 0h1.3m9.7 1h1.3m-215.3 1h1.3m-18.3 2h1.3m219.7 1h1.3m13.7 0h1.3m-33.3 1h1.3m42.7 0h1.3m-40.3 1h1.3m9.7 1h1.3m-205.3 1h1.3m187.7 0h1.3m5.7 0h1.3m42.7 0h1.3m-37.3 1h1.3m41.7 1h1.3m17.7 0h1.3m-13.3 1h1.3m-15.3 1h1.3m-51.3 1h1.3m29.7 0h1.3m35.7 0h1.3m-265.3 1h1.3m219.7 0h1.3m-241.3 1h1.3m239.7 0h1.3m-16.3 1h1.3m-228.3 2h1.3m3.7 0h1.3m208.7 1h1.3m4.7 0h1.3m61.7 1h1.3m-70.3 1h1.3m50.7 0h1.3m11.7 0h1.3m-44.3 1h1.3m53.7 0h1.3m-291.3 2h1.3m225.7 0h1.3m-227.3 1h1.3m240.7 0h1.3m-250.3 1h1.3m16.7 0h1.3m214.7 0h1.3m-222.3 1h1.3m214.7 0h1.3m-208.3 1h1.3m-15.3 1h1.3m219.7 0h1.3m40.7 0h1.3m21.7 1h1.3m-75.3 1h1.3m68.7 0h1.3m-296.3 1h1.3m233.7 0h1.3m70.7 0h1.3m-29.3 2h1.3m-17.3 1h1.3m3.7 0h1.3m-245.3 2h1.3m1.7 1h1.3m219.7 0h1.3m31.7 1h1.3m-0.3 1h1.3m-266.3 1h1.3m208.7 1h1.3m6.7 1h1.3m18.7 0h1.3m-258.3 1h1.3m12.7 1h1.3m9.7 0h1.3m246.7 0h1.3m24.7 0h1.3m-52.3 1h1.3m19.7 0h1.3m22.7 0h1.3m-265.3 1h1.3m249.7 0h1.3m-15.3 1h1.3m8.7 0h1.3m-20.3 1h1.3m38.7 1h1.3m-67.3 2h1.3m70.7 0h1.3m-60.3 1h1.3m42.7 1h1.3m16.7 0h1.3m-59.3 1h1.3m39.7 1h1.3m-289.3 1h1.3m261.7 0h1.3m-19.3 1h1.3m33.7 0h1.3m-46.3 3h1.3m-22.3 1h1.3m35.7 0h1.3m-8.3 1h1.3m37.7 0h1.3m-261.3 1h1.3m188.7 0h1.3m92.7 0h1.3m-90.3 3h1.3m38.7 0h1.3m35.7 0h1.3m3.7 0h1.3m-86.3 3h1.3m48.7 0h1.3m-52.3 1h1.3m17.7 0h1.3m62.7 0h1.3m-77.3 1h1.3m77.7 0h1.3m-18.3 1h1.3m-74.3 1h1.3m89.7 0h1.3m-70.3 1h1.3m-215.3 1h1.3m254.7 0h1.3m9.7 0h1.3m-3.3 1h1.3m-36.3 2h1.3m-16.3 1h1.3m15.7 2h1.3m18.7 0h1.3m-0.3 0h1.3m27.7 0h1.3m-98.3 2h1.3m93.7 0h1.3m-52.3 1h1.3m25.7 0h1.3m2.7 1h1.3m-54.3 3h1.3m-3.3 1h1.3m10.7 0h1.3m23.7 0h1.3m-28.3 2h1.3m9.7 0h1.3m26.7 1h1.3m-46.3 1h1.3m-2.3 1h1.3m19.7 0h1.3m20.7 4h1.3m-33.3 1h1.3m0.7 0h1.3m-45.3 1h1.3m38.7 0h1.3m-0.3 0h1.3m31.7 0h1.3m29.7 0h1.3m-49.3 1h1.3m-39.3 1h1.3m8.7 0h1.3m76.7 0h1.3m-87.3 1h1.3m21.7 3h1.3m-49.3 1h1.3m40.7 0h1.3m-41.3 1h1.3m-0.3 0h1.3m26.7 2h1.3m30.7 0h1.3m-9.3 1h1.3m57.7 0h1.3m-98.3 1h1.3m4.7 0h1.3m54.7 1h1.3m-272.3 1h1.3m204.7 0h1.3m9.7 1h1.3m-12.3 1h1.3m39.7 0h1.3m46.7 2h1.3m-280.3 2h1.3m170.7 0h1.3m-173.3 1h1.3m182.7 1h1.3m0.7 1h1.3m65.7 0h1.3m-35.3 1h1.3m15.7 0h1.3m-69.3 1h1.3m62.7 0h1.3m-46.3 1h1.3m24.7 1h1.3m-17.3 1h1.3m-11.3 1h1.3m1.7 0h1.3m5.7 0h1.3m31.7 0h1.3m51.7 1h1.3m5.7 0h1.3m-118.3 2h1.3m42.7 0h1.3m-0.3 0h1.3m48.7 1h1.3m-85.3 1h1.3m19.7 0h1.3m9.7 0h1.3m8.7 0h1.3m-18.3 1h1.3m41.7 1h1.3m-53.3 1h1.3m-2.3 1h1.3m67.7 3h1.3m3.7 0h1.3m-95.3 1h1.3m6.7 0h1.3m-4.3 3h1.3m46.7 1h1.3m-14.3 1h1.3m13.7 1h1.3m54.7 0h1.3m-135.3 1h1.3m7.7 0h1.3m-172.3 1h1.3m176.7 0h1.3m-2.3 2h1.3m6.7 3h1.3m7.7 0h1.3m2.7 0h1.3m3.7 0h1.3m34.7 0h1.3m-90.3 3h1.3m1.7 1h1.3m40.7 1h1.3m21.7 0h1.3m-29.3 2h1.3m-13.3 1h1.3m12.7 0h1.3m69.7 1h1.3m-106.3 1h1.3m12.7 0h1.3m7.7 1h1.3m-35.3 1h1.3m78.7 0h1.3m-61.3 1h1.3m29.7 0h1.3m30.7 0h1.3m-41.3 1h1.3m74.7 2h1.3m25.7 3h1.3m-49.3 1h1.3m-98.3 2h1.3m30.7 1h1.3m2.7 2h1.3m-17.3 2h1.3m16.7 0h1.3m62.7 0h1.3m-108.3 2h1.3m15.7 0h1.3m-31.3 1h1.3m15.7 0h1.3m-8.3 4h1.3m2.7 1h1.3m68.7 1h1.3m-83.3 1h1.3m31.7 0h1.3m14.7 0h1.3m-188.3 1h1.3m137.7 0h1.3m123.7 0h1.3m-85.3 1h1.3m59.7 0h1.3m-11.3 1h1.3m-59.3 2h1.3m11.7 0h1.3m115.7 0h1.3m-135.3 1h1.3m70.7 0h1.3m-115.3 1h1.3m25.7 0h1.3m-16.3 2h1.3m30.7 0h1.3m58.7 0h1.3m-2.3 2h1.3m73.7 0h1.3m-157.3 1h1.3m-24.3 3h1.3m31.7 0h1.3m-19.3 2h1.3m16.7 1h1.3m97.7 0h1.3m-101.3 1h1.3m-7.3 1h1.3m90.7 0h1.3m-131.3 2h1.3m-0.3 0h1.3m8.7 3h1.3m58.7 1h1.3m31.7 0h1.3m-105.3 2h1.3m0.7 0h1.3m27.7 2h1.3m2.7 0h1.3m105.7 0h1.3m6.7 1h1.3m-140.3 1h1.3m22.7 0h1.3m9.7 0h1.3m-45.3 1h1.3m-8.3 3h1.3m107.7 0h1.3m36.7 0h1.3m-152.3 1h1.3m106.7 1h1.3m-113.3 1h1.3m134.7 0h1.3m-102.3 3h1.3m6.7 3h1.3m-13.3 1h1.3m70.7 0h1.3m23.7 0h1.3m-105.3 1h1.3m-0.3 0h1.3m38.7 0h1.3m80.7 0h1.3m-124.3 1h1.3m114.7 1h1.3m-137.3 1h1.3m24.7 0h1.3m103.7 0h1.3m-106.3 3h1.3m59.7 0h1.3m-67.3 1h1.3m94.7 0h1.3m-108.3 1h1.3m-1.3 1h1.3m-15.3 1h1.3m-18.3 3h1.3m85.7 2h1.3m-41.3 1h1.3m132.7 1h1.3m-163.3 2h1.3m12.7 0h1.3m122.7 0h1.3m-104.3 1h1.3m64.7 1h1.3m-26.3 1h1.3m74.7 0h1.3m47.7 0h1.3m-106.3 1h1.3m83.7 3h1.3m-107.3 1h1.3m-130.3 5h1.3m109.7 0h1.3m50.7 0h1.3m-210.3 1h1.3m127.7 0h1.3m146.7 0h1.3m-2.3 3h1.3" fill="none" stroke="#000" stroke-width="1.3"/>
</g>
<path d="M159.7 1037.8 162.9 1023.1 166.2 1013.3 179.3 1004.3 197.2 1000.2 211.9 1001.1 227.4 1004.3 226.6 1032.9 207 1037 185.8 1039.4Z" fill="none" stroke="#ff1a1a" stroke-width="1.4"/>
<text x="159.7" y="989"  style="font-size:16px;fill:#ff0000">P1(0.94%)</text>
<rect x="77.8" y="752" width="309" height="307.8" fill="none" stroke="#000" stroke-width="1.5"/>
<text x="222.8" y="743.8"  text-anchor="middle" style="font-size:16.3px">BLANK : All Events</text>
<path d="M77.8 1047.4h-8M77.8 1030.8h-5M77.8 1014.1h-5M77.8 997.5h-5M77.8 980.8h-5M77.8 964.2h-8M77.8 947.6h-5M77.8 930.9h-5M77.8 914.3h-5M77.8 897.6h-5M77.8 881h-8M77.8 864.4h-5M77.8 847.7h-5M77.8 831.1h-5M77.8 814.4h-5M77.8 797.8h-8M77.8 781.2h-5M77.8 764.5h-5" stroke="#000" stroke-width="1.3"/>
<text x="0" y="0" transform="translate(63.9 1047.4) rotate(-90)" text-anchor="middle" style="font-size:15px">0</text>
<text x="0" y="0" transform="translate(63.9 964.2) rotate(-90)" text-anchor="middle" style="font-size:15px">50</text>
<text x="0" y="0" transform="translate(63.9 881) rotate(-90)" text-anchor="middle" style="font-size:15px">100</text>
<text x="0" y="0" transform="translate(63.9 797.8) rotate(-90)" text-anchor="middle" style="font-size:15px">150</text>
<path d="M77.8 1059.8v8M104.5 1059.8v5M131.1 1059.8v5M157.8 1059.8v5M184.4 1059.8v5M211.1 1059.8v8M237.8 1059.8v5M264.4 1059.8v5M291.1 1059.8v5M317.7 1059.8v5M344.4 1059.8v8M371.1 1059.8v5" stroke="#000" stroke-width="1.3"/>
<text x="77.8" y="1087.8"  text-anchor="middle" style="font-size:15px">0</text>
<text x="211.1" y="1087.8"  text-anchor="middle" style="font-size:15px">50</text>
<text x="344.4" y="1087.8"  text-anchor="middle" style="font-size:15px">100</text>
<text x="232" y="1107.3"  text-anchor="middle" style="font-size:15.9px">FSC-A</text>
<text x="362.5" y="1109.8"  text-anchor="middle" style="font-size:15.5px">( x 10<tspan dy="-6.5" style="font-size:10.5px">4</tspan><tspan dy="6.5"> )</tspan></text>
<text x="0" y="0" transform="translate(41.8 905.9) rotate(-90)" text-anchor="middle" style="font-size:15.7px">SSC-A</text>
<text x="0" y="0" transform="translate(43 776) rotate(-90)" text-anchor="middle" style="font-size:15.5px">( x 10<tspan dy="-6.5" style="font-size:10.5px">4</tspan><tspan dy="6.5"> )</tspan></text>
<path d="M207 1031.5h1.5m-12 -6.5h1.5m-0.5 -16.5h1.5m3.5 -2.5h1.5m19 8h1.5m-36 3h1.5m2.5 -15h1.5m9.5 4.5h1.5m-8.5 16h1.5m-13.5 -6h1.5m12 -2.5h1.5m-3.5 2.5h1.5m12 -3h1.5m-33.5 14h1.5m12 5.5h1.5m-12.5 -7h1.5m28.5 5.5h1.5m-24 2.5h1.5m0 -2.5h1.5m-1.5 -2h1.5m4.5 -14.5h1.5m18.5 -8h1.5m-5.5 20h1.5m-10.5 -8h1.5m-7.5 0.5h1.5m3.5 -6.5h1.5m-3 -3.5h1.5m11 21.5h1.5m-21.5 -7.5h1.5m7.5 -12h1.5m-3 11.5h1.5m-0.5 -0.5h1.5m2.5 1.5h1.5m13.5 -4.5h1.5m-21 -9.5h1.5m21.5 10.5h1.5m-28 -5.5h1.5m-3.5 9.5h1.5m6.5 -3h1.5m2 1.5h1.5m-2.5 -7.5h1.5m12.5 8h1.5m-3.5 -7.5h1.5m-10.5 8h1.5m-13 -6.5h1.5m1.5 -6.5h1.5m20 13h1.5m-18.5 -9.5h1.5m-23 17h1.5m7.5 -8h1.5m0 0h1.5m22.5 -2.5h1.5m-19 -1.5h1.5m9 10.5h1.5m-9 -16.5h1.5m-9 14h1.5m18 -12.5h1.5m-18.5 4h1.5m-9.5 -1h1.5m18 -6.5h1.5m-9.5 7h1.5m15 5.5h1.5m-19 -7.5h1.5m10.5 -1h1.5m-39 6.5h1.5m46.5 7h1.5m2.5 -2.5h1.5m-33 -4h1.5m-12 -10.5h1.5m-4.5 15.5h1.5m30 -7.5h1.5m-16.5 -2h1.5m-7 9.5h1.5m3.5 -2.5h1.5m7 -14h1.5m4 4h1.5m-1 -8.5h1.5m2 15h1.5m-1 -1.5h1.5m-26.5 7.5h1.5m5.5 -6h1.5m-9 -4.5h1.5m-1 20h1.5m24.5 -25h1.5m-24.5 -2.5h1.5m4.5 5.5h1.5m-10 9h1.5m-0.5 -7h1.5m18 -0.5h1.5m-18.5 -5.5h1.5m-2 21h1.5m12 -17h1.5m-1.5 -3.5h1.5m2.5 7.5h1.5m-10 -5.5h1.5m-28.5 4.5h1.5m32 12.5h1.5m-3.5 -14h1.5m6 3h1.5m-28 -2.5h1.5m-7 9.5h1.5m26 -2h1.5m-11 -7h1.5m-9 -5h1.5m17 6.5h1.5m-17 7.5h1.5m-30 -6.5h1.5m14.5 -1h1.5m21.5 -13.5h1.5m-28.5 2.5h1.5m19 1.5h1.5" fill="none" stroke="#ff0000" stroke-width="1.5"/>
<g clip-path="url(#c1151)">
<path d="M110 1151h6v3h-6zM107 1154h3v3h-3zM104 1160h3v6h-3zM101 1169h3v18h-3zM98 1193h3v18h-3zM386 1157h1v69h-1zM95 1220h3v36h-3zM383 1298h3v3h-3zM380 1301h3v3h-3zM377 1304h3v3h-3zM374 1307h3v3h-3zM371 1310h3v3h-3zM92 1268h3v48h-3zM368 1313h3v3h-3zM365 1316h3v3h-3zM362 1319h3v3h-3zM356 1322h6v3h-6zM353 1325h3v3h-3zM350 1328h3v3h-3zM347 1331h3v3h-3zM344 1334h3v3h-3zM341 1337h3v3h-3zM338 1340h3v3h-3zM335 1343h3v3h-3zM89 1343h3v3h-3zM332 1346h3v3h-3zM329 1349h3v3h-3zM326 1352h3v3h-3zM86 1352h3v3h-3zM323 1355h3v3h-3zM320 1358h3v3h-3zM317 1361h3v3h-3zM314 1364h3v3h-3zM311 1367h3v3h-3zM308 1370h3v3h-3zM305 1373h3v3h-3zM302 1376h3v3h-3zM83 1367h3v15h-3zM299 1379h3v3h-3zM296 1382h3v3h-3zM293 1388h3v3h-3zM83 1391h3v6h-3zM290 1391h3v6h-3zM287 1397h3v3h-3zM284 1403h3v3h-3zM281 1406h3v6h-3zM278 1412h3v6h-3zM275 1418h3v3h-3zM272 1421h3v6h-3zM269 1427h3v3h-3zM266 1430h3v6h-3zM263 1436h3v3h-3zM260 1439h3v3h-3zM257 1442h3v3h-3zM227 1445h30v3h-30zM119 1448h30v3h-30z" fill="url(#p0)"/>
<path d="M116 1151h3v3h-3zM383 1151h3v3h-3zM110 1154h6v3h-6zM107 1157h6v3h-6zM107 1160h3v3h-3zM104 1166h3v15h-3zM101 1187h3v18h-3zM98 1211h3v30h-3zM95 1256h3v36h-3zM383 1292h3v6h-3zM380 1298h3v3h-3zM377 1301h3v3h-3zM374 1304h3v3h-3zM371 1307h3v3h-3zM368 1310h3v3h-3zM365 1313h3v3h-3zM362 1316h3v3h-3zM359 1319h3v3h-3zM353 1322h3v3h-3zM350 1325h3v3h-3zM347 1328h3v3h-3zM344 1331h3v3h-3zM341 1334h3v3h-3zM92 1316h3v24h-3zM338 1337h3v3h-3zM335 1340h3v3h-3zM332 1343h3v3h-3zM329 1346h3v3h-3zM89 1346h3v3h-3zM326 1349h3v3h-3zM323 1352h3v3h-3zM320 1355h3v3h-3zM86 1355h3v6h-3zM317 1358h3v3h-3zM314 1361h3v3h-3zM308 1364h6v3h-6zM305 1367h6v3h-6zM302 1370h6v3h-6zM302 1373h3v3h-3zM299 1376h3v3h-3zM296 1379h3v3h-3zM293 1382h3v6h-3zM83 1382h3v9h-3zM290 1388h3v3h-3zM287 1394h3v3h-3zM284 1397h3v6h-3zM281 1403h3v3h-3zM278 1409h3v3h-3zM275 1412h3v6h-3zM272 1418h3v3h-3zM269 1424h3v3h-3zM266 1427h3v3h-3zM263 1433h3v3h-3zM260 1436h3v3h-3zM257 1439h3v3h-3zM251 1442h6v3h-6zM155 1445h72v3h-72zM86 1445h3v3h-3zM110 1448h9v3h-9zM89 1448h3v3h-3z" fill="url(#p1)"/>
<path d="M377 1151h6v3h-6zM119 1151h6v3h-6zM116 1154h3v3h-3zM383 1154h3v3h-3zM113 1157h3v3h-3zM110 1160h3v3h-3zM107 1163h6v3h-6zM107 1166h3v15h-3zM104 1181h3v24h-3zM383 1226h3v6h-3zM101 1205h3v36h-3zM98 1241h6v6h-6zM380 1232h6v60h-6zM98 1247h3v45h-3zM95 1292h6v3h-6zM380 1292h3v3h-3zM377 1295h6v3h-6zM377 1298h3v3h-3zM374 1301h3v3h-3zM371 1304h3v3h-3zM365 1307h6v3h-6zM362 1310h6v3h-6zM359 1313h6v3h-6zM356 1316h6v3h-6zM353 1319h6v3h-6zM350 1322h3v3h-3zM347 1325h3v3h-3zM344 1328h3v3h-3zM338 1331h6v3h-6zM95 1295h3v42h-3zM335 1334h6v3h-6zM332 1337h6v3h-6zM329 1340h6v3h-6zM92 1340h3v3h-3zM326 1343h6v3h-6zM323 1346h6v3h-6zM320 1349h6v3h-6zM89 1349h3v3h-3zM317 1352h6v3h-6zM314 1355h6v3h-6zM311 1358h6v3h-6zM308 1361h6v3h-6zM86 1361h3v6h-3zM305 1364h3v3h-3zM302 1367h3v3h-3zM299 1370h3v3h-3zM296 1373h6v3h-6zM293 1376h6v3h-6zM293 1379h3v3h-3zM290 1382h3v3h-3zM287 1385h6v3h-6zM287 1388h3v3h-3zM284 1391h6v3h-6zM284 1394h3v3h-3zM281 1397h3v3h-3zM86 1397h3v3h-3zM278 1400h6v3h-6zM278 1403h3v3h-3zM275 1406h6v3h-6zM275 1409h3v3h-3zM272 1412h3v6h-3zM269 1418h3v3h-3zM266 1421h6v3h-6zM266 1424h3v3h-3zM263 1427h3v3h-3zM260 1430h6v3h-6zM257 1433h6v3h-6zM257 1436h3v3h-3zM248 1439h9v3h-9zM230 1442h21v3h-21zM131 1445h24v3h-24zM107 1448h3v3h-3z" fill="url(#p2)"/>
<path d="M125 1151h117v3h-117zM368 1151h9v3h-9zM119 1154h6v3h-6zM380 1154h3v3h-3zM116 1157h3v3h-3zM383 1157h3v3h-3zM113 1160h6v3h-6zM113 1163h3v3h-3zM110 1166h6v12h-6zM110 1178h3v3h-3zM107 1181h6v18h-6zM107 1199h3v6h-3zM104 1205h6v15h-6zM383 1223h3v3h-3zM380 1229h3v3h-3zM377 1232h3v6h-3zM374 1238h6v3h-6zM104 1220h3v24h-3zM371 1241h9v3h-9zM368 1244h12v6h-12zM365 1250h15v3h-15zM362 1253h18v3h-18zM359 1256h21v6h-21zM356 1262h24v3h-24zM353 1265h27v3h-27zM350 1268h30v6h-30zM347 1274h33v3h-33zM101 1247h3v33h-3zM344 1277h36v3h-36zM341 1280h39v6h-39zM338 1286h42v3h-42zM335 1289h45v3h-45zM332 1292h48v3h-48zM329 1295h48v6h-48zM326 1301h48v3h-48zM323 1304h48v3h-48zM320 1307h45v3h-45zM320 1310h42v3h-42zM317 1313h42v3h-42zM314 1316h42v3h-42zM311 1319h42v3h-42zM308 1322h42v3h-42zM305 1325h42v3h-42zM305 1328h39v3h-39zM98 1295h3v39h-3zM302 1331h36v3h-36zM299 1334h36v3h-36zM296 1337h36v3h-36zM95 1337h3v3h-3zM293 1340h36v3h-36zM293 1343h33v3h-33zM92 1343h3v3h-3zM290 1346h33v3h-33zM290 1349h30v3h-30zM287 1352h30v3h-30zM89 1352h3v3h-3zM287 1355h27v3h-27zM284 1358h27v3h-27zM284 1361h24v3h-24zM284 1364h21v3h-21zM281 1367h21v3h-21zM281 1370h18v3h-18zM278 1373h18v3h-18zM86 1367h3v15h-3zM278 1376h15v6h-15zM275 1382h15v3h-15zM275 1385h12v3h-12zM272 1388h15v3h-15zM86 1391h3v6h-3zM272 1391h12v6h-12zM269 1397h12v3h-12zM269 1400h9v3h-9zM266 1403h12v3h-12zM266 1406h9v6h-9zM263 1412h9v6h-9zM260 1418h9v3h-9zM260 1421h6v3h-6zM257 1424h9v3h-9zM254 1427h9v3h-9zM251 1430h9v3h-9zM248 1433h9v3h-9zM245 1436h12v3h-12zM236 1439h12v3h-12zM86 1400h3v45h-3zM167 1442h9v3h-9zM224 1442h6v3h-6zM128 1445h3v3h-3zM92 1448h15v3h-15z" fill="url(#p3)"/>
<path d="M341 1151h27v3h-27zM242 1151h24v3h-24zM368 1154h12v3h-12zM125 1154h114v3h-114zM380 1157h3v3h-3zM119 1157h3v3h-3zM116 1163h3v9h-3zM113 1178h3v15h-3zM110 1199h3v12h-3zM383 1160h3v63h-3zM380 1223h3v6h-3zM377 1229h3v3h-3zM107 1220h3v15h-3zM374 1232h3v6h-3zM371 1238h3v3h-3zM368 1241h3v3h-3zM365 1247h3v3h-3zM362 1250h3v3h-3zM359 1253h3v3h-3zM104 1244h3v15h-3zM356 1259h3v3h-3zM353 1262h3v3h-3zM350 1265h3v3h-3zM347 1271h3v3h-3zM344 1274h3v3h-3zM341 1277h3v3h-3zM338 1280h3v6h-3zM335 1286h3v3h-3zM332 1289h3v3h-3zM329 1292h3v3h-3zM326 1298h3v3h-3zM323 1301h3v3h-3zM320 1304h3v3h-3zM317 1307h3v6h-3zM314 1313h3v3h-3zM311 1316h3v3h-3zM308 1319h3v3h-3zM305 1322h3v3h-3zM101 1280h3v51h-3zM302 1328h3v3h-3zM299 1331h3v3h-3zM98 1334h3v3h-3zM296 1334h3v3h-3zM293 1337h3v3h-3zM95 1340h3v3h-3zM290 1343h3v3h-3zM92 1346h3v3h-3zM287 1346h3v6h-3zM284 1352h3v6h-3zM89 1355h3v6h-3zM281 1361h3v6h-3zM278 1367h3v6h-3zM275 1376h3v6h-3zM272 1385h3v3h-3zM86 1382h3v9h-3zM269 1391h3v6h-3zM266 1397h3v6h-3zM263 1406h3v6h-3zM260 1412h3v6h-3zM257 1418h3v6h-3zM254 1424h3v3h-3zM251 1427h3v3h-3zM242 1436h3v3h-3zM233 1439h3v3h-3zM176 1442h48v3h-48zM140 1442h27v3h-27zM125 1445h3v3h-3z" fill="url(#p4)"/>
<path d="M338 1151h3v3h-3zM266 1151h3v3h-3zM365 1154h3v3h-3zM239 1154h6v3h-6zM368 1157h12v3h-12zM122 1157h117v3h-117zM119 1160h3v9h-3zM116 1172h3v15h-3zM113 1193h3v15h-3zM380 1160h3v63h-3zM377 1223h3v6h-3zM110 1211h3v21h-3zM374 1229h3v3h-3zM371 1232h3v6h-3zM368 1238h3v3h-3zM365 1241h3v6h-3zM362 1247h3v3h-3zM359 1250h3v3h-3zM107 1235h3v21h-3zM356 1253h3v6h-3zM353 1259h3v3h-3zM350 1262h3v3h-3zM347 1265h3v6h-3zM344 1271h3v3h-3zM341 1274h3v3h-3zM338 1277h3v3h-3zM335 1280h3v6h-3zM332 1286h3v3h-3zM329 1289h3v3h-3zM326 1292h3v6h-3zM323 1298h3v3h-3zM320 1301h3v3h-3zM317 1304h3v3h-3zM314 1307h3v6h-3zM311 1313h3v3h-3zM104 1259h3v60h-3zM308 1316h3v3h-3zM305 1319h3v3h-3zM302 1322h3v6h-3zM299 1328h3v3h-3zM101 1331h3v3h-3zM296 1331h3v3h-3zM293 1334h3v3h-3zM290 1337h3v6h-3zM287 1343h3v3h-3zM284 1346h3v6h-3zM92 1349h3v3h-3zM281 1355h3v6h-3zM278 1361h3v6h-3zM89 1361h3v6h-3zM275 1370h3v6h-3zM272 1376h3v9h-3zM269 1385h3v6h-3zM266 1391h3v6h-3zM263 1400h3v6h-3zM260 1406h3v6h-3zM257 1412h3v6h-3zM254 1418h3v6h-3zM251 1424h3v3h-3zM248 1430h3v3h-3zM245 1433h3v3h-3zM239 1436h3v3h-3zM230 1439h3v3h-3zM137 1442h3v3h-3zM122 1445h3v3h-3z" fill="url(#p5)"/>
<path d="M269 1151h3v3h-3zM335 1151h3v3h-3zM245 1154h21v3h-21zM338 1154h27v3h-27zM239 1157h3v3h-3zM365 1157h3v3h-3zM368 1160h12v3h-12zM122 1160h114v3h-114zM122 1163h9v3h-9zM371 1163h9v3h-9zM374 1166h6v3h-6zM122 1166h3v3h-3zM119 1169h6v12h-6zM119 1181h3v6h-3zM116 1187h6v15h-6zM116 1202h3v6h-3zM377 1169h3v48h-3zM113 1208h6v15h-6zM374 1217h6v6h-6zM371 1223h6v6h-6zM113 1223h3v9h-3zM368 1229h6v3h-6zM365 1232h6v6h-6zM362 1238h6v3h-6zM359 1241h6v3h-6zM110 1232h6v15h-6zM356 1244h9v3h-9zM356 1247h6v3h-6zM353 1250h6v3h-6zM110 1247h3v9h-3zM350 1253h6v3h-6zM347 1256h9v3h-9zM347 1259h6v3h-6zM344 1262h6v3h-6zM341 1265h6v3h-6zM338 1268h9v3h-9zM338 1271h6v3h-6zM335 1274h6v3h-6zM332 1277h6v3h-6zM329 1280h6v3h-6zM326 1283h9v3h-9zM107 1256h6v33h-6zM326 1286h6v3h-6zM323 1289h6v3h-6zM320 1292h6v3h-6zM317 1295h9v3h-9zM317 1298h6v3h-6zM314 1301h6v3h-6zM311 1304h6v3h-6zM308 1307h6v3h-6zM305 1310h9v3h-9zM305 1313h6v3h-6zM107 1289h3v30h-3zM302 1316h6v3h-6zM299 1319h6v3h-6zM296 1322h6v3h-6zM104 1319h6v9h-6zM293 1325h9v3h-9zM104 1328h3v3h-3zM293 1328h6v3h-6zM290 1331h6v3h-6zM287 1334h6v3h-6zM98 1337h3v3h-3zM284 1337h6v6h-6zM281 1343h6v3h-6zM95 1343h3v3h-3zM281 1346h3v3h-3zM278 1349h6v6h-6zM92 1352h3v3h-3zM275 1355h6v6h-6zM275 1361h3v3h-3zM272 1364h6v6h-6zM269 1370h6v6h-6zM89 1367h3v12h-3zM269 1376h3v3h-3zM266 1379h6v6h-6zM263 1385h6v6h-6zM263 1391h3v3h-3zM260 1394h6v6h-6zM257 1400h6v6h-6zM254 1406h6v6h-6zM254 1412h3v3h-3zM251 1415h6v3h-6zM251 1418h3v6h-3zM248 1427h3v3h-3zM242 1433h3v3h-3zM236 1436h3v3h-3zM149 1439h27v3h-27zM224 1439h6v3h-6zM119 1445h3v3h-3z" fill="url(#p6)"/>
<path d="M335 1154h3v3h-3zM266 1154h3v3h-3zM359 1157h6v3h-6zM242 1157h6v3h-6zM236 1160h3v3h-3zM365 1160h3v3h-3zM365 1163h6v3h-6zM131 1163h105v3h-105zM365 1166h9v3h-9zM125 1166h108v6h-108zM125 1172h105v3h-105zM365 1169h12v9h-12zM125 1175h102v3h-102zM125 1178h99v3h-99zM122 1181h99v3h-99zM362 1178h15v12h-15zM122 1184h96v6h-96zM359 1190h18v3h-18zM122 1190h93v3h-93zM122 1193h90v3h-90zM356 1193h21v6h-21zM122 1196h87v3h-87zM122 1199h84v3h-84zM353 1199h24v3h-24zM350 1202h27v3h-27zM119 1202h87v3h-87zM119 1205h84v3h-84zM347 1205h30v3h-30zM119 1208h81v3h-81zM344 1208h33v6h-33zM119 1211h78v3h-78zM341 1214h36v3h-36zM119 1214h75v6h-75zM338 1217h36v3h-36zM119 1220h72v3h-72zM335 1220h39v3h-39zM335 1223h36v3h-36zM116 1223h72v6h-72zM332 1226h39v3h-39zM116 1229h69v3h-69zM329 1229h39v3h-39zM329 1232h36v3h-36zM116 1232h66v6h-66zM326 1235h39v3h-39zM326 1238h36v3h-36zM116 1238h63v6h-63zM323 1241h36v3h-36zM116 1244h60v3h-60zM320 1244h36v6h-36zM113 1247h60v3h-60zM317 1250h36v3h-36zM113 1250h57v6h-57zM314 1253h36v3h-36zM314 1256h33v3h-33zM113 1256h54v3h-54zM311 1259h36v3h-36zM113 1259h51v6h-51zM308 1262h36v3h-36zM113 1265h48v3h-48zM308 1265h33v3h-33zM305 1268h33v3h-33zM113 1268h45v6h-45zM302 1271h36v3h-36zM113 1274h42v3h-42zM302 1274h33v3h-33zM299 1277h33v3h-33zM113 1277h39v6h-39zM296 1280h33v3h-33zM113 1283h36v3h-36zM296 1283h30v3h-30zM293 1286h33v3h-33zM113 1286h33v3h-33zM110 1289h36v3h-36zM293 1289h30v3h-30zM290 1292h30v3h-30zM110 1292h33v3h-33zM290 1295h27v3h-27zM110 1295h30v3h-30zM287 1298h30v3h-30zM110 1298h27v3h-27zM110 1301h24v3h-24zM287 1301h27v3h-27zM284 1304h27v3h-27zM110 1304h21v3h-21zM110 1307h18v3h-18zM284 1307h24v3h-24zM110 1310h15v3h-15zM281 1310h24v6h-24zM110 1313h12v3h-12zM281 1316h21v3h-21zM110 1316h9v3h-9zM278 1319h21v3h-21zM110 1319h6v6h-6zM278 1322h18v3h-18zM110 1325h3v3h-3zM275 1325h18v6h-18zM107 1328h3v3h-3zM104 1331h3v3h-3zM275 1331h15v3h-15zM101 1334h3v3h-3zM272 1334h15v3h-15zM272 1337h12v3h-12zM98 1340h3v3h-3zM269 1340h15v3h-15zM269 1343h12v6h-12zM95 1346h3v3h-3zM266 1349h12v6h-12zM266 1355h9v3h-9zM92 1355h3v6h-3zM263 1358h12v6h-12zM263 1364h9v3h-9zM260 1367h12v3h-12zM260 1370h9v9h-9zM89 1379h3v6h-3zM257 1379h9v6h-9zM257 1385h6v3h-6zM254 1388h9v6h-9zM254 1394h6v6h-6zM254 1400h3v3h-3zM251 1403h6v3h-6zM251 1406h3v9h-3zM248 1424h3v3h-3zM245 1430h3v3h-3zM233 1436h3v3h-3zM176 1439h12v3h-12zM146 1439h3v3h-3zM212 1439h12v3h-12zM134 1442h3v3h-3zM116 1445h3v3h-3zM89 1445h3v3h-3z" fill="url(#p7)"/>
<path d="M332 1151h3v3h-3zM272 1151h6v3h-6zM269 1154h3v3h-3zM248 1157h18v3h-18zM335 1157h24v3h-24zM239 1160h6v3h-6zM236 1163h3v3h-3zM233 1166h3v6h-3zM230 1172h3v3h-3zM362 1160h3v18h-3zM227 1175h3v3h-3zM224 1178h3v3h-3zM221 1181h3v3h-3zM218 1184h6v3h-6zM359 1181h3v9h-3zM218 1187h3v3h-3zM356 1190h3v3h-3zM215 1190h3v3h-3zM212 1193h3v3h-3zM353 1193h3v6h-3zM209 1196h3v3h-3zM350 1199h3v3h-3zM206 1199h3v6h-3zM347 1202h3v3h-3zM203 1205h3v3h-3zM344 1205h3v3h-3zM200 1208h3v3h-3zM341 1208h3v6h-3zM197 1211h3v3h-3zM338 1214h3v3h-3zM194 1214h3v6h-3zM335 1217h3v3h-3zM191 1220h3v3h-3zM332 1220h3v6h-3zM188 1223h3v6h-3zM329 1226h3v3h-3zM185 1229h3v3h-3zM326 1229h3v6h-3zM182 1232h3v6h-3zM323 1235h3v6h-3zM179 1238h3v6h-3zM320 1241h3v3h-3zM176 1244h3v3h-3zM317 1244h3v6h-3zM173 1247h3v3h-3zM314 1250h3v3h-3zM170 1250h3v6h-3zM311 1253h3v6h-3zM167 1256h3v3h-3zM308 1259h3v3h-3zM164 1259h3v6h-3zM305 1262h3v6h-3zM161 1265h3v3h-3zM302 1268h3v3h-3zM158 1268h3v6h-3zM299 1271h3v6h-3zM155 1274h3v3h-3zM296 1277h3v3h-3zM152 1277h3v6h-3zM293 1280h3v6h-3zM149 1283h3v3h-3zM146 1286h3v6h-3zM290 1286h3v6h-3zM143 1292h3v3h-3zM287 1292h3v6h-3zM140 1295h3v3h-3zM137 1298h3v3h-3zM284 1298h3v6h-3zM134 1301h3v3h-3zM131 1304h3v3h-3zM281 1304h3v6h-3zM128 1307h3v3h-3zM125 1310h3v3h-3zM122 1313h3v3h-3zM278 1313h3v6h-3zM119 1316h3v3h-3zM116 1319h3v3h-3zM275 1319h3v6h-3zM272 1328h3v6h-3zM269 1334h3v6h-3zM101 1337h3v3h-3zM98 1343h3v3h-3zM266 1343h3v6h-3zM95 1349h3v6h-3zM263 1349h3v9h-3zM260 1358h3v9h-3zM92 1361h3v6h-3zM257 1370h3v9h-3zM254 1379h3v9h-3zM89 1385h3v12h-3zM251 1391h3v12h-3zM248 1409h3v15h-3zM239 1433h3v3h-3zM158 1436h15v3h-15zM230 1436h3v3h-3zM188 1439h24v3h-24zM131 1442h3v3h-3zM113 1445h3v3h-3z" fill="url(#p8)"/>
<path d="M278 1151h15v3h-15zM317 1151h15v3h-15zM272 1154h3v3h-3zM332 1154h3v3h-3zM266 1157h3v3h-3zM245 1160h18v3h-18zM239 1163h18v3h-18zM236 1166h18v3h-18zM335 1160h27v12h-27zM236 1169h15v3h-15zM233 1172h15v3h-15zM230 1175h18v3h-18zM332 1172h30v9h-30zM227 1178h18v3h-18zM224 1181h18v3h-18zM329 1181h30v6h-30zM224 1184h15v3h-15zM326 1187h33v3h-33zM221 1187h15v3h-15zM218 1190h15v3h-15zM326 1190h30v3h-30zM215 1193h18v3h-18zM323 1193h30v6h-30zM212 1196h18v3h-18zM320 1199h30v3h-30zM209 1199h18v3h-18zM320 1202h27v3h-27zM209 1202h15v3h-15zM206 1205h15v3h-15zM317 1205h27v3h-27zM317 1208h24v3h-24zM203 1208h15v3h-15zM200 1211h15v3h-15zM314 1211h27v3h-27zM197 1214h18v3h-18zM311 1214h27v3h-27zM311 1217h24v3h-24zM197 1217h15v3h-15zM308 1220h24v3h-24zM194 1220h15v3h-15zM191 1223h15v3h-15zM305 1223h27v3h-27zM305 1226h24v3h-24zM191 1226h12v3h-12zM302 1229h24v3h-24zM188 1229h12v3h-12zM299 1232h27v3h-27zM185 1232h12v6h-12zM299 1235h24v3h-24zM296 1238h27v3h-27zM182 1238h12v3h-12zM182 1241h9v3h-9zM293 1241h27v3h-27zM293 1244h24v3h-24zM179 1244h9v3h-9zM290 1247h27v3h-27zM176 1247h12v3h-12zM173 1250h12v3h-12zM290 1250h24v3h-24zM287 1253h24v3h-24zM173 1253h9v3h-9zM170 1256h12v3h-12zM284 1256h27v3h-27zM167 1259h12v3h-12zM284 1259h24v3h-24zM167 1262h9v3h-9zM281 1262h24v6h-24zM164 1265h12v3h-12zM278 1268h24v3h-24zM161 1268h12v3h-12zM161 1271h9v3h-9zM278 1271h21v3h-21zM275 1274h24v3h-24zM158 1274h12v3h-12zM275 1277h21v3h-21zM155 1277h12v3h-12zM155 1280h9v3h-9zM272 1280h21v6h-21zM152 1283h12v3h-12zM149 1286h12v3h-12zM269 1286h21v6h-21zM149 1289h9v3h-9zM146 1292h9v3h-9zM269 1292h18v6h-18zM143 1295h9v3h-9zM140 1298h9v3h-9zM266 1298h18v6h-18zM137 1301h9v3h-9zM266 1304h15v3h-15zM134 1304h9v3h-9zM131 1307h9v3h-9zM263 1307h18v6h-18zM128 1310h9v3h-9zM125 1313h6v3h-6zM263 1313h15v3h-15zM260 1316h18v3h-18zM122 1316h6v3h-6zM119 1319h3v3h-3zM116 1322h3v3h-3zM260 1319h15v9h-15zM113 1325h3v3h-3zM110 1328h3v3h-3zM257 1328h15v6h-15zM107 1331h3v3h-3zM104 1334h3v3h-3zM257 1334h12v3h-12zM254 1337h15v6h-15zM101 1340h3v3h-3zM254 1343h12v6h-12zM98 1346h3v3h-3zM251 1349h12v9h-12zM95 1355h3v3h-3zM251 1358h9v12h-9zM92 1367h3v6h-3zM251 1370h6v9h-6zM251 1379h3v3h-3zM248 1382h6v9h-6zM248 1391h3v18h-3zM245 1427h3v3h-3zM242 1430h3v3h-3zM233 1433h6v3h-6zM167 1433h3v3h-3zM155 1436h3v3h-3zM173 1436h6v3h-6zM224 1436h6v3h-6zM143 1439h3v3h-3zM110 1445h3v3h-3z" fill="url(#p9)"/>
<path d="M275 1154h15v3h-15zM317 1154h15v3h-15zM269 1157h3v3h-3zM263 1160h3v3h-3zM257 1163h3v3h-3zM254 1166h3v3h-3zM332 1157h3v15h-3zM251 1169h3v3h-3zM248 1172h3v3h-3zM329 1175h3v6h-3zM245 1178h3v3h-3zM242 1181h3v3h-3zM239 1184h3v3h-3zM326 1184h3v3h-3zM236 1187h3v3h-3zM323 1190h3v3h-3zM233 1190h3v3h-3zM320 1196h3v3h-3zM230 1196h3v3h-3zM227 1199h3v3h-3zM224 1202h3v3h-3zM317 1202h3v3h-3zM221 1205h3v3h-3zM218 1208h3v3h-3zM314 1208h3v3h-3zM215 1211h3v3h-3zM311 1211h3v3h-3zM308 1217h3v3h-3zM209 1220h3v3h-3zM305 1220h3v3h-3zM206 1223h3v3h-3zM302 1226h3v3h-3zM203 1226h3v3h-3zM299 1229h3v3h-3zM200 1229h3v3h-3zM197 1232h3v3h-3zM296 1235h3v3h-3zM194 1238h3v3h-3zM293 1238h3v3h-3zM191 1241h3v3h-3zM290 1244h3v3h-3zM188 1244h3v6h-3zM287 1247h3v6h-3zM185 1250h3v3h-3zM284 1253h3v3h-3zM182 1253h3v6h-3zM281 1259h3v3h-3zM179 1259h3v3h-3zM176 1262h3v6h-3zM278 1265h3v3h-3zM173 1268h3v3h-3zM275 1268h3v6h-3zM170 1271h3v3h-3zM272 1274h3v6h-3zM167 1277h3v3h-3zM164 1280h3v3h-3zM269 1283h3v3h-3zM161 1286h3v3h-3zM158 1289h3v3h-3zM155 1292h3v3h-3zM266 1289h3v9h-3zM152 1295h3v3h-3zM149 1298h3v3h-3zM146 1301h3v3h-3zM263 1301h3v6h-3zM143 1304h3v3h-3zM140 1307h3v3h-3zM137 1310h3v3h-3zM260 1310h3v6h-3zM131 1313h3v3h-3zM128 1316h3v3h-3zM122 1319h3v3h-3zM119 1322h3v3h-3zM257 1319h3v9h-3zM116 1325h3v3h-3zM113 1328h3v3h-3zM110 1331h3v3h-3zM254 1331h3v6h-3zM107 1334h3v3h-3zM104 1337h3v3h-3zM101 1343h3v3h-3zM251 1340h3v9h-3zM98 1349h3v3h-3zM95 1358h3v6h-3zM92 1373h3v3h-3zM248 1352h3v30h-3zM89 1397h3v6h-3zM245 1415h3v12h-3zM242 1427h3v3h-3zM239 1430h3v3h-3zM164 1433h3v3h-3zM170 1433h3v3h-3zM230 1433h3v3h-3zM152 1436h3v3h-3zM179 1436h45v3h-45zM140 1439h3v3h-3zM128 1442h3v3h-3zM89 1442h3v3h-3zM107 1445h3v3h-3zM92 1445h3v3h-3z" fill="url(#p10)"/>
<path d="M329 1157h3v3h-3zM272 1157h3v3h-3zM266 1160h3v3h-3zM260 1163h3v3h-3zM257 1166h3v3h-3zM254 1169h3v3h-3zM329 1169h3v6h-3zM251 1172h3v3h-3zM248 1175h3v3h-3zM326 1178h3v6h-3zM242 1184h3v3h-3zM239 1187h3v3h-3zM323 1187h3v3h-3zM236 1190h3v3h-3zM320 1193h3v3h-3zM233 1193h3v3h-3zM317 1199h3v3h-3zM230 1199h3v3h-3zM227 1202h3v3h-3zM224 1205h3v3h-3zM314 1205h3v3h-3zM221 1208h3v3h-3zM311 1208h3v3h-3zM218 1211h3v3h-3zM308 1214h3v3h-3zM215 1214h3v3h-3zM212 1217h3v3h-3zM305 1217h3v3h-3zM302 1223h3v3h-3zM299 1226h3v3h-3zM206 1226h3v3h-3zM203 1229h3v3h-3zM200 1232h3v3h-3zM296 1232h3v3h-3zM197 1235h3v3h-3zM293 1235h3v3h-3zM194 1241h3v3h-3zM290 1241h3v3h-3zM191 1244h3v3h-3zM287 1244h3v3h-3zM284 1250h3v3h-3zM185 1253h3v3h-3zM281 1256h3v3h-3zM278 1259h3v6h-3zM179 1262h3v3h-3zM275 1265h3v3h-3zM272 1271h3v3h-3zM173 1271h3v3h-3zM170 1274h3v3h-3zM269 1277h3v6h-3zM167 1280h3v3h-3zM164 1283h3v3h-3zM266 1286h3v3h-3zM161 1289h3v3h-3zM158 1292h3v3h-3zM155 1295h3v3h-3zM263 1295h3v6h-3zM152 1298h3v3h-3zM149 1301h3v3h-3zM146 1304h3v3h-3zM260 1304h3v6h-3zM143 1307h3v3h-3zM140 1310h3v3h-3zM134 1313h3v3h-3zM257 1313h3v6h-3zM131 1316h3v3h-3zM125 1319h3v3h-3zM122 1322h3v3h-3zM254 1325h3v6h-3zM251 1334h3v6h-3zM104 1340h3v3h-3zM101 1346h3v3h-3zM248 1346h3v6h-3zM98 1352h3v6h-3zM95 1364h3v6h-3zM245 1367h3v48h-3zM242 1424h3v3h-3zM239 1427h3v3h-3zM233 1430h6v3h-6zM161 1433h3v3h-3zM224 1433h6v3h-6zM173 1433h6v3h-6zM89 1403h3v39h-3zM95 1445h12v3h-12z" fill="url(#p11)"/>
<path d="M314 1154h3v3h-3zM290 1154h3v3h-3zM275 1157h15v3h-15zM314 1157h15v3h-15zM326 1160h6v3h-6zM269 1160h6v3h-6zM263 1163h6v3h-6zM329 1163h3v6h-3zM260 1166h3v3h-3zM257 1169h3v3h-3zM254 1172h3v3h-3zM326 1169h3v9h-3zM251 1175h3v3h-3zM248 1178h3v3h-3zM245 1181h6v3h-6zM323 1181h3v6h-3zM245 1184h3v3h-3zM242 1187h3v3h-3zM320 1187h3v6h-3zM239 1190h3v3h-3zM236 1193h3v3h-3zM317 1193h3v6h-3zM233 1196h3v6h-3zM314 1199h3v6h-3zM230 1202h3v3h-3zM311 1205h3v3h-3zM227 1205h3v3h-3zM224 1208h3v3h-3zM308 1208h3v6h-3zM221 1211h3v3h-3zM218 1214h3v3h-3zM305 1214h3v3h-3zM215 1217h3v3h-3zM302 1217h3v6h-3zM212 1220h3v3h-3zM299 1223h3v3h-3zM209 1223h6v3h-6zM209 1226h3v3h-3zM296 1226h3v6h-3zM206 1229h3v3h-3zM203 1232h3v3h-3zM293 1232h3v3h-3zM200 1235h3v3h-3zM290 1235h3v6h-3zM197 1238h3v6h-3zM287 1241h3v3h-3zM194 1244h3v3h-3zM284 1244h3v6h-3zM191 1247h3v3h-3zM188 1250h6v3h-6zM281 1250h3v6h-3zM188 1253h3v3h-3zM185 1256h3v3h-3zM278 1256h3v3h-3zM182 1259h6v3h-6zM275 1259h3v6h-3zM182 1262h3v3h-3zM179 1265h3v3h-3zM272 1265h3v6h-3zM176 1268h6v3h-6zM176 1271h3v3h-3zM269 1271h3v6h-3zM173 1274h3v3h-3zM170 1277h3v6h-3zM266 1277h3v9h-3zM167 1283h3v3h-3zM164 1286h3v6h-3zM263 1286h3v9h-3zM161 1292h3v3h-3zM158 1295h3v3h-3zM155 1298h3v3h-3zM260 1295h3v9h-3zM152 1301h3v3h-3zM149 1304h3v3h-3zM146 1307h3v3h-3zM257 1304h3v9h-3zM143 1310h3v3h-3zM137 1313h6v3h-6zM134 1316h3v3h-3zM128 1319h6v3h-6zM254 1316h3v9h-3zM125 1322h3v3h-3zM119 1325h6v3h-6zM116 1328h6v3h-6zM251 1325h3v9h-3zM113 1331h3v3h-3zM110 1334h3v3h-3zM107 1337h3v6h-3zM248 1337h3v9h-3zM104 1343h3v6h-3zM101 1349h3v6h-3zM98 1358h3v3h-3zM245 1346h3v21h-3zM92 1376h3v3h-3zM242 1385h3v39h-3zM239 1424h3v3h-3zM236 1427h3v3h-3zM170 1430h6v3h-6zM224 1430h9v3h-9zM179 1433h45v3h-45zM149 1436h3v3h-3zM137 1439h3v3h-3zM125 1442h3v3h-3z" fill="url(#p12)"/>
<path d="M315 1151h2v1h-2zM293 1151h3v3h-3zM314 1152h3v2h-3zM314 1160h12v3h-12zM275 1160h12v3h-12zM269 1163h15v3h-15zM311 1163h18v6h-18zM263 1166h21v3h-21zM311 1169h15v3h-15zM260 1169h21v3h-21zM257 1172h21v3h-21zM308 1172h18v6h-18zM254 1175h21v3h-21zM251 1178h21v3h-21zM305 1178h21v3h-21zM251 1181h18v3h-18zM302 1181h21v6h-21zM248 1184h21v3h-21zM299 1187h21v3h-21zM245 1187h21v3h-21zM242 1190h21v3h-21zM296 1190h24v3h-24zM239 1193h21v3h-21zM296 1193h21v3h-21zM293 1196h24v3h-24zM236 1196h24v3h-24zM236 1199h21v3h-21zM290 1199h24v3h-24zM287 1202h27v3h-27zM233 1202h21v3h-21zM287 1205h24v3h-24zM230 1205h21v3h-21zM284 1208h24v3h-24zM227 1208h21v3h-21zM224 1211h24v3h-24zM281 1211h27v3h-27zM221 1214h24v3h-24zM278 1214h27v3h-27zM218 1217h21v3h-21zM275 1217h27v6h-27zM215 1220h21v3h-21zM272 1223h27v3h-27zM215 1223h18v3h-18zM212 1226h18v3h-18zM269 1226h27v6h-27zM209 1229h21v3h-21zM206 1232h21v3h-21zM266 1232h27v3h-27zM203 1235h21v3h-21zM263 1235h27v6h-27zM200 1238h21v3h-21zM260 1241h27v3h-27zM200 1241h18v3h-18zM197 1244h18v3h-18zM260 1244h24v3h-24zM257 1247h27v3h-27zM194 1247h18v3h-18zM257 1250h24v3h-24zM194 1250h15v3h-15zM191 1253h15v3h-15zM254 1253h27v3h-27zM254 1256h24v3h-24zM188 1256h15v3h-15zM188 1259h12v3h-12zM251 1259h24v6h-24zM185 1262h12v3h-12zM182 1265h12v3h-12zM251 1265h21v6h-21zM182 1268h9v3h-9zM179 1271h9v3h-9zM251 1271h18v6h-18zM176 1274h12v3h-12zM173 1277h12v3h-12zM251 1277h15v6h-15zM173 1280h9v3h-9zM248 1283h18v3h-18zM170 1283h9v3h-9zM167 1286h9v6h-9zM248 1286h15v9h-15zM164 1292h9v3h-9zM248 1295h12v3h-12zM161 1295h9v3h-9zM158 1298h9v3h-9zM245 1298h15v6h-15zM155 1301h9v3h-9zM152 1304h9v3h-9zM242 1304h15v6h-15zM149 1307h12v3h-12zM146 1310h12v3h-12zM239 1310h18v6h-18zM143 1313h9v3h-9zM239 1316h15v3h-15zM137 1316h12v3h-12zM134 1319h12v3h-12zM236 1319h18v6h-18zM128 1322h12v3h-12zM125 1325h12v3h-12zM122 1328h9v3h-9zM116 1331h9v3h-9zM233 1325h18v12h-18zM113 1334h9v3h-9zM110 1337h6v3h-6zM110 1340h3v3h-3zM230 1337h18v9h-18zM107 1343h3v3h-3zM230 1346h15v3h-15zM104 1349h3v3h-3zM227 1349h18v6h-18zM101 1355h3v3h-3zM98 1361h3v3h-3zM95 1370h3v3h-3zM176 1355h69v30h-69zM92 1379h3v6h-3zM176 1385h66v39h-66zM176 1424h63v3h-63zM173 1427h63v3h-63zM168 1430h2v1h-2zM176 1430h48v3h-48zM167 1431h3v2h-3zM158 1433h3v3h-3zM147 1436h2v1h-2zM146 1437h3v2h-3zM135 1439h2v1h-2zM134 1440h3v2h-3zM119 1442h6v3h-6z" fill="url(#p13)"/>
<path d="M293 1154h2v1h-2zM293 1155h1v1h-1zM313 1155h1v3h-1zM290 1157h2v1h-2zM290 1158h1v2h-1zM312 1158h2v3h-2zM287 1160h3v1h-3zM287 1161h2v2h-2zM311 1161h3v2h-3zM284 1163h4v1h-4zM284 1164h3v1h-3zM310 1164h1v2h-1zM284 1165h2v2h-2zM284 1167h1v1h-1zM309 1166h2v3h-2zM281 1169h2v1h-2zM308 1169h3v3h-3zM281 1170h1v2h-1zM278 1172h3v1h-3zM307 1172h1v2h-1zM278 1173h2v1h-2zM278 1174h1v1h-1zM306 1174h2v2h-2zM275 1175h3v1h-3zM275 1176h2v1h-2zM305 1176h3v1h-3zM304 1177h4v1h-4zM275 1177h1v1h-1zM304 1178h1v1h-1zM272 1178h3v2h-3zM303 1179h2v1h-2zM302 1180h3v1h-3zM272 1180h2v1h-2zM269 1181h4v1h-4zM269 1182h3v1h-3zM301 1182h1v1h-1zM300 1183h2v2h-2zM269 1183h2v2h-2zM299 1185h3v1h-3zM269 1185h1v1h-1zM298 1186h4v1h-4zM266 1187h3v1h-3zM297 1187h2v2h-2zM266 1188h2v1h-2zM266 1189h1v1h-1zM296 1189h3v1h-3zM295 1190h1v2h-1zM263 1190h3v2h-3zM294 1192h2v1h-2zM263 1192h2v1h-2zM293 1193h3v2h-3zM260 1193h4v2h-4zM292 1195h4v1h-4zM260 1195h3v1h-3zM260 1196h2v1h-2zM291 1196h2v2h-2zM260 1197h1v2h-1zM290 1198h3v1h-3zM289 1199h1v1h-1zM257 1199h3v1h-3zM257 1200h2v1h-2zM288 1200h2v2h-2zM257 1201h1v1h-1zM254 1202h3v2h-3zM286 1203h1v1h-1zM254 1204h2v1h-2zM285 1204h2v1h-2zM251 1205h4v1h-4zM284 1205h3v1h-3zM251 1206h3v1h-3zM283 1206h4v2h-4zM251 1207h2v1h-2zM282 1208h2v1h-2zM248 1208h4v2h-4zM281 1209h3v1h-3zM280 1210h4v1h-4zM248 1210h3v1h-3zM248 1211h2v1h-2zM279 1211h2v2h-2zM248 1212h1v1h-1zM278 1213h3v1h-3zM277 1214h1v1h-1zM245 1214h2v1h-2zM245 1215h1v1h-1zM276 1215h2v2h-2zM239 1217h5v1h-5zM239 1218h4v1h-4zM274 1218h1v2h-1zM239 1219h3v1h-3zM236 1220h4v1h-4zM273 1220h2v1h-2zM236 1221h3v1h-3zM272 1221h3v1h-3zM236 1222h2v1h-2zM271 1222h4v1h-4zM271 1223h1v1h-1zM233 1223h4v1h-4zM270 1224h2v1h-2zM233 1224h3v1h-3zM269 1225h3v1h-3zM233 1225h2v1h-2zM230 1226h4v1h-4zM268 1227h1v1h-1zM230 1227h3v2h-3zM267 1228h2v2h-2zM230 1229h2v1h-2zM230 1230h1v1h-1zM266 1230h3v1h-3zM265 1231h4v1h-4zM265 1232h1v1h-1zM227 1232h2v1h-2zM227 1233h1v1h-1zM264 1233h2v2h-2zM224 1235h2v2h-2zM262 1236h1v2h-1zM224 1237h1v1h-1zM221 1238h3v1h-3zM261 1238h2v2h-2zM221 1239h2v1h-2zM221 1240h1v1h-1zM260 1240h3v1h-3zM218 1241h3v1h-3zM218 1242h2v1h-2zM259 1242h1v1h-1zM218 1243h1v1h-1zM258 1243h2v2h-2zM215 1244h3v1h-3zM215 1245h2v1h-2zM257 1245h3v2h-3zM215 1246h1v1h-1zM212 1247h3v1h-3zM256 1247h1v2h-1zM212 1248h2v1h-2zM212 1249h1v1h-1zM255 1249h2v2h-2zM209 1250h3v1h-3zM209 1251h2v1h-2zM254 1251h3v2h-3zM209 1252h1v1h-1zM206 1253h3v1h-3zM206 1254h2v1h-2zM253 1253h1v3h-1zM206 1255h1v1h-1zM203 1256h3v1h-3zM252 1256h2v2h-2zM203 1257h2v1h-2zM203 1258h1v1h-1zM251 1258h3v1h-3zM200 1259h3v1h-3zM200 1260h2v1h-2zM200 1261h1v1h-1zM250 1260h1v3h-1zM197 1262h3v1h-3zM197 1263h2v1h-2zM197 1264h1v1h-1zM194 1265h3v1h-3zM194 1266h2v1h-2zM194 1267h1v1h-1zM191 1268h4v1h-4zM191 1269h3v1h-3zM191 1270h2v1h-2zM249 1263h2v9h-2zM188 1271h4v1h-4zM188 1272h3v2h-3zM188 1274h2v1h-2zM188 1275h1v1h-1zM185 1277h2v1h-2zM185 1278h1v2h-1zM182 1280h3v1h-3zM182 1281h2v1h-2zM248 1272h3v11h-3zM182 1282h1v1h-1zM179 1283h3v2h-3zM179 1285h2v1h-2zM176 1286h4v1h-4zM247 1283h1v6h-1zM176 1287h3v2h-3zM176 1289h2v1h-2zM176 1290h1v1h-1zM173 1292h3v1h-3zM246 1289h2v5h-2zM173 1293h2v1h-2zM173 1294h1v1h-1zM170 1295h3v2h-3zM245 1294h3v4h-3zM170 1297h2v1h-2zM167 1298h4v1h-4zM244 1298h1v2h-1zM167 1299h3v1h-3zM167 1300h2v1h-2zM243 1300h2v2h-2zM164 1301h4v1h-4zM164 1302h3v1h-3zM242 1302h3v2h-3zM164 1303h2v1h-2zM161 1304h4v2h-4zM241 1305h1v2h-1zM161 1306h3v1h-3zM161 1307h2v1h-2zM240 1307h2v2h-2zM161 1308h1v1h-1zM239 1309h3v1h-3zM158 1310h2v1h-2zM158 1311h1v1h-1zM238 1312h1v2h-1zM152 1313h5v1h-5zM152 1314h4v1h-4zM237 1314h2v2h-2zM152 1315h3v1h-3zM149 1316h4v1h-4zM236 1316h3v2h-3zM149 1317h3v1h-3zM149 1318h2v1h-2zM235 1318h4v1h-4zM146 1319h3v1h-3zM235 1319h1v2h-1zM146 1320h2v1h-2zM146 1321h1v1h-1zM234 1321h2v2h-2zM140 1322h5v1h-5zM140 1323h4v1h-4zM233 1323h3v2h-3zM140 1324h3v1h-3zM137 1325h4v1h-4zM137 1326h2v1h-2zM232 1325h1v3h-1zM137 1327h1v1h-1zM131 1328h5v1h-5zM131 1329h4v1h-4zM131 1330h2v1h-2zM231 1328h2v4h-2zM125 1331h6v1h-6zM125 1332h4v1h-4zM125 1333h2v1h-2zM122 1334h3v1h-3zM122 1335h2v1h-2zM230 1332h3v5h-3zM116 1337h4v1h-4zM116 1338h3v1h-3zM116 1339h2v1h-2zM113 1340h4v1h-4zM113 1341h3v1h-3zM229 1338h1v5h-1zM113 1342h2v1h-2zM110 1343h4v1h-4zM110 1344h3v1h-3zM110 1345h2v1h-2zM228 1343h2v4h-2zM107 1346h4v1h-4zM107 1347h3v1h-3zM227 1347h3v2h-3zM107 1348h2v1h-2zM107 1349h1v1h-1zM226 1350h1v2h-1zM225 1352h2v1h-2zM104 1352h2v2h-2zM177 1353h50v1h-50zM175 1354h52v1h-52zM104 1354h1v2h-1zM174 1355h2v2h-2zM101 1358h2v2h-2zM101 1360h1v2h-1zM98 1364h3v1h-3zM98 1365h2v2h-2zM98 1367h1v3h-1zM95 1373h2v2h-2zM95 1375h1v3h-1zM92 1385h2v13h-2zM173 1357h3v70h-3zM171 1429h2v1h-2zM165 1431h2v1h-2zM161 1432h6v1h-6zM154 1434h4v1h-4zM151 1435h7v1h-7zM143 1437h3v1h-3zM139 1438h7v1h-7zM131 1440h3v1h-3zM127 1441h7v1h-7zM92 1398h1v45h-1zM118 1442h1v1h-1zM110 1443h9v1h-9zM92 1443h2v1h-2zM92 1444h27v1h-27z" fill="url(#p14)"/>
<path d="M296 1151h19v1h-19zM296 1152h18v2h-18zM295 1154h19v1h-19zM294 1155h19v1h-19zM293 1156h20v1h-20zM292 1157h21v1h-21zM291 1158h21v2h-21zM290 1160h22v1h-22zM289 1161h22v2h-22zM288 1163h23v1h-23zM287 1164h23v1h-23zM286 1165h24v1h-24zM286 1166h23v1h-23zM285 1167h24v1h-24zM284 1168h25v1h-25zM283 1169h25v1h-25zM282 1170h26v2h-26zM281 1172h26v1h-26zM280 1173h27v1h-27zM279 1174h27v1h-27zM278 1175h28v1h-28zM277 1176h28v1h-28zM276 1177h28v1h-28zM275 1178h29v1h-29zM275 1179h28v1h-28zM274 1180h28v1h-28zM273 1181h29v1h-29zM272 1182h29v1h-29zM271 1183h29v2h-29zM270 1185h29v1h-29zM269 1186h29v1h-29zM269 1187h28v1h-28zM268 1188h29v1h-29zM267 1189h29v1h-29zM266 1190h29v2h-29zM265 1192h29v1h-29zM264 1193h29v2h-29zM263 1195h29v1h-29zM262 1196h29v1h-29zM261 1197h30v1h-30zM261 1198h29v1h-29zM260 1199h29v1h-29zM259 1200h29v1h-29zM258 1201h30v1h-30zM257 1202h30v1h-30zM257 1203h29v1h-29zM256 1204h29v1h-29zM255 1205h29v1h-29zM254 1206h29v1h-29zM253 1207h30v1h-30zM252 1208h30v1h-30zM252 1209h29v1h-29zM251 1210h29v1h-29zM250 1211h29v1h-29zM249 1212h30v1h-30zM248 1213h30v1h-30zM247 1214h30v1h-30zM246 1215h30v1h-30zM245 1216h31v1h-31zM244 1217h31v1h-31zM243 1218h31v1h-31zM242 1219h32v1h-32zM240 1220h33v1h-33zM239 1221h33v1h-33zM238 1222h33v1h-33zM237 1223h34v1h-34zM236 1224h34v1h-34zM235 1225h34v1h-34zM234 1226h35v1h-35zM233 1227h35v1h-35zM233 1228h34v1h-34zM232 1229h35v1h-35zM231 1230h35v1h-35zM230 1231h35v1h-35zM229 1232h36v1h-36zM228 1233h36v1h-36zM227 1234h37v1h-37zM226 1235h37v1h-37zM226 1236h36v1h-36zM225 1237h37v1h-37zM224 1238h37v1h-37zM223 1239h38v1h-38zM222 1240h38v1h-38zM221 1241h39v1h-39zM220 1242h39v1h-39zM219 1243h39v1h-39zM218 1244h40v1h-40zM217 1245h40v1h-40zM216 1246h41v1h-41zM215 1247h41v1h-41zM214 1248h42v1h-42zM213 1249h42v1h-42zM212 1250h43v1h-43zM211 1251h43v1h-43zM210 1252h44v1h-44zM209 1253h44v1h-44zM208 1254h45v1h-45zM207 1255h46v1h-46zM206 1256h46v1h-46zM205 1257h47v1h-47zM204 1258h47v1h-47zM203 1259h48v1h-48zM202 1260h48v1h-48zM201 1261h49v1h-49zM200 1262h50v1h-50zM199 1263h50v1h-50zM198 1264h51v1h-51zM197 1265h52v1h-52zM196 1266h53v1h-53zM195 1267h54v2h-54zM194 1269h55v1h-55zM193 1270h56v1h-56zM192 1271h57v1h-57zM191 1272h57v2h-57zM190 1274h58v1h-58zM189 1275h59v1h-59zM188 1276h60v1h-60zM187 1277h61v1h-61zM186 1278h62v2h-62zM185 1280h63v1h-63zM184 1281h64v1h-64zM183 1282h65v1h-65zM182 1283h65v2h-65zM181 1285h66v1h-66zM180 1286h67v1h-67zM179 1287h68v2h-68zM178 1289h68v1h-68zM177 1290h69v1h-69zM176 1291h70v2h-70zM175 1293h71v1h-71zM174 1294h71v1h-71zM173 1295h72v2h-72zM172 1297h73v1h-73zM171 1298h73v1h-73zM170 1299h74v1h-74zM169 1300h74v1h-74zM168 1301h75v1h-75zM167 1302h75v1h-75zM166 1303h76v1h-76zM165 1304h77v1h-77zM165 1305h76v1h-76zM164 1306h77v1h-77zM163 1307h77v1h-77zM162 1308h78v1h-78zM161 1309h78v1h-78zM160 1310h79v1h-79zM159 1311h80v1h-80zM158 1312h80v1h-80zM157 1313h81v1h-81zM156 1314h81v1h-81zM155 1315h82v1h-82zM153 1316h83v1h-83zM152 1317h84v1h-84zM151 1318h84v1h-84zM149 1319h86v1h-86zM148 1320h87v1h-87zM147 1321h87v1h-87zM145 1322h89v1h-89zM144 1323h89v1h-89zM143 1324h90v1h-90zM141 1325h91v1h-91zM139 1326h93v1h-93zM138 1327h94v1h-94zM136 1328h95v1h-95zM135 1329h96v1h-96zM133 1330h98v1h-98zM131 1331h100v1h-100zM129 1332h101v1h-101zM127 1333h103v1h-103zM125 1334h105v1h-105zM124 1335h106v1h-106zM122 1336h108v1h-108zM120 1337h110v1h-110zM119 1338h110v1h-110zM118 1339h111v1h-111zM117 1340h112v1h-112zM116 1341h113v1h-113zM115 1342h114v1h-114zM114 1343h114v1h-114zM113 1344h115v1h-115zM112 1345h116v1h-116zM111 1346h117v1h-117zM110 1347h117v1h-117zM109 1348h118v1h-118zM108 1349h119v1h-119zM107 1350h119v2h-119zM106 1352h119v1h-119zM106 1353h71v1h-71zM105 1354h70v1h-70zM105 1355h69v1h-69zM104 1356h70v1h-70zM104 1357h69v1h-69zM103 1358h70v2h-70zM102 1360h71v2h-71zM101 1362h72v3h-72zM100 1365h73v2h-73zM99 1367h74v3h-74zM98 1370h75v3h-75zM97 1373h76v2h-76zM96 1375h77v3h-77zM95 1378h78v7h-78zM94 1385h79v13h-79zM93 1398h80v31h-80zM93 1429h78v1h-78zM93 1430h75v1h-75zM93 1431h72v1h-72zM93 1432h68v1h-68zM93 1433h65v1h-65zM93 1434h61v1h-61zM93 1435h58v1h-58zM93 1436h54v1h-54zM93 1437h50v1h-50zM93 1438h46v1h-46zM93 1439h42v1h-42zM93 1440h38v1h-38zM93 1441h34v1h-34zM93 1442h25v1h-25zM94 1443h16v1h-16z" fill="#000"/>
<path d="M79 1162h1.3m21.7 0h1.3m-24.3 32h1.3m13.7 4h1.3m-2.3 7h1.3m-12.3 12h1.3m9.7 21h1.3m-2.3 15h1.3m-10.3 6h1.3m-4.3 26h1.3m7.7 1h1.3m-0.3 16h1.3m-11.3 7h1.3m8.7 3h1.3m-3.3 22h1.3m-0.3 3h1.3m263.7 0h1.3m-7.3 1h1.3m24.7 4h1.3m-19.3 3h1.3m-2.3 1h1.3m-279.3 1h1.3m267.7 0h1.3m-15.3 6h1.3m3.7 5h1.3m29.7 3h1.3m-50.3 1h1.3m-237.3 7h1.3m260.7 2h1.3m-3.3 4h1.3m-10.3 3h1.3m-252.3 1h1.3m264.7 2h1.3m-19.3 10h1.3m19.7 1h1.3m23.7 1h1.3m-69.3 4h1.3m37.7 0h1.3m-59.3 2h1.3m24.7 2h1.3m65.7 3h1.3m-24.3 1h1.3m-32.3 3h1.3m-36.3 1h1.3m-0.3 3h1.3m33.7 2h1.3m-40.3 2h1.3m78.7 1h1.3m-294.3 1h1.3m290.7 0h1.3m-18.3 1h1.3m-7.3 1h1.3m30.7 1h1.3m-48.3 1h1.3m-23.3 1h1.3m-16.3 1h1.3m16.7 0h1.3m-228.3 1h1.3m193.7 0h1.3m73.7 4h1.3m-87.3 1h1.3m56.7 1h1.3m19.7 0h1.3m12.7 0h1.3m-91.3 8h1.3m54.7 2h1.3m-49.3 1h1.3m97.7 1h1.3m0.7 0h1.3m-59.3 2h1.3m-48.3 1h1.3m90.7 0h1.3m-145.3 2h1.3m12.7 0h1.3m-73.3 1h1.3m45.7 0h1.3m21.7 0h1.3m-143.3 1h1.3m126.7 0h1.3m-77.3 1h1.3m22.7 0h1.3m96.7 0h1.3m-119.3 1h1.3m88.7 0h1.3m3.7 1h1.3m9.7 0h1.3m-154.3 1h1.3m71.7 1h1.3m182.7 1h1.3m-219.3 2h1.3m8.7 0h1.3m61.7 0h1.3m63.7 1h1.3m26.7 1h1.3" fill="none" stroke="#000" stroke-width="1.3"/>
</g>
<path d="M176 1428.6 177.6 1405.8 184.2 1396 195.6 1387.8 215.2 1382.1 234.8 1383.7 247.9 1386.2 247 1423.7 233.2 1427 208.7 1431.1 182.5 1430.3Z" fill="#ff0000"/>
<path d="M214 1383h1v1h-1zM235 1384h1v1h-1zM236 1384h1v1h-1zM237 1384h1v1h-1zM216 1385h1v1h-1zM234 1385h1v1h-1zM242 1385h1v1h-1zM243 1385h1v1h-1zM228 1386h1v1h-1zM235 1386h1v1h-1zM241 1386h1v1h-1zM243 1386h1v1h-1zM244 1386h1v1h-1zM245 1386h1v1h-1zM220 1387h1v1h-1zM238 1387h1v1h-1zM239 1387h1v1h-1zM201 1388h1v1h-1zM204 1388h1v1h-1zM233 1388h1v1h-1zM235 1388h1v1h-1zM240 1388h1v1h-1zM246 1388h1v1h-1zM235 1389h1v1h-1zM238 1389h1v1h-1zM240 1389h1v1h-1zM241 1389h1v1h-1zM217 1390h1v1h-1zM238 1390h1v1h-1zM239 1390h1v1h-1zM241 1390h1v1h-1zM198 1391h1v1h-1zM204 1391h1v1h-1zM234 1391h1v1h-1zM236 1391h1v1h-1zM237 1391h1v1h-1zM243 1391h1v1h-1zM224 1392h1v1h-1zM234 1392h1v1h-1zM236 1392h1v1h-1zM238 1392h1v1h-1zM240 1392h1v1h-1zM244 1392h1v1h-1zM235 1393h1v1h-1zM236 1393h1v1h-1zM245 1393h1v1h-1zM247 1393h1v1h-1zM209 1394h1v1h-1zM234 1394h1v1h-1zM235 1394h1v1h-1zM236 1394h1v1h-1zM238 1394h1v1h-1zM243 1394h1v1h-1zM244 1394h1v1h-1zM245 1394h1v1h-1zM246 1394h1v1h-1zM247 1394h1v1h-1zM223 1395h1v1h-1zM238 1395h1v1h-1zM239 1395h1v1h-1zM246 1395h1v1h-1zM247 1395h1v1h-1zM237 1396h1v1h-1zM240 1396h1v1h-1zM241 1396h1v1h-1zM245 1396h1v1h-1zM247 1396h1v1h-1zM236 1397h1v1h-1zM238 1397h1v1h-1zM244 1397h1v1h-1zM182 1398h1v1h-1zM209 1398h1v1h-1zM228 1398h1v1h-1zM234 1398h1v1h-1zM238 1398h1v1h-1zM240 1398h1v1h-1zM242 1398h1v1h-1zM243 1398h1v1h-1zM244 1398h1v1h-1zM247 1398h1v1h-1zM204 1399h1v1h-1zM220 1399h1v1h-1zM238 1399h1v1h-1zM241 1399h1v1h-1zM247 1399h1v1h-1zM191 1400h1v1h-1zM200 1400h1v1h-1zM237 1400h1v1h-1zM238 1400h1v1h-1zM243 1400h1v1h-1zM247 1400h1v1h-1zM234 1401h1v1h-1zM236 1401h1v1h-1zM192 1402h1v1h-1zM235 1402h1v1h-1zM237 1402h1v1h-1zM238 1402h1v1h-1zM245 1402h1v1h-1zM219 1403h1v1h-1zM235 1403h1v1h-1zM238 1403h1v1h-1zM239 1403h1v1h-1zM241 1403h1v1h-1zM245 1403h1v1h-1zM183 1404h1v1h-1zM184 1404h1v1h-1zM234 1404h1v1h-1zM235 1404h1v1h-1zM238 1404h1v1h-1zM240 1404h1v1h-1zM242 1404h1v1h-1zM244 1404h1v1h-1zM246 1404h1v1h-1zM196 1405h1v1h-1zM234 1405h1v1h-1zM236 1405h1v1h-1zM239 1405h1v1h-1zM245 1405h1v1h-1zM234 1406h1v1h-1zM235 1406h1v1h-1zM236 1406h1v1h-1zM241 1406h1v1h-1zM244 1406h1v1h-1zM245 1406h1v1h-1zM246 1406h1v1h-1zM201 1407h1v1h-1zM237 1407h1v1h-1zM240 1407h1v1h-1zM188 1408h1v1h-1zM218 1408h1v1h-1zM220 1408h1v1h-1zM235 1408h1v1h-1zM238 1408h1v1h-1zM240 1408h1v1h-1zM241 1408h1v1h-1zM243 1408h1v1h-1zM246 1408h1v1h-1zM211 1409h1v1h-1zM235 1409h1v1h-1zM236 1409h1v1h-1zM237 1409h1v1h-1zM239 1409h1v1h-1zM241 1409h1v1h-1zM243 1409h1v1h-1zM240 1410h1v1h-1zM241 1410h1v1h-1zM243 1410h1v1h-1zM238 1411h1v1h-1zM241 1411h1v1h-1zM242 1411h1v1h-1zM244 1411h1v1h-1zM246 1411h1v1h-1zM177 1412h1v1h-1zM224 1412h1v1h-1zM234 1412h1v1h-1zM237 1412h1v1h-1zM238 1412h1v1h-1zM239 1412h1v1h-1zM241 1412h1v1h-1zM245 1412h1v1h-1zM246 1412h1v1h-1zM239 1413h1v1h-1zM241 1413h1v1h-1zM242 1413h1v1h-1zM245 1413h1v1h-1zM186 1414h1v1h-1zM206 1414h1v1h-1zM221 1414h1v1h-1zM224 1414h1v1h-1zM225 1414h1v1h-1zM232 1414h1v1h-1zM235 1414h1v1h-1zM236 1414h1v1h-1zM245 1414h1v1h-1zM185 1415h1v1h-1zM223 1415h1v1h-1zM225 1415h1v1h-1zM226 1415h1v1h-1zM228 1415h1v1h-1zM233 1415h1v1h-1zM238 1415h1v1h-1zM240 1415h1v1h-1zM243 1415h1v1h-1zM245 1415h1v1h-1zM221 1416h1v1h-1zM225 1416h1v1h-1zM226 1416h1v1h-1zM231 1416h1v1h-1zM237 1416h1v1h-1zM239 1416h1v1h-1zM206 1417h1v1h-1zM226 1417h1v1h-1zM229 1417h1v1h-1zM230 1417h1v1h-1zM231 1417h1v1h-1zM242 1417h1v1h-1zM246 1417h1v1h-1zM217 1418h1v1h-1zM222 1418h1v1h-1zM224 1418h1v1h-1zM227 1418h1v1h-1zM228 1418h1v1h-1zM229 1418h1v1h-1zM231 1418h1v1h-1zM233 1418h1v1h-1zM234 1418h1v1h-1zM236 1418h1v1h-1zM242 1418h1v1h-1zM243 1418h1v1h-1zM244 1418h1v1h-1zM246 1418h1v1h-1zM224 1419h1v1h-1zM226 1419h1v1h-1zM227 1419h1v1h-1zM229 1419h1v1h-1zM230 1419h1v1h-1zM231 1419h1v1h-1zM232 1419h1v1h-1zM233 1419h1v1h-1zM238 1419h1v1h-1zM241 1419h1v1h-1zM243 1419h1v1h-1zM192 1420h1v1h-1zM214 1420h1v1h-1zM222 1420h1v1h-1zM224 1420h1v1h-1zM225 1420h1v1h-1zM227 1420h1v1h-1zM230 1420h1v1h-1zM231 1420h1v1h-1zM240 1420h1v1h-1zM241 1420h1v1h-1zM216 1421h1v1h-1zM221 1421h1v1h-1zM223 1421h1v1h-1zM228 1421h1v1h-1zM234 1421h1v1h-1zM240 1421h1v1h-1zM241 1421h1v1h-1zM242 1421h1v1h-1zM243 1421h1v1h-1zM245 1421h1v1h-1zM228 1422h1v1h-1zM229 1422h1v1h-1zM234 1422h1v1h-1zM240 1422h1v1h-1zM245 1422h1v1h-1zM246 1422h1v1h-1zM181 1423h1v1h-1zM186 1423h1v1h-1zM225 1423h1v1h-1zM227 1423h1v1h-1zM233 1423h1v1h-1zM239 1423h1v1h-1zM241 1423h1v1h-1zM186 1424h1v1h-1zM193 1424h1v1h-1zM214 1424h1v1h-1zM222 1424h1v1h-1zM223 1424h1v1h-1zM226 1424h1v1h-1zM232 1424h1v1h-1zM235 1424h1v1h-1zM240 1424h1v1h-1zM196 1425h1v1h-1zM199 1425h1v1h-1zM206 1425h1v1h-1zM217 1425h1v1h-1zM221 1425h1v1h-1zM222 1425h1v1h-1zM223 1425h1v1h-1zM228 1425h1v1h-1zM229 1425h1v1h-1zM233 1425h1v1h-1zM239 1425h1v1h-1zM211 1426h1v1h-1zM221 1426h1v1h-1zM226 1426h1v1h-1zM227 1426h1v1h-1zM229 1426h1v1h-1zM230 1426h1v1h-1zM208 1427h1v1h-1zM209 1427h1v1h-1zM223 1427h1v1h-1zM224 1427h1v1h-1zM228 1427h1v1h-1zM221 1428h1v1h-1zM194 1429h1v1h-1zM203 1429h1v1h-1z" fill="#fff"/>
<rect x="175.2" y="1356" width="75" height="21.2" fill="#e6e6e6"/>
<rect x="175.2" y="1356" width="48.2" height="21.2" fill="#c8c8c8"/>
<text x="177.5" y="1370.3"  style="font-size:16px;fill:#ff0000">P1(0.94%)</text>
<rect x="77.8" y="1151.8" width="309" height="309" fill="none" stroke="#000" stroke-width="1.5"/>
<text x="222.8" y="1143.6"  text-anchor="middle" style="font-size:16.3px">Non-Diabetic Wound : All Events</text>
<path d="M77.8 1448.4h-8M77.8 1431.8h-5M77.8 1415.1h-5M77.8 1398.5h-5M77.8 1381.8h-5M77.8 1365.2h-8M77.8 1348.6h-5M77.8 1331.9h-5M77.8 1315.3h-5M77.8 1298.6h-5M77.8 1282h-8M77.8 1265.4h-5M77.8 1248.7h-5M77.8 1232.1h-5M77.8 1215.4h-5M77.8 1198.8h-8M77.8 1182.2h-5M77.8 1165.5h-5" stroke="#000" stroke-width="1.3"/>
<text x="0" y="0" transform="translate(63.9 1448.4) rotate(-90)" text-anchor="middle" style="font-size:15px">0</text>
<text x="0" y="0" transform="translate(63.9 1365.2) rotate(-90)" text-anchor="middle" style="font-size:15px">50</text>
<text x="0" y="0" transform="translate(63.9 1282) rotate(-90)" text-anchor="middle" style="font-size:15px">100</text>
<text x="0" y="0" transform="translate(63.9 1198.8) rotate(-90)" text-anchor="middle" style="font-size:15px">150</text>
<path d="M77.8 1460.8v8M104.5 1460.8v5M131.1 1460.8v5M157.8 1460.8v5M184.4 1460.8v5M211.1 1460.8v8M237.8 1460.8v5M264.4 1460.8v5M291.1 1460.8v5M317.7 1460.8v5M344.4 1460.8v8M371.1 1460.8v5" stroke="#000" stroke-width="1.3"/>
<text x="77.8" y="1488.8"  text-anchor="middle" style="font-size:15px">0</text>
<text x="211.1" y="1488.8"  text-anchor="middle" style="font-size:15px">50</text>
<text x="344.4" y="1488.8"  text-anchor="middle" style="font-size:15px">100</text>
<text x="232" y="1508.3"  text-anchor="middle" style="font-size:15.9px">FSC-A</text>
<text x="362.5" y="1510.8"  text-anchor="middle" style="font-size:15.5px">( x 10<tspan dy="-6.5" style="font-size:10.5px">4</tspan><tspan dy="6.5"> )</tspan></text>
<text x="0" y="0" transform="translate(41.8 1306.3) rotate(-90)" text-anchor="middle" style="font-size:15.7px">SSC-A</text>
<text x="0" y="0" transform="translate(43 1175.8) rotate(-90)" text-anchor="middle" style="font-size:15.5px">( x 10<tspan dy="-6.5" style="font-size:10.5px">4</tspan><tspan dy="6.5"> )</tspan></text>
<g clip-path="url(#c1553)">
<path d="M380 1553h3v3h-3zM95 1553h3v6h-3zM383 1556h3v3h-3zM92 1559h3v18h-3zM383 1667h3v3h-3zM380 1670h3v3h-3zM374 1679h3v3h-3zM371 1682h3v3h-3zM368 1685h3v3h-3zM365 1688h3v3h-3zM362 1691h3v3h-3zM359 1694h3v3h-3zM356 1697h3v3h-3zM353 1700h3v3h-3zM347 1709h3v3h-3zM344 1712h3v3h-3zM89 1619h3v99h-3zM341 1715h3v3h-3zM338 1718h3v3h-3zM335 1724h3v3h-3zM332 1727h3v3h-3zM329 1733h3v3h-3zM326 1736h3v3h-3zM323 1742h3v3h-3zM320 1745h3v3h-3zM317 1748h3v6h-3zM314 1754h3v3h-3zM311 1757h3v6h-3zM308 1763h3v3h-3zM305 1766h3v3h-3zM86 1757h3v15h-3zM302 1769h3v3h-3zM299 1772h3v3h-3zM296 1775h3v3h-3zM293 1778h3v3h-3zM290 1781h3v3h-3zM287 1784h3v3h-3zM281 1793h3v3h-3zM278 1796h3v3h-3zM275 1799h3v3h-3zM272 1802h3v3h-3zM269 1805h3v3h-3zM266 1808h3v3h-3zM263 1811h3v3h-3zM260 1814h3v12h-3zM251 1835h3v3h-3zM239 1838h3v3h-3zM218 1841h15v3h-15zM194 1844h15v3h-15zM173 1847h12v3h-12zM155 1850h9v3h-9zM98 1853h12v3h-12z" fill="url(#p0)"/>
<path d="M98 1553h9v3h-9zM371 1553h9v3h-9zM98 1556h3v3h-3zM380 1556h3v3h-3zM95 1559h3v3h-3zM92 1577h3v81h-3zM383 1559h3v108h-3zM380 1667h3v3h-3zM377 1673h3v3h-3zM374 1676h3v3h-3zM371 1679h3v3h-3zM368 1682h3v3h-3zM365 1685h3v3h-3zM362 1688h3v3h-3zM359 1691h3v3h-3zM356 1694h3v3h-3zM353 1697h3v3h-3zM350 1703h3v3h-3zM347 1706h3v3h-3zM344 1709h3v3h-3zM341 1712h3v3h-3zM338 1715h3v3h-3zM335 1721h3v3h-3zM89 1718h3v9h-3zM332 1724h3v3h-3zM329 1730h3v3h-3zM326 1733h3v3h-3zM323 1736h3v6h-3zM320 1742h3v3h-3zM317 1745h3v3h-3zM314 1751h3v3h-3zM311 1754h3v3h-3zM308 1760h3v3h-3zM305 1763h3v3h-3zM302 1766h3v3h-3zM299 1769h3v3h-3zM86 1772h3v3h-3zM296 1772h3v3h-3zM293 1775h3v3h-3zM290 1778h3v3h-3zM284 1787h3v3h-3zM281 1790h3v3h-3zM278 1793h3v3h-3zM275 1796h3v3h-3zM272 1799h3v3h-3zM269 1802h3v3h-3zM266 1805h3v3h-3zM263 1808h3v3h-3zM260 1811h3v3h-3zM257 1829h3v3h-3zM254 1832h3v3h-3zM248 1835h3v3h-3zM227 1838h12v3h-12zM203 1841h15v3h-15zM179 1844h15v3h-15zM167 1847h6v3h-6zM119 1850h36v3h-36z" fill="url(#p1)"/>
<path d="M323 1553h48v3h-48zM107 1553h6v3h-6zM326 1556h54v3h-54zM101 1556h9v3h-9zM98 1559h3v3h-3zM377 1559h6v3h-6zM95 1562h3v63h-3zM380 1562h3v105h-3zM377 1667h3v3h-3zM374 1670h6v3h-6zM374 1673h3v3h-3zM371 1676h3v3h-3zM368 1679h3v3h-3zM365 1682h3v3h-3zM362 1685h3v3h-3zM359 1688h3v3h-3zM356 1691h3v3h-3zM353 1694h3v3h-3zM350 1697h3v6h-3zM347 1703h3v3h-3zM344 1706h3v3h-3zM92 1658h3v54h-3zM341 1709h3v3h-3zM338 1712h3v3h-3zM335 1715h3v6h-3zM332 1721h3v3h-3zM329 1724h3v6h-3zM326 1730h3v3h-3zM323 1733h3v3h-3zM89 1727h3v15h-3zM320 1739h3v3h-3zM317 1742h3v3h-3zM314 1745h3v6h-3zM311 1751h3v3h-3zM308 1754h3v6h-3zM305 1760h3v3h-3zM302 1763h3v3h-3zM299 1766h3v3h-3zM296 1769h3v3h-3zM293 1772h3v3h-3zM290 1775h3v3h-3zM287 1778h3v3h-3zM284 1781h6v3h-6zM86 1775h3v12h-3zM284 1784h3v3h-3zM281 1787h3v3h-3zM278 1790h3v3h-3zM275 1793h3v3h-3zM272 1796h3v3h-3zM269 1799h3v3h-3zM266 1802h3v3h-3zM263 1805h3v3h-3zM260 1808h3v3h-3zM257 1811h3v6h-3zM257 1823h3v6h-3zM239 1835h9v3h-9zM224 1838h3v3h-3zM188 1841h15v3h-15zM173 1844h6v3h-6zM158 1847h9v3h-9zM86 1847h3v3h-3zM110 1850h9v3h-9zM89 1850h3v3h-3z" fill="url(#p2)"/>
<path d="M317 1553h6v3h-6zM113 1553h3v3h-3zM323 1556h3v3h-3zM110 1556h3v3h-3zM101 1559h9v3h-9zM326 1559h51v3h-51zM374 1562h6v3h-6zM98 1562h6v6h-6zM98 1568h3v57h-3zM377 1565h3v99h-3zM95 1625h6v39h-6zM374 1664h6v3h-6zM374 1667h3v3h-3zM371 1670h3v3h-3zM368 1673h6v3h-6zM365 1676h6v3h-6zM362 1679h6v3h-6zM359 1682h6v3h-6zM356 1685h6v3h-6zM353 1688h6v3h-6zM350 1691h6v3h-6zM350 1694h3v3h-3zM95 1664h3v36h-3zM347 1697h3v3h-3zM344 1700h6v3h-6zM341 1703h6v3h-6zM338 1706h6v3h-6zM335 1709h6v3h-6zM332 1712h6v3h-6zM92 1712h3v6h-3zM332 1715h3v3h-3zM329 1718h6v3h-6zM326 1721h6v3h-6zM326 1724h3v3h-3zM323 1727h6v3h-6zM320 1730h6v3h-6zM320 1733h3v3h-3zM317 1736h6v3h-6zM314 1739h6v3h-6zM311 1742h6v3h-6zM89 1742h3v6h-3zM311 1745h3v3h-3zM308 1748h6v3h-6zM305 1751h6v3h-6zM305 1754h3v3h-3zM302 1757h6v3h-6zM299 1760h6v3h-6zM296 1763h6v3h-6zM293 1766h6v3h-6zM290 1769h6v3h-6zM287 1772h6v3h-6zM284 1775h6v3h-6zM284 1778h3v3h-3zM281 1781h3v3h-3zM278 1784h6v3h-6zM86 1787h3v3h-3zM275 1787h6v3h-6zM272 1790h6v3h-6zM269 1793h6v3h-6zM266 1796h6v3h-6zM263 1799h6v3h-6zM260 1802h6v3h-6zM257 1805h6v3h-6zM257 1808h3v3h-3zM257 1817h3v6h-3zM254 1829h3v3h-3zM251 1832h3v3h-3zM233 1835h6v3h-6zM221 1838h3v3h-3zM179 1841h9v3h-9zM167 1844h6v3h-6zM131 1847h27v3h-27zM101 1850h9v3h-9z" fill="url(#p3)"/>
<path d="M116 1553h201v3h-201zM317 1556h6v3h-6zM113 1556h3v3h-3zM323 1559h3v3h-3zM110 1559h3v3h-3zM326 1562h48v3h-48zM104 1562h6v6h-6zM329 1565h48v3h-48zM332 1568h45v6h-45zM101 1568h9v9h-9zM335 1574h42v3h-42zM338 1577h39v6h-39zM341 1583h36v3h-36zM344 1586h33v3h-33zM347 1589h30v6h-30zM350 1595h27v6h-27zM353 1601h24v6h-24zM101 1577h6v36h-6zM350 1607h27v12h-27zM347 1619h30v9h-30zM344 1628h33v9h-33zM341 1637h36v9h-36zM338 1646h39v6h-39zM101 1613h3v42h-3zM335 1652h42v3h-42zM332 1655h45v3h-45zM329 1658h48v3h-48zM326 1661h51v3h-51zM323 1664h51v3h-51zM320 1667h54v3h-54zM317 1670h54v3h-54zM314 1673h54v3h-54zM311 1676h54v3h-54zM308 1679h54v3h-54zM98 1664h3v21h-3zM305 1682h54v3h-54zM302 1685h54v3h-54zM299 1688h54v3h-54zM296 1691h54v3h-54zM293 1694h57v3h-57zM290 1697h57v3h-57zM287 1700h57v3h-57zM95 1700h3v6h-3zM287 1703h54v3h-54zM284 1706h54v3h-54zM284 1709h51v3h-51zM281 1712h51v6h-51zM278 1718h51v3h-51zM92 1718h3v6h-3zM278 1721h48v3h-48zM275 1724h51v3h-51zM275 1727h48v3h-48zM272 1730h48v6h-48zM269 1736h48v3h-48zM269 1739h45v3h-45zM266 1742h45v6h-45zM263 1748h45v3h-45zM89 1748h3v6h-3zM263 1751h42v6h-42zM260 1757h42v3h-42zM260 1760h39v3h-39zM257 1763h39v3h-39zM257 1766h36v3h-36zM254 1769h36v3h-36zM254 1772h33v3h-33zM254 1775h30v6h-30zM254 1781h27v3h-27zM254 1784h24v3h-24zM254 1787h21v3h-21zM254 1790h18v3h-18zM254 1793h15v3h-15zM254 1796h12v3h-12zM254 1799h9v3h-9zM257 1802h3v3h-3zM254 1826h3v3h-3zM248 1832h3v3h-3zM227 1835h6v3h-6zM203 1838h18v3h-18zM173 1841h6v3h-6zM86 1790h3v57h-3zM155 1844h12v3h-12zM128 1847h3v3h-3zM92 1850h9v3h-9z" fill="url(#p4)"/>
<path d="M116 1556h201v3h-201zM113 1559h3v3h-3zM320 1559h3v3h-3zM323 1562h3v3h-3zM110 1562h3v6h-3zM326 1565h3v3h-3zM329 1568h3v3h-3zM332 1574h3v3h-3zM335 1577h3v3h-3zM338 1583h3v3h-3zM341 1586h3v3h-3zM344 1589h3v6h-3zM347 1595h3v3h-3zM107 1577h3v24h-3zM350 1601h3v6h-3zM347 1610h3v9h-3zM344 1619h3v9h-3zM341 1631h3v6h-3zM104 1613h3v27h-3zM338 1640h3v6h-3zM335 1646h3v6h-3zM332 1652h3v3h-3zM329 1655h3v3h-3zM326 1658h3v3h-3zM323 1661h3v3h-3zM320 1664h3v3h-3zM317 1667h3v3h-3zM101 1655h3v18h-3zM314 1670h3v3h-3zM311 1673h3v3h-3zM308 1676h3v3h-3zM305 1679h3v3h-3zM302 1682h3v3h-3zM299 1685h3v3h-3zM98 1685h3v6h-3zM296 1688h3v3h-3zM293 1691h3v3h-3zM290 1694h3v3h-3zM287 1697h3v3h-3zM284 1703h3v3h-3zM95 1706h3v6h-3zM281 1709h3v3h-3zM278 1715h3v3h-3zM275 1721h3v3h-3zM272 1727h3v3h-3zM92 1724h3v12h-3zM269 1733h3v3h-3zM266 1739h3v3h-3zM263 1745h3v3h-3zM260 1751h3v6h-3zM89 1754h3v3h-3zM257 1757h3v6h-3zM254 1766h3v3h-3zM251 1772h3v6h-3zM254 1802h3v15h-3zM254 1823h3v3h-3zM251 1829h3v3h-3zM242 1832h6v3h-6zM200 1838h3v3h-3zM164 1841h9v3h-9zM140 1844h15v3h-15zM125 1847h3v3h-3z" fill="url(#p5)"/>
<path d="M116 1559h204v3h-204zM317 1562h6v3h-6zM113 1562h3v6h-3zM323 1565h3v3h-3zM326 1568h3v3h-3zM326 1571h6v3h-6zM329 1574h3v3h-3zM332 1577h3v3h-3zM332 1580h6v3h-6zM335 1583h3v3h-3zM338 1586h3v3h-3zM341 1589h3v6h-3zM344 1595h3v3h-3zM110 1568h3v33h-3zM344 1598h6v3h-6zM347 1601h3v9h-3zM344 1610h3v9h-3zM341 1619h3v9h-3zM338 1628h6v3h-6zM107 1601h3v36h-3zM338 1631h3v6h-3zM335 1637h6v3h-6zM335 1640h3v6h-3zM332 1646h3v3h-3zM329 1649h6v3h-6zM326 1652h6v3h-6zM323 1655h6v3h-6zM320 1658h6v3h-6zM317 1661h6v3h-6zM104 1640h3v27h-3zM314 1664h6v3h-6zM311 1667h6v3h-6zM308 1670h6v3h-6zM305 1673h6v3h-6zM101 1673h3v6h-3zM302 1676h6v3h-6zM299 1679h6v3h-6zM296 1682h6v3h-6zM293 1685h6v3h-6zM290 1688h6v3h-6zM290 1691h3v3h-3zM287 1694h3v3h-3zM98 1691h3v9h-3zM284 1697h3v3h-3zM281 1700h6v3h-6zM281 1703h3v3h-3zM278 1706h6v3h-6zM278 1709h3v3h-3zM275 1712h6v3h-6zM95 1712h3v6h-3zM275 1715h3v3h-3zM272 1718h6v3h-6zM272 1721h3v3h-3zM269 1724h6v3h-6zM269 1727h3v3h-3zM266 1730h6v3h-6zM266 1733h3v3h-3zM263 1736h6v3h-6zM92 1736h3v3h-3zM263 1739h3v3h-3zM260 1742h6v3h-6zM260 1745h3v6h-3zM257 1751h3v6h-3zM254 1757h3v6h-3zM251 1763h6v3h-6zM89 1757h3v12h-3zM251 1766h3v6h-3zM251 1778h3v12h-3zM254 1817h3v6h-3zM248 1829h3v3h-3zM233 1832h9v3h-9zM185 1838h15v3h-15zM155 1841h9v3h-9zM137 1844h3v3h-3zM116 1847h9v3h-9z" fill="url(#p6)"/>
<path d="M116 1562h201v3h-201zM281 1565h42v3h-42zM116 1565h3v3h-3zM284 1568h42v6h-42zM287 1574h42v3h-42zM287 1577h45v3h-45zM290 1580h42v3h-42zM293 1583h42v3h-42zM293 1586h45v3h-45zM113 1568h3v27h-3zM296 1589h45v6h-45zM299 1595h45v6h-45zM302 1601h45v6h-45zM299 1607h48v3h-48zM299 1610h45v6h-45zM296 1616h48v3h-48zM296 1619h45v6h-45zM110 1601h3v27h-3zM293 1625h48v3h-48zM293 1628h45v9h-45zM290 1637h45v9h-45zM287 1646h45v3h-45zM287 1649h42v3h-42zM284 1652h42v3h-42zM107 1637h3v21h-3zM284 1655h39v3h-39zM281 1658h39v3h-39zM278 1661h39v3h-39zM278 1664h36v3h-36zM104 1667h3v3h-3zM275 1667h36v3h-36zM275 1670h33v3h-33zM272 1673h33v3h-33zM269 1676h33v3h-33zM269 1679h30v3h-30zM101 1679h3v6h-3zM266 1682h30v3h-30zM266 1685h27v3h-27zM263 1688h27v3h-27zM260 1691h30v3h-30zM260 1694h27v3h-27zM257 1697h27v3h-27zM257 1700h24v3h-24zM98 1700h3v6h-3zM254 1703h27v3h-27zM251 1706h27v6h-27zM251 1712h24v6h-24zM251 1718h21v6h-21zM95 1718h3v6h-3zM251 1724h18v6h-18zM251 1730h15v6h-15zM251 1736h12v6h-12zM92 1739h3v3h-3zM251 1742h9v9h-9zM251 1751h6v6h-6zM251 1757h3v6h-3zM89 1769h3v6h-3zM251 1790h3v12h-3zM251 1826h3v3h-3zM245 1829h3v3h-3zM230 1832h3v3h-3zM179 1838h6v3h-6zM146 1841h9v3h-9zM134 1844h3v3h-3zM113 1847h3v3h-3zM89 1847h3v3h-3z" fill="url(#p7)"/>
<path d="M119 1565h162v3h-162zM278 1568h6v3h-6zM281 1571h3v3h-3zM284 1574h3v6h-3zM287 1580h3v3h-3zM116 1568h3v21h-3zM290 1583h3v6h-3zM293 1589h3v6h-3zM296 1595h3v6h-3zM299 1601h3v6h-3zM296 1607h3v9h-3zM113 1595h3v27h-3zM293 1619h3v6h-3zM290 1628h3v9h-3zM287 1637h3v9h-3zM110 1628h3v24h-3zM284 1646h3v6h-3zM281 1652h3v6h-3zM278 1658h3v3h-3zM107 1658h3v9h-3zM275 1661h3v6h-3zM272 1667h3v6h-3zM104 1670h3v3h-3zM269 1673h3v3h-3zM266 1676h3v6h-3zM263 1682h3v6h-3zM260 1688h3v3h-3zM101 1685h3v9h-3zM257 1691h3v6h-3zM254 1697h3v3h-3zM251 1700h6v3h-6zM251 1703h3v3h-3zM98 1706h3v6h-3zM95 1724h3v3h-3zM92 1742h3v3h-3zM248 1706h3v72h-3zM89 1775h3v9h-3zM251 1802h3v24h-3zM239 1829h6v3h-6zM227 1832h3v3h-3zM224 1835h3v3h-3zM173 1838h6v3h-6zM143 1841h3v3h-3zM107 1847h6v3h-6z" fill="url(#p8)"/>
<path d="M119 1568h159v3h-159zM119 1571h162v3h-162zM119 1574h165v6h-165zM119 1580h168v3h-168zM119 1583h171v6h-171zM116 1589h177v6h-177zM116 1595h180v6h-180zM116 1601h183v6h-183zM116 1607h180v12h-180zM116 1619h177v3h-177zM197 1622h96v3h-96zM113 1622h75v3h-75zM113 1625h63v3h-63zM209 1625h84v3h-84zM113 1628h57v3h-57zM218 1628h72v3h-72zM227 1631h63v3h-63zM113 1631h48v3h-48zM113 1634h39v3h-39zM230 1634h60v3h-60zM230 1637h57v3h-57zM113 1637h33v3h-33zM233 1640h54v3h-54zM113 1640h27v3h-27zM236 1643h51v3h-51zM113 1643h21v3h-21zM236 1646h48v3h-48zM113 1646h18v3h-18zM239 1649h45v3h-45zM113 1649h15v3h-15zM110 1652h15v3h-15zM239 1652h42v3h-42zM242 1655h39v3h-39zM110 1655h9v3h-9zM110 1658h6v3h-6zM242 1658h36v3h-36zM110 1661h3v3h-3zM245 1661h30v6h-30zM107 1667h3v3h-3zM248 1667h24v6h-24zM248 1673h21v3h-21zM104 1673h3v9h-3zM248 1676h18v6h-18zM248 1682h15v6h-15zM248 1688h12v3h-12zM248 1691h9v6h-9zM248 1697h6v3h-6zM101 1694h3v9h-3zM248 1700h3v6h-3zM98 1712h3v9h-3zM95 1727h3v3h-3zM92 1745h3v3h-3zM89 1784h3v6h-3zM248 1778h3v18h-3zM248 1826h3v3h-3zM230 1829h9v3h-9zM155 1838h18v3h-18zM131 1844h3v3h-3zM101 1847h6v3h-6z" fill="url(#p9)"/>
<path d="M188 1622h9v3h-9zM200 1625h9v3h-9zM176 1625h9v3h-9zM170 1628h6v3h-6zM212 1628h6v3h-6zM221 1631h6v3h-6zM161 1631h6v3h-6zM227 1634h3v3h-3zM152 1634h6v3h-6zM146 1637h3v3h-3zM140 1640h3v3h-3zM230 1640h3v3h-3zM134 1643h6v3h-6zM233 1643h3v6h-3zM131 1646h3v3h-3zM128 1649h3v3h-3zM236 1649h3v3h-3zM125 1652h3v3h-3zM239 1655h3v3h-3zM119 1655h3v3h-3zM116 1658h3v3h-3zM242 1661h3v3h-3zM113 1661h3v3h-3zM110 1664h3v3h-3zM107 1670h3v3h-3zM104 1682h3v9h-3zM101 1703h3v9h-3zM98 1721h3v3h-3zM95 1730h3v3h-3zM92 1748h3v6h-3zM245 1667h3v108h-3zM248 1796h3v18h-3zM248 1823h3v3h-3zM242 1826h6v3h-6zM206 1835h18v3h-18zM152 1838h3v3h-3zM140 1841h3v3h-3zM89 1790h3v57h-3zM128 1844h3v3h-3zM92 1847h9v3h-9z" fill="url(#p10)"/>
<path d="M185 1625h15v3h-15zM206 1628h6v3h-6zM176 1628h3v3h-3zM218 1631h3v3h-3zM167 1631h3v3h-3zM158 1634h3v3h-3zM224 1634h3v3h-3zM149 1637h6v3h-6zM227 1637h3v3h-3zM143 1640h3v3h-3zM230 1643h3v3h-3zM134 1646h3v3h-3zM131 1649h3v3h-3zM233 1649h3v3h-3zM128 1652h3v3h-3zM236 1652h3v3h-3zM122 1655h3v3h-3zM239 1658h3v3h-3zM119 1658h3v3h-3zM116 1661h3v3h-3zM113 1664h3v3h-3zM242 1664h3v6h-3zM110 1667h3v3h-3zM107 1673h3v9h-3zM104 1691h3v12h-3zM101 1712h3v6h-3zM95 1733h3v3h-3zM92 1754h3v3h-3zM245 1775h3v21h-3zM248 1814h3v9h-3zM245 1823h3v3h-3zM230 1826h12v3h-12zM227 1829h3v3h-3zM200 1835h6v3h-6zM149 1838h3v3h-3zM137 1841h3v3h-3zM125 1844h3v3h-3z" fill="url(#p11)"/>
<path d="M197 1628h9v3h-9zM179 1628h9v3h-9zM209 1631h9v3h-9zM170 1631h9v3h-9zM161 1634h9v3h-9zM218 1634h6v3h-6zM224 1637h3v3h-3zM155 1637h6v3h-6zM146 1640h6v3h-6zM227 1640h3v6h-3zM140 1643h6v3h-6zM137 1646h6v3h-6zM230 1646h3v6h-3zM134 1649h3v3h-3zM131 1652h3v3h-3zM233 1652h3v3h-3zM125 1655h6v3h-6zM236 1655h3v6h-3zM122 1658h3v3h-3zM119 1661h3v3h-3zM239 1661h3v6h-3zM116 1664h3v3h-3zM113 1667h3v3h-3zM110 1670h3v9h-3zM107 1682h3v18h-3zM104 1703h3v12h-3zM101 1718h3v3h-3zM98 1724h3v3h-3zM95 1736h3v3h-3zM92 1757h3v15h-3zM242 1670h3v120h-3zM245 1796h3v27h-3zM233 1823h12v3h-12zM224 1832h3v3h-3zM179 1835h21v3h-21zM146 1838h3v3h-3zM116 1844h9v3h-9z" fill="url(#p12)"/>
<path d="M188 1628h9v3h-9zM179 1631h30v3h-30zM170 1634h48v3h-48zM161 1637h63v3h-63zM152 1640h75v3h-75zM146 1643h81v3h-81zM143 1646h87v3h-87zM137 1649h93v3h-93zM134 1652h99v3h-99zM131 1655h105v3h-105zM125 1658h111v3h-111zM122 1661h117v3h-117zM119 1664h120v3h-120zM116 1667h126v3h-126zM209 1670h33v3h-33zM113 1670h81v3h-81zM113 1673h75v3h-75zM212 1673h30v3h-30zM113 1676h66v3h-66zM110 1679h63v3h-63zM110 1682h54v3h-54zM215 1676h27v12h-27zM110 1685h45v3h-45zM110 1688h36v3h-36zM110 1691h30v3h-30zM110 1694h24v3h-24zM110 1697h21v3h-21zM107 1700h18v3h-18zM107 1703h12v3h-12zM107 1706h6v3h-6zM107 1709h3v3h-3zM104 1715h3v3h-3zM218 1688h24v39h-24zM98 1727h3v3h-3zM221 1727h21v18h-21zM95 1739h3v6h-3zM224 1745h18v12h-18zM227 1757h15v18h-15zM92 1772h3v6h-3zM230 1775h12v15h-12zM230 1790h15v33h-15zM230 1823h3v3h-3zM227 1826h3v3h-3zM173 1835h6v3h-6zM143 1838h3v3h-3zM134 1841h3v3h-3zM110 1844h6v3h-6zM92 1844h3v3h-3z" fill="url(#p13)"/>
<path d="M194 1670h15v1h-15zM207 1671h2v1h-2zM194 1671h8v1h-8zM208 1672h1v1h-1zM194 1672h4v1h-4zM209 1673h3v1h-3zM188 1673h7v1h-7zM210 1674h2v1h-2zM188 1674h4v1h-4zM188 1675h2v1h-2zM211 1675h1v1h-1zM179 1676h8v1h-8zM212 1676h3v2h-3zM179 1677h6v1h-6zM179 1678h4v1h-4zM213 1678h2v2h-2zM173 1679h7v1h-7zM173 1680h5v1h-5zM173 1681h2v1h-2zM164 1682h9v1h-9zM164 1683h6v1h-6zM164 1684h3v1h-3zM155 1685h10v1h-10zM214 1680h1v7h-1zM155 1686h7v1h-7zM155 1687h3v1h-3zM146 1688h9v1h-9zM146 1689h5v1h-5zM146 1690h2v1h-2zM140 1691h6v1h-6zM140 1692h4v1h-4zM140 1693h2v1h-2zM215 1688h3v7h-3zM134 1694h6v1h-6zM134 1695h5v1h-5zM134 1696h3v1h-3zM131 1697h4v1h-4zM131 1698h2v1h-2zM131 1699h1v1h-1zM125 1700h5v1h-5zM125 1701h3v1h-3zM125 1702h2v1h-2zM119 1703h6v1h-6zM119 1704h4v1h-4zM119 1705h2v1h-2zM113 1706h7v1h-7zM113 1707h5v1h-5zM113 1708h3v1h-3zM110 1709h5v1h-5zM216 1695h2v16h-2zM110 1710h3v1h-3zM110 1711h2v1h-2zM107 1712h4v1h-4zM107 1713h3v1h-3zM107 1714h2v2h-2zM107 1716h1v1h-1zM104 1718h2v2h-2zM104 1720h1v1h-1zM101 1721h3v1h-3zM101 1722h2v2h-2zM217 1711h1v15h-1zM101 1724h1v2h-1zM218 1727h3v5h-3zM98 1730h2v5h-2zM219 1732h2v6h-2zM98 1735h1v5h-1zM220 1738h1v6h-1zM221 1745h3v4h-3zM222 1749h2v4h-2zM95 1745h2v11h-2zM223 1753h1v3h-1zM224 1757h3v3h-3zM225 1760h2v3h-2zM95 1756h1v16h-1zM226 1763h1v12h-1zM226 1775h4v1h-4zM92 1778h3v10h-3zM227 1776h3v50h-3zM226 1828h1v2h-1zM225 1830h2v1h-2zM224 1831h3v1h-3zM223 1832h1v1h-1zM202 1833h22v1h-22zM179 1834h45v1h-45zM155 1835h18v1h-18zM150 1836h23v1h-23zM146 1837h27v1h-27zM139 1839h4v1h-4zM135 1840h8v1h-8zM131 1841h3v1h-3zM127 1842h7v1h-7zM92 1788h2v56h-2zM115 1843h19v1h-19zM103 1844h7v1h-7zM95 1845h15v2h-15z" fill="url(#p14)"/>
<path d="M202 1671h5v1h-5zM198 1672h10v1h-10zM195 1673h14v1h-14zM192 1674h18v1h-18zM190 1675h21v1h-21zM187 1676h25v1h-25zM185 1677h27v1h-27zM183 1678h30v1h-30zM180 1679h33v1h-33zM178 1680h36v1h-36zM175 1681h39v1h-39zM173 1682h41v1h-41zM170 1683h44v1h-44zM167 1684h47v1h-47zM165 1685h49v1h-49zM162 1686h52v1h-52zM158 1687h57v1h-57zM155 1688h60v1h-60zM151 1689h64v1h-64zM148 1690h67v1h-67zM146 1691h69v1h-69zM144 1692h71v1h-71zM142 1693h73v1h-73zM140 1694h75v1h-75zM139 1695h77v1h-77zM137 1696h79v1h-79zM135 1697h81v1h-81zM133 1698h83v1h-83zM132 1699h84v1h-84zM130 1700h86v1h-86zM128 1701h88v1h-88zM127 1702h89v1h-89zM125 1703h91v1h-91zM123 1704h93v1h-93zM121 1705h95v1h-95zM120 1706h96v1h-96zM118 1707h98v1h-98zM116 1708h100v1h-100zM115 1709h101v1h-101zM113 1710h103v1h-103zM112 1711h105v1h-105zM111 1712h106v1h-106zM110 1713h107v1h-107zM109 1714h108v2h-108zM108 1716h109v1h-109zM107 1717h110v1h-110zM106 1718h111v2h-111zM105 1720h112v1h-112zM104 1721h113v1h-113zM103 1722h114v2h-114zM102 1724h115v2h-115zM101 1726h117v4h-117zM100 1730h118v2h-118zM100 1732h119v3h-119zM99 1735h120v3h-120zM99 1738h121v2h-121zM98 1740h122v4h-122zM98 1744h123v1h-123zM97 1745h124v4h-124zM97 1749h125v4h-125zM97 1753h126v3h-126zM96 1756h128v4h-128zM96 1760h129v3h-129zM96 1763h130v9h-130zM95 1772h131v4h-131zM95 1776h132v12h-132zM94 1788h133v40h-133zM94 1828h132v2h-132zM94 1830h131v1h-131zM94 1831h130v1h-130zM94 1832h129v1h-129zM94 1833h108v1h-108zM94 1834h85v1h-85zM94 1835h61v1h-61zM94 1836h56v1h-56zM94 1837h52v1h-52zM94 1838h49v1h-49zM94 1839h45v1h-45zM94 1840h41v1h-41zM94 1841h37v1h-37zM94 1842h33v1h-33zM94 1843h21v1h-21zM95 1844h8v1h-8z" fill="#000"/>
<path d="M82 1554h1.3m3.7 12h1.3m0.7 13h1.3m-10.3 21h1.3m-2.3 4h1.3m8.7 12h1.3m-4.3 3h1.3m-10.3 2h1.3m10.7 7h1.3m-7.3 2h1.3m3.7 9h1.3m-6.3 14h1.3m1.7 16h1.3m-1.3 14h1.3m282.7 4h1.3m-6.3 5h1.3m-13.3 18h1.3m-5.3 1h1.3m-264.3 1h1.3m0.7 8h1.3m268.7 1h1.3m-10.3 3h1.3m-20.3 13h1.3m4.7 13h1.3m-5.3 3h1.3m28.7 12h1.3m-48.3 12h1.3m42.7 0h1.3m-0.3 2h1.3m-68.3 5h1.3m67.7 3h1.3m-72.3 1h1.3m24.7 5h1.3m53.7 0h1.3m-59.3 1h1.3m8.7 4h1.3m-244.3 1h1.3m259.7 0h1.3m7.7 1h1.3m-268.3 3h1.3m-8.3 5h1.3m190.7 1h1.3m91.7 1h1.3m-58.3 1h1.3m69.7 0h1.3m-99.3 5h1.3m58.7 0h1.3m12.7 1h1.3m23.7 0h1.3m-36.3 1h1.3m20.7 0h1.3m-49.3 1h1.3m25.7 6h1.3m-69.3 4h1.3m94.7 0h1.3m-101.3 5h1.3m58.7 3h1.3m-247.3 4h1.3m138.7 2h1.3m-26.3 4h1.3m1.7 2h1.3m112.7 0h1.3m-241.3 3h1.3m259.7 0h1.3m-208.3 1h1.3m25.7 0h1.3m-14.3 4h1.3m-36.3 3h1.3m180.7 0h1.3m16.7 0h1.3m-122.3 1h1.3m47.7 0h1.3" fill="none" stroke="#000" stroke-width="1.3"/>
</g>
<path d="M154.8 1837.2 158 1811 169.5 1799.6 179.3 1795.5 192.3 1793.1 211.9 1794.7 228.3 1798 229.1 1830.6 208.7 1835.5 184.2 1837.2Z" fill="#ff0000"/>
<path d="M186 1794h1v1h-1zM191 1794h1v1h-1zM208 1794h1v1h-1zM192 1796h1v1h-1zM195 1796h1v1h-1zM197 1796h1v1h-1zM211 1796h1v1h-1zM187 1797h1v1h-1zM193 1797h1v1h-1zM196 1797h1v1h-1zM216 1797h1v1h-1zM217 1797h1v1h-1zM184 1798h1v1h-1zM222 1798h1v1h-1zM176 1799h1v1h-1zM177 1799h1v1h-1zM191 1799h1v1h-1zM192 1799h1v1h-1zM196 1799h1v1h-1zM199 1799h1v1h-1zM214 1799h1v1h-1zM226 1799h1v1h-1zM174 1800h1v1h-1zM205 1800h1v1h-1zM210 1800h1v1h-1zM211 1800h1v1h-1zM174 1801h1v1h-1zM177 1801h1v1h-1zM193 1801h1v1h-1zM198 1801h1v1h-1zM205 1801h1v1h-1zM219 1802h1v1h-1zM222 1802h1v1h-1zM188 1803h1v1h-1zM201 1803h1v1h-1zM207 1803h1v1h-1zM210 1803h1v1h-1zM216 1803h1v1h-1zM225 1803h1v1h-1zM186 1804h1v1h-1zM199 1804h1v1h-1zM222 1804h1v1h-1zM196 1805h1v1h-1zM206 1805h1v1h-1zM211 1805h1v1h-1zM217 1805h1v1h-1zM183 1806h1v1h-1zM186 1806h1v1h-1zM165 1807h1v1h-1zM168 1807h1v1h-1zM169 1807h1v1h-1zM174 1807h1v1h-1zM207 1807h1v1h-1zM224 1807h1v1h-1zM225 1807h1v1h-1zM173 1808h1v1h-1zM205 1808h1v1h-1zM162 1809h1v1h-1zM173 1809h1v1h-1zM196 1809h1v1h-1zM200 1809h1v1h-1zM226 1809h1v1h-1zM165 1810h1v1h-1zM200 1810h1v1h-1zM209 1810h1v1h-1zM222 1810h1v1h-1zM177 1811h1v1h-1zM187 1811h1v1h-1zM189 1811h1v1h-1zM207 1811h1v1h-1zM213 1811h1v1h-1zM220 1811h1v1h-1zM228 1811h1v1h-1zM166 1812h1v1h-1zM194 1812h1v1h-1zM164 1813h1v1h-1zM176 1813h1v1h-1zM197 1813h1v1h-1zM209 1813h1v1h-1zM212 1813h1v1h-1zM220 1813h1v1h-1zM189 1814h1v1h-1zM192 1814h1v1h-1zM193 1814h1v1h-1zM164 1815h1v1h-1zM169 1815h1v1h-1zM188 1815h1v1h-1zM196 1815h1v1h-1zM200 1815h1v1h-1zM206 1815h1v1h-1zM166 1816h1v1h-1zM175 1816h1v1h-1zM185 1816h1v1h-1zM207 1816h1v1h-1zM186 1817h1v1h-1zM201 1817h1v1h-1zM204 1817h1v1h-1zM214 1817h1v1h-1zM216 1817h1v1h-1zM218 1817h1v1h-1zM159 1818h1v1h-1zM200 1818h1v1h-1zM206 1818h1v1h-1zM226 1818h1v1h-1zM227 1818h1v1h-1zM182 1819h1v1h-1zM190 1819h1v1h-1zM201 1819h1v1h-1zM208 1819h1v1h-1zM171 1820h1v1h-1zM178 1820h1v1h-1zM182 1820h1v1h-1zM210 1820h1v1h-1zM190 1821h1v1h-1zM194 1821h1v1h-1zM206 1821h1v1h-1zM167 1822h1v1h-1zM221 1822h1v1h-1zM176 1823h1v1h-1zM183 1823h1v1h-1zM201 1823h1v1h-1zM204 1823h1v1h-1zM206 1823h1v1h-1zM160 1824h1v1h-1zM168 1824h1v1h-1zM176 1824h1v1h-1zM206 1824h1v1h-1zM163 1825h1v1h-1zM170 1825h1v1h-1zM170 1826h1v1h-1zM176 1826h1v1h-1zM195 1827h1v1h-1zM196 1827h1v1h-1zM199 1827h1v1h-1zM207 1827h1v1h-1zM167 1828h1v1h-1zM175 1828h1v1h-1zM180 1828h1v1h-1zM197 1828h1v1h-1zM214 1828h1v1h-1zM202 1829h1v1h-1zM206 1829h1v1h-1zM222 1829h1v1h-1zM172 1830h1v1h-1zM201 1830h1v1h-1zM203 1830h1v1h-1zM208 1830h1v1h-1zM209 1830h1v1h-1zM225 1830h1v1h-1zM155 1831h1v1h-1zM156 1831h1v1h-1zM172 1831h1v1h-1zM210 1831h1v1h-1zM214 1831h1v1h-1zM155 1832h1v1h-1zM187 1832h1v1h-1zM166 1833h1v1h-1zM185 1833h1v1h-1zM203 1833h1v1h-1zM213 1833h1v1h-1zM167 1834h1v1h-1zM168 1834h1v1h-1zM170 1834h1v1h-1zM176 1834h1v1h-1zM178 1834h1v1h-1zM203 1834h1v1h-1zM205 1834h1v1h-1zM209 1834h1v1h-1zM164 1835h1v1h-1zM167 1835h1v1h-1zM171 1835h1v1h-1zM178 1835h1v1h-1zM156 1836h1v1h-1zM172 1836h1v1h-1zM181 1836h1v1h-1zM186 1836h1v1h-1z" fill="#fff"/>
<rect x="153.1" y="1766.1" width="78.4" height="22" fill="#c8c8c8"/>
<text x="154.8" y="1782.8"  style="font-size:16px;fill:#ff0000">P1(1.95%)</text>
<rect x="77.8" y="1553.9" width="309" height="308.6" fill="none" stroke="#000" stroke-width="1.5"/>
<text x="222.8" y="1545.7"  text-anchor="middle" style="font-size:16.3px">Diabetic Wound : All Events</text>
<path d="M77.8 1850.1h-8M77.8 1833.5h-5M77.8 1816.8h-5M77.8 1800.2h-5M77.8 1783.5h-5M77.8 1766.9h-8M77.8 1750.3h-5M77.8 1733.6h-5M77.8 1717h-5M77.8 1700.3h-5M77.8 1683.7h-8M77.8 1667.1h-5M77.8 1650.4h-5M77.8 1633.8h-5M77.8 1617.1h-5M77.8 1600.5h-8M77.8 1583.9h-5M77.8 1567.2h-5" stroke="#000" stroke-width="1.3"/>
<text x="0" y="0" transform="translate(63.9 1850.1) rotate(-90)" text-anchor="middle" style="font-size:15px">0</text>
<text x="0" y="0" transform="translate(63.9 1766.9) rotate(-90)" text-anchor="middle" style="font-size:15px">50</text>
<text x="0" y="0" transform="translate(63.9 1683.7) rotate(-90)" text-anchor="middle" style="font-size:15px">100</text>
<text x="0" y="0" transform="translate(63.9 1600.5) rotate(-90)" text-anchor="middle" style="font-size:15px">150</text>
<path d="M77.8 1862.5v8M104.5 1862.5v5M131.1 1862.5v5M157.8 1862.5v5M184.4 1862.5v5M211.1 1862.5v8M237.8 1862.5v5M264.4 1862.5v5M291.1 1862.5v5M317.7 1862.5v5M344.4 1862.5v8M371.1 1862.5v5" stroke="#000" stroke-width="1.3"/>
<text x="77.8" y="1890.5"  text-anchor="middle" style="font-size:15px">0</text>
<text x="211.1" y="1890.5"  text-anchor="middle" style="font-size:15px">50</text>
<text x="344.4" y="1890.5"  text-anchor="middle" style="font-size:15px">100</text>
<text x="232" y="1910"  text-anchor="middle" style="font-size:15.9px">FSC-A</text>
<text x="362.5" y="1912.5"  text-anchor="middle" style="font-size:15.5px">( x 10<tspan dy="-6.5" style="font-size:10.5px">4</tspan><tspan dy="6.5"> )</tspan></text>
<text x="0" y="0" transform="translate(41.8 1708.2) rotate(-90)" text-anchor="middle" style="font-size:15.7px">SSC-A</text>
<text x="0" y="0" transform="translate(43 1577.9) rotate(-90)" text-anchor="middle" style="font-size:15.5px">( x 10<tspan dy="-6.5" style="font-size:10.5px">4</tspan><tspan dy="6.5"> )</tspan></text>
<rect x="498.6" y="756.4" width="306.1" height="298.2" fill="none" stroke="#000" stroke-width="1.5"/>
<text x="642.4" y="748.5"  text-anchor="middle" style="font-size:16.3px">Non-Diabetic Wound : P2</text>
<path d="M498.6 1042.6h-8M498.6 962.2h-8M498.6 881.8h-8M498.6 801.4h-8M498.6 1026.5h-5M498.6 1010.4h-5M498.6 994.4h-5M498.6 978.3h-5M498.6 946.1h-5M498.6 930h-5M498.6 914h-5M498.6 897.9h-5M498.6 865.7h-5M498.6 849.6h-5M498.6 833.6h-5M498.6 817.5h-5M498.6 785.3h-5M498.6 769.2h-5" stroke="#000" stroke-width="1.3"/>
<text x="0" y="0" transform="translate(484.4 1042.6) rotate(-90)" text-anchor="middle" style="font-size:15px">0</text>
<text x="0" y="0" transform="translate(484.4 962.2) rotate(-90)" text-anchor="middle" style="font-size:15px">50</text>
<text x="0" y="0" transform="translate(484.4 881.8) rotate(-90)" text-anchor="middle" style="font-size:15px">100</text>
<text x="0" y="0" transform="translate(484.4 801.4) rotate(-90)" text-anchor="middle" style="font-size:15px">150</text>
<text x="0" y="0" transform="translate(463.6 905.5) rotate(-90)" text-anchor="middle" style="font-size:15.7px">SSC-A</text>
<text x="0" y="0" transform="translate(463.6 780.9) rotate(-90)" text-anchor="middle" style="font-size:15.5px">( x 10<tspan dy="-6.5" style="font-size:10.5px">4</tspan><tspan dy="6.5"> )</tspan></text>
<path d="M498.6 1054.6v8M584.4 1054.6v8M652.5 1054.6v8M722.5 1054.6v8M791 1054.6v8M804.7 1054.6v8M504.3 1054.6v5M514.7 1054.6v5M535.2 1054.6v5M545 1054.6v5M552.5 1054.6v5M559.8 1054.6v5M565 1054.6v5M569.3 1054.6v5M573.7 1054.6v5M577.1 1054.6v5M580.3 1054.6v5M604.9 1054.6v5M616.9 1054.6v5M625.4 1054.6v5M632 1054.6v5M637.4 1054.6v5M642 1054.6v5M645.9 1054.6v5M649.4 1054.6v5M673.6 1054.6v5M685.9 1054.6v5M694.6 1054.6v5M701.4 1054.6v5M707 1054.6v5M711.7 1054.6v5M715.7 1054.6v5M719.3 1054.6v5M743.1 1054.6v5M755.2 1054.6v5M763.7 1054.6v5M770.4 1054.6v5M775.8 1054.6v5M780.4 1054.6v5M784.4 1054.6v5M787.9 1054.6v5" stroke="#000" stroke-width="1.3"/>
<path d="M524.8 1054.6v8" stroke="#888" stroke-width="1.3"/>
<text x="524.8" y="1080.9"  text-anchor="middle" style="font-size:15px">0</text>
<text x="586.4" y="1080.9"  text-anchor="middle" style="font-size:15px">10<tspan dy="-6.3" style="font-size:10.2px">4</tspan></text>
<text x="654.5" y="1080.9"  text-anchor="middle" style="font-size:15px">10<tspan dy="-6.3" style="font-size:10.2px">5</tspan></text>
<text x="724.5" y="1080.9"  text-anchor="middle" style="font-size:15px">10<tspan dy="-6.3" style="font-size:10.2px">6</tspan></text>
<text x="793" y="1080.9"  text-anchor="middle" style="font-size:15px">10<tspan dy="-6.3" style="font-size:10.2px">7</tspan></text>
<text x="650.8" y="1102.1"  text-anchor="middle" style="font-size:15.9px">CD45 PC5.5-A</text>
<rect x="628.3" y="967.2" width="116.3" height="80.1" fill="none" stroke="#ff1a1a" stroke-width="1.4"/>
<text x="628.3" y="957"  style="font-size:16px;fill:#ff0000">CD45+(5.43%)</text>
<rect x="521" y="980.2" width="22" height="44.4" fill="#ff0000"/>
<path d="M519.5 992.5h1.4m-1.9 14h1.4m0.1 13h1.4m21.6 0h1.4m-0.4 4.5h1.4m-26.9 -11.5h1.4m0.1 6.5h1.4m21.6 -32h1.4m-24.4 5.5h1.4m25.6 -3h1.4m-4.9 23.5h1.4m-0.9 -3.5h1.4m-25.4 -11.5h1.4m23.6 4h1.4m-3.4 17h1.4m-1.4 -18.5h1.4m-24.4 17h1.4m-2.4 -11h1.4m23.1 -12h1.4m-0.9 -4h1.4m-2.4 10.5h1.4m1.6 11h1.4m-27.4 -24.5h1.4m-2.4 -6.5h1.4m22.6 35.5h1.4m-24.4 -19.5h1.4m25.6 6h1.4m-24.4 24.5h1.4m-9.4 -17h1.4m26.1 5h1.4m-26.9 -33h1.4m0.1 25h1.4m-0.9 -7h1.4m-2.9 26.5h1.4m27.1 -25.5h1.4m-29.4 13.5h1.4m23.6 -28h1.4m-1.4 3h1.4m-26.4 2h1.4m-0.4 4h1.4m-1.9 7h1.4m-0.9 -9h1.4m25.6 -0.5h1.4m-28.4 -10h1.4m-3.9 6h1.4m23.6 5.5h1.4m-25.4 0h1.4m-0.9 25h1.4m22.6 -6.5h1.4m-0.9 -28h1.4m-8.9 -6h1.4m-16.9 35.5h1.4m4.6 11h1.4m-7.4 -3.5h1.4m23.1 -41h1.4m-2.4 21.5h1.4m-24.9 14h1.4m-2.4 -7.5h1.4m-2.4 -2.5h1.4m23.1 -11h1.4m-25.4 -15h1.4m22.6 1h1.4m-24.9 1.5h1.4m23.6 33h1.4m-28.4 -13.5h1.4m1.1 -11.5h1.4m-2.4 22.5h1.4m24.1 -11.5h1.4m-1.4 -11h1.4m-13.4 -12h1.4m12.1 29.5h1.4m-28.4 12h1.4m23.1 -41.5h1.4m-1.9 0h1.4m3.6 39h1.4m-29.9 -19.5h1.4m23.1 25.5h1.4m-25.4 -24.5h1.4m-3.9 -12.5h1.4m1.1 21.5h1.4m25.1 5h1.4m-28.4 -6h1.4m21.6 -26.5h1.4m-0.9 17.5h1.4m-0.4 -6h1.4m-25.4 9.5h1.4m22.6 -7.5h1.4m-28.4 14.5h1.4m27.1 7.5h1.4m-2.9 -2h1.4m-24.9 -35.5h1.4m23.6 23.5h1.4m-27.4 5h1.4m-2.4 -13.5h1.4m23.6 0.5h1.4m-25.9 6.5h1.4m-1.4 -8h1.4m8.1 -14.5h1.4m-9.4 42h1.4m-2.9 -31.5h1.4m-0.4 -10.5h1.4m-2.9 33h1.4m24.1 0.5h1.4m-11.4 12.5h1.4m9.6 -5h1.4m-3.9 4h1.4m-23.9 -20.5h1.4m-1.9 17.5h1.4m16.6 3.5h1.4m5.6 -43.5h1.4m-1.4 16h1.4m-1.9 25h1.4m-1.9 -1.5h1.4m-24.4 -28.5h1.4m1.1 33h1.4m18.6 0h1.4m-0.4 -11h1.4m-24.9 1h1.4m22.6 5.5h1.4m-1.9 -20.5h1.4m2.1 1h1.4m-29.4 19.5h1.4m12.6 4.5h1.4m-16.4 -41h1.4m25.1 15.5h1.4m-2.9 -10h1.4m-0.9 31.5h1.4m-25.9 -19.5h1.4m5.6 23.5h1.4m-9.4 -18h1.4m24.1 3.5h1.4m-26.4 -20h1.4m24.6 35h1.4m-0.9 -23.5h1.4m-28.9 -9.5h1.4m-0.9 -4h1.4m9.6 -10h1.4m-10.9 38.5h1.4m23.1 -29h1.4m-26.9 36.5h1.4m22.6 -3.5h1.4m-26.4 -1h1.4m0.6 -2h1.4m21.6 -30.5h1.4m-1.9 26.5h1.4m-23.4 2h1.4m-3.9 -11h1.4m0.1 15h1.4m23.1 -39.5h1.4m-2.9 26h1.4m-0.4 -14.5h1.4m-1.9 26h1.4m-26.4 4.5h1.4m24.1 -31.5h1.4m-1.4 11.5h1.4m1.6 5.5h1.4m-29.4 17h1.4m-1.9 -44h1.4m6.1 -1h1.4m17.6 44.5h1.4m-28.4 -8.5h1.4m3.6 -37.5h1.4m12.1 47.5h1.4m-14.9 -1.5h1.4m6.6 2h1.4m12.6 -44.5h1.4m-4.9 -2h1.4m-21.9 6.5h1.4m-1.9 -7h1.4m20.1 -1h1.4m0.1 37h1.4m-25.4 -2h1.4m-0.4 -22h1.4m-0.9 -3.5h1.4m26.1 6h1.4m-2.9 12.5h1.4m-28.9 -22h1.4m-1.9 -4.5h1.4m-0.4 30h1.4m21.6 10h1.4m-1.4 -39h1.4m-24.9 9.5h1.4m-0.4 15h1.4m22.6 -12h1.4m-1.9 32h1.4m-24.9 -42.5h1.4m23.6 40h1.4m-28.4 -16.5h1.4m0.6 17h1.4m-1.9 -29h1.4m26.6 -9h1.4m-29.9 4h1.4m23.1 37h1.4m-24.9 -44h1.4m-2.9 23h1.4m0.6 0.5h1.4m-1.9 -19h1.4m21.6 4h1.4m-25.4 -11.5h1.4m-0.9 45h1.4m25.1 -19h1.4m-1.4 3h1.4m-26.4 -29.5h1.4m-2.9 42h1.4m22.1 -23.5h1.4m-0.9 20.5h1.4m-13.4 7.5h1.4m-12.9 -12h1.4m-3.4 -12.5h1.4m23.1 -6.5h1.4m-12.9 -16.5h1.4m-12.4 10h1.4m23.1 8h1.4m-26.4 -7h1.4m21.6 24h1.4m-25.4 -10.5h1.4m22.6 -4h1.4m0.6 -6.5h1.4m-25.9 13h1.4m-0.9 4h1.4m20.6 11h1.4m3.6 -31h1.4m-29.9 2.5h1.4m0.1 25h1.4m-2.4 -6h1.4m-0.9 -16.5h1.4m-3.4 7h1.4m24.1 -9.5h1.4m-0.4 -7h1.4m0.6 4h1.4m-5.4 19h1.4m0.6 1h1.4m0.1 3h1.4m-1.4 -22h1.4m-29.4 21h1.4m-0.4 -4.5h1.4m-0.4 -15.5h1.4m-3.4 8h1.4m2.1 27.5h1.4m5.6 -48h1.4m16.1 26h1.4m-27.4 10.5h1.4m22.6 5h1.4m-21.9 -42h1.4m-4.4 20.5h1.4m-1.9 13.5h1.4m22.6 10.5h1.4m-26.9 -21.5h1.4m24.6 14.5h1.4m-26.4 -17.5h1.4m-1.4 -6.5h1.4m22.1 3h1.4m-24.4 31h1.4m-3.4 -30h1.4m27.6 22h1.4m-3.9 -21h1.4m-28.4 13h1.4m24.1 -6h1.4m-25.4 18h1.4m-0.9 -30h1.4m29.6 2.5h1.4m-7.4 12h1.4m22.6 -21.5h1.4m18.6 13h1.4m-33.4 8h1.4m8.6 13h1.4m-22.4 -2.5h1.4m4.6 5.5h1.4m-0.9 -10h1.4m-5.4 -12h1.4m7.6 -9.5h1.4m3.1 21.5h1.4m-13.9 0h1.4m5.6 -2h1.4m-1.9 -28h1.4m18.6 34.5h1.4m-28.4 -26h1.4m-3.4 24h1.4m23.6 2h1.4m-15.4 -20h1.4m40.6 13.5h1.4m-47.9 -1.5h1.4m14.6 0.5h1.4m1.6 -22h1.4m-24.9 -5.5h1.4m51.6 25h1.4m-54.4 -19h1.4m17.6 18h1.4m-24.4 -18h1.4m27.1 18h1.4m-22.9 17h1.4m8.6 -6.5h1.4m-3.9 -8.5h1.4m-15.9 5h1.4m21.6 2.5h1.4m-17.9 2h1.4m23.1 -17.5h1.4m-26.4 -1.5h1.4m11.1 -8h1.4m-11.9 33h1.4m-7.9 -20.5h1.4m-2.4 0h1.4m-0.9 -19.5h1.4m7.6 36h1.4m7.6 -2.5h1.4m-19.9 -18.5h1.4m21.6 -7.5h1.4m-21.9 21h1.4m20.1 -24h1.4m5.6 16.5h1.4m-9.4 0.5h1.4m-3.9 -15.5h1.4m-19.9 30h1.4m-2.4 -21.5h1.4m6.6 2.5h1.4m43.1 3.5h1.4m-16.4 -15h1.4m-27.9 28.5h1.4m-11.9 -20h1.4m14.6 -11.5h1.4m-12.4 11.5h1.4m15.1 4h1.4m13.1 3.5h1.4m-36.9 -6h1.4m17.1 -10h1.4m-13.4 -5.5h1.4m24.1 0h1.4m-18.9 20h1.4m9.6 -15.5h1.4m-22.4 18.5h1.4m5.6 -14.5h1.4m29.6 5.5h1.4m-24.4 12.5h1.4m-14.9 -11h1.4m1.1 1h1.4m-11.9 3.5h1.4m36.1 -1.5h1.4m-37.9 -12h1.4m0.6 14h1.4m21.6 -17.5h1.4m-3.9 22h1.4m-8.9 -24h1.4m-2.4 13.5h1.4m-1.9 -15.5h1.4m-9.9 7.5h1.4m13.1 32.5h1.4m33.1 -14.5h1.4m-53.9 -1h1.4m-2.4 4.5h1.4m43.1 -15.5h1.4m-39.4 6h1.4m-1.4 14h1.4m8.1 -19.5h1.4m-8.9 20h1.4m0.1 -2h1.4m-10.4 -25.5h1.4m4.6 30.5h1.4m2.1 -33.5h1.4m-8.4 37h1.4m-2.4 -3h1.4m12.1 -38h1.4m-18.4 33h1.4m20.6 -8.5h1.4m1.6 -3.5h1.4m8.1 3.5h1.4m-29.4 -24.5h1.4m2.6 7.5h1.4m-3.4 13h1.4m-6.9 -10.5h1.4m-0.4 18h1.4m53.1 -10h1.4m-43.4 18h1.4m11.1 -3.5h1.4m-23.9 -6.5h1.4m0.6 -16.5h1.4m25.1 12.5h1.4m-36.9 12.5h1.4m29.1 -14.5h1.4m-5.9 -19h1.4m-19.4 13.5h1.4m121.1 15h1.4m0.1 -0.5h1.4m-13.4 10h1.4m11.6 -8h1.4m6.1 -1.5h1.4m-13.4 -17h1.4m3.6 31.5h1.4m-3.4 -17h1.4m3.1 7h1.4m-20.9 -8.5h1.4m12.1 0.5h1.4m-13.9 15h1.4m14.6 1h1.4m-15.4 -5.5h1.4m26.6 -5.5h1.4m-29.9 7.5h1.4m11.6 -16.5h1.4m-2.4 18h1.4m-21.9 -21h1.4m6.1 14.5h1.4m6.6 3.5h1.4m-13.4 8h1.4m30.1 -8h1.4m-25.9 -8h1.4m7.1 5h1.4m-3.4 -6h1.4m-3.4 0h1.4m-12.9 -4h1.4m-5.9 15h1.4m-1.4 -9h1.4m15.1 6.5h1.4m-6.4 2h1.4m-1.4 -8.5h1.4m-3.4 -6.5h1.4m-1.4 7.5h1.4m5.6 15h1.4m-20.4 -18h1.4m6.6 10h1.4m18.6 -8.5h1.4m-19.9 10h1.4m7.6 -20.5h1.4m-9.4 14.5h1.4m-4.4 -2.5h1.4m10.6 3h1.4m-13.4 -5.5h1.4m12.1 9h1.4m2.6 -4.5h1.4m-11.4 0.5h1.4m-2.4 -11.5h1.4m-9.4 15h1.4m4.6 -7h1.4m12.1 -0.5h1.4m-15.4 12h1.4m-0.9 -22h1.4m-2.4 13.5h1.4m23.1 0.5h1.4m-10.9 -10.5h1.4m-0.9 -6h1.4m0.6 21h1.4m12.1 -3.5h1.4m-17.9 -3.5h1.4m-16.4 3.5h1.4m18.1 -11.5h1.4m-6.9 23h1.4m-22.4 -27.5h1.4m1.6 -2h1.4m21.1 14h1.4m-22.9 -12h1.4m17.6 10h1.4m-9.4 6h1.4m17.1 -6.5h1.4m-6.9 14.5h1.4m-11.9 3h1.4m-16.9 -10h1.4m27.1 10.5h1.4m-6.4 -4.5h1.4m-30.4 -7h1.4m20.1 -4.5h1.4m-18.4 -1h1.4m31.6 2h1.4m-9.9 2h1.4m-4.4 -12.5h1.4m-16.9 24h1.4m-2.4 -12.5h1.4m23.6 6.5h1.4m-22.4 -11h1.4m0.1 12h1.4m-9.4 -4h1.4m18.6 1.5h1.4m-8.9 -17h1.4m5.1 24.5h1.4m2.6 -12h1.4m-19.9 -5.5h1.4m2.6 -2.5h1.4m-17.9 -9h1.4m7.6 17.5h1.4m16.6 5h1.4m13.6 -8.5h1.4m-4.4 14h1.4m-21.9 -6.5h1.4m1.6 -4.5h1.4m6.6 2h1.4m-4.9 0.5h1.4m-7.9 -9h1.4m11.6 11.5h1.4m-6.9 -12h1.4m0.6 14h1.4m13.1 -3.5h1.4m-36.9 2.5h1.4m-5.4 -1h1.4m34.1 -1.5h1.4m-33.4 2h1.4m2.6 -9h1.4m-9.9 2h1.4m18.1 9.5h1.4m4.1 -7.5h1.4m-3.4 8h1.4m-8.4 -11h1.4m-1.9 -6h1.4m-7.9 11.5h1.4m8.1 -13.5h1.4m8.6 9.5h1.4m-7.9 -1h1.4m-9.4 -1h1.4m17.1 4.5h1.4m-23.4 0.5h1.4m8.1 3h1.4m-5.9 -5.5h1.4m-15.9 -6h1.4m-4.9 6.5h1.4m25.6 13h1.4m-21.9 -17.5h1.4m28.1 2h1.4m-14.9 3.5h1.4m-18.4 -3.5h1.4m29.1 8.5h1.4m1.6 -3h1.4m-30.9 0.5h1.4m5.6 -1.5h1.4m4.6 -5.5h1.4m1.1 6h1.4m-8.4 -5.5h1.4m-4.4 0.5h1.4m-10.9 8h1.4m16.1 -4h1.4m-28.9 -3.5h1.4m34.6 6.5h1.4m-23.4 -6h1.4m14.6 -1h1.4m-1.4 -9.5h1.4m-5.9 18h1.4m-22.9 -0.5h1.4m9.6 -10h1.4m0.1 3h1.4m10.6 -2h1.4m-15.4 4.5h1.4m8.1 -0.5h1.4m-28.9 7h1.4m30.6 -10.5h1.4m-4.4 17h1.4m-11.4 -15h1.4m14.1 -4.5h1.4m-2.9 -3h1.4m-2.9 0.5h1.4m-27.4 2.5h1.4m13.1 -3h1.4m7.1 4.5h1.4m14.6 1h1.4m-16.4 5.5h1.4m-15.4 3h1.4m20.6 -5h1.4m-2.9 2.5h1.4m-29.4 3.5h1.4m-12.9 -6h1.4m16.1 -15.5h1.4m2.6 4h1.4m10.1 8.5h1.4m-22.4 -11h1.4m6.6 25h1.4m5.1 -5.5h1.4m14.1 -4h1.4m-16.4 2h1.4m12.6 3.5h1.4m-28.4 -14h1.4m9.6 19h1.4" fill="none" stroke="#ff0000" stroke-width="1.4"/>
<rect x="498.6" y="1157.4" width="306.1" height="298.2" fill="none" stroke="#000" stroke-width="1.5"/>
<text x="642.4" y="1149.5"  text-anchor="middle" style="font-size:16.3px">Diabetic Wound : P2</text>
<path d="M498.6 1443.6h-8M498.6 1363.2h-8M498.6 1282.8h-8M498.6 1202.4h-8M498.6 1427.5h-5M498.6 1411.4h-5M498.6 1395.4h-5M498.6 1379.3h-5M498.6 1347.1h-5M498.6 1331h-5M498.6 1315h-5M498.6 1298.9h-5M498.6 1266.7h-5M498.6 1250.6h-5M498.6 1234.6h-5M498.6 1218.5h-5M498.6 1186.3h-5M498.6 1170.2h-5" stroke="#000" stroke-width="1.3"/>
<text x="0" y="0" transform="translate(484.4 1443.6) rotate(-90)" text-anchor="middle" style="font-size:15px">0</text>
<text x="0" y="0" transform="translate(484.4 1363.2) rotate(-90)" text-anchor="middle" style="font-size:15px">50</text>
<text x="0" y="0" transform="translate(484.4 1282.8) rotate(-90)" text-anchor="middle" style="font-size:15px">100</text>
<text x="0" y="0" transform="translate(484.4 1202.4) rotate(-90)" text-anchor="middle" style="font-size:15px">150</text>
<text x="0" y="0" transform="translate(463.6 1306.5) rotate(-90)" text-anchor="middle" style="font-size:15.7px">SSC-A</text>
<text x="0" y="0" transform="translate(463.6 1181.9) rotate(-90)" text-anchor="middle" style="font-size:15.5px">( x 10<tspan dy="-6.5" style="font-size:10.5px">4</tspan><tspan dy="6.5"> )</tspan></text>
<path d="M498.6 1455.6v8M584.4 1455.6v8M652.5 1455.6v8M722.5 1455.6v8M791 1455.6v8M804.7 1455.6v8M504.3 1455.6v5M514.7 1455.6v5M535.2 1455.6v5M545 1455.6v5M552.5 1455.6v5M559.8 1455.6v5M565 1455.6v5M569.3 1455.6v5M573.7 1455.6v5M577.1 1455.6v5M580.3 1455.6v5M604.9 1455.6v5M616.9 1455.6v5M625.4 1455.6v5M632 1455.6v5M637.4 1455.6v5M642 1455.6v5M645.9 1455.6v5M649.4 1455.6v5M673.6 1455.6v5M685.9 1455.6v5M694.6 1455.6v5M701.4 1455.6v5M707 1455.6v5M711.7 1455.6v5M715.7 1455.6v5M719.3 1455.6v5M743.1 1455.6v5M755.2 1455.6v5M763.7 1455.6v5M770.4 1455.6v5M775.8 1455.6v5M780.4 1455.6v5M784.4 1455.6v5M787.9 1455.6v5" stroke="#000" stroke-width="1.3"/>
<path d="M524.8 1455.6v8" stroke="#888" stroke-width="1.3"/>
<text x="524.8" y="1481.9"  text-anchor="middle" style="font-size:15px">0</text>
<text x="586.4" y="1481.9"  text-anchor="middle" style="font-size:15px">10<tspan dy="-6.3" style="font-size:10.2px">4</tspan></text>
<text x="654.5" y="1481.9"  text-anchor="middle" style="font-size:15px">10<tspan dy="-6.3" style="font-size:10.2px">5</tspan></text>
<text x="724.5" y="1481.9"  text-anchor="middle" style="font-size:15px">10<tspan dy="-6.3" style="font-size:10.2px">6</tspan></text>
<text x="793" y="1481.9"  text-anchor="middle" style="font-size:15px">10<tspan dy="-6.3" style="font-size:10.2px">7</tspan></text>
<text x="650.8" y="1503.1"  text-anchor="middle" style="font-size:15.9px">CD45 PC5.5-A</text>
<rect x="628.3" y="1368.2" width="116.3" height="80.1" fill="none" stroke="#ff1a1a" stroke-width="1.4"/>
<text x="628.3" y="1358"  style="font-size:16px;fill:#ff0000">CD45+(6.46%)</text>
<rect x="521" y="1390.2" width="22" height="40.4" fill="#ff0000"/>
<path d="M519.5 1409.5h1.4m-0.4 -6h1.4m-1.9 15h1.4m-1.4 -5.5h1.4m24.1 8h1.4m-1.4 -2.5h1.4m-28.9 -3h1.4m27.1 -21.5h1.4m-10.4 38h1.4m5.1 -37.5h1.4m-1.9 16.5h1.4m-23.9 -17.5h1.4m-1.4 24.5h1.4m-2.9 4.5h1.4m23.1 -14.5h1.4m-1.4 -5.5h1.4m-17.9 -12.5h1.4m15.1 6.5h1.4m-1.4 -7h1.4m-8.4 -0.5h1.4m4.6 10.5h1.4m1.1 9.5h1.4m-3.4 -6h1.4m-0.9 13h1.4m-0.9 -25.5h1.4m-24.9 7h1.4m23.1 26h1.4m-26.4 -25.5h1.4m23.1 17h1.4m-26.9 -17.5h1.4m-0.9 29.5h1.4m-0.9 -9.5h1.4m-1.9 -6.5h1.4m21.6 -7h1.4m0.1 -14.5h1.4m-26.4 31h1.4m23.1 8h1.4m-24.4 -7h1.4m20.6 -6.5h1.4m1.1 1.5h1.4m-3.9 -17.5h1.4m-25.4 -3h1.4m11.1 -5.5h1.4m-12.4 38.5h1.4m-2.9 1.5h1.4m-2.4 -33.5h1.4m28.1 34.5h1.4m-27.9 -40.5h1.4m21.1 18.5h1.4m-25.4 22h1.4m23.1 -39.5h1.4m-1.9 8h1.4m-24.9 17h1.4m-1.9 5h1.4m-0.4 -4.5h1.4m21.6 -8.5h1.4m-24.9 -19.5h1.4m-5.4 24h1.4m17.6 18h1.4m-17.9 -15.5h1.4m0.6 -18.5h1.4m-2.9 -8h1.4m22.6 18.5h1.4m-24.4 8.5h1.4m-0.9 -5.5h1.4m24.1 17h1.4m-3.9 -15h1.4m-24.4 12.5h1.4m23.1 -17.5h1.4m-25.9 21h1.4m22.6 -17h1.4m-26.9 18h1.4m-0.4 -16h1.4m23.6 0h1.4m-25.9 3.5h1.4m24.1 -13.5h1.4m-0.9 5h1.4m0.1 12h1.4m-30.9 -27h1.4m23.6 34.5h1.4m-24.4 -36h1.4m-1.9 0h1.4m24.6 21.5h1.4m-28.4 0.5h1.4m22.6 -23h1.4m-23.9 23h1.4m-1.9 -18h1.4m25.1 22.5h1.4m0.6 -12h1.4m-29.9 18.5h1.4m22.6 -23h1.4m-26.4 27.5h1.4m1.1 0.5h1.4m-2.4 -27h1.4m-1.9 -1h1.4m26.6 3.5h1.4m-3.9 -9h1.4m1.6 10.5h1.4m-4.4 24.5h1.4m0.6 -18h1.4m-31.4 -14h1.4m-0.4 14.5h1.4m0.1 -16.5h1.4m-1.9 -0.5h1.4m22.6 21.5h1.4m-21.9 -30.5h1.4m-3.9 14h1.4m22.6 -10.5h1.4m-27.4 17.5h1.4m13.1 22.5h1.4m8.6 -24h1.4m-1.4 -18.5h1.4m-0.9 31.5h1.4m0.1 -18h1.4m-11.4 -14h1.4m-16.9 19.5h1.4m22.6 -17.5h1.4m-23.9 39h1.4m-1.9 -40h1.4m-1.9 11h1.4m22.1 -3.5h1.4m-1.9 2h1.4m-0.4 21.5h1.4m-0.4 5.5h1.4m-14.9 -36h1.4m-15.4 25.5h1.4m27.6 -20h1.4m-3.9 -5h1.4m-26.9 30.5h1.4m-2.4 0.5h1.4m1.1 -1h1.4m-1.4 -21h1.4m22.6 27h1.4m-25.9 5.5h1.4m23.6 -38.5h1.4m-27.4 26h1.4m24.1 -24h1.4m-25.4 -2h1.4m22.6 -3.5h1.4m2.1 1h1.4m-5.4 -1h1.4m-26.4 33.5h1.4m10.1 8h1.4m-11.4 -28h1.4m21.6 13.5h1.4m-26.4 12h1.4m0.1 -4h1.4m22.6 -5.5h1.4m-0.9 -6.5h1.4m-25.4 -4.5h1.4m27.1 -16h1.4m-5.9 22.5h1.4m-2.4 0h1.4m-23.9 3.5h1.4m-3.4 -1h1.4m0.1 -13.5h1.4m24.6 -9h1.4m-29.4 15h1.4m24.6 6h1.4m-29.4 -6h1.4m26.6 7.5h1.4m-2.4 7h1.4m-1.4 -10.5h1.4m1.1 -14.5h1.4m-25.9 -9.5h1.4m-1.9 2.5h1.4m17.1 38.5h1.4m3.1 -28h1.4m-23.9 -0.5h1.4m-2.4 26h1.4m-0.4 -33h1.4m25.6 -4h1.4m-9.4 -3.5h1.4m-20.9 39h1.4m-2.4 -30h1.4m-2.4 21h1.4m1.1 -19h1.4m-3.9 18h1.4m24.6 9h1.4m-1.9 -1.5h1.4m-29.9 -20.5h1.4m26.6 8h1.4m-27.9 -20h1.4m1.1 19.5h1.4m-0.4 3.5h1.4m22.6 10h1.4m-25.4 0.5h1.4m19.6 -37h1.4m-23.9 1.5h1.4m0.6 3h1.4m-2.4 13h1.4m-1.4 4.5h1.4m12.6 20.5h1.4m-14.9 -9.5h1.4m23.1 -18.5h1.4m-26.4 -10.5h1.4m21.6 3.5h1.4m-23.4 2.5h1.4m23.1 21.5h1.4m-1.4 11h1.4m-28.4 -18.5h1.4m27.1 8.5h1.4m-28.9 7.5h1.4m8.1 3.5h1.4m-0.9 -43.5h1.4m-10.9 17.5h1.4m25.1 4h1.4m-4.9 -16.5h1.4m-1.4 16.5h1.4m0.1 19.5h1.4m-1.9 -5.5h1.4m-24.4 -26h1.4m-1.9 -4h1.4m-2.9 26h1.4m-2.4 -30.5h1.4m0.1 20.5h1.4m0.1 5.5h1.4m-2.9 -7h1.4m-0.9 11h1.4m-2.9 -16h1.4m23.6 -15.5h1.4m2.1 13.5h1.4m-27.9 3.5h1.4m-1.9 26h1.4m-3.9 -1h1.4m24.1 -35.5h1.4m-25.4 1h1.4m27.6 24.5h1.4m-3.4 7.5h1.4m-2.9 -15h1.4m-25.9 3h1.4m-0.9 -17h1.4m22.1 31.5h1.4m-26.4 -6.5h1.4m0.1 -12.5h1.4m18.1 -23h1.4m2.6 6.5h1.4m-0.4 4.5h1.4m-27.9 -7h1.4m26.1 38.5h1.4m-26.4 -2h1.4m23.6 -2.5h1.4m-3.4 -18h1.4m-25.4 -13.5h1.4m-0.9 26h1.4m22.6 -31.5h1.4m-2.4 11.5h1.4m-0.9 13h1.4m-25.9 -11h1.4m24.1 -9h1.4m-19.9 -5.5h1.4m20.1 3.5h1.4m-3.4 7h1.4m-3.4 16.5h1.4m-0.9 -8h1.4m-0.9 -7h1.4m-25.9 5.5h1.4m4.1 -17h1.4m-6.9 17.5h1.4m-2.9 11.5h1.4m58.1 2h1.4m-3.9 -23h1.4m-19.4 24.5h1.4m-10.9 -7.5h1.4m14.6 10h1.4m2.1 -7h1.4m-21.9 -8.5h1.4m29.1 8h1.4m14.1 -12.5h1.4m-43.9 19.5h1.4m41.1 -30h1.4m-36.4 -0.5h1.4m-7.4 25h1.4m-4.9 -22h1.4m1.1 5.5h1.4m38.1 13h1.4m-42.9 -8.5h1.4m-5.4 1.5h1.4m2.1 3.5h1.4m0.6 9.5h1.4m5.1 3.5h1.4m-5.9 -29h1.4m32.1 27.5h1.4m-34.9 -8.5h1.4m0.6 -19h1.4m3.6 9.5h1.4m-13.4 11.5h1.4m-2.9 -10h1.4m0.6 1.5h1.4m25.6 12h1.4m-0.4 -9h1.4m-23.4 16h1.4m10.1 2h1.4m-8.4 -23.5h1.4m16.6 8h1.4m59.1 8h1.4m-51.4 -20h1.4m-33.9 -7h1.4m-3.9 1.5h1.4m21.1 -1.5h1.4m39.6 31.5h1.4m-47.4 -20.5h1.4m-16.9 6.5h1.4m9.6 -4h1.4m4.1 -10h1.4m-8.9 11.5h1.4m2.1 -3h1.4m-17.9 17h1.4m-3.4 -18.5h1.4m13.6 -0.5h1.4m-4.4 12.5h1.4m26.6 -0.5h1.4m-31.9 -17h1.4m7.1 2h1.4m4.6 3.5h1.4m-20.9 14h1.4m76.6 3h1.4m-57.9 4h1.4m-18.9 -33.5h1.4m-4.9 -0.5h1.4m-9.9 29.5h1.4m6.6 -11h1.4m1.1 10h1.4m21.1 -22h1.4m-7.9 7.5h1.4m-9.9 17.5h1.4m3.1 -10h1.4m-15.9 -5h1.4m2.6 -8h1.4m17.1 20h1.4m-30.9 0h1.4m23.1 -10.5h1.4m32.1 -1h1.4m-50.9 -11.5h1.4m28.6 -6h1.4m3.6 20.5h1.4m-26.9 -5h1.4m10.1 -4h1.4m-27.4 6h1.4m17.6 -0.5h1.4m-24.4 -0.5h1.4m4.1 19.5h1.4m-4.4 -1.5h1.4m6.6 -23.5h1.4m11.1 11.5h1.4m-6.4 1.5h1.4m-15.9 -10h1.4m54.6 -13.5h1.4m-47.9 28h1.4m-1.4 -22h1.4m30.1 -7h1.4m-0.4 18h1.4m-8.9 0h1.4m-17.9 16h1.4m-7.9 -16h1.4m48.1 3h1.4m-52.9 1h1.4m19.1 8.5h1.4m-14.4 2.5h1.4m-5.9 -33h1.4m23.1 23h1.4m-38.9 10.5h1.4m87.6 -29h1.4m-85.4 1.5h1.4m8.1 -3h1.4m-1.4 14h1.4m-16.4 3.5h1.4m-1.9 -11.5h1.4m7.6 -6.5h1.4m-12.9 25.5h1.4m15.6 -9h1.4m-15.9 16.5h1.4m13.1 -22.5h1.4m49.1 -4.5h1.4m-63.9 -6h1.4m-1.4 18.5h1.4m-1.9 -14.5h1.4m1.6 11.5h1.4m15.6 -8h1.4m14.1 19h1.4m-35.4 -4h1.4m-1.4 7h1.4m2.6 1h1.4m-3.4 -33h1.4m-4.9 26h1.4m-4.9 -16.5h1.4m12.1 21.5h1.4m-8.4 6h1.4m-5.9 -15h1.4m20.6 5.5h1.4m-14.9 -1.5h1.4m-2.4 10h1.4m25.1 -31.5h1.4m0.6 9h1.4m-0.4 24h1.4m-30.9 -26h1.4m15.6 -4.5h1.4m-17.4 9h1.4m39.1 4.5h1.4m-34.9 -17h1.4m-2.4 -1.5h1.4m-8.9 17.5h1.4m2.1 9.5h1.4m18.6 1h1.4m-9.9 -16.5h1.4m26.6 19h1.4m-48.4 -19.5h1.4m18.6 7h1.4m-12.9 0h1.4m-1.9 -18.5h1.4m-12.4 0.5h1.4m1.6 10.5h1.4m0.1 1h1.4m-5.4 -13.5h1.4m12.1 31h1.4m-1.4 -25h1.4m-6.4 23.5h1.4m-10.4 2.5h1.4m4.6 -8h1.4m10.6 -6h1.4m-16.9 0.5h1.4m6.6 11.5h1.4m-0.9 3.5h1.4m6.6 4.5h1.4m-2.4 -22h1.4m27.6 -15.5h1.4m-44.4 18h1.4m9.6 13.5h1.4m-14.9 3.5h1.4m12.6 -13.5h1.4m-11.9 -1.5h1.4m5.6 -10h1.4m0.6 -1h1.4m6.1 22.5h1.4m-2.4 -5.5h1.4m-20.9 4h1.4m4.6 -25.5h1.4m-10.9 2h1.4m42.1 11.5h1.4m-43.4 19h1.4m0.6 -23.5h1.4m-4.4 20h1.4m6.6 -22h1.4m13.6 4h1.4m-6.4 17h1.4m-13.9 0.5h1.4m1.6 -19.5h1.4m54.6 7.5h1.4m-56.9 8h1.4m-5.9 -6h1.4m-4.9 4h1.4m4.1 -7h1.4m-8.9 -2h1.4m39.1 -6.5h1.4m1.6 16h1.4m-33.4 -2.5h1.4m-2.9 -4h1.4m24.6 -19h1.4m-36.9 24.5h1.4m2.1 -23h1.4m-0.4 13h1.4m61.6 -17h1.4m-44.4 5h1.4m-19.9 -3.5h1.4m20.1 29.5h1.4m21.6 -26.5h1.4m-21.9 24h1.4m34.6 -15h1.4m-64.4 2h1.4m5.6 17h1.4m1.6 -16.5h1.4m24.1 21.5h1.4m-3.4 -2h1.4m-30.9 0h1.4m21.1 -32.5h1.4m-26.9 5h1.4m14.6 -1h1.4m-11.9 19.5h1.4m16.1 -20.5h1.4m13.6 23h1.4m-25.9 -27h1.4m-18.9 10h1.4m21.1 -9.5h1.4m-5.9 4.5h1.4m1.6 9h1.4m-6.4 -7h1.4m-4.9 23h1.4m-9.4 -8h1.4m26.1 1.5h1.4m-22.9 6h1.4m8.1 -1h1.4m23.6 -30h1.4m-45.4 18.5h1.4m87.1 -7h1.4m-60.4 20.5h1.4m-30.9 -27.5h1.4m2.1 5.5h1.4m-0.4 8h1.4m24.1 10.5h1.4m-21.9 3h1.4m4.6 -11h1.4m4.6 6.5h1.4m-23.9 -18.5h1.4m7.1 20h1.4m53.6 0.5h1.4m-52.9 0h1.4m69.6 -19.5h1.4m-83.9 0h1.4m13.1 -1.5h1.4m6.1 18.5h1.4m-20.4 -4h1.4m16.6 9h1.4m8.6 -24.5h1.4m-28.4 4.5h1.4m61.1 15h1.4m-44.4 -11.5h1.4m5.1 -10.5h1.4m46.1 3.5h1.4m-74.9 0.5h1.4m-2.9 3.5h1.4m37.6 -7h1.4m-21.4 2.5h1.4m-14.9 26h1.4m-10.4 -1.5h1.4m34.6 -0.5h1.4m-17.4 2.5h1.4m-17.4 -24.5h1.4m1.1 -7h1.4m-2.4 25.5h1.4m-0.4 -23h1.4m10.6 14h1.4m32.6 -16h1.4m-45.4 9.5h1.4m6.6 -5h1.4m30.1 23.5h1.4m-21.9 -30h1.4m-8.4 18h1.4m50.6 -0.5h1.4m-48.4 -17h1.4m-4.4 17.5h1.4m-12.9 -15.5h1.4m12.6 0.5h1.4m-22.9 15h1.4m41.6 12.5h1.4m-47.4 -14h1.4m18.1 17.5h1.4m18.1 -1.5h1.4m-35.9 -30.5h1.4m4.1 -1h1.4m-10.4 16h1.4m3.1 6h1.4m-1.9 5.5h1.4m7.6 -27h1.4m38.6 9.5h1.4m-55.4 19h1.4m6.1 -20.5h1.4m24.1 8.5h1.4m-7.4 -8h1.4m-13.9 13h1.4m-0.9 7.5h1.4m-12.9 2.5h1.4m0.6 -29.5h1.4m-3.9 9h1.4m-3.9 2.5h1.4m18.1 6.5h1.4m25.1 9.5h1.4m-45.4 -26h1.4m15.6 13.5h1.4m0.1 7h1.4m35.6 8.5h1.4m-46.9 -13h1.4m5.6 -13.5h1.4m-19.4 23h1.4m15.1 -29.5h1.4m27.6 3.5h1.4m-44.9 30h1.4m-0.9 -4h1.4m41.6 -19h1.4m25.6 -12h1.4m-75.4 13.5h1.4m38.1 22.5h1.4m-38.4 -24h1.4m23.1 0.5h1.4m-22.9 -12.5h1.4m11.1 5.5h1.4m-19.4 7h1.4m19.1 6h1.4m-7.4 8h1.4m2.1 -18.5h1.4m-17.4 7h1.4m-2.4 20.5h1.4m-2.9 -30.5h1.4m8.6 28h1.4m18.6 -17.5h1.4m-18.9 17h1.4m5.1 -4h1.4m36.6 7h1.4m27.6 -24h1.4m-82.9 -4.5h1.4m-0.4 -3h1.4m23.1 32h1.4m-21.9 -31h1.4m-3.9 -4.5h1.4m2.6 12.5h1.4m42.6 13h1.4m-52.4 -10h1.4m0.6 -0.5h1.4m3.6 -6.5h1.4m40.1 -4.5h1.4m-25.9 14.5h1.4m-24.9 10h1.4m17.1 -24h1.4m-16.4 26h1.4m24.6 -4.5h1.4m-30.4 -23.5h1.4m2.6 10.5h1.4m-0.4 -13h1.4m57.6 31.5h1.4m-63.9 -24.5h1.4m-0.9 24.5h1.4m9.1 -8h1.4m-10.9 6.5h1.4m-6.9 -30.5h1.4m0.6 9h1.4m21.6 1.5h1.4m59.6 23h1.4m-83.9 -5h1.4m38.6 3h1.4m-31.9 -30h1.4m-1.9 1.5h1.4m-9.4 29.5h1.4m-1.9 -32h1.4m41.6 4h1.4m-24.9 25.5h1.4m-9.4 -22.5h1.4m-16.4 0.5h1.4m18.1 0.5h1.4m69.1 27.5h1.4m-86.4 1h1.4m-7.9 -36h1.4m23.6 5.5h1.4m62.1 -4h1.4m-47.4 21h1.4m-4.9 -13h1.4m-39.4 25h1.4m-0.9 -4.5h1.4m55.1 -32h1.4m-33.9 38h1.4m0.6 -24.5h1.4m-19.9 -13h1.4m55.1 27.5h1.4m-61.9 7h1.4m-6.4 0h1.4m64.6 -15.5h1.4m-52.9 -16h1.4m29.1 31h1.4m-33.9 -32.5h1.4m0.6 1h1.4m-10.9 24.5h1.4m-3.9 -22.5h1.4m49.1 12h1.4m-7.4 5.5h1.4m22.1 -12.5h1.4m-62.9 0.5h1.4m41.6 8h1.4m4.1 -18.5h1.4m-20.4 11h1.4m-11.9 2.5h1.4m-3.4 0h1.4m-22.4 -8h1.4m102.1 17h1.4m34.1 6h1.4m-29.9 -8h1.4m10.6 -6.5h1.4m-3.9 14h1.4m-11.4 -2h1.4m0.6 2.5h1.4m0.1 2h1.4m-6.9 -3.5h1.4m4.6 -9h1.4m-13.9 14.5h1.4m-15.9 -28h1.4m33.6 27h1.4m0.6 5h1.4m-4.9 -5.5h1.4m-7.4 -2h1.4m19.1 -1h1.4m-33.9 -13.5h1.4m19.6 -0.5h1.4m-18.9 4.5h1.4m32.1 3.5h1.4m-32.4 8.5h1.4m6.1 -22h1.4m-9.9 -3.5h1.4m4.6 23.5h1.4m-4.4 9h1.4m-28.4 -2.5h1.4m23.1 -10.5h1.4m-4.4 -1.5h1.4m10.1 -10h1.4m-13.4 2.5h1.4m-6.4 10.5h1.4m8.6 2h1.4m-0.4 -3h1.4m27.1 6.5h1.4m-39.4 -14h1.4m14.6 12.5h1.4m-13.9 -16.5h1.4m4.1 21h1.4m5.6 -14.5h1.4m-7.4 -2h1.4m7.6 -6h1.4m-12.4 16h1.4m-2.4 1.5h1.4m13.6 7.5h1.4m-12.4 -21.5h1.4m-16.4 7.5h1.4m-6.9 9h1.4m8.6 -16h1.4m2.6 9.5h1.4m-0.9 0h1.4m0.1 2h1.4m19.6 -10h1.4m-17.4 -6.5h1.4m-2.9 25h1.4m11.1 2.5h1.4m-9.4 -22.5h1.4m8.1 24.5h1.4m-13.4 -22.5h1.4m-16.9 8h1.4m30.1 -11h1.4m-22.4 4h1.4m13.1 2.5h1.4m5.1 -4h1.4m-18.9 6.5h1.4m-2.9 1h1.4m1.6 4.5h1.4m-3.4 -5.5h1.4m-5.4 7h1.4m12.1 -20h1.4m0.6 23.5h1.4m-23.9 -13h1.4m20.6 6h1.4m-12.4 9h1.4m-0.9 -8.5h1.4m19.1 -6.5h1.4m-10.9 -4.5h1.4m-15.4 9h1.4m-0.9 -3.5h1.4m0.6 -3.5h1.4m7.6 18h1.4m-13.4 -28h1.4m-2.9 10.5h1.4m13.6 8h1.4m-24.4 -1.5h1.4m-3.9 2.5h1.4m32.1 -13h1.4m-11.9 5h1.4m-14.4 5h1.4m10.6 -5h1.4m-13.4 0h1.4m12.1 20h1.4m2.6 -33.5h1.4m-9.9 0.5h1.4m10.6 21.5h1.4m-2.9 3.5h1.4m-10.9 -9h1.4m12.6 -0.5h1.4m-9.9 -4h1.4m-16.4 10.5h1.4m3.1 -8.5h1.4m8.1 -14.5h1.4m-23.4 16.5h1.4m30.1 8h1.4m-11.4 -11h1.4m-2.4 2h1.4m-24.4 -6h1.4m39.6 9h1.4m-24.4 6.5h1.4m9.1 -6h1.4m-12.4 -7.5h1.4m25.1 14h1.4m-24.4 -5.5h1.4m-12.9 8.5h1.4m37.1 -14.5h1.4m-28.4 19.5h1.4m-4.4 -24h1.4m-22.9 14h1.4m18.1 2h1.4m-9.4 0.5h1.4m8.6 -19.5h1.4m4.6 13h1.4m-20.9 3h1.4m5.6 -11.5h1.4m-2.4 1.5h1.4m7.6 2h1.4m-11.9 -0.5h1.4m9.6 6.5h1.4m-10.9 -3h1.4m-3.9 -14.5h1.4m7.6 26h1.4m-0.9 -11h1.4m-14.9 -5h1.4m22.6 -1.5h1.4m-16.9 0.5h1.4m27.6 17.5h1.4m-11.9 3h1.4m-6.9 -12h1.4m-2.4 4h1.4m7.1 -18h1.4m-39.4 18h1.4m18.6 -3.5h1.4m7.6 -22h1.4m-7.9 13.5h1.4m-10.9 -0.5h1.4m42.1 6h1.4m-47.4 7h1.4m17.6 4h1.4m-11.4 -5h1.4m-8.9 1h1.4m4.6 -5h1.4m-3.4 -6.5h1.4m5.6 2h1.4m-14.4 16.5h1.4m12.1 -21h1.4m-20.9 7.5h1.4m23.6 -14.5h1.4m-13.4 15.5h1.4m-2.9 -5.5h1.4m15.6 -9h1.4" fill="none" stroke="#ff0000" stroke-width="1.4"/>
<rect x="920" y="750.5" width="310.5" height="310.5" fill="none" stroke="#000" stroke-width="1.5"/>
<text x="1065" y="742.8"  text-anchor="middle" style="font-size:16.3px">Non-Diabetic Wound : CD45+</text>
<path d="M920 1048.3h-8M920 964.7h-8M920 881.1h-8M920 797.5h-8M920 1031.6h-5M920 1014.9h-5M920 998.1h-5M920 981.4h-5M920 948h-5M920 931.3h-5M920 914.5h-5M920 897.8h-5M920 864.4h-5M920 847.7h-5M920 830.9h-5M920 814.2h-5M920 780.8h-5M920 764.1h-5" stroke="#000" stroke-width="1.3"/>
<text x="0" y="0" transform="translate(906 1048.3) rotate(-90)" text-anchor="middle" style="font-size:15px">0</text>
<text x="0" y="0" transform="translate(906 964.7) rotate(-90)" text-anchor="middle" style="font-size:15px">50</text>
<text x="0" y="0" transform="translate(906 881.1) rotate(-90)" text-anchor="middle" style="font-size:15px">100</text>
<text x="0" y="0" transform="translate(906 797.5) rotate(-90)" text-anchor="middle" style="font-size:15px">150</text>
<text x="0" y="0" transform="translate(884.1 905.8) rotate(-90)" text-anchor="middle" style="font-size:15.7px">SSC-A</text>
<text x="0" y="0" transform="translate(884.1 775) rotate(-90)" text-anchor="middle" style="font-size:15.5px">( x 10<tspan dy="-6.5" style="font-size:10.5px">4</tspan><tspan dy="6.5"> )</tspan></text>
<path d="M920 1061v8M1033.4 1061v8M1132.5 1061v8M1229.4 1061v8M1230.5 1061v8M922.7 1061v5M934.3 1061v5M945.9 1061v5M969.7 1061v5M980.7 1061v5M990.2 1061v5M999.7 1061v5M1007 1061v5M1013.4 1061v5M1018.6 1061v5M1022.9 1061v5M1026.6 1061v5M1030.2 1061v5M1063.2 1061v5M1080.7 1061v5M1093.1 1061v5M1102.7 1061v5M1110.5 1061v5M1117.1 1061v5M1122.9 1061v5M1128 1061v5M1161.7 1061v5M1178.7 1061v5M1190.8 1061v5M1200.2 1061v5M1207.9 1061v5M1214.4 1061v5M1220 1061v5M1225 1061v5" stroke="#000" stroke-width="1.3"/>
<path d="M957.5 1061v8" stroke="#888" stroke-width="1.3"/>
<text x="957.5" y="1088.5"  text-anchor="middle" style="font-size:15px">0</text>
<text x="1035.4" y="1088.5"  text-anchor="middle" style="font-size:15px">10<tspan dy="-6.3" style="font-size:10.2px">4</tspan></text>
<text x="1134.5" y="1088.5"  text-anchor="middle" style="font-size:15px">10<tspan dy="-6.3" style="font-size:10.2px">5</tspan></text>
<text x="1231.4" y="1088.5"  text-anchor="middle" style="font-size:15px">10<tspan dy="-6.3" style="font-size:10.2px">6</tspan></text>
<text x="1074.5" y="1107.5"  text-anchor="middle" style="font-size:15.9px">CD11b FITC-A</text>
<rect x="1070.3" y="973.5" width="145.4" height="72.7" fill="none" stroke="#ff1a1a" stroke-width="1.4"/>
<text x="1064" y="962.3"  style="font-size:16px;fill:#ff0000">CD45+CD11b+(4.64%)</text>
<path d="M966 1019h1.4m-5.4 -7.5h1.4m-5.9 14h1.4m8.6 -5h1.4m-2.9 -4.5h1.4m-11.9 -5h1.4m3.1 -0.5h1.4m-6.4 0.5h1.4m-2.4 9.5h1.4m17.1 -10h1.4m-13.9 10.5h1.4m4.6 8.5h1.4m-3.4 -22h1.4m-2.9 4.5h1.4m-8.4 10.5h1.4m-0.9 -5h1.4m7.1 -7h1.4m3.1 4.5h1.4m-19.4 0.5h1.4m4.1 4.5h1.4m3.1 -9.5h1.4m6.1 3.5h1.4m-4.9 0.5h1.4m0.6 3h1.4m-4.9 -3.5h1.4m-8.4 -7.5h1.4m3.1 1h1.4m7.1 15.5h1.4m-7.9 -10.5h1.4m-9.9 3.5h1.4m14.6 -0.5h1.4m-7.4 2.5h1.4m0.6 6h1.4m6.1 -8h1.4m-16.9 4.5h1.4m-1.9 -2h1.4m-12.4 -1.5h1.4m14.6 -8h1.4m1.1 4h1.4m-4.9 8h1.4m-1.4 -7.5h1.4m4.1 0h1.4m-4.4 0.5h1.4m-1.4 -5.5h1.4m-4.4 2h1.4m-1.4 6.5h1.4m5.1 -6.5h1.4m-7.9 -2.5h1.4m-3.4 12h1.4m-2.4 0.5h1.4m1.6 -5.5h1.4m0.1 -5.5h1.4m0.6 12h1.4m-3.4 -3.5h1.4m-4.4 -12h1.4m-9.4 4h1.4m12.1 -3h1.4m-10.9 -4h1.4m3.6 20h1.4m6.6 1h1.4m-6.9 -21.5h1.4m-7.9 16h1.4m7.6 -4h1.4m-6.9 2.5h1.4m-2.9 3h1.4m9.1 0h1.4m-4.9 -5h1.4m13.6 -3.5h1.4m-26.9 7.5h1.4m5.1 6.5h1.4m1.1 -18h1.4m4.1 3h1.4m-10.9 3.5h1.4m9.6 -4h1.4m-9.9 2.5h1.4m-6.9 8h1.4m2.1 -3h1.4m-0.4 -3.5h1.4m-1.9 1h1.4m-4.4 -4.5h1.4m1.1 9h1.4m5.6 -7.5h1.4m-1.9 -3.5h1.4m4.6 3h1.4m-17.9 3.5h1.4m-2.4 9h1.4m17.6 -9.5h1.4m-11.9 -2h1.4m-1.4 15h1.4m-8.9 -13h1.4m6.1 8.5h1.4m-3.4 -5h1.4m-1.4 1h1.4m5.6 -11h1.4m-13.4 9h1.4m4.1 -5h1.4m-12.9 -4h1.4m12.1 9h1.4m-10.9 -3.5h1.4m16.1 2h1.4m-20.4 5h1.4m16.6 -19h1.4m-16.4 15h1.4m-5.9 -11.5h1.4m9.6 -0.5h1.4m-1.4 10h1.4m-8.4 -3h1.4m-3.4 -11h1.4m-8.4 13h1.4m11.1 2h1.4m2.6 6h1.4m-15.4 -1h1.4m11.6 -6.5h1.4m7.1 -9h1.4m-21.4 8h1.4m12.6 4h1.4m-1.4 1.5h1.4m-8.4 1.5h1.4m4.1 -4.5h1.4m-9.9 1.5h1.4m7.6 -5.5h1.4m5.6 1h1.4m-12.9 5.5h1.4m-2.9 2h1.4m-9.9 -12.5h1.4m21.6 4.5h1.4m-1.4 1.5h1.4m-15.4 5h1.4m2.1 -3.5h1.4m-2.4 14.5h1.4m7.1 -13.5h1.4m-18.9 -5h1.4m12.1 3h1.4m-18.9 -2h1.4m16.1 2.5h1.4m-9.9 2.5h1.4m11.1 7h1.4m-5.9 -0.5h1.4m-8.4 -5h1.4m-2.4 -9.5h1.4m-3.9 9h1.4m15.6 -7.5h1.4m-4.9 4h1.4m-11.4 3.5h1.4m-5.9 -3h1.4m9.6 12.5h1.4m-4.4 -12h1.4m-4.4 -2.5h1.4m2.1 0.5h1.4m2.1 7h1.4m-5.4 -15h1.4m2.1 6.5h1.4m-4.9 -3.5h1.4m0.1 4.5h1.4m-5.9 -8.5h1.4m6.6 8.5h1.4m-5.4 7h1.4m-4.4 -10h1.4m1.6 11h1.4m-3.9 -10.5h1.4m-0.9 3h1.4m2.6 -6h1.4m0.6 10.5h1.4m-16.4 -0.5h1.4m7.6 -2h1.4m0.1 4.5h1.4m-8.4 -8h1.4m7.6 13.5h1.4m-5.4 -10h1.4m-2.9 -5.5h1.4m-8.9 3h1.4m0.6 1.5h1.4m7.6 -7h1.4m9.1 1h1.4m-14.9 16h1.4m-11.4 -6.5h1.4m18.6 2.5h1.4m-7.9 8.5h1.4m4.6 -10h1.4m-12.4 -8.5h1.4m7.6 9.5h1.4m-4.4 -9h1.4m-10.9 11h1.4m4.1 -3h1.4m1.1 3h1.4m-7.4 -11.5h1.4m11.1 -5.5h1.4m-10.9 12.5h1.4m6.6 2.5h1.4m-8.4 -4h1.4m4.1 -3h1.4m-1.9 0h1.4m-16.4 0h1.4m8.6 6h1.4m4.6 -12h1.4m-7.9 6.5h1.4m9.6 5.5h1.4m-2.4 -4h1.4m-13.9 -2.5h1.4m4.1 0h1.4m26.6 -3.5h1.4m3.6 -3.5h1.4m-37.4 -14.5h1.4m57.1 -4h1.4m-29.9 23.5h1.4m-7.9 -12.5h1.4m-18.4 5h1.4m4.1 -5h1.4m22.6 -5.5h1.4m-6.9 26h1.4m-37.9 13.5h1.4m13.6 -13h1.4m10.1 -26h1.4m-14.4 8h1.4m43.6 7.5h1.4m-12.9 -14.5h1.4m-26.4 9.5h1.4m-18.9 5h1.4m25.1 15h1.4m-9.4 -34h1.4m-2.9 17h1.4m-12.4 -12.5h1.4m27.6 -11h1.4m-12.9 29h1.4m17.6 -25.5h1.4m-6.4 15.5h1.4m-21.4 11h1.4m7.6 -6h1.4m-13.9 -4.5h1.4m10.6 13.5h1.4m-18.4 -15h1.4m24.6 -2h1.4m-45.4 19.5h1.4m37.6 -11.5h1.4m-7.4 -9h1.4m10.6 -4h1.4m-27.9 6.5h1.4m16.1 16h1.4m6.1 -16h1.4m-12.9 6.5h1.4m2.6 13h1.4m-4.4 0h1.4m-7.4 -28h1.4m-2.4 26h1.4m-16.9 -37.5h1.4m25.6 31h1.4m-4.9 -19.5h1.4m23.1 6.5h1.4m-38.9 2h1.4m36.1 -1.5h1.4m-8.4 6.5h1.4m-54.4 -4.5h1.4m33.1 22.5h1.4m20.6 -20.5h1.4m-22.9 -7.5h1.4m10.6 12h1.4m2.6 -9h1.4m-28.4 7h1.4m17.1 -4.5h1.4m-9.9 5h1.4m20.1 3h1.4m-59.4 5.5h1.4m31.1 4.5h1.4m-13.4 -6h1.4m13.6 -8.5h1.4m7.6 -4.5h1.4m-3.9 -5h1.4m-6.4 25h1.4m13.6 -18.5h1.4m-27.4 0.5h1.4m24.6 5.5h1.4m-13.9 6h1.4m-21.9 7.5h1.4m21.6 -10h1.4m0.6 -17.5h1.4m-5.4 17.5h1.4m-21.9 -7.5h1.4m17.1 -3.5h1.4m31.1 16h1.4m-3.4 -12h1.4m-45.9 1.5h1.4m10.1 8h1.4m-6.9 -3h1.4m-15.9 1h1.4m-1.9 -3h1.4m19.6 -8.5h1.4m20.1 0.5h1.4m-6.4 4h1.4m3.6 1.5h1.4m9.6 9h1.4m-42.4 -22.5h1.4m5.6 14.5h1.4m-22.9 -25.5h1.4m18.1 36.5h1.4m9.6 -4.5h1.4m10.6 -14h1.4m-37.4 1.5h1.4m6.1 3.5h1.4m5.6 -7.5h1.4m-1.9 10.5h1.4m-22.9 6.5h1.4m32.6 -19.5h1.4m-15.9 11.5h1.4m-1.9 -9.5h1.4m-5.9 23h1.4m6.6 -29.5h1.4m-8.4 10.5h1.4m6.1 7.5h1.4m20.1 -1.5h1.4m-21.9 -7h1.4m65.6 9h1.4m-21.9 -5.5h1.4m24.6 5h1.4m-49.9 -8h1.4m18.1 6.5h1.4m40.1 -0.5h1.4m7.1 -8h1.4m0.1 10h1.4m-62.9 -9h1.4m93.1 0h1.4m-68.4 -4h1.4m53.1 13.5h1.4m-43.4 -6.5h1.4m-44.9 -11.5h1.4m101.1 30h1.4m42.6 -29h1.4m-9.9 9.5h1.4m1.1 17h1.4m-27.4 -15.5h1.4m23.6 -2h1.4m-2.4 21.5h1.4m26.6 -3h1.4m-33.4 -11h1.4m57.6 -8h1.4m-64.9 12.5h1.4m27.1 -13h1.4" fill="none" stroke="#ff0000" stroke-width="1.4"/>
<rect x="920" y="1150.5" width="310.5" height="310.5" fill="none" stroke="#000" stroke-width="1.5"/>
<text x="1065" y="1142.8"  text-anchor="middle" style="font-size:16.3px">Diabetic Wound : CD45+</text>
<path d="M920 1448.3h-8M920 1364.7h-8M920 1281.1h-8M920 1197.5h-8M920 1431.6h-5M920 1414.9h-5M920 1398.1h-5M920 1381.4h-5M920 1348h-5M920 1331.3h-5M920 1314.5h-5M920 1297.8h-5M920 1264.4h-5M920 1247.7h-5M920 1230.9h-5M920 1214.2h-5M920 1180.8h-5M920 1164.1h-5" stroke="#000" stroke-width="1.3"/>
<text x="0" y="0" transform="translate(906 1448.3) rotate(-90)" text-anchor="middle" style="font-size:15px">0</text>
<text x="0" y="0" transform="translate(906 1364.7) rotate(-90)" text-anchor="middle" style="font-size:15px">50</text>
<text x="0" y="0" transform="translate(906 1281.1) rotate(-90)" text-anchor="middle" style="font-size:15px">100</text>
<text x="0" y="0" transform="translate(906 1197.5) rotate(-90)" text-anchor="middle" style="font-size:15px">150</text>
<text x="0" y="0" transform="translate(884.1 1305.8) rotate(-90)" text-anchor="middle" style="font-size:15.7px">SSC-A</text>
<text x="0" y="0" transform="translate(884.1 1175) rotate(-90)" text-anchor="middle" style="font-size:15.5px">( x 10<tspan dy="-6.5" style="font-size:10.5px">4</tspan><tspan dy="6.5"> )</tspan></text>
<path d="M920 1461v8M1033.4 1461v8M1132.5 1461v8M1229.4 1461v8M1230.5 1461v8M922.7 1461v5M934.3 1461v5M945.9 1461v5M969.7 1461v5M980.7 1461v5M990.2 1461v5M999.7 1461v5M1007 1461v5M1013.4 1461v5M1018.6 1461v5M1022.9 1461v5M1026.6 1461v5M1030.2 1461v5M1063.2 1461v5M1080.7 1461v5M1093.1 1461v5M1102.7 1461v5M1110.5 1461v5M1117.1 1461v5M1122.9 1461v5M1128 1461v5M1161.7 1461v5M1178.7 1461v5M1190.8 1461v5M1200.2 1461v5M1207.9 1461v5M1214.4 1461v5M1220 1461v5M1225 1461v5" stroke="#000" stroke-width="1.3"/>
<path d="M957.5 1461v8" stroke="#888" stroke-width="1.3"/>
<text x="957.5" y="1488.5"  text-anchor="middle" style="font-size:15px">0</text>
<text x="1035.4" y="1488.5"  text-anchor="middle" style="font-size:15px">10<tspan dy="-6.3" style="font-size:10.2px">4</tspan></text>
<text x="1134.5" y="1488.5"  text-anchor="middle" style="font-size:15px">10<tspan dy="-6.3" style="font-size:10.2px">5</tspan></text>
<text x="1231.4" y="1488.5"  text-anchor="middle" style="font-size:15px">10<tspan dy="-6.3" style="font-size:10.2px">6</tspan></text>
<text x="1074.5" y="1507.5"  text-anchor="middle" style="font-size:15.9px">CD11b FITC-A</text>
<rect x="1070.3" y="1373.5" width="145.4" height="72.7" fill="none" stroke="#ff1a1a" stroke-width="1.4"/>
<text x="1055.5" y="1362.3"  style="font-size:16px;fill:#ff0000">CD45+CD11b+(15.08%)</text>
<path d="M970 1410.5h1.4m-13.9 -5.5h1.4m1.1 9.5h1.4m-5.4 -2h1.4m-1.9 1h1.4m-3.4 0h1.4m10.6 -6h1.4m-2.9 4.5h1.4m-13.4 -0.5h1.4m10.1 -6h1.4m1.1 12h1.4m6.1 3h1.4m-6.9 -6.5h1.4m-6.9 0h1.4m-4.9 0.5h1.4m6.6 2h1.4m2.1 -8h1.4m-3.4 6.5h1.4m-6.9 -2.5h1.4m0.6 -3.5h1.4m-12.4 5h1.4m10.1 -4.5h1.4m3.6 3h1.4m-10.4 7.5h1.4m-0.4 5.5h1.4m5.1 -13.5h1.4m-8.4 -4.5h1.4m8.6 14.5h1.4m-9.4 -13h1.4m2.6 8h1.4m-9.9 -1.5h1.4m4.1 1h1.4m5.6 -3h1.4m-19.4 -6h1.4m15.1 12h1.4m-22.4 -5.5h1.4m10.1 -4.5h1.4m3.6 7h1.4m-8.9 -6h1.4m3.6 18.5h1.4m4.6 -10.5h1.4m-7.4 -8.5h1.4m-14.9 4.5h1.4m15.6 -3h1.4m-0.4 -1.5h1.4m-6.9 0h1.4m-1.9 3.5h1.4m-0.9 3.5h1.4m-11.9 -2h1.4m6.1 -2h1.4m11.1 4.5h1.4m-4.9 4h1.4m-3.9 -9.5h1.4m-7.9 11.5h1.4m-0.9 0.5h1.4m4.1 -14.5h1.4m-4.4 6.5h1.4m-1.9 -2h1.4m-4.4 4.5h1.4m4.6 6.5h1.4m-8.9 -4h1.4m1.6 -10h1.4m5.1 8h1.4m-17.9 -2.5h1.4m12.6 10.5h1.4m-10.4 -11h1.4m-10.4 -2.5h1.4m6.6 3h1.4m-0.9 -1h1.4m11.1 -7h1.4m-0.9 3.5h1.4m6.1 -1h1.4m-17.4 -2h1.4m-0.9 -0.5h1.4m-0.4 8h1.4m9.1 -0.5h1.4m-6.9 7.5h1.4m-5.4 -13.5h1.4m-6.4 2h1.4m15.6 0.5h1.4m-23.4 13h1.4m7.1 -11.5h1.4m-0.9 9.5h1.4m3.6 -25h1.4m-13.4 11.5h1.4m14.6 19h1.4m-10.4 -17h1.4m-6.4 9h1.4m0.6 -10.5h1.4m2.1 -3h1.4m-4.4 11h1.4m7.1 -2h1.4m-12.4 0h1.4m7.1 12h1.4m8.1 -17.5h1.4m-11.4 4h1.4m2.6 8h1.4m-2.4 0.5h1.4m-17.4 -11.5h1.4m17.1 7.5h1.4m-9.9 -2.5h1.4m4.6 -8.5h1.4m0.1 12.5h1.4m-4.9 -6.5h1.4m-3.4 -0.5h1.4m-9.9 0h1.4m11.1 6h1.4m-5.9 -15.5h1.4m1.1 12h1.4m1.6 -4.5h1.4m-13.9 -4.5h1.4m11.1 4.5h1.4m1.1 2.5h1.4m-12.4 1h1.4m-9.4 -6.5h1.4m21.6 7.5h1.4m-9.9 -2.5h1.4m-2.4 -7h1.4m-4.4 8h1.4m-4.9 2h1.4m-1.9 -8h1.4m3.6 14.5h1.4m-1.9 2h1.4m-3.9 -24.5h1.4m-4.9 14h1.4m5.1 -7h1.4m-9.4 -1.5h1.4m-4.4 14h1.4m0.1 -6.5h1.4m-2.9 -1h1.4m12.1 5.5h1.4m-9.4 -5h1.4m7.6 -7h1.4m-3.9 6h1.4m6.6 10.5h1.4m-7.4 -7.5h1.4m-0.9 4h1.4m-9.4 -5h1.4m-8.9 -9h1.4m13.1 1.5h1.4m2.1 12h1.4m-10.9 -0.5h1.4m-2.4 8h1.4m-0.4 -5h1.4m-3.4 -6.5h1.4m10.1 7.5h1.4m-9.4 -20.5h1.4m4.1 8.5h1.4m-3.9 1h1.4m-8.9 -10h1.4m15.6 14h1.4m-14.4 -7h1.4m-4.9 6.5h1.4m12.1 5.5h1.4m-5.9 -11h1.4m-7.4 3h1.4m-5.4 7h1.4m-4.4 -11.5h1.4m1.6 15h1.4m7.1 -8h1.4m-9.4 -9.5h1.4m10.1 8h1.4m-9.9 9h1.4m6.1 -13h1.4m-11.4 11h1.4m4.6 -9h1.4m-1.9 -2h1.4m-2.9 6.5h1.4m-0.4 6h1.4m-4.4 -12h1.4m0.6 -5h1.4m10.6 13h1.4m-10.9 1.5h1.4m5.6 -2h1.4m-1.4 2.5h1.4m-6.4 -5.5h1.4m2.6 -3h1.4m-5.9 2h1.4m-4.4 11h1.4m-2.9 -10.5h1.4m-3.9 2.5h1.4m-2.4 2.5h1.4m15.1 2.5h1.4m-12.9 -11h1.4m-0.9 3h1.4m3.6 -3h1.4m-23.9 14.5h1.4m17.6 -10h1.4m-1.9 -2.5h1.4m-2.4 9.5h1.4m-5.4 -8.5h1.4m-0.4 4.5h1.4m7.6 7.5h1.4m0.6 -2.5h1.4m-5.9 3h1.4m-4.4 -14.5h1.4m-1.9 1h1.4m-3.4 4h1.4m-6.9 1.5h1.4m7.6 -11h1.4m17.6 0.5h1.4m25.6 3.5h1.4m-24.4 10h1.4m-14.4 -5.5h1.4m3.6 -10.5h1.4m-17.4 6.5h1.4m39.1 -14h1.4m-7.4 6.5h1.4m-41.9 12h1.4m38.6 -11h1.4m0.1 6h1.4m4.1 6.5h1.4m-47.9 -16.5h1.4m48.1 23h1.4m-3.4 -37.5h1.4m-20.4 11.5h1.4m-6.9 19.5h1.4m-10.9 -0.5h1.4m-18.9 -17.5h1.4m44.6 -10h1.4m-60.9 23.5h1.4m41.6 -3.5h1.4m12.1 -11.5h1.4m-12.4 10.5h1.4m10.6 6.5h1.4m-15.4 -20.5h1.4m-13.4 -3h1.4m1.6 18.5h1.4m-9.9 3.5h1.4m12.6 18.5h1.4m-10.9 -30h1.4m29.6 20h1.4m-37.9 -11.5h1.4m16.1 0h1.4m7.1 2h1.4m-3.4 3h1.4m11.1 -13h1.4m-42.9 5.5h1.4m4.6 0h1.4m1.6 -18.5h1.4m29.6 33h1.4m-17.9 -12.5h1.4m-5.9 -15.5h1.4m17.6 17h1.4m-8.9 -20.5h1.4m-32.9 8h1.4m23.6 6.5h1.4m3.6 10.5h1.4m19.6 0h1.4m-17.9 -8h1.4m-4.4 1h1.4m-2.9 -4.5h1.4m-22.4 13.5h1.4m-9.9 -7.5h1.4m7.6 -0.5h1.4m37.1 -4.5h1.4m-24.9 -1.5h1.4m-2.9 11.5h1.4m-42.4 -5.5h1.4m36.6 -5h1.4m-2.9 -12.5h1.4m-13.9 18h1.4m4.6 5h1.4m23.6 -20.5h1.4m-17.4 -11h1.4m-19.4 25.5h1.4m13.6 -3.5h1.4m3.1 1.5h1.4m-8.4 4.5h1.4m10.6 7.5h1.4m14.6 -22.5h1.4m-11.4 3.5h1.4m-41.4 -8.5h1.4m11.1 18.5h1.4m11.1 -6h1.4m13.6 -4h1.4m7.6 7h1.4m-13.4 -20.5h1.4m-12.9 23h1.4m22.1 1h1.4m10.1 6.5h1.4m-49.9 5.5h1.4m11.6 -10h1.4m8.6 -13.5h1.4m-2.9 2h1.4m2.1 18h1.4m10.6 -33.5h1.4m-17.4 26h1.4m-16.4 -4h1.4m29.6 -2.5h1.4m-13.9 -15h1.4m6.6 -5.5h1.4m-45.4 36h1.4m19.6 7.5h1.4m48.6 -17.5h1.4m-62.9 3.5h1.4m-7.9 -18.5h1.4m27.6 5.5h1.4m14.1 5.5h1.4m-37.9 -0.5h1.4m15.1 -5.5h1.4m6.1 -5h1.4m-4.4 -0.5h1.4m10.1 21.5h1.4m18.6 -3h1.4m-27.4 2h1.4m-7.9 0h1.4m26.6 3.5h1.4m-7.4 -19.5h1.4m-29.4 17h1.4m42.6 -4h1.4m18.1 -13h1.4m27.6 4.5h1.4m-16.4 12h1.4m-21.4 -0.5h1.4m30.6 -12h1.4m-8.9 6.5h1.4m-51.4 -4h1.4m24.6 14.5h1.4m-45.9 -4h1.4m12.1 -12h1.4m25.1 3h1.4m-15.4 -2.5h1.4m46.6 0h1.4m57.1 5.5h1.4m-13.9 -18.5h1.4m24.1 21.5h1.4m30.6 -27h1.4m-69.4 16.5h1.4m15.1 -0.5h1.4m20.1 11.5h1.4m-37.9 -0.5h1.4m86.1 -6.5h1.4m-18.9 9.5h1.4m2.1 -10h1.4m-54.9 -15h1.4m-11.4 5.5h1.4m12.1 16.5h1.4m35.1 -4h1.4m-41.9 0h1.4m53.6 4.5h1.4m-20.9 -7h1.4m20.6 -16h1.4m-35.9 24h1.4m30.6 10.5h1.4m1.6 -9h1.4m11.6 -20.5h1.4m-80.9 0.5h1.4m-16.4 -6h1.4m22.1 19h1.4m70.6 -2.5h1.4m-53.4 -11.5h1.4m46.1 14h1.4m-30.9 -11h1.4m17.6 9h1.4m11.1 5h1.4m-66.9 -22h1.4m15.1 39.5h1.4m30.6 -41h1.4" fill="none" stroke="#ff0000" stroke-width="1.4"/>
<rect x="1323.2" y="750.5" width="310.3" height="311" fill="none" stroke="#000" stroke-width="1.5"/>
<text x="1468.6" y="742.8"  text-anchor="middle" style="font-size:16.3px">Non-Diabetic Wound : CD45+</text>
<path d="M1323.2 751h-8M1323.2 850.1h-8M1323.2 947h-8M1323.2 1024h-8M1323.2 1061.5h-8M1323.2 820.3h-5M1323.2 802.8h-5M1323.2 790.4h-5M1323.2 780.8h-5M1323.2 773h-5M1323.2 766.4h-5M1323.2 760.6h-5M1323.2 755.5h-5M1323.2 917.8h-5M1323.2 900.8h-5M1323.2 888.7h-5M1323.2 879.3h-5M1323.2 871.6h-5M1323.2 865.1h-5M1323.2 859.5h-5M1323.2 854.5h-5M1323.2 1012h-5M1323.2 1000h-5M1323.2 988h-5M1323.2 976h-5M1323.2 1036.5h-5M1323.2 1049h-5" stroke="#000" stroke-width="1.3"/>
<text x="0" y="0" transform="translate(1308.6 750) rotate(-90)" text-anchor="middle" style="font-size:15px">10<tspan dy="-6.3" style="font-size:10.2px">6</tspan></text>
<text x="0" y="0" transform="translate(1308.6 849.1) rotate(-90)" text-anchor="middle" style="font-size:15px">10<tspan dy="-6.3" style="font-size:10.2px">5</tspan></text>
<text x="0" y="0" transform="translate(1308.6 946) rotate(-90)" text-anchor="middle" style="font-size:15px">10<tspan dy="-6.3" style="font-size:10.2px">4</tspan></text>
<text x="0" y="0" transform="translate(1308.6 1024) rotate(-90)" text-anchor="middle" style="font-size:15px">0</text>
<text x="0" y="0" transform="translate(1286.6 906) rotate(-90)" text-anchor="middle" style="font-size:15.9px">CD11b FITC-A</text>
<path d="M1323.2 1061.5v8M1373.8 1061.5v8M1432.8 1061.5v8M1495 1061.5v8M1558.2 1061.5v8M1621.4 1061.5v8M1633.5 1061.5v8M1325.8 1061.5v5M1328.4 1061.5v5M1331 1061.5v5M1333.6 1061.5v5M1336.2 1061.5v5M1338.8 1061.5v5M1341.4 1061.5v5M1344 1061.5v5M1346.6 1061.5v5M1349.2 1061.5v5M1351.8 1061.5v5M1354.4 1061.5v5M1357 1061.5v5M1359.6 1061.5v5M1362.2 1061.5v5M1364.8 1061.5v5M1367.4 1061.5v5M1370 1061.5v5M1391.6 1061.5v5M1402 1061.5v5M1409.3 1061.5v5M1415 1061.5v5M1419.7 1061.5v5M1423.7 1061.5v5M1427.1 1061.5v5M1430.1 1061.5v5M1451.5 1061.5v5M1462.5 1061.5v5M1470.2 1061.5v5M1476.3 1061.5v5M1481.2 1061.5v5M1485.4 1061.5v5M1489 1061.5v5M1492.2 1061.5v5M1514 1061.5v5M1525.2 1061.5v5M1533.1 1061.5v5M1539.2 1061.5v5M1544.2 1061.5v5M1548.4 1061.5v5M1552.1 1061.5v5M1555.3 1061.5v5M1577.2 1061.5v5M1588.4 1061.5v5M1596.3 1061.5v5M1602.4 1061.5v5M1607.4 1061.5v5M1611.6 1061.5v5M1615.3 1061.5v5M1618.5 1061.5v5" stroke="#000" stroke-width="1.3"/>
<text x="1346.4" y="1088.5"  text-anchor="middle" style="font-size:15px">0</text>
<text x="1375.8" y="1088.5"  text-anchor="middle" style="font-size:15px">10<tspan dy="-6.3" style="font-size:10.2px">3</tspan></text>
<text x="1434.8" y="1088.5"  text-anchor="middle" style="font-size:15px">10<tspan dy="-6.3" style="font-size:10.2px">4</tspan></text>
<text x="1497" y="1088.5"  text-anchor="middle" style="font-size:15px">10<tspan dy="-6.3" style="font-size:10.2px">5</tspan></text>
<text x="1560.2" y="1088.5"  text-anchor="middle" style="font-size:15px">10<tspan dy="-6.3" style="font-size:10.2px">6</tspan></text>
<text x="1623.4" y="1088.5"  text-anchor="middle" style="font-size:15px">10<tspan dy="-6.3" style="font-size:10.2px">7</tspan></text>
<text x="1478" y="1107.5"  text-anchor="middle" style="font-size:15.9px">CD86 APC-A</text>
<line x1="1419.5" y1="750.5" x2="1419.5" y2="1061.5" stroke="#222" stroke-width="1.1"/>
<line x1="1323.2" y1="903.3" x2="1633.5" y2="903.3" stroke="#222" stroke-width="1.1"/>
<text x="1328.5" y="771.6"  style="font-size:16px">Q4-UL(1.32%)</text>
<text x="1628.4" y="771.6"  text-anchor="end" style="font-size:16px">Q4-UR(2.32%)</text>
<text x="1328.5" y="1053"  style="font-size:16px">Q4-LL(95.70%)</text>
<text x="1628.4" y="1053"  text-anchor="end" style="font-size:16px">Q4-LR(0.66%)</text>
<rect x="1426.5" y="773.9" width="85.8" height="91.4" fill="none" stroke="#ff1a1a" stroke-width="1.4"/>
<text x="1629.2" y="892.4"  text-anchor="end" style="font-size:16px;fill:#ff0000">CD45+CD11b+CD86+(2.32%)</text>
<path d="M1381 1012h1.4m10.1 12h1.4m-27.9 -9.5h1.4m2.1 7h1.4m-6.4 -12h1.4m9.1 -9.5h1.4m-6.9 15.5h1.4m32.6 -17.5h1.4m-55.4 -0.5h1.4m39.1 12h1.4m-26.4 -25h1.4m8.1 16h1.4m32.1 2h1.4m-49.9 26h1.4m18.1 -13.5h1.4m-19.9 -8.5h1.4m33.1 -11.5h1.4m-32.9 31h1.4m28.1 -21.5h1.4m-22.4 -15h1.4m36.6 39h1.4m-69.9 -14h1.4m74.6 -4h1.4m-31.4 10h1.4m-32.9 -11h1.4m-6.9 8.5h1.4m33.6 -8h1.4m-12.9 11.5h1.4m-4.4 1h1.4m33.6 -13.5h1.4m-26.4 -11.5h1.4m-30.4 7h1.4m47.1 24.5h1.4m-18.4 -36h1.4m-1.4 18.5h1.4m-1.4 -9.5h1.4m-3.9 5h1.4m-13.4 -0.5h1.4m11.1 5h1.4m-31.9 -3h1.4m27.1 13.5h1.4m-29.4 -16h1.4m28.6 -6.5h1.4m-14.9 0h1.4m13.6 9h1.4m-13.4 -21.5h1.4m2.6 24.5h1.4m-6.4 6.5h1.4m8.1 -27.5h1.4m25.6 22h1.4m-14.4 10h1.4m6.6 -7.5h1.4m-33.9 -7h1.4m30.1 -11h1.4m-7.4 18h1.4m-22.9 -6.5h1.4m-3.9 6h1.4m10.1 -0.5h1.4m-8.4 -5h1.4m18.1 -5h1.4m-7.9 5h1.4m-14.4 -11.5h1.4m-20.9 18.5h1.4m25.6 3.5h1.4m-21.9 -13.5h1.4m19.1 -6h1.4m0.6 11h1.4m0.1 -10.5h1.4m-2.4 10h1.4m-17.4 6.5h1.4m2.6 -14.5h1.4m-25.4 -19h1.4m38.6 37.5h1.4m3.6 -9.5h1.4m-14.9 -9h1.4m-17.4 -6h1.4m19.1 9h1.4m-15.9 16.5h1.4m5.1 -25.5h1.4m27.1 14h1.4m-29.9 5.5h1.4m-12.4 -7.5h1.4m16.6 -11.5h1.4m-11.4 36.5h1.4m-16.9 -14h1.4m16.6 -10h1.4m11.6 2h1.4m-23.9 0.5h1.4m24.1 -9h1.4m-24.9 16.5h1.4m-18.9 3.5h1.4m23.6 -16h1.4m-18.9 1.5h1.4m24.6 4.5h1.4m-24.4 -10h1.4m7.1 5.5h1.4m-6.9 7h1.4m8.6 -31h1.4m4.1 20.5h1.4m-8.4 8h1.4m-20.9 -21.5h1.4m33.1 11h1.4m-5.9 43.5h1.4m-37.4 -30h1.4m43.1 1.5h1.4m-23.9 -12h1.4m7.1 12h1.4m6.1 -14h1.4m10.6 -20h1.4m-21.4 37.5h1.4m-5.4 -18.5h1.4m6.1 -0.5h1.4m4.6 15.5h1.4m-29.9 -6.5h1.4m9.1 5.5h1.4m4.6 10.5h1.4m-7.9 -8.5h1.4m5.1 -11h1.4m3.6 -6h1.4m-3.4 4h1.4m16.1 2.5h1.4m-26.9 5h1.4m13.6 -3.5h1.4m-3.4 -2h1.4m18.1 1h1.4m8.6 -2h1.4m-39.9 6.5h1.4m5.1 1.5h1.4m-8.4 1h1.4m4.6 3h1.4m-2.9 -12h1.4m-6.4 11.5h1.4m-7.9 -9h1.4m5.1 -1.5h1.4m-25.4 11.5h1.4m47.1 -6h1.4m-31.9 -23.5h1.4m-12.9 11.5h1.4m34.1 13.5h1.4m-17.4 -22h1.4m29.6 0.5h1.4m-45.4 6h1.4m20.1 25h1.4m-17.4 -26h1.4m11.1 12h1.4m-13.4 6.5h1.4m5.6 -2.5h1.4m-6.4 -9.5h1.4m1.1 -14h1.4m27.1 37h1.4m-23.4 -5h1.4m12.6 -35h1.4m-23.4 37h1.4m17.1 -8h1.4m-29.4 -7h1.4m2.6 3.5h1.4m23.6 -2.5h1.4m-16.9 12.5h1.4m-28.9 -13h1.4m24.6 0.5h1.4m-9.9 4.5h1.4m18.1 -25h1.4m-8.9 13.5h1.4m8.1 -0.5h1.4m-9.9 -4.5h1.4m-15.4 25.5h1.4m-15.4 -13h1.4m8.6 -13.5h1.4m2.1 6.5h1.4m-29.9 10h1.4m46.6 -6h1.4m-34.4 -2.5h1.4m33.6 16h1.4m-3.4 -12.5h1.4m21.6 20h1.4m-25.4 -25.5h1.4m-15.4 9.5h1.4m5.1 -4.5h1.4m14.6 2.5h1.4m9.6 6h1.4m-36.4 7h1.4m28.6 -10h1.4m3.1 -7.5h1.4m-42.9 -7.5h1.4m-10.4 -3.5h1.4m-3.4 27h1.4m22.1 -8.5h1.4m31.1 9.5h1.4m-35.4 -3h1.4m-16.4 -14.5h1.4m40.1 6h1.4m-51.4 9h1.4m11.1 -5.5h1.4m29.1 -11h1.4m-3.4 9.5h1.4m-29.4 -13h1.4m33.1 3h1.4m-23.4 18h1.4m16.1 -14.5h1.4m-1.9 -21h1.4m5.6 18.5h1.4m-4.9 1.5h1.4m-31.4 19h1.4m7.1 -28.5h1.4m5.6 19h1.4m-10.4 -5h1.4m6.6 5h1.4m1.1 -1.5h1.4m9.6 0h1.4m11.1 -10.5h1.4m-25.9 15h1.4m6.1 18h1.4m-45.9 -30h1.4m28.1 -1.5h1.4m3.6 0h1.4m-1.4 -16.5h1.4m-5.9 23.5h1.4m9.6 -16.5h1.4m-17.4 13h1.4m0.1 0h1.4m5.1 -8.5h1.4m20.6 5h1.4m-17.4 -11h1.4m-18.9 10.5h1.4m-9.4 -13h1.4m13.1 23h1.4m2.6 1.5h1.4m-13.9 -18.5h1.4m12.6 -18h1.4m15.6 17.5h1.4m-8.9 15.5h1.4m10.6 -14h1.4m-24.9 2.5h1.4m24.6 3h1.4m-9.9 16.5h1.4m-3.4 -15h1.4m-20.9 -6.5h1.4m-6.4 3h1.4m5.6 10h1.4m4.6 -8.5h1.4m-30.9 -3h1.4m2.1 5h1.4m11.1 0.5h1.4m18.6 13.5h1.4m-9.4 -4.5h1.4m19.6 -7h1.4m-35.9 7h1.4m-1.9 -5.5h1.4m22.6 4.5h1.4m-8.9 -1h1.4m21.1 -0.5h1.4m-20.4 -5h1.4m2.6 7.5h1.4m-12.4 -6.5h1.4m11.1 5h1.4m-9.4 -9h1.4m-5.4 8.5h1.4m4.1 1h1.4m-8.4 -9.5h1.4m-3.4 -11h1.4m-36.9 -9h1.4m34.1 54.5h1.4m-29.4 -13.5h1.4m18.6 -60.5h1.4m13.1 5.5h1.4m4.6 14.5h1.4m-5.4 -49h1.4m2.6 64h1.4m2.1 -18h1.4m-5.9 -6h1.4m-8.9 -9.5h1.4m-14.9 29h1.4m13.6 17h1.4m-9.4 -38h1.4m-3.9 5.5h1.4m-22.9 -49h1.4m32.1 59h1.4m10.1 -12h1.4m-30.9 33h1.4m22.1 -8h1.4m-21.4 -9h1.4m-17.9 -30.5h1.4m33.6 49.5h1.4m-11.4 -25h1.4m8.6 -26.5h1.4m-7.4 -23h1.4m-9.4 21.5h1.4m-8.9 1h1.4m-7.9 32h1.4m35.6 -8h1.4m-16.4 -4.5h1.4m14.6 25h1.4m-0.9 -41h1.4m-30.9 -17h1.4m-23.9 51h1.4m-17.4 -36h1.4m52.6 36.5h1.4m-8.4 -47h1.4m-10.9 71h1.4m-2.4 -7.5h1.4m26.1 -8.5h1.4m-43.4 -14h1.4m19.1 7.5h1.4m-19.9 -22h1.4m25.6 16h1.4m14.6 -12.5h1.4m-7.9 -4.5h1.4m-21.4 -14h1.4m13.1 36h1.4m6.6 7h1.4m-19.9 -19h1.4m38.6 20h1.4m-49.4 9h1.4m13.1 -36h1.4m-14.4 -21h1.4m-23.4 39.5h1.4m22.1 17.5h1.4m-8.9 -52h1.4m16.1 49h1.4m29.1 -238.5h1.4m81.6 34.5h1.4m-46.9 1h1.4m21.1 7.5h1.4m-36.4 11h1.4m28.1 -35h1.4m-107.4 62h1.4m-4.9 -17.5h1.4m-24.4 -7.5h1.4m19.1 28h1.4m0.1 7.5h1.4" fill="none" stroke="#ff0000" stroke-width="1.4"/>
<rect x="1323.2" y="1150.5" width="310.3" height="311" fill="none" stroke="#000" stroke-width="1.5"/>
<text x="1468.6" y="1142.8"  text-anchor="middle" style="font-size:16.3px">Diabetic Wound : CD45+</text>
<path d="M1323.2 1151h-8M1323.2 1250.1h-8M1323.2 1347h-8M1323.2 1424h-8M1323.2 1461.5h-8M1323.2 1220.3h-5M1323.2 1202.8h-5M1323.2 1190.4h-5M1323.2 1180.8h-5M1323.2 1173h-5M1323.2 1166.4h-5M1323.2 1160.6h-5M1323.2 1155.5h-5M1323.2 1317.8h-5M1323.2 1300.8h-5M1323.2 1288.7h-5M1323.2 1279.3h-5M1323.2 1271.6h-5M1323.2 1265.1h-5M1323.2 1259.5h-5M1323.2 1254.5h-5M1323.2 1412h-5M1323.2 1400h-5M1323.2 1388h-5M1323.2 1376h-5M1323.2 1436.5h-5M1323.2 1449h-5" stroke="#000" stroke-width="1.3"/>
<text x="0" y="0" transform="translate(1308.6 1150) rotate(-90)" text-anchor="middle" style="font-size:15px">10<tspan dy="-6.3" style="font-size:10.2px">6</tspan></text>
<text x="0" y="0" transform="translate(1308.6 1249.1) rotate(-90)" text-anchor="middle" style="font-size:15px">10<tspan dy="-6.3" style="font-size:10.2px">5</tspan></text>
<text x="0" y="0" transform="translate(1308.6 1346) rotate(-90)" text-anchor="middle" style="font-size:15px">10<tspan dy="-6.3" style="font-size:10.2px">4</tspan></text>
<text x="0" y="0" transform="translate(1308.6 1424) rotate(-90)" text-anchor="middle" style="font-size:15px">0</text>
<text x="0" y="0" transform="translate(1286.6 1306) rotate(-90)" text-anchor="middle" style="font-size:15.9px">CD11b FITC-A</text>
<path d="M1323.2 1461.5v8M1373.8 1461.5v8M1432.8 1461.5v8M1495 1461.5v8M1558.2 1461.5v8M1621.4 1461.5v8M1633.5 1461.5v8M1325.8 1461.5v5M1328.4 1461.5v5M1331 1461.5v5M1333.6 1461.5v5M1336.2 1461.5v5M1338.8 1461.5v5M1341.4 1461.5v5M1344 1461.5v5M1346.6 1461.5v5M1349.2 1461.5v5M1351.8 1461.5v5M1354.4 1461.5v5M1357 1461.5v5M1359.6 1461.5v5M1362.2 1461.5v5M1364.8 1461.5v5M1367.4 1461.5v5M1370 1461.5v5M1391.6 1461.5v5M1402 1461.5v5M1409.3 1461.5v5M1415 1461.5v5M1419.7 1461.5v5M1423.7 1461.5v5M1427.1 1461.5v5M1430.1 1461.5v5M1451.5 1461.5v5M1462.5 1461.5v5M1470.2 1461.5v5M1476.3 1461.5v5M1481.2 1461.5v5M1485.4 1461.5v5M1489 1461.5v5M1492.2 1461.5v5M1514 1461.5v5M1525.2 1461.5v5M1533.1 1461.5v5M1539.2 1461.5v5M1544.2 1461.5v5M1548.4 1461.5v5M1552.1 1461.5v5M1555.3 1461.5v5M1577.2 1461.5v5M1588.4 1461.5v5M1596.3 1461.5v5M1602.4 1461.5v5M1607.4 1461.5v5M1611.6 1461.5v5M1615.3 1461.5v5M1618.5 1461.5v5" stroke="#000" stroke-width="1.3"/>
<text x="1346.4" y="1488.5"  text-anchor="middle" style="font-size:15px">0</text>
<text x="1375.8" y="1488.5"  text-anchor="middle" style="font-size:15px">10<tspan dy="-6.3" style="font-size:10.2px">3</tspan></text>
<text x="1434.8" y="1488.5"  text-anchor="middle" style="font-size:15px">10<tspan dy="-6.3" style="font-size:10.2px">4</tspan></text>
<text x="1497" y="1488.5"  text-anchor="middle" style="font-size:15px">10<tspan dy="-6.3" style="font-size:10.2px">5</tspan></text>
<text x="1560.2" y="1488.5"  text-anchor="middle" style="font-size:15px">10<tspan dy="-6.3" style="font-size:10.2px">6</tspan></text>
<text x="1623.4" y="1488.5"  text-anchor="middle" style="font-size:15px">10<tspan dy="-6.3" style="font-size:10.2px">7</tspan></text>
<text x="1478" y="1507.5"  text-anchor="middle" style="font-size:15.9px">CD86 APC-A</text>
<line x1="1419.5" y1="1150.5" x2="1419.5" y2="1461.5" stroke="#222" stroke-width="1.1"/>
<line x1="1323.2" y1="1303.3" x2="1633.5" y2="1303.3" stroke="#222" stroke-width="1.1"/>
<text x="1328.5" y="1171.6"  style="font-size:16px">Q4-UL(0.79%)</text>
<text x="1628.4" y="1171.6"  text-anchor="end" style="font-size:16px">Q4-UR(13.10%)</text>
<text x="1328.5" y="1453"  style="font-size:16px">Q4-LL(83.73%)</text>
<text x="1628.4" y="1453"  text-anchor="end" style="font-size:16px">Q4-LR(2.38%)</text>
<rect x="1421.9" y="1199.6" width="98.4" height="95.9" fill="none" stroke="#ff1a1a" stroke-width="1.4"/>
<text x="1633" y="1189.6"  text-anchor="end" style="font-size:16px;fill:#ff0000">CD45+CD11b+CD86+(13.10%)</text>
<path d="M1380.5 1421.5h1.4m-30.9 -15.5h1.4m35.6 7h1.4m-1.9 -1h1.4m-13.9 -22.5h1.4m5.6 34h1.4m-5.9 -20.5h1.4m-25.4 8.5h1.4m12.1 -12h1.4m18.1 3.5h1.4m-7.9 -3h1.4m-21.9 10.5h1.4m30.6 -11h1.4m-25.9 5h1.4m-3.4 -3.5h1.4m-2.9 -5.5h1.4m5.1 1.5h1.4m45.1 14.5h1.4m-32.9 -5h1.4m20.6 4h1.4m-29.4 11h1.4m1.6 -13.5h1.4m-18.9 16h1.4m26.6 -27.5h1.4m4.6 15h1.4m-13.9 -32h1.4m-0.4 12.5h1.4m-7.4 37.5h1.4m-0.4 -25h1.4m6.1 12.5h1.4m1.6 -25.5h1.4m-31.9 11.5h1.4m5.6 15.5h1.4m2.1 -13.5h1.4m-22.9 1.5h1.4m46.1 15h1.4m-5.9 -15.5h1.4m-14.9 -8.5h1.4m-7.4 12h1.4m-8.4 -6h1.4m13.1 18h1.4m0.6 -13h1.4m-12.9 -2h1.4m0.6 13h1.4m10.1 -5.5h1.4m-19.4 -10.5h1.4m9.1 4h1.4m-20.9 -2h1.4m18.1 1.5h1.4m-13.4 -6.5h1.4m6.1 15h1.4m-2.4 -17.5h1.4m7.6 -0.5h1.4m-16.9 11h1.4m10.6 -3h1.4m7.1 -8.5h1.4m-8.9 11.5h1.4m-32.4 -5h1.4m31.1 -10h1.4m-5.4 22.5h1.4m-13.9 -18h1.4m-3.9 16.5h1.4m11.6 -1h1.4m33.1 1.5h1.4m-54.9 6h1.4m12.1 -4h1.4m5.6 -14.5h1.4m15.6 27.5h1.4m-22.9 -34h1.4m30.1 0.5h1.4m-29.4 9h1.4m-4.4 7h1.4m3.1 8.5h1.4m-0.4 -11h1.4m20.1 -2.5h1.4m-36.9 -18h1.4m9.6 11h1.4m6.6 17h1.4m-7.9 -20h1.4m0.1 8.5h1.4m16.6 -8h1.4m-28.4 -4.5h1.4m-5.9 37h1.4m-2.4 -7h1.4m24.1 -15.5h1.4m-30.9 -9.5h1.4m18.1 3h1.4m-23.9 1h1.4m30.1 14.5h1.4m-6.4 -10.5h1.4m-8.9 7.5h1.4m16.6 -7.5h1.4m2.1 18.5h1.4m-14.4 3h1.4m22.1 -23.5h1.4m-17.9 0.5h1.4m8.1 10.5h1.4m-16.9 -10h1.4m-3.4 -2h1.4m-15.4 -14h1.4m9.1 19.5h1.4m-12.4 -19h1.4m-4.9 16.5h1.4m11.1 2h1.4m-28.4 13.5h1.4m49.6 -3.5h1.4m-25.9 -7.5h1.4m-24.9 -12h1.4m7.1 19.5h1.4m7.6 -4.5h1.4m0.1 -6h1.4m9.1 3.5h1.4m-11.9 -4.5h1.4m14.1 13h1.4m-9.9 -2h1.4m-11.9 -14h1.4m-0.4 5.5h1.4m-0.4 -11h1.4m8.1 11.5h1.4m-3.9 -10h1.4m-30.4 -4.5h1.4m22.1 13.5h1.4m-14.4 5.5h1.4m44.1 -5.5h1.4m-24.9 3.5h1.4m-3.9 11.5h1.4m-25.4 -24.5h1.4m-0.9 19h1.4m29.1 4.5h1.4m-3.4 -30.5h1.4m-20.4 11h1.4m3.6 -6.5h1.4m18.6 11.5h1.4m-15.9 -6h1.4m-15.9 8h1.4m2.6 -16.5h1.4m4.6 33h1.4m1.6 -19.5h1.4m1.1 13h1.4m-15.9 -37h1.4m17.6 34.5h1.4m7.6 -22h1.4m-4.4 10.5h1.4m-20.9 7.5h1.4m12.1 -6h1.4m-17.9 -23h1.4m32.6 21.5h1.4m-24.9 2.5h1.4m2.1 -2h1.4m-14.9 -5.5h1.4m40.1 -3.5h1.4m-19.9 20.5h1.4m-13.9 0.5h1.4m-8.4 -8h1.4m23.1 14h1.4m-24.9 -22.5h1.4m-3.4 19.5h1.4m2.6 -17.5h1.4m25.1 6h1.4m-30.9 -3h1.4m-1.4 4.5h1.4m18.1 13.5h1.4m-26.4 -10.5h1.4m36.1 10h1.4m-29.4 -3h1.4m14.1 -24h1.4m-0.4 6.5h1.4m-18.9 19.5h1.4m-13.4 -14h1.4m18.6 -8h1.4m-14.4 9h1.4m10.1 -3h1.4m13.6 -6h1.4m-26.9 -10.5h1.4m25.6 14h1.4m-10.9 -5.5h1.4m-29.9 25.5h1.4m36.1 -15.5h1.4m-8.9 -6h1.4m-12.9 23.5h1.4m4.1 -3.5h1.4m28.6 -24.5h1.4m-39.4 12.5h1.4m8.1 -21.5h1.4m19.1 11h1.4m-28.9 7h1.4m-1.9 -12h1.4m5.1 5h1.4m-12.4 17h1.4m5.1 -12.5h1.4m-0.9 19h1.4m12.1 -18.5h1.4m-6.9 -3.5h1.4m-16.4 -5h1.4m6.6 9.5h1.4m14.6 -12h1.4m2.6 -2h1.4m-3.9 9h1.4m-29.4 18h1.4m-9.4 -30h1.4m31.6 4.5h1.4m-37.9 12h1.4m23.6 8h1.4m3.6 -19h1.4m-10.9 24h1.4m11.6 -12h1.4m-18.9 -6.5h1.4m9.6 2.5h1.4m4.6 3h1.4m22.1 -7h1.4m-33.4 11.5h1.4m-36.9 -10.5h1.4m36.6 5h1.4m-20.9 6.5h1.4m32.6 4h1.4m-21.9 -14h1.4m-8.9 12h1.4m-5.4 -0.5h1.4m22.1 -25h1.4m-16.4 14h1.4m6.6 -12h1.4m-5.9 19.5h1.4m1.6 0.5h1.4m7.1 6h1.4m-3.9 -10h1.4m-17.9 10h1.4m23.1 -6.5h1.4m-55.4 -4.5h1.4m13.6 3.5h1.4m18.6 0h1.4m9.1 8.5h1.4m-0.4 -20h1.4m-10.9 8h1.4m18.6 -9h1.4m-35.9 11.5h1.4m16.6 13h1.4m-9.9 -8h1.4m6.1 17h1.4m2.6 -15.5h1.4m17.1 2.5h1.4m-40.4 -14h1.4m11.1 -3.5h1.4m-10.9 -2h1.4m11.6 8.5h1.4m10.6 1h1.4m5.1 13.5h1.4m-14.4 -16.5h1.4m-4.9 -20.5h1.4m13.1 31h1.4m-11.9 -13h1.4m-26.4 -22.5h1.4m14.1 28h1.4m32.1 -4.5h1.4m-22.4 8.5h1.4m-14.4 1.5h1.4m25.6 4.5h1.4m-24.9 -3h1.4m5.6 15h1.4m10.1 -15.5h1.4m-19.9 5.5h1.4m22.1 -46h1.4m-68.4 17.5h1.4m52.6 -20h1.4m-10.9 23.5h1.4m-38.9 19h1.4m28.1 -44h1.4m-12.9 -6.5h1.4m33.1 29h1.4m-22.9 -0.5h1.4m-21.9 -10h1.4m12.1 20h1.4m-15.9 -81h1.4m34.6 72.5h1.4m-44.4 -32.5h1.4m4.1 32.5h1.4m-8.4 -29h1.4m38.6 21h1.4m-40.4 -8.5h1.4m9.6 -4h1.4m-7.9 -0.5h1.4m30.1 16h1.4m-10.9 -10.5h1.4m13.6 39h1.4m-32.9 -1h1.4m-17.9 -5h1.4m8.6 -30h1.4m21.6 -3.5h1.4m-8.9 -8h1.4m17.1 24h1.4m2.6 10h1.4m-0.4 -11.5h1.4m-11.4 -3.5h1.4m28.6 -29.5h1.4m-38.9 68h1.4m21.1 -52h1.4m-28.4 -10.5h1.4m8.1 52h1.4m12.1 -29h1.4m-33.4 66.5h1.4m1.1 -53h1.4m51.1 -17h1.4m-60.4 2h1.4m27.1 -13h1.4m-27.9 25h1.4m18.1 23h1.4m-3.9 -6h1.4m6.1 -14h1.4m4.1 -4.5h1.4m-0.4 38.5h1.4m-8.9 -89h1.4m-23.9 63.5h1.4m22.6 -33.5h1.4m6.1 6h1.4m-17.9 15h1.4m-3.9 -9.5h1.4m13.6 -30h1.4m-34.9 34.5h1.4m45.1 -13.5h1.4m-17.9 -22.5h1.4m18.6 11h1.4m57.1 -125h1.4m4.6 -20h1.4m-4.9 10h1.4m-14.9 -2h1.4m5.6 18h1.4m-11.9 0h1.4m-10.4 20.5h1.4m-1.9 -34.5h1.4m20.1 25h1.4m-11.4 31h1.4m10.1 -30.5h1.4m-4.4 -10.5h1.4m4.1 -6h1.4m3.6 -31.5h1.4m-5.4 43.5h1.4m-13.9 -38h1.4m-1.9 47h1.4m-4.9 -6h1.4m10.6 -3h1.4m-18.9 7h1.4m19.6 16h1.4m-17.9 -11h1.4m-0.4 -24h1.4m10.1 -9.5h1.4m12.6 35h1.4m-22.4 -4h1.4m-2.4 -6.5h1.4m-1.9 -25h1.4m1.1 16h1.4m5.6 -19.5h1.4m-32.9 38h1.4m9.1 -33h1.4m32.6 23.5h1.4m-30.9 0h1.4m18.1 11h1.4m2.1 -3.5h1.4m-13.4 -6h1.4m-20.9 -9.5h1.4m34.1 8.5h1.4m-0.9 2h1.4" fill="none" stroke="#ff0000" stroke-width="1.4"/>
<line x1="518.7" y1="1570.4" x2="518.7" y2="1854.2" stroke="#000" stroke-width="2.8"/>
<line x1="511.3" y1="1852.9" x2="802.2" y2="1852.9" stroke="#000" stroke-width="2.8"/>
<line x1="511.3" y1="1852.9" x2="518.7" y2="1852.9" stroke="#000" stroke-width="2.6"/>
<text x="507" y="1859.7"  text-anchor="end" style="font-size:19px;font-weight:bold">0</text>
<line x1="511.3" y1="1796.6" x2="518.7" y2="1796.6" stroke="#000" stroke-width="2.6"/>
<text x="507" y="1803.4"  text-anchor="end" style="font-size:19px;font-weight:bold">2</text>
<line x1="511.3" y1="1740.3" x2="518.7" y2="1740.3" stroke="#000" stroke-width="2.6"/>
<text x="507" y="1747.1"  text-anchor="end" style="font-size:19px;font-weight:bold">4</text>
<line x1="511.3" y1="1684" x2="518.7" y2="1684" stroke="#000" stroke-width="2.6"/>
<text x="507" y="1690.8"  text-anchor="end" style="font-size:19px;font-weight:bold">6</text>
<line x1="511.3" y1="1627.7" x2="518.7" y2="1627.7" stroke="#000" stroke-width="2.6"/>
<text x="507" y="1634.5"  text-anchor="end" style="font-size:19px;font-weight:bold">8</text>
<line x1="511.3" y1="1571.4" x2="518.7" y2="1571.4" stroke="#000" stroke-width="2.6"/>
<text x="507" y="1578.2"  text-anchor="end" style="font-size:19px;font-weight:bold">10</text>
<line x1="599" y1="1852.9" x2="599" y2="1859.3" stroke="#000" stroke-width="2.8"/>
<line x1="719.4" y1="1852.9" x2="719.4" y2="1859.3" stroke="#000" stroke-width="2.8"/>
<line x1="599" y1="1676.7" x2="599" y2="1650.6" stroke="#000" stroke-width="2.6"/>
<line x1="579.4" y1="1650.6" x2="618.6" y2="1650.6" stroke="#000" stroke-width="2.6"/>
<rect x="561.7" y="1678.3" width="74.7" height="174.6" fill="#fefde0" stroke="#000" stroke-width="3.2"/>
<line x1="719.4" y1="1642.7" x2="719.4" y2="1605.5" stroke="#000" stroke-width="2.6"/>
<line x1="700" y1="1605.5" x2="738.8" y2="1605.5" stroke="#000" stroke-width="2.6"/>
<rect x="682.3" y="1644.3" width="73.7" height="208.6" fill="#c9ddf7" stroke="#000" stroke-width="3.2"/>
<path d="M599 1586V1574.1H720.4V1586" fill="none" stroke="#000" stroke-width="2.4"/>
<text x="660" y="1570.5"  text-anchor="middle" style="font-size:18px">ns.</text>
<text x="599" y="1879.6"  text-anchor="middle" style="font-size:17.4px;font-weight:bold">NDW</text>
<text x="719.4" y="1879.6"  text-anchor="middle" style="font-size:17.4px;font-weight:bold">DW</text>
<text x="0" y="0" transform="translate(453.5 1711) rotate(-90)" text-anchor="middle" style="font-size:19.6px;font-weight:bold">CD45<tspan dy="-8" style="font-size:13px">+</tspan><tspan dy="8"> cells</tspan></text>
<text x="0" y="0" transform="translate(478 1711) rotate(-90)" text-anchor="middle" style="font-size:19.5px;font-weight:bold">(percent of skin cells)</text>
<line x1="941.9" y1="1567.8" x2="941.9" y2="1852.7" stroke="#000" stroke-width="2.8"/>
<line x1="934.5" y1="1851.4" x2="1224.3" y2="1851.4" stroke="#000" stroke-width="2.8"/>
<line x1="934.5" y1="1851.4" x2="941.9" y2="1851.4" stroke="#000" stroke-width="2.6"/>
<text x="930.2" y="1858.2"  text-anchor="end" style="font-size:19px;font-weight:bold">0</text>
<line x1="934.5" y1="1780.8" x2="941.9" y2="1780.8" stroke="#000" stroke-width="2.6"/>
<text x="930.2" y="1787.6"  text-anchor="end" style="font-size:19px;font-weight:bold">5</text>
<line x1="934.5" y1="1710.2" x2="941.9" y2="1710.2" stroke="#000" stroke-width="2.6"/>
<text x="930.2" y="1717"  text-anchor="end" style="font-size:19px;font-weight:bold">10</text>
<line x1="934.5" y1="1639.6" x2="941.9" y2="1639.6" stroke="#000" stroke-width="2.6"/>
<text x="930.2" y="1646.4"  text-anchor="end" style="font-size:19px;font-weight:bold">15</text>
<line x1="934.5" y1="1569" x2="941.9" y2="1569" stroke="#000" stroke-width="2.6"/>
<text x="930.2" y="1575.8"  text-anchor="end" style="font-size:19px;font-weight:bold">20</text>
<line x1="1021.5" y1="1851.4" x2="1021.5" y2="1858" stroke="#000" stroke-width="2.8"/>
<line x1="1141.9" y1="1851.4" x2="1141.9" y2="1858" stroke="#000" stroke-width="2.8"/>
<line x1="1022" y1="1782.4" x2="1022" y2="1766.9" stroke="#000" stroke-width="2.6"/>
<line x1="1002.7" y1="1766.9" x2="1041.3" y2="1766.9" stroke="#000" stroke-width="2.6"/>
<rect x="984.9" y="1784" width="74.3" height="67.4" fill="#fefde0" stroke="#000" stroke-width="3.2"/>
<line x1="1142" y1="1655.4" x2="1142" y2="1639.5" stroke="#000" stroke-width="2.6"/>
<line x1="1122.7" y1="1639.5" x2="1161.3" y2="1639.5" stroke="#000" stroke-width="2.6"/>
<rect x="1104.9" y="1657" width="74.3" height="194.4" fill="#c9ddf7" stroke="#000" stroke-width="3.2"/>
<path d="M1021.5 1625.7V1613.4H1143.6V1625.7" fill="none" stroke="#000" stroke-width="2.4"/>
<text x="1090" y="1606"  text-anchor="middle" style="font-size:19px">**</text>
<text x="1021.8" y="1877.8"  text-anchor="middle" style="font-size:17.4px;font-weight:bold">NDW</text>
<text x="1142.4" y="1877.8"  text-anchor="middle" style="font-size:17.4px;font-weight:bold">DW</text>
<text x="0" y="0" transform="translate(876.7 1710) rotate(-90)" text-anchor="middle" style="font-size:19.6px;font-weight:bold">CD11b<tspan dy="-8" style="font-size:13px">+</tspan><tspan dy="8"> cells</tspan></text>
<text x="0" y="0" transform="translate(901 1709.6) rotate(-90)" text-anchor="middle" style="font-size:19.7px;font-weight:bold">(percent of CD45+)</text>
<line x1="1343" y1="1571.5" x2="1343" y2="1856.8" stroke="#000" stroke-width="2.8"/>
<line x1="1333.1" y1="1855.5" x2="1626.5" y2="1855.5" stroke="#000" stroke-width="2.8"/>
<line x1="1333.1" y1="1855.5" x2="1343" y2="1855.5" stroke="#000" stroke-width="2.6"/>
<text x="1329.2" y="1862.3"  text-anchor="end" style="font-size:19px;font-weight:bold">0</text>
<line x1="1333.1" y1="1761.2" x2="1343" y2="1761.2" stroke="#000" stroke-width="2.6"/>
<text x="1329.2" y="1768"  text-anchor="end" style="font-size:19px;font-weight:bold">5</text>
<line x1="1333.1" y1="1666.9" x2="1343" y2="1666.9" stroke="#000" stroke-width="2.6"/>
<text x="1329.2" y="1673.7"  text-anchor="end" style="font-size:19px;font-weight:bold">10</text>
<line x1="1333.1" y1="1572.6" x2="1343" y2="1572.6" stroke="#000" stroke-width="2.6"/>
<text x="1329.2" y="1579.4"  text-anchor="end" style="font-size:19px;font-weight:bold">15</text>
<line x1="1484.2" y1="1855.5" x2="1484.2" y2="1866.5" stroke="#000" stroke-width="2.2"/>
<line x1="1423.5" y1="1813.5" x2="1423.5" y2="1803.8" stroke="#000" stroke-width="2.6"/>
<line x1="1403.8" y1="1803.8" x2="1443.2" y2="1803.8" stroke="#000" stroke-width="2.6"/>
<rect x="1385.9" y="1815.1" width="74.9" height="40.4" fill="#fefde0" stroke="#000" stroke-width="3.2"/>
<line x1="1545" y1="1634.7" x2="1545" y2="1611.7" stroke="#000" stroke-width="2.6"/>
<line x1="1525.5" y1="1611.7" x2="1564.5" y2="1611.7" stroke="#000" stroke-width="2.6"/>
<rect x="1508.3" y="1636.3" width="73.7" height="219.2" fill="#c9ddf7" stroke="#000" stroke-width="3.2"/>
<path d="M1414.1 1604.6V1593.1H1545.5V1604.6" fill="none" stroke="#000" stroke-width="2.4"/>
<text x="1476.8" y="1592"  text-anchor="middle" style="font-size:19px">**</text>
<text x="1484.4" y="1885.2"  text-anchor="middle" style="font-size:17.6px;font-weight:bold">CD86<tspan dy="-8" style="font-size:13px">+</tspan></text>
<rect x="1577.5" y="1553.2" width="22" height="9.5" fill="#fefde0" stroke="#000" stroke-width="3.2"/>
<text x="1616.2" y="1565.6"  style="font-size:21px">NDW</text>
<rect x="1577.5" y="1585.2" width="22" height="9.5" fill="#c9ddf7" stroke="#000" stroke-width="3.2"/>
<text x="1616.2" y="1597.6"  style="font-size:21px">DW</text>
<text x="0" y="0" transform="translate(1276 1714) rotate(-90)" text-anchor="middle" style="font-size:16px;font-weight:bold">CD86<tspan dy="-6" style="font-size:11px">+</tspan><tspan dy="6"> cells</tspan></text>
<text x="0" y="0" transform="translate(1300.6 1714) rotate(-90)" text-anchor="middle" style="font-size:15.9px;font-weight:bold">(percent of CD45<tspan dy="-6" style="font-size:11px">+</tspan><tspan dy="6">CD11b</tspan><tspan dy="-6" style="font-size:11px">+</tspan><tspan dy="6"> cells)</tspan></text></svg></body></html>
